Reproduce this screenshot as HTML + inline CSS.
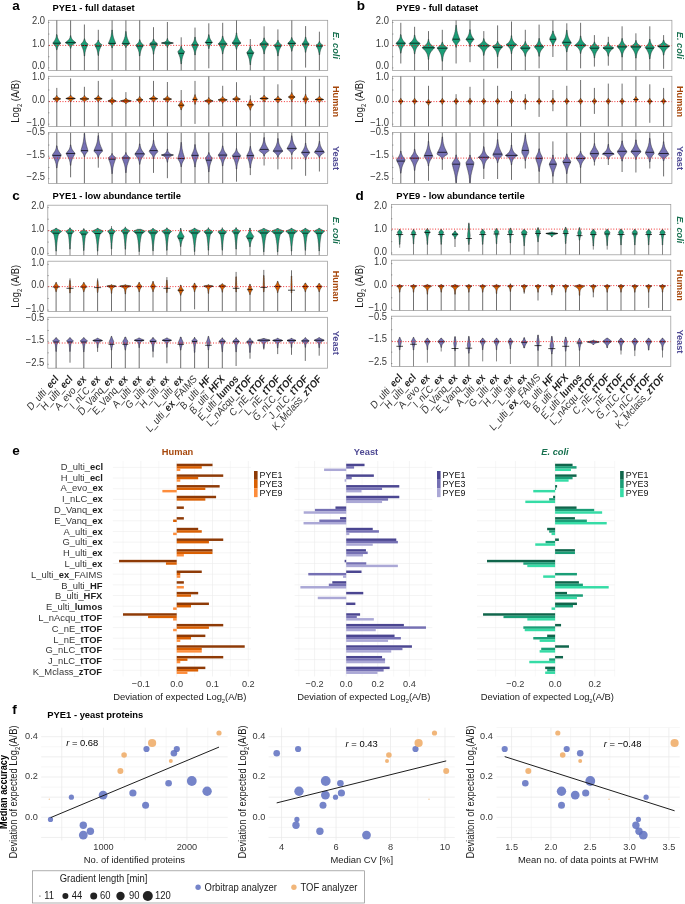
<!DOCTYPE html>
<html><head><meta charset="utf-8"><style>
html,body{margin:0;padding:0;background:#fff;}
svg text{font-family:"Liberation Sans", sans-serif;}
.md{stroke:#000;stroke-width:0.7;fill:none}
.tl{stroke:#222;stroke-width:0.65;fill:none}
.tl2{stroke:#555;stroke-width:0.7;fill:none}
</style></head><body>
<svg width="685" height="904" viewBox="0 0 685 904" style="display:block;will-change:transform">
<rect width="685" height="904" fill="#fff"/>
<rect x="48.5" y="20.3" width="279.20" height="50.20" fill="none" stroke="#9a9a9a" stroke-width="0.75"/>
<clipPath id="c140590430260032"><rect x="48.5" y="20.3" width="279.2" height="50.2"/></clipPath>
<g clip-path="url(#c140590430260032)" stroke="#2a2a2a" stroke-width="0.5" stroke-linejoin="round">
<path d="M56.8 20.3V70.5" class="tl"/>
<path d="M57.0 34.6L57.1 35.0L57.2 35.5L57.2 35.9L57.3 36.4L57.4 36.8L57.5 37.3L57.6 37.7L57.8 38.2L58.0 38.6L58.2 39.1L58.4 39.5L58.6 40.0L58.9 40.4L59.2 40.9L59.5 41.3L59.8 41.8L60.1 42.2L60.4 42.7L60.7 43.1L60.4 43.6L60.0 44.0L59.6 44.5L59.2 44.9L58.8 45.4L58.5 45.8L58.2 46.3L57.9 46.7L57.7 47.2L57.5 47.6L57.4 48.1L57.3 48.5L57.2 49.0L57.1 49.4L57.0 49.8L56.6 49.8L56.5 49.4L56.4 49.0L56.3 48.5L56.2 48.1L56.1 47.6L55.9 47.2L55.7 46.7L55.4 46.3L55.1 45.8L54.8 45.4L54.4 44.9L54.0 44.5L53.6 44.0L53.2 43.6L52.9 43.1L53.1 42.7L53.5 42.2L53.8 41.8L54.1 41.3L54.4 40.9L54.7 40.4L55.0 40.0L55.2 39.5L55.4 39.1L55.6 38.6L55.8 38.2L55.9 37.7L56.1 37.3L56.2 36.8L56.3 36.4L56.4 35.9L56.4 35.5L56.5 35.0L56.5 34.6Z" fill="#1B9E77"/>
<path d="M52.9 43.2H60.7" class="md"/>
<path d="M70.6 20.3V70.5" class="tl"/>
<path d="M70.9 35.7L70.9 36.1L71.0 36.6L71.1 37.0L71.2 37.5L71.4 37.9L71.6 38.4L71.9 38.8L72.2 39.3L72.5 39.7L72.9 40.2L73.4 40.6L73.9 41.1L74.5 41.5L75.1 42.0L75.6 42.4L75.6 42.9L74.9 43.3L74.2 43.8L73.5 44.2L72.9 44.7L72.4 45.1L72.0 45.6L71.7 46.0L71.4 46.5L71.2 46.9L71.1 47.4L70.9 47.8L70.9 48.3L70.9 48.3L70.4 48.3L70.4 48.3L70.3 47.8L70.2 47.4L70.0 46.9L69.8 46.5L69.6 46.0L69.2 45.6L68.8 45.1L68.3 44.7L67.7 44.2L67.0 43.8L66.3 43.3L65.6 42.9L65.6 42.4L66.2 42.0L66.7 41.5L67.3 41.1L67.8 40.6L68.3 40.2L68.7 39.7L69.1 39.3L69.4 38.8L69.6 38.4L69.8 37.9L70.0 37.5L70.1 37.0L70.2 36.6L70.3 36.1L70.4 35.7Z" fill="#1B9E77"/>
<path d="M65.4 42.7H75.8" class="md"/>
<path d="M84.4 24.5V70.5" class="tl"/>
<path d="M84.7 38.8L84.8 39.2L84.9 39.7L85.0 40.1L85.2 40.6L85.4 41.0L85.6 41.5L86.0 41.9L86.3 42.4L86.7 42.8L87.2 43.3L87.7 43.7L88.0 44.2L87.9 44.6L87.7 45.1L87.5 45.5L87.3 46.0L87.1 46.4L86.9 46.9L86.6 47.3L86.5 47.8L86.3 48.2L86.1 48.7L85.9 49.1L85.8 49.6L85.6 50.0L85.5 50.5L85.4 51.0L85.3 51.4L85.2 51.9L85.1 52.3L85.0 52.8L85.0 53.2L84.9 53.7L84.9 54.1L84.8 54.6L84.8 55.0L84.7 55.5L84.7 55.9L84.7 56.0L84.2 56.0L84.2 55.9L84.2 55.5L84.1 55.0L84.1 54.6L84.0 54.1L84.0 53.7L83.9 53.2L83.8 52.8L83.8 52.3L83.7 51.9L83.6 51.4L83.5 51.0L83.4 50.5L83.2 50.0L83.1 49.6L82.9 49.1L82.8 48.7L82.6 48.2L82.4 47.8L82.2 47.3L82.0 46.9L81.8 46.4L81.6 46.0L81.4 45.5L81.2 45.1L81.0 44.6L80.8 44.2L81.2 43.7L81.7 43.3L82.1 42.8L82.5 42.4L82.9 41.9L83.2 41.5L83.5 41.0L83.7 40.6L83.9 40.1L84.0 39.7L84.1 39.2L84.2 38.8Z" fill="#1B9E77"/>
<path d="M81.4 45.5H87.5" class="md"/>
<path d="M98.3 29.8V70.5" class="tl"/>
<path d="M98.5 40.1L98.6 40.5L98.7 41.0L98.9 41.4L99.1 41.9L99.4 42.3L99.7 42.8L100.2 43.2L100.7 43.7L101.3 44.1L101.8 44.6L101.7 45.0L101.5 45.5L101.3 45.9L101.1 46.4L100.8 46.8L100.6 47.3L100.4 47.7L100.2 48.2L100.0 48.6L99.8 49.1L99.6 49.5L99.5 50.0L99.4 50.5L99.2 50.9L99.1 51.4L99.0 51.8L98.9 52.3L98.8 52.7L98.8 53.2L98.7 53.6L98.6 54.1L98.6 54.5L98.5 55.0L98.5 55.4L98.5 55.5L98.0 55.5L98.0 55.4L98.0 55.0L97.9 54.5L97.9 54.1L97.8 53.6L97.8 53.2L97.7 52.7L97.6 52.3L97.5 51.8L97.4 51.4L97.3 50.9L97.2 50.5L97.0 50.0L96.9 49.5L96.7 49.1L96.5 48.6L96.3 48.2L96.1 47.7L95.9 47.3L95.7 46.8L95.4 46.4L95.2 45.9L95.0 45.5L94.8 45.0L94.7 44.6L95.2 44.1L95.8 43.7L96.3 43.2L96.8 42.8L97.1 42.3L97.4 41.9L97.7 41.4L97.8 41.0L97.9 40.5L98.0 40.1Z" fill="#1B9E77"/>
<path d="M95.2 46.0H101.3" class="md"/>
<path d="M112.1 20.3V70.5" class="tl"/>
<path d="M112.3 30.0L112.4 30.4L112.4 30.9L112.4 31.3L112.5 31.8L112.5 32.2L112.6 32.7L112.6 33.1L112.7 33.6L112.7 34.0L112.8 34.5L112.9 34.9L113.0 35.4L113.1 35.8L113.2 36.3L113.3 36.7L113.4 37.2L113.5 37.6L113.7 38.1L113.8 38.5L114.0 39.0L114.2 39.4L114.3 39.9L114.5 40.3L114.7 40.8L114.9 41.2L115.1 41.7L115.3 42.1L115.4 42.6L115.6 43.0L115.6 43.5L115.1 43.9L114.5 44.4L114.0 44.8L113.6 45.3L113.2 45.7L112.9 46.2L112.7 46.6L112.5 47.1L112.4 47.5L112.3 48.0L112.3 48.0L111.9 48.0L111.9 48.0L111.8 47.5L111.6 47.1L111.5 46.6L111.3 46.2L111.0 45.7L110.6 45.3L110.2 44.8L109.6 44.4L109.1 43.9L108.5 43.5L108.6 43.0L108.7 42.6L108.9 42.1L109.1 41.7L109.3 41.2L109.5 40.8L109.7 40.3L109.8 39.9L110.0 39.4L110.2 39.0L110.3 38.5L110.5 38.1L110.6 37.6L110.7 37.2L110.9 36.7L111.0 36.3L111.1 35.8L111.2 35.4L111.3 34.9L111.3 34.5L111.4 34.0L111.5 33.6L111.5 33.1L111.6 32.7L111.7 32.2L111.7 31.8L111.7 31.3L111.8 30.9L111.8 30.4L111.8 30.0Z" fill="#1B9E77"/>
<path d="M108.5 43.4H115.7" class="md"/>
<path d="M125.9 20.3V70.5" class="tl"/>
<path d="M126.1 31.5L126.2 31.9L126.2 32.4L126.3 32.8L126.3 33.3L126.4 33.7L126.4 34.2L126.5 34.6L126.6 35.1L126.6 35.5L126.7 36.0L126.8 36.4L126.9 36.9L127.1 37.3L127.2 37.8L127.3 38.2L127.5 38.7L127.7 39.1L127.9 39.6L128.0 40.0L128.2 40.5L128.5 40.9L128.7 41.4L128.9 41.8L129.1 42.3L129.3 42.7L129.5 43.2L129.7 43.6L129.2 44.1L128.5 44.5L127.8 45.0L127.3 45.4L126.9 45.9L126.6 46.3L126.3 46.8L126.2 47.2L126.1 47.5L125.7 47.5L125.6 47.2L125.5 46.8L125.2 46.3L124.9 45.9L124.5 45.4L124.0 45.0L123.4 44.5L122.6 44.1L122.1 43.6L122.3 43.2L122.5 42.7L122.7 42.3L122.9 41.8L123.1 41.4L123.3 40.9L123.6 40.5L123.8 40.0L124.0 39.6L124.1 39.1L124.3 38.7L124.5 38.2L124.6 37.8L124.7 37.3L124.9 36.9L125.0 36.4L125.1 36.0L125.2 35.5L125.2 35.1L125.3 34.6L125.4 34.2L125.4 33.7L125.5 33.3L125.5 32.8L125.6 32.4L125.6 31.9L125.7 31.5Z" fill="#1B9E77"/>
<path d="M122.1 43.7H129.7" class="md"/>
<path d="M139.7 20.3V70.5" class="tl"/>
<path d="M140.0 39.7L140.0 40.1L140.2 40.6L140.3 41.0L140.5 41.5L140.7 41.9L141.0 42.4L141.3 42.8L141.7 43.3L142.1 43.7L142.6 44.2L143.1 44.6L143.5 45.1L143.4 45.5L143.1 46.0L142.9 46.4L142.6 46.9L142.4 47.3L142.1 47.8L141.9 48.2L141.7 48.7L141.5 49.1L141.3 49.6L141.1 50.0L141.0 50.5L140.8 50.9L140.7 51.4L140.6 51.9L140.5 52.3L140.4 52.8L140.3 53.2L140.2 53.7L140.2 54.1L140.1 54.6L140.0 55.0L140.0 55.5L140.0 55.9L140.0 55.9L139.5 55.9L139.5 55.9L139.4 55.5L139.4 55.0L139.3 54.6L139.3 54.1L139.2 53.7L139.2 53.2L139.1 52.8L139.0 52.3L138.9 51.9L138.8 51.4L138.6 50.9L138.5 50.5L138.3 50.0L138.2 49.6L138.0 49.1L137.8 48.7L137.5 48.2L137.3 47.8L137.1 47.3L136.8 46.9L136.6 46.4L136.3 46.0L136.1 45.5L135.9 45.1L136.3 44.6L136.8 44.2L137.3 43.7L137.8 43.3L138.2 42.8L138.5 42.4L138.8 41.9L139.0 41.5L139.2 41.0L139.3 40.6L139.4 40.1L139.5 39.7Z" fill="#1B9E77"/>
<path d="M136.3 46.0H143.1" class="md"/>
<path d="M153.5 27.2V70.5" class="tl"/>
<path d="M153.8 39.0L153.9 39.4L154.0 39.9L154.1 40.3L154.4 40.8L154.7 41.2L155.0 41.7L155.5 42.1L156.0 42.6L156.6 43.0L157.2 43.5L157.4 43.9L157.2 44.4L156.9 44.8L156.7 45.3L156.4 45.7L156.1 46.2L155.9 46.6L155.6 47.1L155.4 47.5L155.2 48.0L155.0 48.4L154.8 48.9L154.7 49.3L154.5 49.8L154.4 50.2L154.3 50.7L154.2 51.2L154.1 51.6L154.0 52.1L154.0 52.5L153.9 53.0L153.9 53.4L153.8 53.9L153.8 54.2L153.3 54.2L153.3 53.9L153.2 53.4L153.2 53.0L153.1 52.5L153.1 52.1L153.0 51.6L152.9 51.2L152.8 50.7L152.7 50.2L152.6 49.8L152.4 49.3L152.3 48.9L152.1 48.4L151.9 48.0L151.7 47.5L151.5 47.1L151.2 46.6L151.0 46.2L150.7 45.7L150.4 45.3L150.2 44.8L149.9 44.4L149.7 43.9L149.9 43.5L150.5 43.0L151.1 42.6L151.6 42.1L152.1 41.7L152.4 41.2L152.7 40.8L152.9 40.3L153.1 39.9L153.2 39.4L153.3 39.0Z" fill="#1B9E77"/>
<path d="M149.8 44.1H157.3" class="md"/>
<path d="M167.4 22.0V70.5" class="tl"/>
<path d="M167.6 38.6L167.7 39.0L167.8 39.5L167.9 39.9L168.2 40.4L168.5 40.8L168.9 41.3L169.5 41.7L170.4 42.2L171.8 42.6L172.9 43.1L171.1 43.5L170.0 44.0L169.2 44.4L168.7 44.9L168.3 45.3L168.1 45.8L167.9 46.2L167.7 46.7L167.6 47.1L167.6 47.4L167.1 47.4L167.1 47.1L167.0 46.7L166.9 46.2L166.7 45.8L166.4 45.3L166.0 44.9L165.5 44.4L164.8 44.0L163.6 43.5L161.8 43.1L162.9 42.6L164.3 42.2L165.2 41.7L165.8 41.3L166.3 40.8L166.6 40.4L166.8 39.9L166.9 39.5L167.1 39.0L167.1 38.6Z" fill="#1B9E77"/>
<path d="M161.2 43.0H173.6" class="md"/>
<path d="M181.2 37.3V70.5" class="tl"/>
<path d="M181.4 46.3L181.5 46.7L181.6 47.2L181.7 47.6L181.9 48.1L182.1 48.5L182.4 49.0L182.7 49.4L183.0 49.9L183.4 50.3L183.8 50.8L184.3 51.2L184.6 51.7L184.5 52.1L184.3 52.6L184.1 53.0L183.9 53.5L183.7 53.9L183.5 54.4L183.4 54.8L183.2 55.3L183.0 55.7L182.8 56.2L182.7 56.6L182.6 57.1L182.4 57.5L182.3 58.0L182.2 58.5L182.1 58.9L182.0 59.4L181.9 59.8L181.8 60.3L181.8 60.7L181.7 61.2L181.6 61.6L181.6 62.1L181.6 62.5L181.5 63.0L181.5 63.4L181.4 63.9L181.4 63.9L180.9 63.9L180.9 63.9L180.9 63.4L180.9 63.0L180.8 62.5L180.8 62.1L180.7 61.6L180.7 61.2L180.6 60.7L180.5 60.3L180.5 59.8L180.4 59.4L180.3 58.9L180.2 58.5L180.1 58.0L180.0 57.5L179.8 57.1L179.7 56.6L179.5 56.2L179.4 55.7L179.2 55.3L179.0 54.8L178.8 54.4L178.6 53.9L178.5 53.5L178.3 53.0L178.1 52.6L177.9 52.1L177.8 51.7L178.1 51.2L178.6 50.8L179.0 50.3L179.4 49.9L179.7 49.4L180.0 49.0L180.3 48.5L180.5 48.1L180.6 47.6L180.8 47.2L180.9 46.7L180.9 46.3Z" fill="#1B9E77"/>
<path d="M178.4 53.3H184.0" class="md"/>
<path d="M195.0 27.6V70.5" class="tl"/>
<path d="M195.3 37.2L195.3 37.6L195.4 38.1L195.4 38.5L195.5 39.0L195.6 39.4L195.7 39.9L195.9 40.3L196.0 40.8L196.2 41.2L196.4 41.7L196.7 42.1L196.9 42.6L197.2 43.0L197.5 43.5L197.8 43.9L198.1 44.4L198.4 44.8L198.3 45.3L198.1 45.7L197.9 46.2L197.6 46.6L197.4 47.1L197.2 47.5L197.0 48.0L196.7 48.4L196.6 48.9L196.4 49.3L196.2 49.8L196.1 50.2L195.9 50.7L195.8 51.1L195.7 51.6L195.6 52.0L195.6 52.5L195.5 52.9L195.4 53.4L195.4 53.8L195.3 54.3L195.3 54.8L195.2 55.0L194.8 55.0L194.8 54.8L194.7 54.3L194.7 53.8L194.6 53.4L194.5 52.9L194.5 52.5L194.4 52.0L194.3 51.6L194.2 51.1L194.1 50.7L193.9 50.2L193.8 49.8L193.6 49.3L193.5 48.9L193.3 48.4L193.1 48.0L192.8 47.5L192.6 47.1L192.4 46.6L192.1 46.2L191.9 45.7L191.7 45.3L191.7 44.8L191.9 44.4L192.2 43.9L192.5 43.5L192.8 43.0L193.1 42.6L193.3 42.1L193.6 41.7L193.8 41.2L194.0 40.8L194.1 40.3L194.3 39.9L194.4 39.4L194.5 39.0L194.6 38.5L194.7 38.1L194.7 37.6L194.8 37.2Z" fill="#1B9E77"/>
<path d="M191.6 45.0H198.4" class="md"/>
<path d="M208.8 23.3V68.3" class="tl"/>
<path d="M209.1 34.7L209.1 35.1L209.2 35.6L209.3 36.0L209.4 36.5L209.5 36.9L209.6 37.4L209.7 37.8L209.9 38.3L210.1 38.7L210.3 39.2L210.5 39.6L210.8 40.1L211.1 40.5L211.4 41.0L211.7 41.4L212.0 41.9L212.3 42.3L212.1 42.8L211.7 43.2L211.3 43.7L210.9 44.1L210.6 44.6L210.3 45.0L210.0 45.5L209.8 45.9L209.6 46.4L209.4 46.8L209.3 47.3L209.2 47.7L209.1 48.2L209.1 48.5L208.6 48.5L208.6 48.2L208.5 47.7L208.4 47.3L208.3 46.8L208.1 46.4L207.9 45.9L207.7 45.5L207.4 45.0L207.1 44.6L206.7 44.1L206.3 43.7L205.9 43.2L205.5 42.8L205.4 42.3L205.7 41.9L206.0 41.4L206.3 41.0L206.6 40.5L206.9 40.1L207.1 39.6L207.4 39.2L207.6 38.7L207.8 38.3L207.9 37.8L208.1 37.4L208.2 36.9L208.3 36.5L208.4 36.0L208.5 35.6L208.5 35.1L208.6 34.7Z" fill="#1B9E77"/>
<path d="M205.3 42.5H212.3" class="md"/>
<path d="M222.7 22.8V70.5" class="tl"/>
<path d="M222.9 36.0L222.9 36.4L223.0 36.9L223.1 37.3L223.2 37.8L223.3 38.2L223.5 38.7L223.6 39.1L223.8 39.6L224.0 40.0L224.3 40.5L224.6 40.9L224.9 41.4L225.3 41.8L225.7 42.3L226.1 42.7L226.5 43.2L226.9 43.6L226.8 44.1L226.6 44.5L226.3 45.0L225.9 45.4L225.6 45.9L225.3 46.3L225.1 46.8L224.8 47.2L224.6 47.7L224.3 48.1L224.1 48.6L223.9 49.0L223.8 49.5L223.6 49.9L223.5 50.4L223.4 50.8L223.3 51.3L223.2 51.7L223.1 52.2L223.1 52.6L223.0 53.1L222.9 53.5L222.9 54.0L222.9 54.0L222.4 54.0L222.4 54.0L222.4 53.5L222.3 53.1L222.3 52.6L222.2 52.2L222.1 51.7L222.0 51.3L221.9 50.8L221.8 50.4L221.7 49.9L221.5 49.5L221.4 49.0L221.2 48.6L221.0 48.1L220.8 47.7L220.5 47.2L220.2 46.8L220.0 46.3L219.7 45.9L219.4 45.4L219.1 45.0L218.7 44.5L218.5 44.1L218.4 43.6L218.8 43.2L219.2 42.7L219.6 42.3L220.0 41.8L220.4 41.4L220.7 40.9L221.0 40.5L221.3 40.0L221.5 39.6L221.7 39.1L221.9 38.7L222.0 38.2L222.1 37.8L222.2 37.3L222.3 36.9L222.4 36.4L222.4 36.0Z" fill="#1B9E77"/>
<path d="M218.4 44.0H226.9" class="md"/>
<path d="M236.5 20.3V70.5" class="tl"/>
<path d="M236.7 32.9L236.8 33.3L236.8 33.8L236.9 34.2L236.9 34.7L237.0 35.1L237.1 35.6L237.2 36.0L237.3 36.5L237.5 36.9L237.6 37.4L237.8 37.8L238.0 38.3L238.2 38.7L238.4 39.2L238.6 39.6L238.9 40.1L239.2 40.5L239.5 41.0L239.8 41.4L240.1 41.9L240.4 42.3L240.7 42.8L240.7 43.2L240.2 43.7L239.7 44.1L239.2 44.6L238.7 45.0L238.3 45.5L237.9 45.9L237.6 46.4L237.4 46.8L237.2 47.3L237.0 47.7L236.9 48.2L236.8 48.6L236.7 49.1L236.7 49.3L236.3 49.3L236.2 49.1L236.1 48.6L236.0 48.2L235.9 47.7L235.8 47.3L235.6 46.8L235.3 46.4L235.0 45.9L234.7 45.5L234.2 45.0L233.8 44.6L233.3 44.1L232.7 43.7L232.3 43.2L232.3 42.8L232.6 42.3L232.9 41.9L233.2 41.4L233.5 41.0L233.8 40.5L234.1 40.1L234.3 39.6L234.6 39.2L234.8 38.7L235.0 38.3L235.2 37.8L235.3 37.4L235.5 36.9L235.6 36.5L235.7 36.0L235.8 35.6L235.9 35.1L236.0 34.7L236.1 34.2L236.1 33.8L236.2 33.3L236.2 32.9Z" fill="#1B9E77"/>
<path d="M232.2 43.1H240.8" class="md"/>
<path d="M250.3 39.0V70.5" class="tl"/>
<path d="M250.5 46.2L250.6 46.6L250.7 47.1L250.8 47.5L250.9 48.0L251.1 48.4L251.2 48.9L251.4 49.3L251.7 49.8L252.0 50.2L252.3 50.7L252.7 51.1L253.0 51.6L253.4 52.0L253.8 52.5L253.7 52.9L253.5 53.4L253.3 53.8L253.1 54.3L252.9 54.7L252.7 55.2L252.6 55.6L252.4 56.1L252.2 56.5L252.0 57.0L251.9 57.4L251.7 57.9L251.6 58.3L251.5 58.8L251.3 59.2L251.2 59.7L251.1 60.1L251.1 60.6L251.0 61.1L250.9 61.5L250.8 62.0L250.8 62.4L250.7 62.9L250.7 63.3L250.6 63.8L250.6 64.2L250.6 64.7L250.5 64.8L250.1 64.8L250.0 64.7L250.0 64.2L250.0 63.8L249.9 63.3L249.9 62.9L249.8 62.4L249.8 62.0L249.7 61.5L249.6 61.1L249.5 60.6L249.5 60.1L249.4 59.7L249.3 59.2L249.1 58.8L249.0 58.3L248.9 57.9L248.7 57.4L248.6 57.0L248.4 56.5L248.2 56.1L248.0 55.6L247.8 55.2L247.6 54.7L247.4 54.3L247.2 53.8L247.1 53.4L246.9 52.9L246.8 52.5L247.2 52.0L247.5 51.6L247.9 51.1L248.3 50.7L248.6 50.2L248.9 49.8L249.2 49.3L249.4 48.9L249.5 48.4L249.7 48.0L249.8 47.5L249.9 47.1L250.0 46.6L250.1 46.2Z" fill="#1B9E77"/>
<path d="M247.0 53.2H253.6" class="md"/>
<path d="M264.1 26.3V70.5" class="tl"/>
<path d="M264.3 37.9L264.4 38.3L264.5 38.8L264.6 39.2L264.8 39.7L264.9 40.1L265.2 40.6L265.4 41.0L265.8 41.5L266.2 41.9L266.6 42.4L267.1 42.8L267.6 43.3L268.1 43.7L268.4 44.2L268.1 44.6L267.8 45.1L267.5 45.5L267.2 46.0L266.9 46.4L266.6 46.9L266.3 47.3L266.0 47.8L265.8 48.2L265.6 48.7L265.4 49.1L265.2 49.6L265.1 50.0L264.9 50.5L264.8 50.9L264.7 51.4L264.6 51.9L264.6 52.3L264.5 52.8L264.4 53.2L264.4 53.7L264.4 53.9L263.9 53.9L263.9 53.7L263.8 53.2L263.7 52.8L263.7 52.3L263.6 51.9L263.5 51.4L263.4 50.9L263.3 50.5L263.2 50.0L263.0 49.6L262.8 49.1L262.7 48.7L262.4 48.2L262.2 47.8L262.0 47.3L261.7 46.9L261.4 46.4L261.1 46.0L260.7 45.5L260.4 45.1L260.1 44.6L259.9 44.2L260.1 43.7L260.6 43.3L261.1 42.8L261.6 42.4L262.1 41.9L262.5 41.5L262.8 41.0L263.1 40.6L263.3 40.1L263.5 39.7L263.6 39.2L263.7 38.8L263.8 38.3L263.9 37.9Z" fill="#1B9E77"/>
<path d="M259.8 44.1H268.4" class="md"/>
<path d="M277.9 29.4V70.5" class="tl"/>
<path d="M278.2 40.3L278.3 40.7L278.4 41.2L278.5 41.6L278.8 42.1L279.0 42.5L279.4 43.0L279.8 43.4L280.3 43.9L280.9 44.3L281.5 44.8L281.7 45.2L281.5 45.7L281.3 46.1L281.0 46.6L280.8 47.0L280.5 47.5L280.3 47.9L280.0 48.4L279.8 48.8L279.6 49.3L279.5 49.7L279.3 50.2L279.1 50.6L279.0 51.1L278.9 51.6L278.8 52.0L278.7 52.5L278.6 52.9L278.5 53.4L278.4 53.8L278.4 54.3L278.3 54.7L278.3 55.2L278.2 55.6L278.2 55.9L277.7 55.9L277.7 55.6L277.6 55.2L277.6 54.7L277.5 54.3L277.5 53.8L277.4 53.4L277.3 52.9L277.2 52.5L277.1 52.0L277.0 51.6L276.9 51.1L276.8 50.6L276.6 50.2L276.4 49.7L276.2 49.3L276.0 48.8L275.8 48.4L275.6 47.9L275.4 47.5L275.1 47.0L274.9 46.6L274.6 46.1L274.4 45.7L274.2 45.2L274.4 44.8L275.0 44.3L275.6 43.9L276.1 43.4L276.5 43.0L276.8 42.5L277.1 42.1L277.3 41.6L277.5 41.2L277.6 40.7L277.7 40.3Z" fill="#1B9E77"/>
<path d="M274.5 46.0H281.3" class="md"/>
<path d="M291.8 20.3V70.5" class="tl"/>
<path d="M292.0 37.6L292.1 38.0L292.2 38.5L292.3 38.9L292.5 39.4L292.7 39.8L293.0 40.3L293.3 40.7L293.7 41.2L294.1 41.6L294.6 42.1L295.1 42.5L295.6 43.0L295.6 43.4L295.3 43.9L295.0 44.3L294.6 44.8L294.2 45.2L293.9 45.7L293.6 46.1L293.3 46.6L293.1 47.0L292.9 47.5L292.7 47.9L292.6 48.4L292.4 48.8L292.3 49.3L292.2 49.8L292.1 50.2L292.1 50.7L292.0 51.1L292.0 51.2L291.5 51.2L291.5 51.1L291.5 50.7L291.4 50.2L291.3 49.8L291.2 49.3L291.1 48.8L291.0 48.4L290.8 47.9L290.6 47.5L290.4 47.0L290.2 46.6L289.9 46.1L289.6 45.7L289.3 45.2L288.9 44.8L288.6 44.3L288.2 43.9L287.9 43.4L287.9 43.0L288.4 42.5L288.9 42.1L289.4 41.6L289.8 41.2L290.2 40.7L290.5 40.3L290.8 39.8L291.0 39.4L291.2 38.9L291.3 38.5L291.4 38.0L291.5 37.6Z" fill="#1B9E77"/>
<path d="M287.9 43.4H295.7" class="md"/>
<path d="M305.6 26.1V67.6" class="tl"/>
<path d="M305.8 37.1L305.9 37.5L306.0 38.0L306.1 38.4L306.2 38.9L306.3 39.3L306.4 39.8L306.6 40.2L306.8 40.7L307.1 41.1L307.3 41.6L307.6 42.0L308.0 42.5L308.3 42.9L308.7 43.4L309.0 43.8L309.0 44.3L308.8 44.7L308.5 45.2L308.2 45.6L307.9 46.1L307.6 46.5L307.3 47.0L307.1 47.4L306.9 47.9L306.7 48.3L306.6 48.8L306.4 49.2L306.3 49.7L306.2 50.1L306.1 50.6L306.0 51.0L305.9 51.5L305.9 51.9L305.8 52.3L305.3 52.3L305.3 51.9L305.2 51.5L305.2 51.0L305.1 50.6L305.0 50.1L304.9 49.7L304.8 49.2L304.6 48.8L304.5 48.3L304.3 47.9L304.1 47.4L303.8 47.0L303.6 46.5L303.3 46.1L303.0 45.6L302.7 45.2L302.4 44.7L302.2 44.3L302.2 43.8L302.5 43.4L302.9 42.9L303.2 42.5L303.5 42.0L303.8 41.6L304.1 41.1L304.3 40.7L304.5 40.2L304.7 39.8L304.9 39.3L305.0 38.9L305.1 38.4L305.2 38.0L305.3 37.5L305.3 37.1Z" fill="#1B9E77"/>
<path d="M302.1 44.1H309.1" class="md"/>
<path d="M319.4 31.7V70.5" class="tl"/>
<path d="M319.6 41.5L319.8 41.9L319.9 42.4L320.2 42.8L320.5 43.3L320.9 43.7L321.4 44.2L322.1 44.6L322.7 45.1L322.8 45.5L322.6 46.0L322.3 46.4L322.1 46.9L321.8 47.3L321.6 47.8L321.3 48.2L321.1 48.7L320.9 49.1L320.7 49.6L320.6 50.0L320.4 50.5L320.3 51.0L320.2 51.4L320.1 51.9L320.0 52.3L319.9 52.8L319.8 53.2L319.8 53.7L319.7 54.1L319.7 54.6L319.7 54.7L319.2 54.7L319.1 54.6L319.1 54.1L319.1 53.7L319.0 53.2L318.9 52.8L318.8 52.3L318.7 51.9L318.6 51.4L318.5 51.0L318.4 50.5L318.2 50.0L318.1 49.6L317.9 49.1L317.7 48.7L317.5 48.2L317.2 47.8L317.0 47.3L316.7 46.9L316.5 46.4L316.2 46.0L316.0 45.5L316.1 45.1L316.7 44.6L317.4 44.2L317.9 43.7L318.3 43.3L318.6 42.8L318.9 42.4L319.1 41.9L319.2 41.5Z" fill="#1B9E77"/>
<path d="M316.2 46.0H322.6" class="md"/>
</g>
<line x1="49.0" y1="45.4" x2="327.2" y2="45.4" stroke="#f01818" stroke-width="0.95" stroke-dasharray="0.95 1.75"/>
<text transform="translate(45.00,24.00) scale(1,1.09)" text-anchor="end" fill="#383838" style="font-size:9.4px;" >2.0</text>
<text transform="translate(45.00,47.10) scale(1,1.09)" text-anchor="end" fill="#383838" style="font-size:9.4px;" >1.0</text>
<text transform="translate(45.00,69.40) scale(1,1.09)" text-anchor="end" fill="#383838" style="font-size:9.4px;" >0.0</text>
<line x1="48.3" y1="22.50" x2="49.4" y2="22.50" stroke="#555" stroke-width="0.6"/>
<line x1="48.3" y1="34.05" x2="49.4" y2="34.05" stroke="#555" stroke-width="0.6"/>
<line x1="48.3" y1="45.60" x2="49.4" y2="45.60" stroke="#555" stroke-width="0.6"/>
<line x1="48.3" y1="56.75" x2="49.4" y2="56.75" stroke="#555" stroke-width="0.6"/>
<line x1="48.3" y1="67.90" x2="49.4" y2="67.90" stroke="#555" stroke-width="0.6"/>
<text transform="translate(333.20,45.40) rotate(90) scale(1,1.06)" text-anchor="middle" fill="#17704F" style="font-size:9.2px;font-weight:bold;font-style:italic;">E. coli</text>
<rect x="48.5" y="76.3" width="279.20" height="50.30" fill="none" stroke="#9a9a9a" stroke-width="0.75"/>
<clipPath id="c140590430260160"><rect x="48.5" y="76.3" width="279.2" height="50.3"/></clipPath>
<g clip-path="url(#c140590430260160)" stroke="#2a2a2a" stroke-width="0.5" stroke-linejoin="round">
<path d="M56.8 87.9V126.6" class="tl"/>
<path d="M57.0 95.5L57.1 95.9L57.3 96.4L57.7 96.8L58.1 97.3L58.7 97.7L59.5 98.2L60.3 98.6L60.4 99.1L59.6 99.5L58.8 100.0L58.2 100.4L57.7 100.9L57.4 101.3L57.2 101.8L57.0 102.2L57.0 102.3L56.6 102.3L56.6 102.2L56.4 101.8L56.2 101.3L55.9 100.9L55.4 100.4L54.8 100.0L54.0 99.5L53.2 99.1L53.3 98.6L54.1 98.2L54.9 97.7L55.5 97.3L55.9 96.8L56.2 96.4L56.4 95.9L56.6 95.5Z" fill="#D95F02"/>
<path d="M52.9 98.9H60.7" class="md"/>
<path d="M70.6 78.4V126.6" class="tl"/>
<path d="M70.8 95.1L71.0 95.5L71.2 96.0L71.5 96.4L72.1 96.9L72.8 97.3L73.8 97.8L74.9 98.2L75.0 98.7L73.9 99.1L72.9 99.6L72.2 100.0L71.6 100.5L71.2 100.9L71.0 101.4L70.8 101.8L70.8 101.9L70.4 101.9L70.4 101.8L70.2 101.4L70.0 100.9L69.6 100.5L69.1 100.0L68.3 99.6L67.3 99.1L66.2 98.7L66.3 98.2L67.4 97.8L68.4 97.3L69.2 96.9L69.7 96.4L70.0 96.0L70.3 95.5L70.4 95.1Z" fill="#D95F02"/>
<path d="M65.8 98.5H75.4" class="md"/>
<path d="M84.4 86.8V126.6" class="tl"/>
<path d="M84.6 95.5L84.8 95.9L85.0 96.4L85.3 96.8L85.9 97.3L86.6 97.7L87.5 98.2L88.5 98.6L88.6 99.1L87.6 99.5L86.6 100.0L85.9 100.4L85.4 100.9L85.0 101.3L84.8 101.8L84.7 102.2L84.6 102.3L84.2 102.3L84.2 102.2L84.1 101.8L83.8 101.3L83.5 100.9L83.0 100.4L82.2 100.0L81.3 99.5L80.3 99.1L80.4 98.6L81.4 98.2L82.3 97.7L83.0 97.3L83.5 96.8L83.9 96.4L84.1 95.9L84.2 95.5Z" fill="#D95F02"/>
<path d="M79.9 98.9H88.9" class="md"/>
<path d="M98.3 80.9V126.6" class="tl"/>
<path d="M98.5 95.3L98.6 95.7L98.8 96.2L99.1 96.6L99.6 97.1L100.2 97.5L100.9 98.0L101.8 98.4L101.9 98.9L101.0 99.3L100.3 99.8L99.6 100.2L99.2 100.7L98.8 101.1L98.6 101.6L98.5 102.0L98.5 102.1L98.0 102.1L98.0 102.0L97.9 101.6L97.7 101.1L97.4 100.7L96.9 100.2L96.3 99.8L95.5 99.3L94.6 98.9L94.7 98.4L95.6 98.0L96.3 97.5L97.0 97.1L97.4 96.6L97.7 96.2L97.9 95.7L98.0 95.3Z" fill="#D95F02"/>
<path d="M94.4 98.7H102.2" class="md"/>
<path d="M112.1 79.4V126.6" class="tl"/>
<path d="M112.3 97.6L112.4 98.0L112.6 98.5L113.0 98.9L113.4 99.4L114.1 99.8L114.9 100.3L115.9 100.7L116.0 101.2L115.0 101.6L114.2 102.1L113.5 102.5L113.0 103.0L112.7 103.4L112.4 103.9L112.3 104.3L112.3 104.4L111.9 104.4L111.9 104.3L111.7 103.9L111.5 103.4L111.1 103.0L110.7 102.5L110.0 102.1L109.1 101.6L108.2 101.2L108.3 100.7L109.2 100.3L110.1 99.8L110.7 99.4L111.2 98.9L111.5 98.5L111.7 98.0L111.9 97.6Z" fill="#D95F02"/>
<path d="M107.9 101.0H116.3" class="md"/>
<path d="M125.9 92.1V126.6" class="tl"/>
<path d="M126.1 98.2L126.3 98.6L126.7 99.1L127.3 99.5L128.3 100.0L129.7 100.4L131.2 100.9L130.4 101.3L128.9 101.8L127.7 102.2L127.0 102.7L126.5 103.1L126.2 103.6L126.1 103.8L125.7 103.8L125.6 103.6L125.3 103.1L124.8 102.7L124.1 102.2L122.9 101.8L121.5 101.3L120.6 100.9L122.1 100.4L123.5 100.0L124.5 99.5L125.1 99.1L125.5 98.6L125.7 98.2Z" fill="#D95F02"/>
<path d="M120.4 101.0H131.4" class="md"/>
<path d="M139.7 76.3V126.6" class="tl"/>
<path d="M139.9 96.5L140.1 96.9L140.3 97.4L140.5 97.8L140.9 98.3L141.4 98.7L142.1 99.2L142.7 99.6L142.8 100.1L142.1 100.5L141.5 101.0L141.0 101.4L140.6 101.9L140.3 102.3L140.1 102.8L140.0 103.2L139.9 103.3L139.5 103.3L139.5 103.2L139.4 102.8L139.2 102.3L138.9 101.9L138.5 101.4L138.0 101.0L137.3 100.5L136.6 100.1L136.7 99.6L137.4 99.2L138.0 98.7L138.5 98.3L138.9 97.8L139.2 97.4L139.4 96.9L139.5 96.5Z" fill="#D95F02"/>
<path d="M136.4 99.9H143.0" class="md"/>
<path d="M153.5 80.9V126.6" class="tl"/>
<path d="M153.8 95.3L153.9 95.7L154.1 96.2L154.4 96.6L154.9 97.1L155.6 97.5L156.4 98.0L157.3 98.4L157.4 98.9L156.5 99.3L155.6 99.8L155.0 100.2L154.5 100.7L154.1 101.1L153.9 101.6L153.8 102.0L153.8 102.1L153.3 102.1L153.3 102.0L153.2 101.6L153.0 101.1L152.6 100.7L152.1 100.2L151.4 99.8L150.6 99.3L149.7 98.9L149.7 98.4L150.7 98.0L151.5 97.5L152.2 97.1L152.7 96.6L153.0 96.2L153.2 95.7L153.3 95.3Z" fill="#D95F02"/>
<path d="M149.3 98.7H157.7" class="md"/>
<path d="M167.4 82.0V126.6" class="tl"/>
<path d="M167.6 95.7L167.7 96.1L167.9 96.6L168.3 97.0L168.7 97.5L169.4 97.9L170.2 98.4L171.2 98.8L171.3 99.3L170.3 99.7L169.5 100.2L168.8 100.6L168.3 101.1L168.0 101.5L167.7 102.0L167.6 102.4L167.6 102.5L167.2 102.5L167.1 102.4L167.0 102.0L166.8 101.5L166.4 101.1L165.9 100.6L165.3 100.2L164.4 99.7L163.5 99.3L163.6 98.8L164.5 98.4L165.4 97.9L166.0 97.5L166.5 97.0L166.8 96.6L167.0 96.1L167.2 95.7Z" fill="#D95F02"/>
<path d="M163.2 99.1H171.6" class="md"/>
<path d="M181.2 90.0V126.6" class="tl"/>
<path d="M181.4 100.4L181.5 100.8L181.6 101.3L181.8 101.7L181.9 102.2L182.1 102.6L182.4 103.1L182.7 103.5L183.1 104.0L183.5 104.4L183.9 104.9L184.0 105.3L183.6 105.8L183.2 106.2L182.9 106.7L182.5 107.1L182.2 107.6L182.0 108.0L181.8 108.5L181.7 108.9L181.5 109.4L181.4 109.8L181.4 110.0L181.0 110.0L180.9 109.8L180.8 109.4L180.7 108.9L180.6 108.5L180.4 108.0L180.1 107.6L179.9 107.1L179.5 106.7L179.1 106.2L178.7 105.8L178.4 105.3L178.5 104.9L178.9 104.4L179.3 104.0L179.6 103.5L180.0 103.1L180.2 102.6L180.4 102.2L180.6 101.7L180.8 101.3L180.9 100.8L181.0 100.4Z" fill="#D95F02"/>
<path d="M178.3 105.2H184.1" class="md"/>
<path d="M195.0 80.9V123.9" class="tl"/>
<path d="M195.3 94.7L195.3 95.1L195.4 95.6L195.5 96.0L195.7 96.5L195.9 96.9L196.1 97.4L196.3 97.8L196.6 98.3L196.9 98.7L197.2 99.2L197.3 99.6L197.0 100.1L196.7 100.5L196.4 101.0L196.2 101.4L195.9 101.9L195.7 102.3L195.6 102.8L195.5 103.2L195.4 103.7L195.3 104.1L195.3 104.3L194.8 104.3L194.7 104.1L194.7 103.7L194.6 103.2L194.4 102.8L194.3 102.3L194.1 101.9L193.9 101.4L193.6 101.0L193.3 100.5L193.0 100.1L192.8 99.6L192.8 99.2L193.1 98.7L193.4 98.3L193.7 97.8L193.9 97.4L194.2 96.9L194.3 96.5L194.5 96.0L194.6 95.6L194.7 95.1L194.8 94.7Z" fill="#D95F02"/>
<path d="M192.7 99.5H197.3" class="md"/>
<path d="M208.8 76.3V126.6" class="tl"/>
<path d="M209.0 97.6L209.2 98.0L209.4 98.5L209.7 98.9L210.2 99.4L210.9 99.8L211.7 100.3L212.7 100.7L212.8 101.2L211.9 101.6L211.0 102.1L210.3 102.5L209.8 103.0L209.4 103.4L209.2 103.9L209.1 104.3L209.0 104.4L208.6 104.4L208.6 104.3L208.5 103.9L208.2 103.4L207.9 103.0L207.4 102.5L206.7 102.1L205.8 101.6L204.8 101.2L204.9 100.7L205.9 100.3L206.8 99.8L207.5 99.4L207.9 98.9L208.3 98.5L208.5 98.0L208.6 97.6Z" fill="#D95F02"/>
<path d="M204.5 101.0H213.1" class="md"/>
<path d="M222.7 85.8V126.6" class="tl"/>
<path d="M222.9 96.5L223.0 96.9L223.2 97.4L223.6 97.8L224.1 98.3L224.8 98.7L225.7 99.2L226.8 99.6L226.9 100.1L225.9 100.5L224.9 101.0L224.2 101.4L223.6 101.9L223.3 102.3L223.0 102.8L222.9 103.2L222.9 103.3L222.4 103.3L222.4 103.2L222.3 102.8L222.1 102.3L221.7 101.9L221.2 101.4L220.4 101.0L219.5 100.5L218.4 100.1L218.5 99.6L219.6 99.2L220.5 98.7L221.2 98.3L221.7 97.8L222.1 97.4L222.3 96.9L222.4 96.5Z" fill="#D95F02"/>
<path d="M218.1 99.9H227.3" class="md"/>
<path d="M236.5 82.2V126.6" class="tl"/>
<path d="M236.7 95.7L236.8 96.1L237.0 96.6L237.3 97.0L237.8 97.5L238.4 97.9L239.2 98.4L240.0 98.8L240.1 99.3L239.3 99.7L238.5 100.2L237.8 100.6L237.4 101.1L237.1 101.5L236.8 102.0L236.7 102.4L236.7 102.5L236.3 102.5L236.3 102.4L236.1 102.0L235.9 101.5L235.6 101.1L235.1 100.6L234.5 100.2L233.7 99.7L232.9 99.3L232.9 98.8L233.8 98.4L234.6 97.9L235.2 97.5L235.6 97.0L235.9 96.6L236.1 96.1L236.3 95.7Z" fill="#D95F02"/>
<path d="M232.6 99.1H240.4" class="md"/>
<path d="M250.3 95.3V126.6" class="tl"/>
<path d="M250.5 99.4L250.6 99.8L250.7 100.3L250.8 100.7L251.0 101.2L251.2 101.6L251.4 102.1L251.7 102.5L252.0 103.0L252.4 103.4L252.8 103.9L253.2 104.3L253.5 104.8L253.2 105.2L252.8 105.7L252.4 106.1L252.0 106.6L251.7 107.0L251.4 107.5L251.2 107.9L251.0 108.4L250.8 108.8L250.7 109.3L250.6 109.7L250.5 110.2L250.5 110.2L250.1 110.2L250.1 110.2L250.0 109.7L249.9 109.3L249.7 108.8L249.6 108.4L249.4 107.9L249.2 107.5L248.9 107.0L248.6 106.6L248.2 106.1L247.8 105.7L247.4 105.2L247.1 104.8L247.4 104.3L247.8 103.9L248.2 103.4L248.6 103.0L248.9 102.5L249.2 102.1L249.4 101.6L249.6 101.2L249.7 100.7L249.9 100.3L250.0 99.8L250.1 99.4Z" fill="#D95F02"/>
<path d="M247.1 104.8H253.5" class="md"/>
<path d="M264.1 76.3V126.6" class="tl"/>
<path d="M264.3 95.1L264.5 95.5L264.7 96.0L265.0 96.4L265.5 96.9L266.1 97.3L267.0 97.8L267.9 98.2L268.0 98.7L267.1 99.1L266.2 99.6L265.5 100.0L265.1 100.5L264.7 100.9L264.5 101.4L264.3 101.8L264.3 101.9L263.9 101.9L263.9 101.8L263.8 101.4L263.5 100.9L263.2 100.5L262.7 100.0L262.0 99.6L261.2 99.1L260.2 98.7L260.3 98.2L261.3 97.8L262.1 97.3L262.8 96.9L263.2 96.4L263.6 96.0L263.8 95.5L263.9 95.1Z" fill="#D95F02"/>
<path d="M259.9 98.5H268.3" class="md"/>
<path d="M277.9 84.3V126.6" class="tl"/>
<path d="M278.2 96.1L278.3 96.5L278.5 97.0L278.8 97.4L279.2 97.9L279.8 98.3L280.6 98.8L281.4 99.2L281.5 99.7L280.7 100.1L279.9 100.6L279.3 101.0L278.8 101.5L278.5 101.9L278.3 102.4L278.2 102.8L278.2 102.9L277.7 102.9L277.7 102.8L277.6 102.4L277.4 101.9L277.0 101.5L276.6 101.0L276.0 100.6L275.2 100.1L274.4 99.7L274.5 99.2L275.3 98.8L276.1 98.3L276.7 97.9L277.1 97.4L277.4 97.0L277.6 96.5L277.7 96.1Z" fill="#D95F02"/>
<path d="M274.1 99.5H281.7" class="md"/>
<path d="M291.8 80.0V126.6" class="tl"/>
<path d="M292.0 92.6L292.1 93.0L292.2 93.5L292.4 93.9L292.6 94.4L292.9 94.8L293.3 95.3L293.7 95.7L294.2 96.2L294.7 96.6L295.0 97.1L294.5 97.5L294.0 98.0L293.5 98.4L293.1 98.9L292.7 99.3L292.5 99.8L292.3 100.2L292.1 100.7L292.0 101.1L292.0 101.4L291.5 101.4L291.5 101.1L291.4 100.7L291.2 100.2L291.0 99.8L290.8 99.3L290.4 98.9L290.0 98.4L289.5 98.0L289.0 97.5L288.5 97.1L288.8 96.6L289.3 96.2L289.8 95.7L290.3 95.3L290.6 94.8L290.9 94.4L291.2 93.9L291.3 93.5L291.5 93.0L291.5 92.6Z" fill="#D95F02"/>
<path d="M288.5 97.0H295.1" class="md"/>
<path d="M305.6 76.3V126.6" class="tl"/>
<path d="M305.8 94.3L305.9 94.7L306.0 95.2L306.1 95.6L306.3 96.1L306.5 96.5L306.8 97.0L307.1 97.4L307.4 97.9L307.8 98.3L308.2 98.8L308.3 99.2L308.0 99.7L307.6 100.1L307.2 100.6L306.9 101.0L306.6 101.5L306.4 101.9L306.2 102.4L306.1 102.8L305.9 103.3L305.8 103.7L305.8 103.9L305.3 103.9L305.3 103.7L305.2 103.3L305.1 102.8L305.0 102.4L304.8 101.9L304.6 101.5L304.3 101.0L304.0 100.6L303.6 100.1L303.2 99.7L302.9 99.2L303.0 98.8L303.3 98.3L303.7 97.9L304.1 97.4L304.4 97.0L304.6 96.5L304.9 96.1L305.0 95.6L305.2 95.2L305.3 94.7L305.3 94.3Z" fill="#D95F02"/>
<path d="M302.8 99.1H308.4" class="md"/>
<path d="M319.4 78.8V126.6" class="tl"/>
<path d="M319.6 96.1L319.8 96.5L320.0 97.0L320.3 97.4L320.8 97.9L321.4 98.3L322.3 98.8L323.2 99.2L323.3 99.7L322.4 100.1L321.5 100.6L320.8 101.0L320.3 101.5L320.0 101.9L319.8 102.4L319.6 102.8L319.6 102.9L319.2 102.9L319.2 102.8L319.0 102.4L318.8 101.9L318.5 101.5L318.0 101.0L317.3 100.6L316.4 100.1L315.5 99.7L315.6 99.2L316.5 98.8L317.4 98.3L318.0 97.9L318.5 97.4L318.8 97.0L319.1 96.5L319.2 96.1Z" fill="#D95F02"/>
<path d="M315.2 99.5H323.6" class="md"/>
</g>
<line x1="49.0" y1="101.6" x2="327.2" y2="101.6" stroke="#f01818" stroke-width="0.95" stroke-dasharray="0.95 1.75"/>
<text transform="translate(45.00,80.10) scale(1,1.09)" text-anchor="end" fill="#383838" style="font-size:9.4px;" >1.0</text>
<text transform="translate(45.00,102.90) scale(1,1.09)" text-anchor="end" fill="#383838" style="font-size:9.4px;" >0.0</text>
<text transform="translate(45.00,125.70) scale(1,1.09)" text-anchor="end" fill="#383838" style="font-size:9.4px;" >−1.0</text>
<line x1="48.3" y1="78.60" x2="49.4" y2="78.60" stroke="#555" stroke-width="0.6"/>
<line x1="48.3" y1="90.00" x2="49.4" y2="90.00" stroke="#555" stroke-width="0.6"/>
<line x1="48.3" y1="101.40" x2="49.4" y2="101.40" stroke="#555" stroke-width="0.6"/>
<line x1="48.3" y1="112.80" x2="49.4" y2="112.80" stroke="#555" stroke-width="0.6"/>
<line x1="48.3" y1="124.20" x2="49.4" y2="124.20" stroke="#555" stroke-width="0.6"/>
<text transform="translate(333.20,101.45) rotate(90) scale(1,1.06)" text-anchor="middle" fill="#A6470B" style="font-size:9.2px;font-weight:bold;">Human</text>
<rect x="48.5" y="132.6" width="279.20" height="50.80" fill="none" stroke="#9a9a9a" stroke-width="0.75"/>
<clipPath id="c140590430260224"><rect x="48.5" y="132.6" width="279.2" height="50.80000000000001"/></clipPath>
<g clip-path="url(#c140590430260224)" stroke="#2a2a2a" stroke-width="0.5" stroke-linejoin="round">
<path d="M56.8 132.6V183.4" class="tl"/>
<path d="M57.0 145.8L57.1 146.3L57.2 146.7L57.2 147.2L57.3 147.6L57.4 148.1L57.5 148.5L57.7 149.0L57.8 149.4L58.0 149.9L58.2 150.3L58.5 150.8L58.7 151.2L59.0 151.7L59.3 152.1L59.6 152.6L59.9 153.0L60.3 153.5L60.6 153.9L60.9 154.4L61.1 154.8L61.1 155.3L61.0 155.7L60.8 156.2L60.6 156.6L60.3 157.1L60.1 157.5L59.8 158.0L59.6 158.4L59.4 158.9L59.2 159.3L59.0 159.8L58.8 160.2L58.6 160.7L58.4 161.1L58.2 161.6L58.1 162.0L57.9 162.5L57.8 162.9L57.7 163.4L57.6 163.8L57.5 164.3L57.4 164.7L57.4 165.2L57.3 165.6L57.2 166.1L57.2 166.5L57.1 166.9L57.1 167.4L57.0 167.8L57.0 168.0L56.6 168.0L56.5 167.8L56.5 167.4L56.5 166.9L56.4 166.5L56.4 166.1L56.3 165.6L56.2 165.2L56.2 164.7L56.1 164.3L56.0 163.8L55.9 163.4L55.8 162.9L55.6 162.5L55.5 162.0L55.4 161.6L55.2 161.1L55.0 160.7L54.8 160.2L54.6 159.8L54.4 159.3L54.2 158.9L54.0 158.4L53.7 158.0L53.5 157.5L53.3 157.1L53.0 156.6L52.8 156.2L52.6 155.7L52.4 155.3L52.5 154.8L52.7 154.4L53.0 153.9L53.3 153.5L53.7 153.0L54.0 152.6L54.3 152.1L54.6 151.7L54.9 151.2L55.1 150.8L55.4 150.3L55.6 149.9L55.7 149.4L55.9 149.0L56.0 148.5L56.2 148.1L56.3 147.6L56.4 147.2L56.4 146.7L56.5 146.3L56.5 145.8Z" fill="#7570B3"/>
<path d="M52.5 155.4H61.1" class="md"/>
<path d="M70.6 132.6V177.3" class="tl"/>
<path d="M70.9 144.9L70.9 145.4L71.0 145.8L71.1 146.3L71.2 146.7L71.3 147.2L71.4 147.6L71.6 148.1L71.7 148.5L71.9 149.0L72.2 149.4L72.4 149.9L72.7 150.3L73.1 150.8L73.4 151.2L73.7 151.7L74.1 152.1L74.5 152.6L74.8 153.0L75.0 153.5L74.9 153.9L74.7 154.4L74.5 154.8L74.2 155.3L74.0 155.7L73.7 156.2L73.4 156.6L73.2 157.1L72.9 157.5L72.7 158.0L72.5 158.4L72.3 158.9L72.1 159.3L72.0 159.8L71.8 160.2L71.7 160.7L71.5 161.1L71.4 161.6L71.3 162.0L71.2 162.5L71.1 162.9L71.1 163.4L71.0 163.8L71.0 164.2L70.9 164.7L70.9 165.1L70.9 165.3L70.4 165.3L70.4 165.1L70.3 164.7L70.3 164.2L70.2 163.8L70.2 163.4L70.1 162.9L70.0 162.5L69.9 162.0L69.8 161.6L69.7 161.1L69.6 160.7L69.4 160.2L69.3 159.8L69.1 159.3L68.9 158.9L68.7 158.4L68.5 158.0L68.3 157.5L68.0 157.1L67.8 156.6L67.5 156.2L67.3 155.7L67.0 155.3L66.8 154.8L66.5 154.4L66.3 153.9L66.2 153.5L66.4 153.0L66.8 152.6L67.1 152.1L67.5 151.7L67.8 151.2L68.2 150.8L68.5 150.3L68.8 149.9L69.1 149.4L69.3 149.0L69.5 148.5L69.7 148.1L69.8 147.6L70.0 147.2L70.1 146.7L70.2 146.3L70.3 145.8L70.3 145.4L70.4 144.9Z" fill="#7570B3"/>
<path d="M66.2 153.5H75.0" class="md"/>
<path d="M84.4 132.6V183.4" class="tl"/>
<path d="M84.7 133.6L84.7 134.1L84.7 134.5L84.8 135.0L84.8 135.4L84.8 135.9L84.9 136.3L84.9 136.8L85.0 137.2L85.0 137.7L85.1 138.1L85.1 138.6L85.2 139.0L85.2 139.5L85.3 139.9L85.4 140.4L85.4 140.8L85.5 141.3L85.6 141.7L85.7 142.2L85.8 142.6L85.9 143.1L86.0 143.5L86.1 144.0L86.2 144.4L86.3 144.9L86.4 145.3L86.6 145.8L86.7 146.2L86.8 146.7L87.0 147.1L87.1 147.6L87.2 148.0L87.4 148.5L87.5 148.9L87.6 149.4L87.7 149.8L87.8 150.3L87.9 150.7L87.9 151.2L87.6 151.6L87.2 152.1L86.8 152.5L86.4 153.0L86.1 153.4L85.8 153.9L85.5 154.3L85.3 154.8L85.1 155.2L84.9 155.7L84.8 156.1L84.7 156.6L84.7 156.8L84.2 156.8L84.1 156.6L84.1 156.1L83.9 155.7L83.8 155.2L83.6 154.8L83.4 154.3L83.1 153.9L82.8 153.4L82.5 153.0L82.1 152.5L81.7 152.1L81.3 151.6L81.0 151.2L81.0 150.7L81.0 150.3L81.1 149.8L81.3 149.4L81.4 148.9L81.5 148.5L81.6 148.0L81.8 147.6L81.9 147.1L82.0 146.7L82.2 146.2L82.3 145.8L82.4 145.3L82.5 144.9L82.7 144.4L82.8 144.0L82.9 143.5L83.0 143.1L83.1 142.6L83.2 142.2L83.3 141.7L83.4 141.3L83.4 140.8L83.5 140.4L83.6 139.9L83.6 139.5L83.7 139.0L83.8 138.6L83.8 138.1L83.9 137.7L83.9 137.2L84.0 136.8L84.0 136.3L84.0 135.9L84.1 135.4L84.1 135.0L84.1 134.5L84.2 134.1L84.2 133.6Z" fill="#7570B3"/>
<path d="M81.0 150.6H87.9" class="md"/>
<path d="M98.3 132.6V167.7" class="tl"/>
<path d="M98.5 135.6L98.5 136.1L98.6 136.5L98.6 137.0L98.7 137.4L98.7 137.9L98.7 138.3L98.8 138.8L98.9 139.2L98.9 139.7L99.0 140.1L99.1 140.6L99.2 141.0L99.3 141.5L99.4 141.9L99.5 142.4L99.6 142.8L99.7 143.3L99.8 143.7L100.0 144.2L100.1 144.6L100.3 145.1L100.5 145.5L100.6 146.0L100.8 146.4L101.0 146.9L101.2 147.3L101.4 147.8L101.6 148.2L101.8 148.7L102.0 149.1L102.1 149.6L102.3 150.0L102.4 150.5L102.5 150.9L102.4 151.4L102.0 151.8L101.5 152.3L101.1 152.7L100.7 153.2L100.3 153.6L99.9 154.1L99.6 154.5L99.4 155.0L99.1 155.4L99.0 155.9L98.8 156.3L98.7 156.8L98.6 157.2L98.5 157.7L98.5 157.8L98.0 157.8L98.0 157.7L97.9 157.2L97.8 156.8L97.7 156.3L97.6 155.9L97.4 155.4L97.2 155.0L96.9 154.5L96.6 154.1L96.3 153.6L95.9 153.2L95.4 152.7L95.0 152.3L94.5 151.8L94.2 151.4L94.0 150.9L94.1 150.5L94.2 150.0L94.4 149.6L94.6 149.1L94.8 148.7L94.9 148.2L95.1 147.8L95.3 147.3L95.5 146.9L95.7 146.4L95.9 146.0L96.1 145.5L96.2 145.1L96.4 144.6L96.5 144.2L96.7 143.7L96.8 143.3L96.9 142.8L97.1 142.4L97.2 141.9L97.3 141.5L97.4 141.0L97.4 140.6L97.5 140.1L97.6 139.7L97.7 139.2L97.7 138.8L97.8 138.3L97.8 137.9L97.9 137.4L97.9 137.0L97.9 136.5L98.0 136.1L98.0 135.6Z" fill="#7570B3"/>
<path d="M94.1 150.3H102.4" class="md"/>
<path d="M112.1 132.6V183.4" class="tl"/>
<path d="M112.3 153.6L112.4 154.1L112.6 154.5L112.9 155.0L113.2 155.4L113.6 155.9L114.2 156.3L114.8 156.8L115.4 157.2L115.8 157.7L115.7 158.1L115.6 158.6L115.5 159.0L115.3 159.5L115.2 159.9L115.0 160.4L114.9 160.8L114.7 161.3L114.6 161.7L114.4 162.2L114.3 162.6L114.1 163.0L114.0 163.5L113.8 163.9L113.7 164.4L113.6 164.8L113.5 165.3L113.4 165.7L113.3 166.2L113.2 166.6L113.1 167.1L113.0 167.5L112.9 168.0L112.8 168.4L112.8 168.9L112.7 169.3L112.7 169.8L112.6 170.2L112.6 170.7L112.5 171.1L112.5 171.6L112.4 172.0L112.4 172.5L112.4 172.9L112.3 173.4L112.3 173.6L111.8 173.6L111.8 173.4L111.8 172.9L111.8 172.5L111.7 172.0L111.7 171.6L111.6 171.1L111.6 170.7L111.6 170.2L111.5 169.8L111.4 169.3L111.4 168.9L111.3 168.4L111.2 168.0L111.2 167.5L111.1 167.1L111.0 166.6L110.9 166.2L110.8 165.7L110.7 165.3L110.6 164.8L110.4 164.4L110.3 163.9L110.2 163.5L110.0 163.0L109.9 162.6L109.8 162.2L109.6 161.7L109.5 161.3L109.3 160.8L109.1 160.4L109.0 159.9L108.8 159.5L108.7 159.0L108.6 158.6L108.5 158.1L108.4 157.7L108.8 157.2L109.4 156.8L110.0 156.3L110.5 155.9L111.0 155.4L111.3 155.0L111.5 154.5L111.7 154.1L111.8 153.6Z" fill="#7570B3"/>
<path d="M108.8 159.2H115.4" class="md"/>
<path d="M125.9 132.6V183.4" class="tl"/>
<path d="M126.1 152.6L126.2 153.1L126.3 153.5L126.5 154.0L126.7 154.4L127.0 154.9L127.4 155.3L127.8 155.8L128.3 156.2L128.8 156.7L129.3 157.1L129.7 157.6L129.6 158.0L129.5 158.5L129.4 158.9L129.2 159.4L129.1 159.8L128.9 160.3L128.7 160.7L128.5 161.2L128.4 161.6L128.2 162.1L128.1 162.5L127.9 163.0L127.8 163.4L127.6 163.8L127.5 164.3L127.4 164.7L127.2 165.2L127.1 165.6L127.0 166.1L126.9 166.5L126.8 167.0L126.7 167.4L126.7 167.9L126.6 168.3L126.5 168.8L126.5 169.2L126.4 169.7L126.4 170.1L126.3 170.6L126.3 171.0L126.2 171.5L126.2 171.9L126.2 172.4L126.2 172.6L125.7 172.6L125.6 172.4L125.6 171.9L125.6 171.5L125.5 171.0L125.5 170.6L125.4 170.1L125.4 169.7L125.3 169.2L125.3 168.8L125.2 168.3L125.1 167.9L125.1 167.4L125.0 167.0L124.9 166.5L124.8 166.1L124.7 165.6L124.6 165.2L124.5 164.7L124.3 164.3L124.2 163.8L124.1 163.4L123.9 163.0L123.7 162.5L123.6 162.1L123.4 161.6L123.3 161.2L123.1 160.7L122.9 160.3L122.7 159.8L122.6 159.4L122.4 158.9L122.3 158.5L122.2 158.0L122.1 157.6L122.5 157.1L123.0 156.7L123.5 156.2L124.0 155.8L124.4 155.3L124.8 154.9L125.1 154.4L125.3 154.0L125.5 153.5L125.6 153.1L125.7 152.6Z" fill="#7570B3"/>
<path d="M122.2 158.0H129.6" class="md"/>
<path d="M139.7 132.6V183.4" class="tl"/>
<path d="M140.0 143.9L140.0 144.4L140.1 144.8L140.1 145.3L140.2 145.7L140.3 146.2L140.4 146.6L140.5 147.1L140.7 147.5L140.8 148.0L141.0 148.4L141.2 148.9L141.4 149.3L141.7 149.8L141.9 150.2L142.2 150.7L142.5 151.1L142.8 151.6L143.2 152.0L143.5 152.5L143.9 152.9L144.2 153.4L144.4 153.8L144.5 154.3L144.3 154.7L144.0 155.2L143.6 155.6L143.3 156.1L143.0 156.5L142.6 157.0L142.3 157.4L142.0 157.9L141.7 158.3L141.5 158.8L141.3 159.2L141.1 159.7L140.9 160.1L140.7 160.6L140.6 161.0L140.4 161.5L140.3 161.9L140.2 162.4L140.2 162.8L140.1 163.3L140.0 163.7L140.0 164.2L140.0 164.3L139.5 164.3L139.5 164.2L139.4 163.7L139.4 163.3L139.3 162.8L139.2 162.4L139.1 161.9L139.0 161.5L138.9 161.0L138.7 160.6L138.6 160.1L138.4 159.7L138.2 159.2L138.0 158.8L137.7 158.3L137.4 157.9L137.1 157.4L136.8 157.0L136.5 156.5L136.2 156.1L135.8 155.6L135.5 155.2L135.2 154.7L135.0 154.3L135.0 153.8L135.3 153.4L135.6 152.9L135.9 152.5L136.3 152.0L136.6 151.6L136.9 151.1L137.2 150.7L137.5 150.2L137.8 149.8L138.0 149.3L138.3 148.9L138.5 148.4L138.6 148.0L138.8 147.5L138.9 147.1L139.0 146.6L139.1 146.2L139.2 145.7L139.3 145.3L139.4 144.8L139.4 144.4L139.5 143.9Z" fill="#7570B3"/>
<path d="M135.0 153.8H144.4" class="md"/>
<path d="M153.5 132.6V172.9" class="tl"/>
<path d="M153.8 140.3L153.8 140.8L153.9 141.2L153.9 141.7L154.0 142.1L154.1 142.6L154.1 143.0L154.2 143.5L154.3 143.9L154.5 144.4L154.6 144.8L154.7 145.3L154.9 145.7L155.1 146.2L155.3 146.6L155.5 147.1L155.7 147.5L155.9 148.0L156.2 148.4L156.5 148.9L156.7 149.3L157.0 149.8L157.3 150.2L157.5 150.7L157.7 151.1L157.8 151.6L157.6 152.0L157.2 152.5L156.8 152.9L156.3 153.4L155.9 153.8L155.6 154.3L155.2 154.7L155.0 155.2L154.7 155.6L154.5 156.1L154.3 156.5L154.2 157.0L154.0 157.4L153.9 157.9L153.8 158.3L153.8 158.7L153.3 158.7L153.2 158.3L153.2 157.9L153.1 157.4L152.9 157.0L152.8 156.5L152.6 156.1L152.4 155.6L152.1 155.2L151.8 154.7L151.5 154.3L151.1 153.8L150.8 153.4L150.3 152.9L149.9 152.5L149.5 152.0L149.3 151.6L149.4 151.1L149.6 150.7L149.8 150.2L150.1 149.8L150.4 149.3L150.6 148.9L150.9 148.4L151.1 148.0L151.4 147.5L151.6 147.1L151.8 146.6L152.0 146.2L152.2 145.7L152.4 145.3L152.5 144.8L152.6 144.4L152.8 143.9L152.9 143.5L152.9 143.0L153.0 142.6L153.1 142.1L153.2 141.7L153.2 141.2L153.3 140.8L153.3 140.3Z" fill="#7570B3"/>
<path d="M149.6 150.6H157.5" class="md"/>
<path d="M167.4 132.6V178.2" class="tl"/>
<path d="M167.6 149.0L167.7 149.5L167.7 149.9L167.8 150.4L168.0 150.8L168.1 151.3L168.3 151.7L168.6 152.2L168.9 152.6L169.3 153.1L169.8 153.5L170.6 154.0L171.5 154.4L173.0 154.9L172.6 155.3L171.5 155.8L170.7 156.2L170.0 156.7L169.5 157.1L169.1 157.6L168.8 158.0L168.5 158.5L168.3 158.9L168.2 159.4L168.0 159.8L167.9 160.3L167.8 160.7L167.7 161.2L167.7 161.6L167.6 162.1L167.6 162.2L167.1 162.2L167.1 162.1L167.1 161.6L167.0 161.2L166.9 160.7L166.8 160.3L166.7 159.8L166.6 159.4L166.4 158.9L166.2 158.5L165.9 158.0L165.6 157.6L165.2 157.1L164.7 156.7L164.1 156.2L163.3 155.8L162.1 155.3L161.8 154.9L163.2 154.4L164.2 154.0L164.9 153.5L165.4 153.1L165.9 152.6L166.2 152.2L166.4 151.7L166.6 151.3L166.8 150.8L166.9 150.4L167.0 149.9L167.1 149.5L167.1 149.0Z" fill="#7570B3"/>
<path d="M161.1 155.0H173.7" class="md"/>
<path d="M181.2 132.6V183.4" class="tl"/>
<path d="M181.4 142.5L181.5 143.0L181.5 143.4L181.5 143.9L181.6 144.3L181.6 144.8L181.6 145.2L181.7 145.7L181.7 146.1L181.8 146.6L181.8 147.0L181.9 147.5L182.0 147.9L182.0 148.4L182.1 148.8L182.2 149.3L182.3 149.7L182.4 150.2L182.5 150.6L182.6 151.1L182.7 151.5L182.8 152.0L182.9 152.4L183.0 152.9L183.2 153.3L183.3 153.8L183.4 154.2L183.6 154.7L183.7 155.1L183.9 155.6L184.0 156.0L184.1 156.5L184.3 156.9L184.4 157.4L184.5 157.8L184.6 158.3L184.5 158.7L184.3 159.2L184.1 159.6L183.8 160.1L183.5 160.5L183.3 161.0L183.0 161.4L182.8 161.9L182.6 162.3L182.4 162.8L182.2 163.2L182.0 163.7L181.9 164.1L181.8 164.6L181.7 165.0L181.6 165.5L181.5 165.9L181.5 166.4L181.4 166.7L180.9 166.7L180.9 166.4L180.8 165.9L180.8 165.5L180.7 165.0L180.6 164.6L180.5 164.1L180.3 163.7L180.2 163.2L180.0 162.8L179.8 162.3L179.6 161.9L179.4 161.4L179.1 161.0L178.8 160.5L178.6 160.1L178.3 159.6L178.0 159.2L177.8 158.7L177.8 158.3L177.9 157.8L178.0 157.4L178.1 156.9L178.3 156.5L178.4 156.0L178.5 155.6L178.7 155.1L178.8 154.7L178.9 154.2L179.1 153.8L179.2 153.3L179.3 152.9L179.5 152.4L179.6 152.0L179.7 151.5L179.8 151.1L179.9 150.6L180.0 150.2L180.1 149.7L180.2 149.3L180.3 148.8L180.3 148.4L180.4 147.9L180.5 147.5L180.5 147.0L180.6 146.6L180.6 146.1L180.7 145.7L180.7 145.2L180.8 144.8L180.8 144.3L180.9 143.9L180.9 143.4L180.9 143.0L180.9 142.5Z" fill="#7570B3"/>
<path d="M177.8 158.5H184.6" class="md"/>
<path d="M195.0 132.6V183.4" class="tl"/>
<path d="M195.2 144.6L195.3 145.1L195.3 145.5L195.4 146.0L195.4 146.4L195.5 146.9L195.6 147.3L195.7 147.8L195.8 148.2L195.9 148.7L196.0 149.1L196.1 149.6L196.3 150.0L196.4 150.5L196.6 150.9L196.7 151.4L196.9 151.8L197.1 152.3L197.3 152.7L197.5 153.2L197.7 153.6L198.0 154.1L198.1 154.5L198.3 155.0L198.4 155.4L198.3 155.9L198.2 156.3L198.0 156.8L197.8 157.2L197.6 157.7L197.4 158.1L197.2 158.6L197.1 159.0L196.9 159.5L196.7 159.9L196.5 160.4L196.4 160.8L196.3 161.3L196.1 161.7L196.0 162.2L195.9 162.6L195.8 163.1L195.7 163.5L195.6 164.0L195.6 164.4L195.5 164.9L195.4 165.3L195.4 165.8L195.3 166.2L195.3 166.7L195.3 167.0L194.8 167.0L194.7 166.7L194.7 166.2L194.6 165.8L194.6 165.3L194.5 164.9L194.5 164.4L194.4 164.0L194.3 163.5L194.2 163.1L194.1 162.6L194.0 162.2L193.9 161.7L193.8 161.3L193.6 160.8L193.5 160.4L193.3 159.9L193.1 159.5L193.0 159.0L192.8 158.6L192.6 158.1L192.4 157.7L192.2 157.2L192.0 156.8L191.9 156.3L191.7 155.9L191.6 155.4L191.7 155.0L191.9 154.5L192.1 154.1L192.3 153.6L192.5 153.2L192.7 152.7L192.9 152.3L193.1 151.8L193.3 151.4L193.5 150.9L193.6 150.5L193.8 150.0L193.9 149.6L194.0 149.1L194.2 148.7L194.3 148.2L194.4 147.8L194.4 147.3L194.5 146.9L194.6 146.4L194.6 146.0L194.7 145.5L194.7 145.1L194.8 144.6Z" fill="#7570B3"/>
<path d="M191.6 155.4H198.4" class="md"/>
<path d="M208.8 132.6V183.4" class="tl"/>
<path d="M209.1 152.6L209.2 153.1L209.3 153.5L209.4 154.0L209.6 154.4L209.8 154.9L210.1 155.3L210.4 155.8L210.8 156.2L211.2 156.7L211.6 157.1L212.1 157.6L212.3 158.0L212.3 158.5L212.1 158.9L212.0 159.4L211.8 159.8L211.7 160.3L211.5 160.7L211.3 161.2L211.2 161.6L211.0 162.1L210.8 162.5L210.7 163.0L210.5 163.4L210.4 163.9L210.3 164.3L210.1 164.8L210.0 165.2L209.9 165.6L209.8 166.1L209.7 166.5L209.6 167.0L209.6 167.4L209.5 167.9L209.4 168.3L209.4 168.8L209.3 169.2L209.3 169.7L209.2 170.1L209.2 170.6L209.1 171.0L209.1 171.5L209.1 171.8L208.6 171.8L208.6 171.5L208.5 171.0L208.5 170.6L208.5 170.1L208.4 169.7L208.4 169.2L208.3 168.8L208.2 168.3L208.2 167.9L208.1 167.4L208.0 167.0L207.9 166.5L207.8 166.1L207.7 165.6L207.6 165.2L207.5 164.8L207.4 164.3L207.3 163.9L207.1 163.4L207.0 163.0L206.8 162.5L206.7 162.1L206.5 161.6L206.3 161.2L206.2 160.7L206.0 160.3L205.8 159.8L205.7 159.4L205.5 158.9L205.4 158.5L205.3 158.0L205.6 157.6L206.0 157.1L206.5 156.7L206.9 156.2L207.2 155.8L207.6 155.3L207.8 154.9L208.1 154.4L208.3 154.0L208.4 153.5L208.5 153.1L208.6 152.6Z" fill="#7570B3"/>
<path d="M206.0 160.2H211.7" class="md"/>
<path d="M222.7 132.6V183.4" class="tl"/>
<path d="M222.9 145.9L223.0 146.4L223.0 146.8L223.1 147.3L223.2 147.7L223.3 148.2L223.4 148.6L223.5 149.1L223.7 149.5L223.9 150.0L224.1 150.4L224.3 150.9L224.5 151.3L224.8 151.8L225.1 152.2L225.4 152.7L225.7 153.1L226.1 153.6L226.4 154.0L226.7 154.5L226.9 154.9L226.9 155.4L226.7 155.8L226.5 156.3L226.2 156.7L225.9 157.2L225.6 157.6L225.4 158.1L225.1 158.5L224.9 159.0L224.6 159.4L224.4 159.9L224.2 160.3L224.0 160.8L223.9 161.2L223.7 161.7L223.6 162.1L223.4 162.6L223.3 163.0L223.2 163.5L223.2 163.9L223.1 164.4L223.0 164.8L223.0 165.3L222.9 165.7L222.9 165.9L222.4 165.9L222.4 165.7L222.3 165.3L222.3 164.8L222.2 164.4L222.1 163.9L222.1 163.5L222.0 163.0L221.9 162.6L221.7 162.1L221.6 161.7L221.5 161.2L221.3 160.8L221.1 160.3L220.9 159.9L220.7 159.4L220.5 159.0L220.2 158.5L219.9 158.1L219.7 157.6L219.4 157.2L219.1 156.7L218.9 156.3L218.6 155.8L218.4 155.4L218.4 154.9L218.6 154.5L218.9 154.0L219.3 153.6L219.6 153.1L219.9 152.7L220.2 152.2L220.5 151.8L220.8 151.3L221.0 150.9L221.2 150.4L221.4 150.0L221.6 149.5L221.8 149.1L221.9 148.6L222.0 148.2L222.1 147.7L222.2 147.3L222.3 146.8L222.4 146.4L222.4 145.9Z" fill="#7570B3"/>
<path d="M218.4 155.1H227.0" class="md"/>
<path d="M236.5 132.6V181.7" class="tl"/>
<path d="M236.7 148.6L236.8 149.1L236.9 149.5L237.0 150.0L237.1 150.4L237.3 150.9L237.5 151.3L237.7 151.8L238.0 152.2L238.3 152.7L238.7 153.1L239.1 153.6L239.5 154.0L239.9 154.5L240.3 154.9L240.6 155.4L240.5 155.8L240.3 156.3L240.2 156.7L240.0 157.2L239.8 157.6L239.6 158.1L239.4 158.5L239.1 159.0L238.9 159.4L238.8 159.9L238.6 160.3L238.4 160.8L238.2 161.2L238.1 161.7L237.9 162.1L237.8 162.6L237.7 163.0L237.5 163.5L237.4 163.9L237.3 164.3L237.2 164.8L237.2 165.2L237.1 165.7L237.0 166.1L237.0 166.6L236.9 167.0L236.9 167.5L236.8 167.9L236.8 168.4L236.7 168.8L236.7 169.0L236.2 169.0L236.2 168.8L236.2 168.4L236.1 167.9L236.1 167.5L236.0 167.0L236.0 166.6L235.9 166.1L235.9 165.7L235.8 165.2L235.7 164.8L235.6 164.3L235.5 163.9L235.4 163.5L235.3 163.0L235.2 162.6L235.0 162.1L234.9 161.7L234.7 161.2L234.6 160.8L234.4 160.3L234.2 159.9L234.0 159.4L233.8 159.0L233.6 158.5L233.4 158.1L233.2 157.6L233.0 157.2L232.8 156.7L232.6 156.3L232.5 155.8L232.4 155.4L232.7 154.9L233.1 154.5L233.5 154.0L233.9 153.6L234.3 153.1L234.6 152.7L235.0 152.2L235.2 151.8L235.5 151.3L235.7 150.9L235.8 150.4L236.0 150.0L236.1 149.5L236.2 149.1L236.2 148.6Z" fill="#7570B3"/>
<path d="M232.6 156.3H240.3" class="md"/>
<path d="M250.3 132.6V175.1" class="tl"/>
<path d="M250.5 146.4L250.6 146.9L250.6 147.3L250.7 147.8L250.8 148.2L250.9 148.7L251.0 149.1L251.1 149.6L251.2 150.0L251.3 150.5L251.5 150.9L251.7 151.4L251.8 151.8L252.1 152.3L252.3 152.7L252.5 153.2L252.8 153.6L253.0 154.1L253.3 154.5L253.5 155.0L253.7 155.4L253.8 155.9L253.7 156.3L253.5 156.8L253.4 157.2L253.2 157.7L253.0 158.1L252.8 158.6L252.6 159.0L252.4 159.5L252.2 159.9L252.1 160.4L251.9 160.8L251.8 161.3L251.6 161.7L251.5 162.2L251.4 162.6L251.3 163.1L251.2 163.5L251.1 164.0L251.0 164.4L250.9 164.9L250.8 165.3L250.8 165.8L250.7 166.2L250.7 166.7L250.6 167.1L250.6 167.6L250.5 168.0L250.1 168.0L250.0 167.6L250.0 167.1L249.9 166.7L249.9 166.2L249.8 165.8L249.8 165.3L249.7 164.9L249.6 164.4L249.5 164.0L249.4 163.5L249.3 163.1L249.2 162.6L249.1 162.2L249.0 161.7L248.8 161.3L248.7 160.8L248.5 160.4L248.3 159.9L248.2 159.5L248.0 159.0L247.8 158.6L247.6 158.1L247.4 157.7L247.2 157.2L247.1 156.8L246.9 156.3L246.8 155.9L246.9 155.4L247.1 155.0L247.3 154.5L247.6 154.1L247.8 153.6L248.1 153.2L248.3 152.7L248.5 152.3L248.7 151.8L248.9 151.4L249.1 150.9L249.3 150.5L249.4 150.0L249.5 149.6L249.6 149.1L249.7 148.7L249.8 148.2L249.9 147.8L250.0 147.3L250.0 146.9L250.1 146.4Z" fill="#7570B3"/>
<path d="M246.8 155.6H253.8" class="md"/>
<path d="M264.1 132.6V165.5" class="tl"/>
<path d="M264.4 137.6L264.4 138.1L264.4 138.5L264.5 139.0L264.5 139.4L264.6 139.9L264.7 140.3L264.7 140.8L264.8 141.2L264.9 141.7L265.0 142.1L265.1 142.6L265.3 143.0L265.4 143.5L265.6 143.9L265.7 144.4L265.9 144.8L266.1 145.3L266.3 145.7L266.5 146.2L266.8 146.6L267.0 147.1L267.3 147.5L267.6 148.0L267.8 148.4L268.1 148.9L268.4 149.3L268.6 149.8L268.8 150.2L269.0 150.7L268.7 151.1L268.1 151.6L267.4 152.0L266.7 152.5L266.2 152.9L265.7 153.4L265.3 153.8L265.0 154.3L264.7 154.7L264.6 155.2L264.4 155.6L264.3 156.0L263.9 156.0L263.8 155.6L263.7 155.2L263.5 154.7L263.3 154.3L263.0 153.8L262.6 153.4L262.1 152.9L261.5 152.5L260.8 152.0L260.1 151.6L259.5 151.1L259.2 150.7L259.4 150.2L259.6 149.8L259.9 149.3L260.1 148.9L260.4 148.4L260.7 148.0L260.9 147.5L261.2 147.1L261.5 146.6L261.7 146.2L261.9 145.7L262.1 145.3L262.3 144.8L262.5 144.4L262.7 143.9L262.8 143.5L263.0 143.0L263.1 142.6L263.2 142.1L263.3 141.7L263.4 141.2L263.5 140.8L263.6 140.3L263.6 139.9L263.7 139.4L263.8 139.0L263.8 138.5L263.8 138.1L263.9 137.6Z" fill="#7570B3"/>
<path d="M259.8 149.4H268.4" class="md"/>
<path d="M277.9 132.6V169.4" class="tl"/>
<path d="M278.2 138.6L278.2 139.1L278.3 139.5L278.3 140.0L278.4 140.4L278.4 140.9L278.5 141.3L278.6 141.8L278.7 142.2L278.8 142.7L278.9 143.1L279.0 143.6L279.2 144.0L279.3 144.5L279.5 144.9L279.7 145.4L279.9 145.8L280.1 146.3L280.3 146.7L280.6 147.2L280.8 147.6L281.1 148.1L281.4 148.5L281.6 149.0L281.9 149.4L282.2 149.9L282.4 150.3L282.6 150.8L282.7 151.2L282.4 151.7L281.8 152.1L281.3 152.6L280.7 153.0L280.2 153.5L279.7 153.9L279.4 154.4L279.1 154.8L278.8 155.3L278.6 155.7L278.4 156.2L278.3 156.6L278.2 157.1L278.2 157.2L277.7 157.2L277.7 157.1L277.6 156.6L277.5 156.2L277.3 155.7L277.1 155.3L276.8 154.8L276.5 154.4L276.1 153.9L275.7 153.5L275.2 153.0L274.6 152.6L274.1 152.1L273.5 151.7L273.1 151.2L273.3 150.8L273.5 150.3L273.7 149.9L274.0 149.4L274.3 149.0L274.5 148.5L274.8 148.1L275.1 147.6L275.3 147.2L275.6 146.7L275.8 146.3L276.0 145.8L276.2 145.4L276.4 144.9L276.5 144.5L276.7 144.0L276.8 143.6L277.0 143.1L277.1 142.7L277.2 142.2L277.3 141.8L277.4 141.3L277.4 140.9L277.5 140.4L277.6 140.0L277.6 139.5L277.7 139.1L277.7 138.6Z" fill="#7570B3"/>
<path d="M273.2 151.0H282.7" class="md"/>
<path d="M291.8 132.6V169.4" class="tl"/>
<path d="M292.0 135.8L292.0 136.3L292.1 136.7L292.1 137.2L292.2 137.6L292.2 138.1L292.3 138.5L292.4 139.0L292.5 139.4L292.6 139.9L292.7 140.3L292.8 140.8L292.9 141.2L293.1 141.7L293.2 142.1L293.4 142.6L293.6 143.0L293.7 143.5L294.0 143.9L294.2 144.4L294.4 144.8L294.7 145.3L294.9 145.7L295.2 146.2L295.4 146.6L295.7 147.1L295.9 147.5L296.2 148.0L296.4 148.4L296.4 148.9L296.0 149.3L295.5 149.8L294.9 150.2L294.3 150.7L293.8 151.1L293.4 151.6L293.0 152.0L292.7 152.5L292.5 152.9L292.3 153.4L292.2 153.8L292.1 154.3L292.0 154.6L291.5 154.6L291.5 154.3L291.3 153.8L291.2 153.4L291.0 152.9L290.8 152.5L290.5 152.0L290.1 151.6L289.7 151.1L289.2 150.7L288.6 150.2L288.1 149.8L287.5 149.3L287.1 148.9L287.2 148.4L287.4 148.0L287.6 147.5L287.8 147.1L288.1 146.6L288.4 146.2L288.6 145.7L288.9 145.3L289.1 144.8L289.3 144.4L289.6 143.9L289.8 143.5L290.0 143.0L290.2 142.6L290.3 142.1L290.5 141.7L290.6 141.2L290.7 140.8L290.9 140.3L291.0 139.9L291.1 139.4L291.1 139.0L291.2 138.5L291.3 138.1L291.3 137.6L291.4 137.2L291.4 136.7L291.5 136.3L291.5 135.8Z" fill="#7570B3"/>
<path d="M287.2 148.4H296.4" class="md"/>
<path d="M305.6 132.6V175.8" class="tl"/>
<path d="M305.8 143.2L305.9 143.7L305.9 144.1L306.0 144.6L306.1 145.0L306.2 145.5L306.3 145.9L306.4 146.4L306.5 146.8L306.7 147.3L306.8 147.7L307.0 148.2L307.3 148.6L307.5 149.1L307.7 149.5L308.0 150.0L308.3 150.4L308.6 150.9L308.9 151.3L309.2 151.8L309.4 152.2L309.7 152.7L309.5 153.1L309.2 153.6L308.8 154.0L308.4 154.5L308.0 154.9L307.6 155.4L307.3 155.8L307.0 156.3L306.8 156.7L306.5 157.2L306.3 157.6L306.2 158.1L306.1 158.5L306.0 159.0L305.9 159.4L305.8 159.8L305.3 159.8L305.3 159.4L305.2 159.0L305.1 158.5L305.0 158.1L304.8 157.6L304.6 157.2L304.4 156.7L304.2 156.3L303.9 155.8L303.5 155.4L303.2 154.9L302.8 154.5L302.4 154.0L302.0 153.6L301.6 153.1L301.5 152.7L301.7 152.2L302.0 151.8L302.3 151.3L302.6 150.9L302.9 150.4L303.2 150.0L303.4 149.5L303.7 149.1L303.9 148.6L304.1 148.2L304.3 147.7L304.5 147.3L304.7 146.8L304.8 146.4L304.9 145.9L305.0 145.5L305.1 145.0L305.2 144.6L305.2 144.1L305.3 143.7L305.4 143.2Z" fill="#7570B3"/>
<path d="M301.6 152.4H309.6" class="md"/>
<path d="M319.4 132.6V171.5" class="tl"/>
<path d="M319.7 141.4L319.7 141.9L319.8 142.3L319.8 142.8L319.9 143.2L320.0 143.7L320.1 144.1L320.2 144.6L320.3 145.0L320.4 145.5L320.6 145.9L320.8 146.4L321.0 146.8L321.2 147.3L321.4 147.7L321.7 148.2L321.9 148.6L322.2 149.1L322.5 149.5L322.9 150.0L323.2 150.4L323.5 150.9L323.8 151.3L324.1 151.8L324.4 152.2L324.2 152.7L323.6 153.1L322.9 153.6L322.2 154.0L321.7 154.5L321.1 154.9L320.7 155.4L320.4 155.8L320.1 156.3L319.9 156.7L319.8 157.2L319.7 157.6L319.6 157.8L319.2 157.8L319.1 157.6L319.0 157.2L318.9 156.7L318.7 156.3L318.4 155.8L318.1 155.4L317.7 154.9L317.2 154.5L316.6 154.0L315.9 153.6L315.2 153.1L314.6 152.7L314.5 152.2L314.7 151.8L315.0 151.3L315.3 150.9L315.6 150.4L315.9 150.0L316.3 149.5L316.6 149.1L316.9 148.6L317.1 148.2L317.4 147.7L317.6 147.3L317.9 146.8L318.0 146.4L318.2 145.9L318.4 145.5L318.5 145.0L318.6 144.6L318.7 144.1L318.8 143.7L318.9 143.2L319.0 142.8L319.1 142.3L319.1 141.9L319.2 141.4Z" fill="#7570B3"/>
<path d="M314.9 151.4H323.9" class="md"/>
</g>
<line x1="49.0" y1="158.1" x2="327.2" y2="158.1" stroke="#f01818" stroke-width="0.95" stroke-dasharray="0.95 1.75"/>
<text transform="translate(45.00,135.40) scale(1,1.09)" text-anchor="end" fill="#383838" style="font-size:9.4px;" >−0.5</text>
<text transform="translate(45.00,157.70) scale(1,1.09)" text-anchor="end" fill="#383838" style="font-size:9.4px;" >−1.5</text>
<text transform="translate(45.00,180.20) scale(1,1.09)" text-anchor="end" fill="#383838" style="font-size:9.4px;" >−2.5</text>
<line x1="48.3" y1="133.90" x2="49.4" y2="133.90" stroke="#555" stroke-width="0.6"/>
<line x1="48.3" y1="145.05" x2="49.4" y2="145.05" stroke="#555" stroke-width="0.6"/>
<line x1="48.3" y1="156.20" x2="49.4" y2="156.20" stroke="#555" stroke-width="0.6"/>
<line x1="48.3" y1="167.45" x2="49.4" y2="167.45" stroke="#555" stroke-width="0.6"/>
<line x1="48.3" y1="178.70" x2="49.4" y2="178.70" stroke="#555" stroke-width="0.6"/>
<text transform="translate(333.20,158.00) rotate(90) scale(1,1.06)" text-anchor="middle" fill="#4F4A94" style="font-size:9.2px;font-weight:bold;">Yeast</text>
<rect x="392.5" y="20.3" width="279.40" height="50.20" fill="none" stroke="#9a9a9a" stroke-width="0.75"/>
<clipPath id="c140590430260352"><rect x="392.5" y="20.3" width="279.4" height="50.2"/></clipPath>
<g clip-path="url(#c140590430260352)" stroke="#2a2a2a" stroke-width="0.5" stroke-linejoin="round">
<path d="M400.8 22.8V63.5" class="tl"/>
<path d="M401.0 34.6L401.1 35.0L401.2 35.5L401.2 35.9L401.3 36.4L401.4 36.8L401.5 37.3L401.7 37.7L401.8 38.2L402.0 38.6L402.2 39.1L402.5 39.5L402.7 40.0L403.0 40.4L403.4 40.9L403.7 41.3L404.1 41.8L404.5 42.2L405.0 42.7L405.3 43.1L405.4 43.6L405.1 44.0L404.7 44.5L404.3 44.9L403.9 45.4L403.6 45.8L403.3 46.3L403.0 46.7L402.7 47.2L402.5 47.6L402.2 48.1L402.0 48.5L401.9 49.0L401.7 49.4L401.6 49.9L401.5 50.3L401.4 50.8L401.3 51.2L401.2 51.7L401.2 52.1L401.1 52.6L401.1 53.0L401.0 53.2L400.6 53.2L400.5 53.0L400.5 52.6L400.4 52.1L400.4 51.7L400.3 51.2L400.2 50.8L400.1 50.3L400.0 49.9L399.9 49.4L399.7 49.0L399.6 48.5L399.4 48.1L399.1 47.6L398.9 47.2L398.6 46.7L398.3 46.3L398.0 45.8L397.7 45.4L397.3 44.9L396.9 44.5L396.5 44.0L396.2 43.6L396.3 43.1L396.6 42.7L397.1 42.2L397.5 41.8L397.9 41.3L398.2 40.9L398.6 40.4L398.9 40.0L399.1 39.5L399.4 39.1L399.6 38.6L399.8 38.2L399.9 37.7L400.1 37.3L400.2 36.8L400.3 36.4L400.4 35.9L400.4 35.5L400.5 35.0L400.5 34.6Z" fill="#1B9E77"/>
<path d="M396.2 43.2H405.4" class="md"/>
<path d="M414.6 26.8V70.5" class="tl"/>
<path d="M414.9 35.1L414.9 35.5L415.0 36.0L415.1 36.4L415.2 36.9L415.3 37.3L415.4 37.8L415.6 38.2L415.8 38.7L416.0 39.1L416.2 39.6L416.5 40.0L416.8 40.5L417.2 40.9L417.6 41.4L418.1 41.8L418.6 42.3L419.1 42.7L419.7 43.2L420.1 43.6L419.8 44.1L419.4 44.5L419.0 45.0L418.5 45.4L418.1 45.9L417.7 46.3L417.4 46.8L417.0 47.2L416.7 47.7L416.5 48.1L416.2 48.6L416.0 49.0L415.8 49.5L415.6 49.9L415.5 50.4L415.4 50.8L415.3 51.3L415.2 51.7L415.1 52.2L415.0 52.6L415.0 53.1L414.9 53.5L414.9 53.9L414.4 53.9L414.4 53.5L414.3 53.1L414.2 52.6L414.2 52.2L414.1 51.7L414.0 51.3L413.9 50.8L413.8 50.4L413.6 49.9L413.5 49.5L413.3 49.0L413.0 48.6L412.8 48.1L412.5 47.7L412.2 47.2L411.9 46.8L411.5 46.3L411.2 45.9L410.7 45.4L410.3 45.0L409.8 44.5L409.4 44.1L409.2 43.6L409.6 43.2L410.1 42.7L410.7 42.3L411.2 41.8L411.6 41.4L412.0 40.9L412.4 40.5L412.7 40.0L413.0 39.6L413.3 39.1L413.5 38.7L413.7 38.2L413.9 37.8L414.0 37.3L414.1 36.9L414.2 36.4L414.3 36.0L414.3 35.5L414.4 35.1Z" fill="#1B9E77"/>
<path d="M409.6 43.2H419.7" class="md"/>
<path d="M428.5 31.1V70.5" class="tl"/>
<path d="M428.7 39.4L428.7 39.8L428.8 40.3L428.9 40.7L429.0 41.2L429.1 41.6L429.3 42.1L429.5 42.5L429.7 43.0L430.0 43.4L430.3 43.9L430.7 44.3L431.1 44.8L431.6 45.2L432.1 45.7L432.7 46.1L433.4 46.6L434.0 47.0L434.6 47.5L434.4 47.9L434.0 48.4L433.6 48.8L433.1 49.3L432.7 49.7L432.3 50.2L431.9 50.6L431.5 51.1L431.2 51.5L430.9 52.0L430.6 52.4L430.3 52.9L430.1 53.3L429.9 53.8L429.7 54.2L429.6 54.7L429.4 55.1L429.3 55.6L429.2 56.0L429.1 56.5L429.0 56.9L428.9 57.4L428.9 57.9L428.8 58.3L428.8 58.8L428.7 59.2L428.7 59.4L428.2 59.4L428.2 59.2L428.2 58.8L428.1 58.3L428.1 57.9L428.0 57.4L427.9 56.9L427.8 56.5L427.7 56.0L427.6 55.6L427.5 55.1L427.4 54.7L427.2 54.2L427.0 53.8L426.8 53.3L426.6 52.9L426.3 52.4L426.1 52.0L425.7 51.5L425.4 51.1L425.1 50.6L424.7 50.2L424.2 49.7L423.8 49.3L423.4 48.8L422.9 48.4L422.5 47.9L422.3 47.5L422.9 47.0L423.6 46.6L424.2 46.1L424.8 45.7L425.4 45.2L425.8 44.8L426.3 44.3L426.6 43.9L426.9 43.4L427.2 43.0L427.4 42.5L427.6 42.1L427.8 41.6L427.9 41.2L428.0 40.7L428.1 40.3L428.2 39.8L428.2 39.4Z" fill="#1B9E77"/>
<path d="M422.4 47.8H434.5" class="md"/>
<path d="M442.3 29.8V70.5" class="tl"/>
<path d="M442.5 42.0L442.6 42.4L442.7 42.9L442.9 43.3L443.1 43.8L443.3 44.2L443.6 44.7L443.9 45.1L444.4 45.6L444.9 46.0L445.5 46.5L446.2 46.9L447.0 47.4L447.5 47.8L447.2 48.3L446.9 48.7L446.6 49.2L446.3 49.6L446.0 50.1L445.7 50.5L445.4 51.0L445.2 51.4L444.9 51.9L444.7 52.3L444.4 52.8L444.2 53.2L444.0 53.7L443.9 54.1L443.7 54.6L443.6 55.0L443.4 55.5L443.3 56.0L443.2 56.4L443.1 56.9L443.0 57.3L442.9 57.8L442.9 58.2L442.8 58.7L442.7 59.1L442.7 59.6L442.6 60.0L442.6 60.5L442.6 60.9L442.5 61.2L442.0 61.2L442.0 60.9L442.0 60.5L441.9 60.0L441.9 59.6L441.8 59.1L441.8 58.7L441.7 58.2L441.7 57.8L441.6 57.3L441.5 56.9L441.4 56.4L441.3 56.0L441.2 55.5L441.0 55.0L440.9 54.6L440.7 54.1L440.5 53.7L440.4 53.2L440.2 52.8L439.9 52.3L439.7 51.9L439.4 51.4L439.2 51.0L438.9 50.5L438.6 50.1L438.3 49.6L438.0 49.2L437.6 48.7L437.3 48.3L437.1 47.8L437.6 47.4L438.4 46.9L439.0 46.5L439.7 46.0L440.2 45.6L440.6 45.1L441.0 44.7L441.3 44.2L441.5 43.8L441.7 43.3L441.9 42.9L442.0 42.4L442.0 42.0Z" fill="#1B9E77"/>
<path d="M437.3 48.2H447.3" class="md"/>
<path d="M456.1 20.3V63.5" class="tl"/>
<path d="M456.4 25.3L456.4 25.7L456.4 26.2L456.5 26.6L456.5 27.1L456.6 27.5L456.6 28.0L456.7 28.4L456.7 28.9L456.8 29.3L456.9 29.8L456.9 30.2L457.0 30.7L457.1 31.1L457.2 31.6L457.3 32.0L457.4 32.5L457.5 32.9L457.6 33.4L457.8 33.8L457.9 34.3L458.1 34.7L458.2 35.2L458.4 35.6L458.5 36.1L458.7 36.5L458.9 37.0L459.0 37.4L459.2 37.9L459.4 38.3L459.5 38.8L459.7 39.2L459.8 39.7L459.9 40.1L459.8 40.6L459.5 41.0L459.1 41.5L458.8 41.9L458.4 42.4L458.1 42.8L457.8 43.3L457.5 43.7L457.2 44.2L457.0 44.6L456.9 45.1L456.7 45.5L456.6 46.0L456.5 46.4L456.4 46.9L456.4 47.3L455.9 47.3L455.8 46.9L455.7 46.4L455.6 46.0L455.5 45.5L455.4 45.1L455.2 44.6L455.0 44.2L454.8 43.7L454.5 43.3L454.2 42.8L453.8 42.4L453.5 41.9L453.1 41.5L452.8 41.0L452.5 40.6L452.3 40.1L452.4 39.7L452.6 39.2L452.7 38.8L452.9 38.3L453.0 37.9L453.2 37.4L453.4 37.0L453.6 36.5L453.7 36.1L453.9 35.6L454.0 35.2L454.2 34.7L454.3 34.3L454.5 33.8L454.6 33.4L454.7 32.9L454.8 32.5L455.0 32.0L455.1 31.6L455.2 31.1L455.2 30.7L455.3 30.2L455.4 29.8L455.5 29.3L455.5 28.9L455.6 28.4L455.6 28.0L455.7 27.5L455.7 27.1L455.8 26.6L455.8 26.2L455.8 25.7L455.9 25.3Z" fill="#1B9E77"/>
<path d="M452.6 39.2H459.7" class="md"/>
<path d="M470.0 20.3V62.2" class="tl"/>
<path d="M470.2 29.7L470.2 30.1L470.3 30.6L470.4 31.0L470.4 31.5L470.5 31.9L470.6 32.4L470.7 32.8L470.8 33.3L470.9 33.7L471.1 34.2L471.2 34.6L471.4 35.1L471.6 35.5L471.8 36.0L472.1 36.4L472.3 36.9L472.6 37.3L472.9 37.8L473.2 38.2L473.5 38.7L473.8 39.1L473.9 39.6L473.5 40.0L473.1 40.5L472.7 40.9L472.3 41.4L471.9 41.8L471.6 42.3L471.3 42.7L471.1 43.2L470.9 43.6L470.7 44.1L470.6 44.5L470.5 45.0L470.4 45.4L470.3 45.9L470.2 46.3L470.2 46.5L469.7 46.5L469.7 46.3L469.6 45.9L469.5 45.4L469.4 45.0L469.3 44.5L469.2 44.1L469.0 43.6L468.8 43.2L468.6 42.7L468.3 42.3L468.0 41.8L467.6 41.4L467.2 40.9L466.8 40.5L466.4 40.0L466.0 39.6L466.1 39.1L466.4 38.7L466.7 38.2L467.0 37.8L467.3 37.3L467.6 36.9L467.9 36.4L468.1 36.0L468.3 35.5L468.5 35.1L468.7 34.6L468.9 34.2L469.0 33.7L469.1 33.3L469.2 32.8L469.3 32.4L469.4 31.9L469.5 31.5L469.6 31.0L469.6 30.6L469.7 30.1L469.7 29.7Z" fill="#1B9E77"/>
<path d="M466.1 39.2H473.8" class="md"/>
<path d="M483.8 31.1V70.5" class="tl"/>
<path d="M484.0 38.6L484.1 39.0L484.2 39.5L484.3 39.9L484.4 40.4L484.6 40.8L484.8 41.3L485.1 41.7L485.4 42.2L485.8 42.6L486.2 43.1L486.8 43.5L487.4 44.0L488.1 44.4L488.8 44.9L489.5 45.3L489.6 45.8L489.2 46.2L488.6 46.7L488.1 47.1L487.6 47.6L487.2 48.0L486.7 48.5L486.4 48.9L486.0 49.4L485.7 49.8L485.4 50.3L485.2 50.7L485.0 51.2L484.8 51.6L484.7 52.1L484.5 52.5L484.4 53.0L484.3 53.4L484.2 53.9L484.1 54.4L484.1 54.8L484.0 55.3L484.0 55.4L483.6 55.4L483.5 55.3L483.5 54.8L483.4 54.4L483.4 53.9L483.3 53.4L483.2 53.0L483.1 52.5L482.9 52.1L482.8 51.6L482.6 51.2L482.4 50.7L482.1 50.3L481.9 49.8L481.6 49.4L481.2 48.9L480.8 48.5L480.4 48.0L479.9 47.6L479.4 47.1L478.9 46.7L478.4 46.2L477.9 45.8L478.1 45.3L478.8 44.9L479.5 44.4L480.2 44.0L480.8 43.5L481.3 43.1L481.8 42.6L482.2 42.2L482.5 41.7L482.8 41.3L483.0 40.8L483.1 40.4L483.3 39.9L483.4 39.5L483.5 39.0L483.6 38.6Z" fill="#1B9E77"/>
<path d="M477.9 45.8H489.6" class="md"/>
<path d="M497.6 25.4V68.3" class="tl"/>
<path d="M497.8 41.3L497.9 41.7L498.1 42.2L498.2 42.6L498.5 43.1L498.7 43.5L499.1 44.0L499.6 44.4L500.2 44.9L500.9 45.3L501.7 45.8L502.6 46.2L502.8 46.7L502.4 47.1L502.0 47.6L501.6 48.0L501.2 48.5L500.8 48.9L500.4 49.4L500.1 49.8L499.8 50.3L499.5 50.7L499.3 51.2L499.1 51.6L498.9 52.1L498.7 52.5L498.5 53.0L498.4 53.5L498.3 53.9L498.2 54.4L498.1 54.8L498.0 55.3L498.0 55.7L497.9 56.2L497.9 56.6L497.9 56.7L497.4 56.7L497.4 56.6L497.3 56.2L497.3 55.7L497.2 55.3L497.1 54.8L497.0 54.4L496.9 53.9L496.8 53.5L496.7 53.0L496.6 52.5L496.4 52.1L496.2 51.6L496.0 51.2L495.7 50.7L495.5 50.3L495.2 49.8L494.8 49.4L494.5 48.9L494.1 48.5L493.7 48.0L493.2 47.6L492.8 47.1L492.4 46.7L492.7 46.2L493.5 45.8L494.3 45.3L495.0 44.9L495.6 44.4L496.1 44.0L496.5 43.5L496.8 43.1L497.0 42.6L497.2 42.2L497.3 41.7L497.4 41.3Z" fill="#1B9E77"/>
<path d="M493.0 47.3H502.3" class="md"/>
<path d="M511.5 21.5V70.5" class="tl"/>
<path d="M511.7 35.7L511.7 36.1L511.8 36.6L511.8 37.0L511.9 37.5L512.0 37.9L512.1 38.4L512.2 38.8L512.4 39.3L512.5 39.7L512.7 40.2L512.9 40.6L513.2 41.1L513.5 41.5L513.8 42.0L514.2 42.4L514.7 42.9L515.2 43.3L515.7 43.8L516.3 44.2L517.0 44.7L516.3 45.1L515.7 45.6L515.2 46.0L514.7 46.5L514.2 46.9L513.8 47.4L513.5 47.8L513.2 48.3L512.9 48.7L512.7 49.2L512.5 49.6L512.4 50.1L512.2 50.5L512.1 51.0L512.0 51.4L511.9 51.9L511.8 52.3L511.8 52.8L511.7 53.2L511.7 53.7L511.7 53.7L511.2 53.7L511.2 53.7L511.2 53.2L511.1 52.8L511.1 52.3L511.0 51.9L510.9 51.4L510.8 51.0L510.7 50.5L510.5 50.1L510.4 49.6L510.2 49.2L510.0 48.7L509.7 48.3L509.4 47.8L509.1 47.4L508.7 46.9L508.2 46.5L507.7 46.0L507.2 45.6L506.6 45.1L506.0 44.7L506.6 44.2L507.2 43.8L507.7 43.3L508.2 42.9L508.7 42.4L509.1 42.0L509.4 41.5L509.7 41.1L510.0 40.6L510.2 40.2L510.4 39.7L510.5 39.3L510.7 38.8L510.8 38.4L510.9 37.9L511.0 37.5L511.1 37.0L511.1 36.6L511.2 36.1L511.2 35.7Z" fill="#1B9E77"/>
<path d="M506.8 45.3H516.1" class="md"/>
<path d="M525.3 29.8V70.5" class="tl"/>
<path d="M525.5 41.6L525.6 42.0L525.7 42.5L525.9 42.9L526.1 43.4L526.3 43.8L526.6 44.3L527.0 44.7L527.4 45.2L527.9 45.6L528.4 46.1L528.9 46.5L529.5 47.0L529.9 47.4L530.1 47.9L529.9 48.3L529.5 48.8L529.2 49.2L528.8 49.7L528.4 50.1L528.0 50.6L527.6 51.0L527.3 51.5L527.0 51.9L526.7 52.4L526.5 52.8L526.3 53.3L526.1 53.7L526.0 54.2L525.8 54.6L525.7 55.1L525.6 55.5L525.6 56.0L525.5 56.4L525.1 56.4L525.0 56.0L524.9 55.5L524.8 55.1L524.7 54.6L524.6 54.2L524.5 53.7L524.3 53.3L524.1 52.8L523.8 52.4L523.6 51.9L523.3 51.5L522.9 51.0L522.6 50.6L522.2 50.1L521.8 49.7L521.4 49.2L521.0 48.8L520.7 48.3L520.5 47.9L520.7 47.4L521.1 47.0L521.6 46.5L522.2 46.1L522.7 45.6L523.2 45.2L523.6 44.7L523.9 44.3L524.2 43.8L524.5 43.4L524.7 42.9L524.8 42.5L525.0 42.0L525.0 41.6Z" fill="#1B9E77"/>
<path d="M520.6 48.2H529.9" class="md"/>
<path d="M539.1 24.6V68.3" class="tl"/>
<path d="M539.4 38.5L539.4 38.9L539.5 39.4L539.6 39.8L539.6 40.3L539.8 40.7L539.9 41.2L540.0 41.6L540.2 42.1L540.4 42.5L540.6 43.0L540.9 43.4L541.2 43.9L541.6 44.3L541.9 44.8L542.4 45.2L542.8 45.7L543.3 46.1L543.7 46.6L543.8 47.0L543.5 47.5L543.1 47.9L542.7 48.4L542.3 48.8L541.9 49.3L541.6 49.7L541.2 50.2L541.0 50.6L540.7 51.1L540.5 51.5L540.3 52.0L540.1 52.4L540.0 52.9L539.8 53.3L539.7 53.8L539.6 54.2L539.6 54.7L539.5 55.1L539.4 55.6L539.4 56.0L539.4 56.3L538.9 56.3L538.9 56.0L538.8 55.6L538.7 55.1L538.7 54.7L538.6 54.2L538.5 53.8L538.4 53.3L538.3 52.9L538.1 52.4L537.9 52.0L537.7 51.5L537.5 51.1L537.3 50.6L537.0 50.2L536.7 49.7L536.3 49.3L536.0 48.8L535.6 48.4L535.2 47.9L534.8 47.5L534.4 47.0L534.5 46.6L535.0 46.1L535.4 45.7L535.9 45.2L536.3 44.8L536.7 44.3L537.0 43.9L537.3 43.4L537.6 43.0L537.8 42.5L538.0 42.1L538.2 41.6L538.4 41.2L538.5 40.7L538.6 40.3L538.7 39.8L538.8 39.4L538.8 38.9L538.9 38.5Z" fill="#1B9E77"/>
<path d="M535.1 46.0H543.1" class="md"/>
<path d="M552.9 20.3V57.0" class="tl"/>
<path d="M553.2 31.0L553.3 31.4L553.3 31.9L553.5 32.3L553.6 32.8L553.7 33.2L553.9 33.7L554.1 34.1L554.3 34.6L554.5 35.0L554.7 35.5L555.0 35.9L555.2 36.4L555.5 36.8L555.7 37.3L555.9 37.7L556.0 38.2L556.1 38.6L556.1 39.1L556.1 39.5L555.9 40.0L555.7 40.4L555.4 40.9L555.1 41.3L554.9 41.8L554.6 42.2L554.3 42.7L554.1 43.1L553.9 43.6L553.7 44.0L553.5 44.5L553.4 44.9L553.3 45.4L553.2 45.8L553.2 46.0L552.7 46.0L552.7 45.8L552.6 45.4L552.5 44.9L552.4 44.5L552.2 44.0L552.0 43.6L551.8 43.1L551.6 42.7L551.3 42.2L551.0 41.8L550.7 41.3L550.5 40.9L550.2 40.4L550.0 40.0L549.8 39.5L549.8 39.1L549.8 38.6L549.9 38.2L550.0 37.7L550.2 37.3L550.4 36.8L550.7 36.4L550.9 35.9L551.2 35.5L551.4 35.0L551.6 34.6L551.8 34.1L552.0 33.7L552.2 33.2L552.3 32.8L552.4 32.3L552.5 31.9L552.6 31.4L552.7 31.0Z" fill="#1B9E77"/>
<path d="M549.8 39.3H556.1" class="md"/>
<path d="M566.8 23.3V70.5" class="tl"/>
<path d="M567.0 30.2L567.1 30.6L567.1 31.1L567.1 31.5L567.2 32.0L567.2 32.4L567.3 32.9L567.4 33.3L567.4 33.8L567.5 34.2L567.6 34.7L567.7 35.1L567.8 35.6L568.0 36.0L568.1 36.5L568.2 36.9L568.4 37.4L568.6 37.8L568.8 38.3L569.0 38.7L569.2 39.2L569.4 39.6L569.7 40.1L570.0 40.5L570.2 41.0L570.5 41.4L570.8 41.9L571.1 42.3L571.3 42.8L571.2 43.2L570.8 43.7L570.4 44.1L570.0 44.6L569.7 45.0L569.3 45.5L569.0 45.9L568.7 46.4L568.4 46.8L568.2 47.3L568.0 47.7L567.8 48.2L567.6 48.6L567.5 49.1L567.4 49.5L567.3 50.0L567.2 50.4L567.1 50.9L567.1 51.3L567.0 51.8L567.0 52.0L566.5 52.0L566.5 51.8L566.5 51.3L566.4 50.9L566.3 50.4L566.3 50.0L566.2 49.5L566.0 49.1L565.9 48.6L565.8 48.2L565.6 47.7L565.4 47.3L565.1 46.8L564.9 46.4L564.6 45.9L564.3 45.5L563.9 45.0L563.5 44.6L563.1 44.1L562.7 43.7L562.3 43.2L562.3 42.8L562.5 42.3L562.8 41.9L563.0 41.4L563.3 41.0L563.6 40.5L563.9 40.1L564.1 39.6L564.4 39.2L564.6 38.7L564.8 38.3L565.0 37.8L565.2 37.4L565.3 36.9L565.5 36.5L565.6 36.0L565.7 35.6L565.8 35.1L565.9 34.7L566.0 34.2L566.1 33.8L566.2 33.3L566.3 32.9L566.3 32.4L566.4 32.0L566.4 31.5L566.5 31.1L566.5 30.6L566.5 30.2Z" fill="#1B9E77"/>
<path d="M562.5 42.3H571.0" class="md"/>
<path d="M580.6 22.8V68.3" class="tl"/>
<path d="M580.8 35.9L580.9 36.3L580.9 36.8L581.0 37.2L581.1 37.7L581.2 38.1L581.3 38.6L581.4 39.0L581.6 39.5L581.8 39.9L582.0 40.4L582.2 40.8L582.5 41.3L582.8 41.7L583.1 42.2L583.5 42.6L583.9 43.1L584.4 43.5L584.9 44.0L585.4 44.4L585.9 44.9L586.2 45.3L585.7 45.8L585.1 46.2L584.6 46.7L584.0 47.1L583.5 47.6L583.1 48.0L582.7 48.5L582.4 48.9L582.1 49.4L581.8 49.8L581.6 50.3L581.4 50.7L581.3 51.2L581.2 51.6L581.1 52.1L581.0 52.5L580.9 53.0L580.8 53.4L580.8 53.5L580.4 53.5L580.4 53.4L580.3 53.0L580.2 52.5L580.2 52.1L580.1 51.6L579.9 51.2L579.8 50.7L579.6 50.3L579.4 49.8L579.1 49.4L578.8 48.9L578.5 48.5L578.1 48.0L577.7 47.6L577.2 47.1L576.7 46.7L576.1 46.2L575.5 45.8L575.0 45.3L575.3 44.9L575.8 44.4L576.3 44.0L576.8 43.5L577.3 43.1L577.7 42.6L578.1 42.2L578.4 41.7L578.7 41.3L579.0 40.8L579.2 40.4L579.5 39.9L579.6 39.5L579.8 39.0L579.9 38.6L580.0 38.1L580.1 37.7L580.2 37.2L580.3 36.8L580.3 36.3L580.4 35.9Z" fill="#1B9E77"/>
<path d="M575.0 45.3H586.2" class="md"/>
<path d="M594.4 35.1V66.6" class="tl"/>
<path d="M594.7 41.9L594.8 42.3L594.9 42.8L595.1 43.2L595.3 43.7L595.7 44.1L596.0 44.6L596.5 45.0L597.1 45.5L597.7 45.9L598.3 46.4L598.9 46.8L599.2 47.3L599.1 47.7L598.9 48.2L598.6 48.6L598.3 49.1L598.0 49.5L597.7 50.0L597.4 50.4L597.1 50.9L596.8 51.3L596.5 51.8L596.3 52.2L596.0 52.7L595.8 53.1L595.7 53.6L595.5 54.0L595.3 54.5L595.2 55.0L595.1 55.4L595.0 55.9L594.9 56.3L594.8 56.8L594.8 57.2L594.7 57.7L594.7 57.9L594.2 57.9L594.2 57.7L594.1 57.2L594.1 56.8L594.0 56.3L593.9 55.9L593.8 55.4L593.7 55.0L593.6 54.5L593.4 54.0L593.2 53.6L593.0 53.1L592.8 52.7L592.6 52.2L592.4 51.8L592.1 51.3L591.8 50.9L591.5 50.4L591.2 50.0L590.9 49.5L590.6 49.1L590.3 48.6L590.0 48.2L589.8 47.7L589.6 47.3L590.0 46.8L590.6 46.4L591.2 45.9L591.8 45.5L592.4 45.0L592.8 44.6L593.2 44.1L593.6 43.7L593.8 43.2L594.0 42.8L594.1 42.3L594.2 41.9Z" fill="#1B9E77"/>
<path d="M590.0 48.2H598.9" class="md"/>
<path d="M608.3 36.8V65.7" class="tl"/>
<path d="M608.5 42.2L608.6 42.6L608.7 43.1L608.9 43.5L609.1 44.0L609.3 44.4L609.7 44.9L610.1 45.3L610.6 45.8L611.2 46.2L611.9 46.7L612.7 47.1L613.5 47.6L613.6 48.0L613.1 48.5L612.5 48.9L612.0 49.4L611.5 49.8L611.0 50.3L610.6 50.7L610.3 51.2L610.0 51.6L609.7 52.1L609.5 52.5L609.3 53.0L609.1 53.4L608.9 53.9L608.8 54.3L608.7 54.8L608.6 55.2L608.6 55.7L608.5 56.2L608.5 56.2L608.0 56.2L608.0 56.2L608.0 55.7L607.9 55.2L607.8 54.8L607.7 54.3L607.6 53.9L607.5 53.4L607.3 53.0L607.1 52.5L606.9 52.1L606.6 51.6L606.3 51.2L605.9 50.7L605.5 50.3L605.1 49.8L604.6 49.4L604.0 48.9L603.5 48.5L603.0 48.0L603.0 47.6L603.8 47.1L604.6 46.7L605.3 46.2L606.0 45.8L606.5 45.3L606.9 44.9L607.2 44.4L607.5 44.0L607.7 43.5L607.8 43.1L607.9 42.6L608.0 42.2Z" fill="#1B9E77"/>
<path d="M603.1 48.2H613.4" class="md"/>
<path d="M622.1 26.3V70.5" class="tl"/>
<path d="M622.3 38.5L622.4 38.9L622.5 39.4L622.5 39.8L622.6 40.3L622.8 40.7L622.9 41.2L623.1 41.6L623.3 42.1L623.5 42.5L623.8 43.0L624.1 43.4L624.4 43.9L624.8 44.3L625.3 44.8L625.7 45.2L626.2 45.7L626.7 46.1L627.0 46.6L626.6 47.0L626.3 47.5L625.9 47.9L625.5 48.4L625.2 48.8L624.9 49.3L624.6 49.7L624.3 50.2L624.0 50.6L623.8 51.1L623.6 51.5L623.4 52.0L623.2 52.4L623.1 52.9L622.9 53.3L622.8 53.8L622.7 54.2L622.6 54.7L622.6 55.1L622.5 55.6L622.4 56.0L622.4 56.5L622.4 57.0L622.3 57.1L621.9 57.1L621.9 57.0L621.8 56.5L621.8 56.0L621.7 55.6L621.6 55.1L621.6 54.7L621.5 54.2L621.4 53.8L621.3 53.3L621.1 52.9L621.0 52.4L620.8 52.0L620.6 51.5L620.4 51.1L620.2 50.6L619.9 50.2L619.7 49.7L619.4 49.3L619.0 48.8L618.7 48.4L618.3 47.9L617.9 47.5L617.6 47.0L617.2 46.6L617.5 46.1L618.0 45.7L618.5 45.2L618.9 44.8L619.4 44.3L619.8 43.9L620.1 43.4L620.4 43.0L620.7 42.5L620.9 42.1L621.1 41.6L621.3 41.2L621.5 40.7L621.6 40.3L621.7 39.8L621.7 39.4L621.8 38.9L621.9 38.5Z" fill="#1B9E77"/>
<path d="M617.4 46.9H626.8" class="md"/>
<path d="M635.9 33.3V70.5" class="tl"/>
<path d="M636.2 40.5L636.3 40.9L636.4 41.4L636.5 41.8L636.7 42.3L636.9 42.7L637.2 43.2L637.5 43.6L637.9 44.1L638.4 44.5L639.0 45.0L639.7 45.4L640.4 45.9L641.1 46.3L641.1 46.8L640.7 47.2L640.4 47.7L640.0 48.1L639.6 48.6L639.3 49.0L638.9 49.5L638.6 49.9L638.3 50.4L638.1 50.8L637.8 51.3L637.6 51.7L637.4 52.2L637.3 52.6L637.1 53.1L637.0 53.5L636.8 54.0L636.7 54.5L636.6 54.9L636.5 55.4L636.5 55.8L636.4 56.3L636.3 56.7L636.3 57.2L636.2 57.6L636.2 58.1L636.2 58.1L635.7 58.1L635.7 58.1L635.6 57.6L635.6 57.2L635.6 56.7L635.5 56.3L635.4 55.8L635.3 55.4L635.3 54.9L635.2 54.5L635.0 54.0L634.9 53.5L634.8 53.1L634.6 52.6L634.4 52.2L634.2 51.7L634.0 51.3L633.8 50.8L633.5 50.4L633.2 49.9L632.9 49.5L632.6 49.0L632.3 48.6L631.9 48.1L631.5 47.7L631.1 47.2L630.8 46.8L630.8 46.3L631.5 45.9L632.2 45.4L632.9 45.0L633.4 44.5L633.9 44.1L634.4 43.6L634.7 43.2L635.0 42.7L635.2 42.3L635.4 41.8L635.5 41.4L635.6 40.9L635.7 40.5Z" fill="#1B9E77"/>
<path d="M630.9 46.9H641.0" class="md"/>
<path d="M649.8 26.3V70.5" class="tl"/>
<path d="M650.0 39.3L650.1 39.7L650.1 40.2L650.2 40.6L650.3 41.1L650.4 41.5L650.5 42.0L650.7 42.4L650.9 42.9L651.1 43.3L651.4 43.8L651.7 44.2L652.0 44.7L652.4 45.1L652.8 45.6L653.2 46.0L653.7 46.5L654.1 46.9L654.3 47.4L654.1 47.8L653.8 48.3L653.5 48.7L653.2 49.2L652.9 49.6L652.6 50.1L652.3 50.5L652.1 51.0L651.8 51.4L651.6 51.9L651.4 52.3L651.2 52.8L651.1 53.2L650.9 53.7L650.8 54.1L650.7 54.6L650.6 55.0L650.5 55.5L650.4 55.9L650.3 56.4L650.2 56.8L650.2 57.3L650.1 57.8L650.1 58.2L650.0 58.7L650.0 58.9L649.5 58.9L649.5 58.7L649.5 58.2L649.4 57.8L649.4 57.3L649.3 56.8L649.2 56.4L649.2 55.9L649.1 55.5L649.0 55.0L648.9 54.6L648.8 54.1L648.6 53.7L648.5 53.2L648.3 52.8L648.1 52.3L647.9 51.9L647.7 51.4L647.5 51.0L647.2 50.5L647.0 50.1L646.7 49.6L646.4 49.2L646.1 48.7L645.8 48.3L645.5 47.8L645.2 47.4L645.4 46.9L645.9 46.5L646.3 46.0L646.8 45.6L647.2 45.1L647.5 44.7L647.9 44.2L648.2 43.8L648.4 43.3L648.6 42.9L648.8 42.4L649.0 42.0L649.1 41.5L649.2 41.1L649.3 40.6L649.4 40.2L649.5 39.7L649.5 39.3Z" fill="#1B9E77"/>
<path d="M645.7 48.2H653.9" class="md"/>
<path d="M663.6 35.1V68.8" class="tl"/>
<path d="M663.8 40.0L663.9 40.4L664.0 40.9L664.2 41.3L664.4 41.8L664.6 42.2L664.9 42.7L665.3 43.1L665.8 43.6L666.4 44.0L667.1 44.5L667.9 44.9L668.8 45.4L669.6 45.8L669.5 46.3L669.0 46.7L668.4 47.2L667.9 47.6L667.3 48.1L666.8 48.5L666.4 49.0L666.0 49.4L665.7 49.9L665.4 50.3L665.1 50.8L664.9 51.2L664.7 51.7L664.5 52.1L664.3 52.6L664.2 53.0L664.1 53.5L664.0 54.0L664.0 54.4L663.9 54.9L663.8 55.2L663.4 55.2L663.3 54.9L663.3 54.4L663.2 54.0L663.1 53.5L663.0 53.0L662.9 52.6L662.7 52.1L662.5 51.7L662.3 51.2L662.1 50.8L661.8 50.3L661.5 49.9L661.2 49.4L660.8 49.0L660.4 48.5L659.9 48.1L659.3 47.6L658.8 47.2L658.2 46.7L657.7 46.3L657.6 45.8L658.4 45.4L659.3 44.9L660.1 44.5L660.8 44.0L661.4 43.6L661.9 43.1L662.3 42.7L662.6 42.2L662.8 41.8L663.0 41.3L663.2 40.9L663.3 40.4L663.4 40.0Z" fill="#1B9E77"/>
<path d="M657.9 46.5H669.3" class="md"/>
</g>
<line x1="393.0" y1="45.6" x2="671.4" y2="45.6" stroke="#f01818" stroke-width="0.95" stroke-dasharray="0.95 1.75"/>
<text transform="translate(388.90,24.00) scale(1,1.09)" text-anchor="end" fill="#383838" style="font-size:9.4px;" >2.0</text>
<text transform="translate(388.90,47.10) scale(1,1.09)" text-anchor="end" fill="#383838" style="font-size:9.4px;" >1.0</text>
<text transform="translate(388.90,69.40) scale(1,1.09)" text-anchor="end" fill="#383838" style="font-size:9.4px;" >0.0</text>
<line x1="392.3" y1="22.50" x2="393.4" y2="22.50" stroke="#555" stroke-width="0.6"/>
<line x1="392.3" y1="34.05" x2="393.4" y2="34.05" stroke="#555" stroke-width="0.6"/>
<line x1="392.3" y1="45.60" x2="393.4" y2="45.60" stroke="#555" stroke-width="0.6"/>
<line x1="392.3" y1="56.75" x2="393.4" y2="56.75" stroke="#555" stroke-width="0.6"/>
<line x1="392.3" y1="67.90" x2="393.4" y2="67.90" stroke="#555" stroke-width="0.6"/>
<text transform="translate(677.40,45.40) rotate(90) scale(1,1.06)" text-anchor="middle" fill="#17704F" style="font-size:9.2px;font-weight:bold;font-style:italic;">E. coli</text>
<rect x="392.5" y="76.3" width="279.40" height="50.30" fill="none" stroke="#9a9a9a" stroke-width="0.75"/>
<clipPath id="c140590430260416"><rect x="392.5" y="76.3" width="279.4" height="50.3"/></clipPath>
<g clip-path="url(#c140590430260416)" stroke="#2a2a2a" stroke-width="0.5" stroke-linejoin="round">
<path d="M400.8 76.3V126.6" class="tl"/>
<path d="M401.0 98.3L401.1 98.7L401.3 99.2L401.6 99.6L402.0 100.1L402.5 100.5L403.0 101.0L403.1 101.4L402.7 101.9L402.2 102.3L401.7 102.8L401.4 103.2L401.2 103.7L401.0 104.1L401.0 104.3L400.6 104.3L400.6 104.1L400.4 103.7L400.2 103.2L399.9 102.8L399.4 102.3L398.9 101.9L398.5 101.4L398.6 101.0L399.1 100.5L399.6 100.1L400.0 99.6L400.3 99.2L400.5 98.7L400.6 98.3Z" fill="#D95F02"/>
<path d="M398.4 101.3H403.2" class="md"/>
<path d="M414.6 76.3V126.6" class="tl"/>
<path d="M414.8 98.3L415.0 98.7L415.2 99.2L415.5 99.6L415.8 100.1L416.3 100.5L416.8 101.0L416.9 101.4L416.5 101.9L416.0 102.3L415.6 102.8L415.3 103.2L415.0 103.7L414.9 104.1L414.8 104.3L414.4 104.3L414.4 104.1L414.2 103.7L414.0 103.2L413.7 102.8L413.3 102.3L412.8 101.9L412.3 101.4L412.5 101.0L412.9 100.5L413.4 100.1L413.8 99.6L414.1 99.2L414.3 98.7L414.4 98.3Z" fill="#D95F02"/>
<path d="M412.2 101.3H417.0" class="md"/>
<path d="M428.5 85.8V126.6" class="tl"/>
<path d="M428.7 99.3L428.8 99.7L429.0 100.2L429.3 100.6L429.7 101.1L430.1 101.5L430.6 102.0L430.8 102.4L430.3 102.9L429.8 103.3L429.4 103.8L429.1 104.2L428.9 104.7L428.7 105.1L428.7 105.3L428.3 105.3L428.2 105.1L428.1 104.7L427.8 104.2L427.5 103.8L427.1 103.3L426.6 102.9L426.1 102.4L426.3 102.0L426.8 101.5L427.2 101.1L427.6 100.6L427.9 100.2L428.1 99.7L428.3 99.3Z" fill="#D95F02"/>
<path d="M426.1 102.3H430.9" class="md"/>
<path d="M442.3 76.3V126.6" class="tl"/>
<path d="M442.5 98.3L442.6 98.7L442.8 99.2L443.1 99.6L443.5 100.1L444.0 100.5L444.5 101.0L444.6 101.4L444.1 101.9L443.7 102.3L443.2 102.8L442.9 103.2L442.7 103.7L442.5 104.1L442.5 104.3L442.1 104.3L442.1 104.1L441.9 103.7L441.7 103.2L441.3 102.8L440.9 102.3L440.4 101.9L440.0 101.4L440.1 101.0L440.6 100.5L441.1 100.1L441.5 99.6L441.8 99.2L442.0 98.7L442.1 98.3Z" fill="#D95F02"/>
<path d="M439.9 101.3H444.7" class="md"/>
<path d="M456.1 94.2V126.6" class="tl"/>
<path d="M456.3 98.3L456.5 98.7L456.7 99.2L457.0 99.6L457.3 100.1L457.8 100.5L458.3 101.0L458.4 101.4L458.0 101.9L457.5 102.3L457.1 102.8L456.8 103.2L456.5 103.7L456.4 104.1L456.3 104.3L455.9 104.3L455.9 104.1L455.7 103.7L455.5 103.2L455.2 102.8L454.8 102.3L454.3 101.9L453.8 101.4L453.9 101.0L454.4 100.5L454.9 100.1L455.3 99.6L455.6 99.2L455.8 98.7L455.9 98.3Z" fill="#D95F02"/>
<path d="M453.7 101.3H458.5" class="md"/>
<path d="M470.0 86.8V126.6" class="tl"/>
<path d="M470.2 98.3L470.3 98.7L470.5 99.2L470.8 99.6L471.2 100.1L471.6 100.5L472.1 101.0L472.3 101.4L471.8 101.9L471.3 102.3L470.9 102.8L470.6 103.2L470.4 103.7L470.2 104.1L470.2 104.3L469.8 104.3L469.7 104.1L469.6 103.7L469.3 103.2L469.0 102.8L468.6 102.3L468.1 101.9L467.6 101.4L467.8 101.0L468.3 100.5L468.7 100.1L469.1 99.6L469.4 99.2L469.6 98.7L469.8 98.3Z" fill="#D95F02"/>
<path d="M467.6 101.3H472.4" class="md"/>
<path d="M483.8 78.8V126.6" class="tl"/>
<path d="M484.0 98.3L484.1 98.7L484.3 99.2L484.6 99.6L485.0 100.1L485.5 100.5L486.0 101.0L486.1 101.4L485.6 101.9L485.2 102.3L484.7 102.8L484.4 103.2L484.2 103.7L484.0 104.1L484.0 104.3L483.6 104.3L483.5 104.1L483.4 103.7L483.2 103.2L482.8 102.8L482.4 102.3L481.9 101.9L481.5 101.4L481.6 101.0L482.1 100.5L482.6 100.1L483.0 99.6L483.2 99.2L483.5 98.7L483.6 98.3Z" fill="#D95F02"/>
<path d="M481.4 101.3H486.2" class="md"/>
<path d="M497.6 85.8V126.6" class="tl"/>
<path d="M497.8 98.3L498.0 98.7L498.2 99.2L498.4 99.6L498.8 100.1L499.3 100.5L499.8 101.0L499.9 101.4L499.5 101.9L499.0 102.3L498.6 102.8L498.2 103.2L498.0 103.7L497.9 104.1L497.8 104.3L497.4 104.3L497.4 104.1L497.2 103.7L497.0 103.2L496.7 102.8L496.3 102.3L495.8 101.9L495.3 101.4L495.4 101.0L495.9 100.5L496.4 100.1L496.8 99.6L497.1 99.2L497.3 98.7L497.4 98.3Z" fill="#D95F02"/>
<path d="M495.2 101.3H500.0" class="md"/>
<path d="M511.5 91.0V126.6" class="tl"/>
<path d="M511.7 98.0L511.8 98.4L512.0 98.9L512.3 99.3L512.7 99.8L513.1 100.2L513.6 100.7L513.8 101.1L513.3 101.6L512.8 102.0L512.4 102.5L512.1 102.9L511.8 103.4L511.7 103.8L511.7 104.0L511.2 104.0L511.2 103.8L511.1 103.4L510.8 102.9L510.5 102.5L510.1 102.0L509.6 101.6L509.1 101.1L509.3 100.7L509.8 100.2L510.2 99.8L510.6 99.3L510.9 98.9L511.1 98.4L511.2 98.0Z" fill="#D95F02"/>
<path d="M509.1 101.0H513.9" class="md"/>
<path d="M525.3 94.2V109.7" class="tl"/>
<path d="M525.5 98.3L525.6 98.7L525.8 99.2L526.1 99.6L526.5 100.1L527.0 100.5L527.5 101.0L527.6 101.4L527.1 101.9L526.6 102.3L526.2 102.8L525.9 103.2L525.7 103.7L525.5 104.1L525.5 104.3L525.1 104.3L525.0 104.1L524.9 103.7L524.7 103.2L524.3 102.8L523.9 102.3L523.4 101.9L523.0 101.4L523.1 101.0L523.6 100.5L524.1 100.1L524.5 99.6L524.7 99.2L524.9 98.7L525.1 98.3Z" fill="#D95F02"/>
<path d="M522.9 101.3H527.7" class="md"/>
<path d="M539.1 76.3V116.9" class="tl"/>
<path d="M539.3 98.3L539.5 98.7L539.7 99.2L539.9 99.6L540.3 100.1L540.8 100.5L541.3 101.0L541.4 101.4L541.0 101.9L540.5 102.3L540.1 102.8L539.7 103.2L539.5 103.7L539.4 104.1L539.3 104.3L538.9 104.3L538.9 104.1L538.7 103.7L538.5 103.2L538.2 102.8L537.8 102.3L537.3 101.9L536.8 101.4L536.9 101.0L537.4 100.5L537.9 100.1L538.3 99.6L538.6 99.2L538.8 98.7L538.9 98.3Z" fill="#D95F02"/>
<path d="M536.7 101.3H541.5" class="md"/>
<path d="M552.9 90.0V111.2" class="tl"/>
<path d="M553.2 98.3L553.3 98.7L553.5 99.2L553.8 99.6L554.2 100.1L554.6 100.5L555.1 101.0L555.3 101.4L554.8 101.9L554.3 102.3L553.9 102.8L553.6 103.2L553.3 103.7L553.2 104.1L553.2 104.3L552.7 104.3L552.7 104.1L552.6 103.7L552.3 103.2L552.0 102.8L551.6 102.3L551.1 101.9L550.6 101.4L550.8 101.0L551.3 100.5L551.7 100.1L552.1 99.6L552.4 99.2L552.6 98.7L552.7 98.3Z" fill="#D95F02"/>
<path d="M550.5 101.3H555.3" class="md"/>
<path d="M566.8 85.8V126.6" class="tl"/>
<path d="M567.0 98.3L567.1 98.7L567.3 99.2L567.6 99.6L568.0 100.1L568.5 100.5L569.0 101.0L569.1 101.4L568.6 101.9L568.1 102.3L567.7 102.8L567.4 103.2L567.2 103.7L567.0 104.1L567.0 104.3L566.6 104.3L566.5 104.1L566.4 103.7L566.2 103.2L565.8 102.8L565.4 102.3L564.9 101.9L564.5 101.4L564.6 101.0L565.1 100.5L565.6 100.1L566.0 99.6L566.2 99.2L566.4 98.7L566.6 98.3Z" fill="#D95F02"/>
<path d="M564.4 101.3H569.2" class="md"/>
<path d="M580.6 80.0V126.6" class="tl"/>
<path d="M580.8 98.3L580.9 98.7L581.2 99.2L581.4 99.6L581.8 100.1L582.3 100.5L582.8 101.0L582.9 101.4L582.5 101.9L582.0 102.3L581.6 102.8L581.2 103.2L581.0 103.7L580.9 104.1L580.8 104.3L580.4 104.3L580.4 104.1L580.2 103.7L580.0 103.2L579.7 102.8L579.2 102.3L578.8 101.9L578.3 101.4L578.4 101.0L578.9 100.5L579.4 100.1L579.8 99.6L580.1 99.2L580.3 98.7L580.4 98.3Z" fill="#D95F02"/>
<path d="M578.2 101.3H583.0" class="md"/>
<path d="M594.4 87.9V113.9" class="tl"/>
<path d="M594.6 98.3L594.8 98.7L595.0 99.2L595.3 99.6L595.7 100.1L596.1 100.5L596.6 101.0L596.8 101.4L596.3 101.9L595.8 102.3L595.4 102.8L595.1 103.2L594.8 103.7L594.7 104.1L594.6 104.3L594.2 104.3L594.2 104.1L594.0 103.7L593.8 103.2L593.5 102.8L593.1 102.3L592.6 101.9L592.1 101.4L592.3 101.0L592.8 100.5L593.2 100.1L593.6 99.6L593.9 99.2L594.1 98.7L594.2 98.3Z" fill="#D95F02"/>
<path d="M592.0 101.3H596.8" class="md"/>
<path d="M608.3 83.6V126.6" class="tl"/>
<path d="M608.5 98.3L608.6 98.7L608.8 99.2L609.1 99.6L609.5 100.1L610.0 100.5L610.5 101.0L610.6 101.4L610.1 101.9L609.6 102.3L609.2 102.8L608.9 103.2L608.7 103.7L608.5 104.1L608.5 104.3L608.1 104.3L608.0 104.1L607.9 103.7L607.6 103.2L607.3 102.8L606.9 102.3L606.4 101.9L606.0 101.4L606.1 101.0L606.6 100.5L607.1 100.1L607.4 99.6L607.7 99.2L607.9 98.7L608.1 98.3Z" fill="#D95F02"/>
<path d="M605.9 101.3H610.7" class="md"/>
<path d="M622.1 83.6V126.6" class="tl"/>
<path d="M622.3 98.3L622.4 98.7L622.6 99.2L622.9 99.6L623.3 100.1L623.8 100.5L624.3 101.0L624.4 101.4L624.0 101.9L623.5 102.3L623.1 102.8L622.7 103.2L622.5 103.7L622.3 104.1L622.3 104.3L621.9 104.3L621.9 104.1L621.7 103.7L621.5 103.2L621.2 102.8L620.7 102.3L620.3 101.9L619.8 101.4L619.9 101.0L620.4 100.5L620.9 100.1L621.3 99.6L621.6 99.2L621.8 98.7L621.9 98.3Z" fill="#D95F02"/>
<path d="M619.7 101.3H624.5" class="md"/>
<path d="M635.9 76.3V126.6" class="tl"/>
<path d="M636.1 96.5L636.3 96.9L636.5 97.4L636.8 97.8L637.2 98.3L637.6 98.7L638.1 99.2L638.3 99.6L637.8 100.1L637.3 100.5L636.9 101.0L636.6 101.4L636.3 101.9L636.2 102.3L636.1 102.5L635.7 102.5L635.7 102.3L635.5 101.9L635.3 101.4L635.0 101.0L634.6 100.5L634.1 100.1L633.6 99.6L633.8 99.2L634.3 98.7L634.7 98.3L635.1 97.8L635.4 97.4L635.6 96.9L635.7 96.5Z" fill="#D95F02"/>
<path d="M633.5 99.5H638.3" class="md"/>
<path d="M649.8 84.3V122.8" class="tl"/>
<path d="M650.0 98.3L650.1 98.7L650.3 99.2L650.6 99.6L651.0 100.1L651.5 100.5L651.9 101.0L652.1 101.4L651.6 101.9L651.1 102.3L650.7 102.8L650.4 103.2L650.2 103.7L650.0 104.1L650.0 104.3L649.6 104.3L649.5 104.1L649.4 103.7L649.1 103.2L648.8 102.8L648.4 102.3L647.9 101.9L647.5 101.4L647.6 101.0L648.1 100.5L648.6 100.1L648.9 99.6L649.2 99.2L649.4 98.7L649.6 98.3Z" fill="#D95F02"/>
<path d="M647.4 101.3H652.2" class="md"/>
<path d="M663.6 87.9V126.6" class="tl"/>
<path d="M663.8 98.3L663.9 98.7L664.1 99.2L664.4 99.6L664.8 100.1L665.3 100.5L665.8 101.0L665.9 101.4L665.5 101.9L665.0 102.3L664.5 102.8L664.2 103.2L664.0 103.7L663.8 104.1L663.8 104.3L663.4 104.3L663.4 104.1L663.2 103.7L663.0 103.2L662.7 102.8L662.2 102.3L661.7 101.9L661.3 101.4L661.4 101.0L661.9 100.5L662.4 100.1L662.8 99.6L663.1 99.2L663.3 98.7L663.4 98.3Z" fill="#D95F02"/>
<path d="M661.2 101.3H666.0" class="md"/>
</g>
<line x1="393.0" y1="101.6" x2="671.4" y2="101.6" stroke="#f01818" stroke-width="0.95" stroke-dasharray="0.95 1.75"/>
<text transform="translate(388.90,80.10) scale(1,1.09)" text-anchor="end" fill="#383838" style="font-size:9.4px;" >1.0</text>
<text transform="translate(388.90,102.90) scale(1,1.09)" text-anchor="end" fill="#383838" style="font-size:9.4px;" >0.0</text>
<text transform="translate(388.90,125.70) scale(1,1.09)" text-anchor="end" fill="#383838" style="font-size:9.4px;" >−1.0</text>
<line x1="392.3" y1="78.60" x2="393.4" y2="78.60" stroke="#555" stroke-width="0.6"/>
<line x1="392.3" y1="90.00" x2="393.4" y2="90.00" stroke="#555" stroke-width="0.6"/>
<line x1="392.3" y1="101.40" x2="393.4" y2="101.40" stroke="#555" stroke-width="0.6"/>
<line x1="392.3" y1="112.80" x2="393.4" y2="112.80" stroke="#555" stroke-width="0.6"/>
<line x1="392.3" y1="124.20" x2="393.4" y2="124.20" stroke="#555" stroke-width="0.6"/>
<text transform="translate(677.40,101.45) rotate(90) scale(1,1.06)" text-anchor="middle" fill="#A6470B" style="font-size:9.2px;font-weight:bold;">Human</text>
<rect x="392.5" y="132.6" width="279.40" height="50.80" fill="none" stroke="#9a9a9a" stroke-width="0.75"/>
<clipPath id="c140590430260544"><rect x="392.5" y="132.6" width="279.4" height="50.80000000000001"/></clipPath>
<g clip-path="url(#c140590430260544)" stroke="#2a2a2a" stroke-width="0.5" stroke-linejoin="round">
<path d="M400.8 132.6V183.4" class="tl"/>
<path d="M401.0 151.0L401.1 151.5L401.2 151.9L401.2 152.4L401.3 152.8L401.4 153.3L401.6 153.7L401.7 154.2L401.9 154.6L402.1 155.1L402.3 155.5L402.5 156.0L402.8 156.4L403.1 156.9L403.4 157.3L403.8 157.8L404.1 158.2L404.4 158.7L404.8 159.1L405.0 159.6L405.1 160.0L404.9 160.5L404.7 160.9L404.5 161.4L404.3 161.8L404.1 162.3L403.9 162.7L403.6 163.2L403.4 163.6L403.2 164.1L403.0 164.5L402.8 165.0L402.6 165.4L402.5 165.9L402.3 166.3L402.2 166.8L402.0 167.2L401.9 167.7L401.8 168.1L401.7 168.6L401.6 169.0L401.5 169.5L401.4 169.9L401.4 170.4L401.3 170.8L401.2 171.2L401.2 171.7L401.1 172.1L401.1 172.6L401.1 173.0L401.0 173.2L400.6 173.2L400.5 173.0L400.5 172.6L400.5 172.1L400.4 171.7L400.4 171.2L400.3 170.8L400.2 170.4L400.2 169.9L400.1 169.5L400.0 169.0L399.9 168.6L399.8 168.1L399.7 167.7L399.6 167.2L399.4 166.8L399.3 166.3L399.1 165.9L399.0 165.4L398.8 165.0L398.6 164.5L398.4 164.1L398.2 163.6L398.0 163.2L397.7 162.7L397.5 162.3L397.3 161.8L397.1 161.4L396.9 160.9L396.7 160.5L396.5 160.0L396.6 159.6L396.8 159.1L397.2 158.7L397.5 158.2L397.8 157.8L398.2 157.3L398.5 156.9L398.8 156.4L399.1 156.0L399.3 155.5L399.5 155.1L399.7 154.6L399.9 154.2L400.0 153.7L400.2 153.3L400.3 152.8L400.4 152.4L400.4 151.9L400.5 151.5L400.6 151.0Z" fill="#7570B3"/>
<path d="M396.9 161.1H404.7" class="md"/>
<path d="M414.6 132.6V183.4" class="tl"/>
<path d="M414.9 149.2L414.9 149.7L415.0 150.1L415.1 150.6L415.2 151.0L415.3 151.5L415.4 151.9L415.6 152.4L415.7 152.8L415.9 153.3L416.2 153.7L416.4 154.2L416.7 154.6L417.0 155.1L417.4 155.5L417.7 156.0L418.1 156.4L418.4 156.9L418.8 157.3L419.0 157.8L419.1 158.2L418.9 158.7L418.7 159.1L418.5 159.6L418.2 160.0L418.0 160.5L417.7 160.9L417.5 161.4L417.2 161.8L417.0 162.3L416.8 162.7L416.6 163.2L416.4 163.6L416.2 164.1L416.0 164.5L415.9 165.0L415.7 165.4L415.6 165.9L415.5 166.3L415.4 166.8L415.3 167.2L415.2 167.7L415.1 168.1L415.1 168.6L415.0 169.0L415.0 169.4L414.9 169.9L414.9 170.3L414.9 170.4L414.4 170.4L414.4 170.3L414.3 169.9L414.3 169.4L414.2 169.0L414.2 168.6L414.1 168.1L414.0 167.7L414.0 167.2L413.9 166.8L413.8 166.3L413.7 165.9L413.5 165.4L413.4 165.0L413.2 164.5L413.1 164.1L412.9 163.6L412.7 163.2L412.5 162.7L412.3 162.3L412.0 161.8L411.8 161.4L411.5 160.9L411.3 160.5L411.0 160.0L410.8 159.6L410.5 159.1L410.3 158.7L410.2 158.2L410.2 157.8L410.5 157.3L410.8 156.9L411.2 156.4L411.6 156.0L411.9 155.5L412.2 155.1L412.6 154.6L412.8 154.2L413.1 153.7L413.3 153.3L413.5 152.8L413.7 152.4L413.9 151.9L414.0 151.5L414.1 151.0L414.2 150.6L414.3 150.1L414.3 149.7L414.4 149.2Z" fill="#7570B3"/>
<path d="M410.2 158.2H419.1" class="md"/>
<path d="M428.5 132.6V180.8" class="tl"/>
<path d="M428.7 141.3L428.7 141.8L428.8 142.2L428.8 142.7L428.9 143.1L428.9 143.6L429.0 144.0L429.0 144.5L429.1 144.9L429.1 145.4L429.2 145.8L429.3 146.3L429.4 146.7L429.5 147.2L429.6 147.6L429.7 148.1L429.8 148.5L430.0 149.0L430.1 149.4L430.2 149.9L430.4 150.3L430.6 150.8L430.7 151.2L430.9 151.7L431.1 152.1L431.3 152.6L431.5 153.0L431.7 153.5L431.9 153.9L432.1 154.4L432.3 154.8L432.5 155.3L432.6 155.7L432.7 156.2L432.7 156.6L432.4 157.1L432.1 157.5L431.8 158.0L431.5 158.4L431.2 158.9L430.9 159.3L430.6 159.8L430.3 160.2L430.1 160.7L429.9 161.1L429.7 161.6L429.5 162.0L429.4 162.5L429.2 162.9L429.1 163.4L429.0 163.8L428.9 164.3L428.8 164.7L428.8 165.2L428.7 165.6L428.7 165.9L428.2 165.9L428.2 165.6L428.1 165.2L428.1 164.7L428.0 164.3L427.9 163.8L427.8 163.4L427.7 162.9L427.6 162.5L427.4 162.0L427.2 161.6L427.0 161.1L426.8 160.7L426.6 160.2L426.3 159.8L426.0 159.3L425.7 158.9L425.4 158.4L425.1 158.0L424.8 157.5L424.5 157.1L424.3 156.6L424.2 156.2L424.3 155.7L424.4 155.3L424.6 154.8L424.8 154.4L425.0 153.9L425.2 153.5L425.4 153.0L425.6 152.6L425.8 152.1L426.0 151.7L426.2 151.2L426.4 150.8L426.5 150.3L426.7 149.9L426.8 149.4L427.0 149.0L427.1 148.5L427.2 148.1L427.3 147.6L427.4 147.2L427.5 146.7L427.6 146.3L427.7 145.8L427.8 145.4L427.9 144.9L427.9 144.5L428.0 144.0L428.0 143.6L428.1 143.1L428.1 142.7L428.2 142.2L428.2 141.8L428.2 141.3Z" fill="#7570B3"/>
<path d="M424.3 155.6H432.6" class="md"/>
<path d="M442.3 132.6V169.8" class="tl"/>
<path d="M442.5 136.9L442.6 137.4L442.6 137.8L442.6 138.3L442.7 138.7L442.7 139.2L442.8 139.6L442.8 140.1L442.9 140.5L442.9 141.0L443.0 141.4L443.1 141.9L443.2 142.3L443.2 142.8L443.3 143.2L443.4 143.7L443.6 144.1L443.7 144.6L443.8 145.0L443.9 145.5L444.1 145.9L444.2 146.4L444.4 146.8L444.6 147.3L444.7 147.7L444.9 148.2L445.1 148.6L445.3 149.1L445.6 149.5L445.8 150.0L446.0 150.4L446.2 150.9L446.5 151.3L446.7 151.8L446.9 152.2L447.1 152.7L447.3 153.1L447.5 153.6L447.6 154.0L447.2 154.5L446.6 154.9L445.8 155.4L445.1 155.8L444.5 156.3L444.0 156.7L443.6 157.2L443.2 157.6L443.0 158.1L442.8 158.5L442.6 159.0L442.5 159.4L442.5 159.5L442.1 159.5L442.1 159.4L441.9 159.0L441.8 158.5L441.6 158.1L441.4 157.6L441.0 157.2L440.6 156.7L440.1 156.3L439.5 155.8L438.8 155.4L438.0 154.9L437.3 154.5L437.0 154.0L437.1 153.6L437.3 153.1L437.5 152.7L437.7 152.2L437.9 151.8L438.1 151.3L438.4 150.9L438.6 150.4L438.8 150.0L439.0 149.5L439.2 149.1L439.5 148.6L439.7 148.2L439.8 147.7L440.0 147.3L440.2 146.8L440.4 146.4L440.5 145.9L440.7 145.5L440.8 145.0L440.9 144.6L441.0 144.1L441.1 143.7L441.2 143.2L441.3 142.8L441.4 142.3L441.5 141.9L441.6 141.4L441.7 141.0L441.7 140.5L441.8 140.1L441.8 139.6L441.9 139.2L441.9 138.7L442.0 138.3L442.0 137.8L442.0 137.4L442.0 136.9Z" fill="#7570B3"/>
<path d="M437.6 152.3H446.9" class="md"/>
<path d="M456.1 132.6V183.4" class="tl"/>
<path d="M456.4 154.9L456.4 155.4L456.5 155.8L456.6 156.3L456.7 156.7L456.8 157.2L457.0 157.6L457.1 158.1L457.3 158.5L457.6 159.0L457.8 159.4L458.1 159.9L458.4 160.3L458.7 160.8L459.0 161.2L459.3 161.7L459.6 162.1L459.8 162.6L460.0 163.0L460.0 163.5L460.0 163.9L459.9 164.4L459.9 164.8L459.8 165.3L459.7 165.7L459.6 166.2L459.4 166.6L459.3 167.1L459.2 167.5L459.1 168.0L458.9 168.4L458.8 168.9L458.7 169.3L458.6 169.8L458.4 170.2L458.3 170.7L458.2 171.1L458.1 171.6L457.9 172.0L457.8 172.5L457.7 172.9L457.6 173.4L457.5 173.8L457.4 174.2L457.3 174.7L457.2 175.1L457.2 175.6L457.1 176.0L457.0 176.5L456.9 176.9L456.9 177.4L456.8 177.8L456.8 178.3L456.7 178.7L456.7 179.2L456.6 179.6L456.6 180.1L456.5 180.5L456.5 181.0L456.5 181.4L456.4 181.9L456.4 182.3L456.4 182.7L455.9 182.7L455.9 182.3L455.8 181.9L455.8 181.4L455.8 181.0L455.7 180.5L455.7 180.1L455.6 179.6L455.6 179.2L455.6 178.7L455.5 178.3L455.4 177.8L455.4 177.4L455.3 176.9L455.2 176.5L455.2 176.0L455.1 175.6L455.0 175.1L454.9 174.7L454.8 174.2L454.7 173.8L454.6 173.4L454.5 172.9L454.4 172.5L454.3 172.0L454.2 171.6L454.1 171.1L453.9 170.7L453.8 170.2L453.7 169.8L453.6 169.3L453.4 168.9L453.3 168.4L453.2 168.0L453.1 167.5L452.9 167.1L452.8 166.6L452.7 166.2L452.6 165.7L452.5 165.3L452.4 164.8L452.3 164.4L452.3 163.9L452.2 163.5L452.3 163.0L452.5 162.6L452.7 162.1L453.0 161.7L453.3 161.2L453.6 160.8L453.9 160.3L454.2 159.9L454.4 159.4L454.7 159.0L454.9 158.5L455.1 158.1L455.3 157.6L455.4 157.2L455.6 156.7L455.7 156.3L455.8 155.8L455.8 155.4L455.9 154.9Z" fill="#7570B3"/>
<path d="M452.3 164.2H459.9" class="md"/>
<path d="M470.0 132.6V183.4" class="tl"/>
<path d="M470.2 155.0L470.3 155.5L470.4 155.9L470.5 156.4L470.6 156.8L470.7 157.3L470.9 157.7L471.1 158.2L471.3 158.6L471.6 159.1L471.9 159.5L472.2 160.0L472.5 160.4L472.8 160.9L473.2 161.3L473.4 161.8L473.7 162.2L473.8 162.7L473.8 163.1L473.8 163.6L473.7 164.0L473.7 164.5L473.6 164.9L473.5 165.4L473.4 165.8L473.3 166.3L473.1 166.7L473.0 167.2L472.9 167.6L472.8 168.1L472.6 168.5L472.5 169.0L472.4 169.4L472.3 169.9L472.1 170.3L472.0 170.8L471.9 171.2L471.8 171.7L471.7 172.1L471.6 172.6L471.5 173.0L471.4 173.4L471.3 173.9L471.2 174.3L471.1 174.8L471.0 175.2L470.9 175.7L470.9 176.1L470.8 176.6L470.7 177.0L470.7 177.5L470.6 177.9L470.6 178.4L470.5 178.8L470.5 179.3L470.4 179.7L470.4 180.2L470.3 180.6L470.3 181.1L470.3 181.5L470.2 182.0L470.2 182.4L470.2 182.8L469.7 182.8L469.7 182.4L469.7 182.0L469.6 181.5L469.6 181.1L469.6 180.6L469.5 180.2L469.5 179.7L469.5 179.3L469.4 178.8L469.4 178.4L469.3 177.9L469.2 177.5L469.2 177.0L469.1 176.6L469.1 176.1L469.0 175.7L468.9 175.2L468.8 174.8L468.7 174.3L468.6 173.9L468.5 173.4L468.4 173.0L468.3 172.6L468.2 172.1L468.1 171.7L468.0 171.2L467.9 170.8L467.8 170.3L467.7 169.9L467.5 169.4L467.4 169.0L467.3 168.5L467.1 168.1L467.0 167.6L466.9 167.2L466.8 166.7L466.7 166.3L466.5 165.8L466.4 165.4L466.3 164.9L466.3 164.5L466.2 164.0L466.1 163.6L466.1 163.1L466.1 162.7L466.2 162.2L466.5 161.8L466.8 161.3L467.1 160.9L467.4 160.4L467.7 160.0L468.0 159.5L468.3 159.1L468.6 158.6L468.8 158.2L469.0 157.7L469.2 157.3L469.3 156.8L469.5 156.4L469.6 155.9L469.6 155.5L469.7 155.0Z" fill="#7570B3"/>
<path d="M466.2 164.2H473.7" class="md"/>
<path d="M483.8 132.6V179.0" class="tl"/>
<path d="M484.0 146.7L484.1 147.2L484.1 147.6L484.2 148.1L484.2 148.5L484.3 149.0L484.4 149.4L484.4 149.9L484.5 150.3L484.7 150.8L484.8 151.2L484.9 151.7L485.1 152.1L485.3 152.6L485.5 153.0L485.8 153.5L486.0 153.9L486.3 154.4L486.7 154.8L487.1 155.3L487.5 155.7L488.0 156.2L488.5 156.6L489.0 157.1L489.1 157.5L488.6 158.0L488.1 158.4L487.7 158.9L487.2 159.3L486.9 159.8L486.5 160.2L486.2 160.7L485.9 161.1L485.7 161.6L485.5 162.0L485.3 162.5L485.1 162.9L484.9 163.4L484.8 163.8L484.7 164.3L484.6 164.7L484.5 165.2L484.4 165.6L484.3 166.1L484.2 166.5L484.2 167.0L484.1 167.4L484.1 167.9L484.1 168.3L484.0 168.5L483.5 168.5L483.5 168.3L483.5 167.9L483.4 167.4L483.4 167.0L483.3 166.5L483.3 166.1L483.2 165.6L483.1 165.2L483.0 164.7L482.9 164.3L482.8 163.8L482.6 163.4L482.5 162.9L482.3 162.5L482.1 162.0L481.9 161.6L481.6 161.1L481.4 160.7L481.1 160.2L480.7 159.8L480.3 159.3L479.9 158.9L479.5 158.4L479.0 158.0L478.5 157.5L478.6 157.1L479.1 156.6L479.6 156.2L480.1 155.7L480.5 155.3L480.9 154.8L481.2 154.4L481.5 153.9L481.8 153.5L482.1 153.0L482.3 152.6L482.5 152.1L482.6 151.7L482.8 151.2L482.9 150.8L483.0 150.3L483.1 149.9L483.2 149.4L483.3 149.0L483.4 148.5L483.4 148.1L483.5 147.6L483.5 147.2L483.5 146.7Z" fill="#7570B3"/>
<path d="M478.3 157.3H489.3" class="md"/>
<path d="M497.6 132.6V179.0" class="tl"/>
<path d="M497.9 139.6L497.9 140.1L497.9 140.5L498.0 141.0L498.0 141.4L498.1 141.9L498.1 142.3L498.2 142.8L498.2 143.2L498.3 143.7L498.4 144.1L498.5 144.6L498.6 145.0L498.7 145.5L498.8 145.9L498.9 146.4L499.0 146.8L499.2 147.3L499.3 147.7L499.5 148.2L499.6 148.6L499.8 149.1L500.0 149.5L500.2 150.0L500.4 150.4L500.6 150.9L500.8 151.3L501.0 151.8L501.3 152.2L501.5 152.7L501.7 153.1L501.9 153.6L502.1 154.0L502.3 154.5L502.4 154.9L502.2 155.4L501.9 155.8L501.4 156.3L501.0 156.7L500.6 157.2L500.2 157.6L499.8 158.1L499.4 158.5L499.2 159.0L498.9 159.4L498.7 159.9L498.5 160.3L498.3 160.8L498.2 161.2L498.1 161.7L498.0 162.1L497.9 162.6L497.9 162.8L497.4 162.8L497.3 162.6L497.3 162.1L497.2 161.7L497.1 161.2L496.9 160.8L496.8 160.3L496.6 159.9L496.4 159.4L496.1 159.0L495.8 158.5L495.5 158.1L495.1 157.6L494.7 157.2L494.2 156.7L493.8 156.3L493.4 155.8L493.0 155.4L492.8 154.9L493.0 154.5L493.1 154.0L493.3 153.6L493.5 153.1L493.7 152.7L494.0 152.2L494.2 151.8L494.4 151.3L494.6 150.9L494.8 150.4L495.0 150.0L495.2 149.5L495.4 149.1L495.6 148.6L495.8 148.2L495.9 147.7L496.1 147.3L496.2 146.8L496.3 146.4L496.5 145.9L496.6 145.5L496.7 145.0L496.8 144.6L496.9 144.1L496.9 143.7L497.0 143.2L497.1 142.8L497.1 142.3L497.2 141.9L497.2 141.4L497.3 141.0L497.3 140.5L497.3 140.1L497.4 139.6Z" fill="#7570B3"/>
<path d="M493.1 154.1H502.2" class="md"/>
<path d="M511.5 132.6V179.9" class="tl"/>
<path d="M511.7 145.0L511.7 145.5L511.8 145.9L511.8 146.4L511.9 146.8L512.0 147.3L512.0 147.7L512.1 148.2L512.2 148.6L512.4 149.1L512.5 149.5L512.7 150.0L512.9 150.4L513.1 150.9L513.3 151.3L513.6 151.8L513.9 152.2L514.3 152.7L514.7 153.1L515.1 153.6L515.7 154.0L516.2 154.5L516.8 154.9L517.4 155.4L516.9 155.8L516.2 156.3L515.6 156.7L515.1 157.2L514.6 157.6L514.2 158.1L513.8 158.5L513.4 159.0L513.2 159.4L512.9 159.9L512.7 160.3L512.5 160.8L512.4 161.2L512.2 161.7L512.1 162.1L512.0 162.6L511.9 163.0L511.9 163.5L511.8 163.9L511.7 164.4L511.7 164.8L511.2 164.8L511.2 164.4L511.1 163.9L511.1 163.5L511.0 163.0L510.9 162.6L510.8 162.1L510.7 161.7L510.5 161.2L510.4 160.8L510.2 160.3L510.0 159.9L509.7 159.4L509.5 159.0L509.1 158.5L508.8 158.1L508.3 157.6L507.8 157.2L507.3 156.7L506.7 156.3L506.0 155.8L505.5 155.4L506.1 154.9L506.7 154.5L507.3 154.0L507.8 153.6L508.2 153.1L508.6 152.7L509.0 152.2L509.3 151.8L509.6 151.3L509.8 150.9L510.0 150.4L510.2 150.0L510.4 149.5L510.5 149.1L510.7 148.6L510.8 148.2L510.9 147.7L510.9 147.3L511.0 146.8L511.1 146.4L511.1 145.9L511.2 145.5L511.2 145.0Z" fill="#7570B3"/>
<path d="M505.5 155.4H517.5" class="md"/>
<path d="M525.3 132.6V168.5" class="tl"/>
<path d="M525.5 134.9L525.6 135.4L525.6 135.8L525.6 136.3L525.7 136.7L525.7 137.2L525.8 137.6L525.8 138.1L525.9 138.5L526.0 139.0L526.1 139.4L526.1 139.9L526.2 140.3L526.3 140.8L526.4 141.2L526.5 141.7L526.6 142.1L526.7 142.6L526.8 143.0L526.9 143.5L527.1 143.9L527.2 144.4L527.3 144.8L527.4 145.3L527.6 145.7L527.7 146.2L527.8 146.6L527.9 147.1L528.1 147.5L528.2 148.0L528.3 148.4L528.4 148.9L528.5 149.3L528.6 149.8L528.6 150.2L528.7 150.7L528.7 151.1L528.8 151.6L528.8 152.0L528.7 152.5L528.6 152.9L528.4 153.4L528.2 153.8L528.0 154.3L527.8 154.7L527.5 155.2L527.2 155.6L527.0 156.1L526.8 156.5L526.6 157.0L526.4 157.4L526.2 157.9L526.0 158.3L525.9 158.8L525.8 159.2L525.7 159.7L525.6 160.1L525.5 160.6L525.5 160.7L525.1 160.7L525.0 160.6L525.0 160.1L524.9 159.7L524.8 159.2L524.7 158.8L524.5 158.3L524.4 157.9L524.2 157.4L524.0 157.0L523.8 156.5L523.6 156.1L523.3 155.6L523.1 155.2L522.8 154.7L522.6 154.3L522.3 153.8L522.1 153.4L522.0 152.9L521.8 152.5L521.8 152.0L521.8 151.6L521.8 151.1L521.9 150.7L521.9 150.2L522.0 149.8L522.1 149.3L522.2 148.9L522.3 148.4L522.4 148.0L522.5 147.5L522.6 147.1L522.8 146.6L522.9 146.2L523.0 145.7L523.1 145.3L523.3 144.8L523.4 144.4L523.5 143.9L523.6 143.5L523.7 143.0L523.9 142.6L524.0 142.1L524.1 141.7L524.2 141.2L524.3 140.8L524.4 140.3L524.4 139.9L524.5 139.4L524.6 139.0L524.7 138.5L524.7 138.1L524.8 137.6L524.8 137.2L524.9 136.7L524.9 136.3L525.0 135.8L525.0 135.4L525.0 134.9Z" fill="#7570B3"/>
<path d="M521.9 150.4H528.7" class="md"/>
<path d="M539.1 132.6V183.4" class="tl"/>
<path d="M539.4 148.8L539.4 149.3L539.5 149.7L539.6 150.2L539.6 150.6L539.8 151.1L539.9 151.5L540.0 152.0L540.2 152.4L540.3 152.9L540.5 153.3L540.7 153.8L540.9 154.2L541.1 154.7L541.4 155.1L541.6 155.6L541.8 156.0L542.0 156.5L542.2 156.9L542.4 157.4L542.5 157.8L542.5 158.3L542.4 158.7L542.3 159.2L542.2 159.6L542.1 160.1L542.0 160.5L541.8 161.0L541.6 161.4L541.5 161.9L541.3 162.3L541.2 162.8L541.0 163.2L540.9 163.7L540.7 164.1L540.6 164.6L540.4 165.0L540.3 165.5L540.2 165.9L540.1 166.4L540.0 166.8L539.9 167.3L539.8 167.7L539.7 168.2L539.7 168.6L539.6 169.1L539.5 169.5L539.5 169.9L539.4 170.4L539.4 170.8L539.4 171.3L539.4 171.4L538.9 171.4L538.9 171.3L538.8 170.8L538.8 170.4L538.7 169.9L538.7 169.5L538.6 169.1L538.6 168.6L538.5 168.2L538.4 167.7L538.3 167.3L538.2 166.8L538.1 166.4L538.0 165.9L537.9 165.5L537.8 165.0L537.7 164.6L537.5 164.1L537.4 163.7L537.2 163.2L537.1 162.8L536.9 162.3L536.7 161.9L536.6 161.4L536.4 161.0L536.3 160.5L536.1 160.1L536.0 159.6L535.9 159.2L535.8 158.7L535.7 158.3L535.7 157.8L535.8 157.4L536.0 156.9L536.2 156.5L536.4 156.0L536.6 155.6L536.9 155.1L537.1 154.7L537.3 154.2L537.5 153.8L537.7 153.3L537.9 152.9L538.1 152.4L538.2 152.0L538.4 151.5L538.5 151.1L538.6 150.6L538.7 150.2L538.8 149.7L538.8 149.3L538.9 148.8Z" fill="#7570B3"/>
<path d="M535.7 158.4H542.5" class="md"/>
<path d="M552.9 141.4V183.4" class="tl"/>
<path d="M553.2 155.0L553.2 155.5L553.3 155.9L553.4 156.4L553.5 156.8L553.6 157.3L553.7 157.7L553.9 158.2L554.0 158.6L554.2 159.1L554.4 159.5L554.6 160.0L554.8 160.4L555.1 160.9L555.3 161.3L555.5 161.8L555.8 162.2L556.0 162.7L556.2 163.1L556.4 163.6L556.5 164.0L556.5 164.5L556.4 164.9L556.3 165.4L556.2 165.8L556.0 166.3L555.8 166.7L555.6 167.2L555.5 167.6L555.3 168.1L555.1 168.5L554.9 169.0L554.7 169.4L554.5 169.9L554.4 170.3L554.2 170.8L554.1 171.2L554.0 171.7L553.8 172.1L553.7 172.6L553.6 173.0L553.6 173.5L553.5 173.9L553.4 174.4L553.3 174.8L553.3 175.2L553.2 175.7L553.2 176.1L553.2 176.2L552.7 176.2L552.7 176.1L552.7 175.7L552.6 175.2L552.6 174.8L552.5 174.4L552.4 173.9L552.3 173.5L552.3 173.0L552.2 172.6L552.0 172.1L551.9 171.7L551.8 171.2L551.7 170.8L551.5 170.3L551.3 169.9L551.2 169.4L551.0 169.0L550.8 168.5L550.6 168.1L550.4 167.6L550.2 167.2L550.1 166.7L549.9 166.3L549.7 165.8L549.6 165.4L549.4 164.9L549.4 164.5L549.4 164.0L549.5 163.6L549.7 163.1L549.9 162.7L550.1 162.2L550.3 161.8L550.6 161.3L550.8 160.9L551.1 160.4L551.3 160.0L551.5 159.5L551.7 159.1L551.9 158.6L552.0 158.2L552.2 157.7L552.3 157.3L552.4 156.8L552.5 156.4L552.6 155.9L552.6 155.5L552.7 155.0Z" fill="#7570B3"/>
<path d="M549.3 164.2H556.5" class="md"/>
<path d="M566.8 132.6V183.4" class="tl"/>
<path d="M567.0 153.9L567.1 154.4L567.2 154.8L567.3 155.3L567.4 155.7L567.5 156.2L567.7 156.6L567.9 157.1L568.2 157.5L568.4 158.0L568.7 158.4L569.0 158.9L569.4 159.3L569.7 159.8L570.1 160.2L570.4 160.7L570.6 161.1L570.8 161.6L570.7 162.0L570.5 162.5L570.4 162.9L570.2 163.4L570.0 163.8L569.7 164.3L569.5 164.7L569.3 165.2L569.1 165.6L568.9 166.1L568.7 166.5L568.5 167.0L568.3 167.4L568.2 167.9L568.0 168.3L567.9 168.8L567.8 169.2L567.6 169.7L567.5 170.1L567.4 170.6L567.4 171.0L567.3 171.4L567.2 171.9L567.2 172.3L567.1 172.8L567.1 173.2L567.0 173.7L566.5 173.7L566.5 173.2L566.4 172.8L566.4 172.3L566.3 171.9L566.3 171.4L566.2 171.0L566.1 170.6L566.0 170.1L565.9 169.7L565.8 169.2L565.7 168.8L565.5 168.3L565.4 167.9L565.2 167.4L565.0 167.0L564.9 166.5L564.7 166.1L564.5 165.6L564.2 165.2L564.0 164.7L563.8 164.3L563.6 163.8L563.4 163.4L563.2 162.9L563.0 162.5L562.9 162.0L562.8 161.6L562.9 161.1L563.2 160.7L563.5 160.2L563.8 159.8L564.2 159.3L564.5 158.9L564.8 158.4L565.1 158.0L565.4 157.5L565.6 157.1L565.8 156.6L566.0 156.2L566.2 155.7L566.3 155.3L566.4 154.8L566.5 154.4L566.5 153.9Z" fill="#7570B3"/>
<path d="M563.0 162.4H570.6" class="md"/>
<path d="M580.6 132.6V183.4" class="tl"/>
<path d="M580.8 151.2L580.9 151.7L581.0 152.1L581.1 152.6L581.3 153.0L581.5 153.5L581.7 153.9L582.0 154.4L582.3 154.8L582.7 155.3L583.2 155.7L583.7 156.2L584.2 156.6L584.8 157.1L585.2 157.5L585.4 158.0L585.1 158.4L584.8 158.9L584.5 159.3L584.1 159.8L583.8 160.2L583.4 160.7L583.1 161.1L582.8 161.6L582.5 162.0L582.3 162.5L582.0 162.9L581.8 163.4L581.7 163.8L581.5 164.3L581.4 164.7L581.2 165.2L581.1 165.6L581.1 166.1L581.0 166.5L580.9 166.9L580.9 167.4L580.8 167.6L580.4 167.6L580.4 167.4L580.3 166.9L580.2 166.5L580.2 166.1L580.1 165.6L580.0 165.2L579.9 164.7L579.7 164.3L579.6 163.8L579.4 163.4L579.2 162.9L579.0 162.5L578.7 162.0L578.4 161.6L578.1 161.1L577.8 160.7L577.5 160.2L577.1 159.8L576.8 159.3L576.4 158.9L576.1 158.4L575.9 158.0L576.0 157.5L576.5 157.1L577.0 156.6L577.5 156.2L578.0 155.7L578.5 155.3L578.9 154.8L579.2 154.4L579.5 153.9L579.7 153.5L579.9 153.0L580.1 152.6L580.2 152.1L580.3 151.7L580.4 151.2Z" fill="#7570B3"/>
<path d="M576.2 158.5H585.1" class="md"/>
<path d="M594.4 132.6V165.5" class="tl"/>
<path d="M594.7 143.6L594.7 144.1L594.8 144.5L594.9 145.0L595.0 145.4L595.1 145.9L595.3 146.3L595.4 146.8L595.6 147.2L595.8 147.7L596.0 148.1L596.3 148.6L596.5 149.0L596.8 149.5L597.1 149.9L597.4 150.4L597.7 150.8L597.9 151.3L598.2 151.7L598.4 152.2L598.5 152.6L598.7 153.1L598.7 153.5L598.7 154.0L598.6 154.4L598.3 154.9L598.1 155.3L597.8 155.8L597.4 156.2L597.1 156.7L596.7 157.1L596.4 157.6L596.1 158.0L595.8 158.5L595.6 158.9L595.4 159.4L595.2 159.8L595.0 160.3L594.9 160.7L594.8 161.2L594.7 161.6L594.7 161.8L594.2 161.8L594.2 161.6L594.1 161.2L594.0 160.7L593.9 160.3L593.7 159.8L593.5 159.4L593.3 158.9L593.1 158.5L592.8 158.0L592.5 157.6L592.1 157.1L591.8 156.7L591.5 156.2L591.1 155.8L590.8 155.3L590.5 154.9L590.3 154.4L590.2 154.0L590.1 153.5L590.2 153.1L590.3 152.6L590.5 152.2L590.7 151.7L591.0 151.3L591.2 150.8L591.5 150.4L591.8 149.9L592.1 149.5L592.3 149.0L592.6 148.6L592.8 148.1L593.1 147.7L593.3 147.2L593.4 146.8L593.6 146.3L593.8 145.9L593.9 145.4L594.0 145.0L594.1 144.5L594.1 144.1L594.2 143.6Z" fill="#7570B3"/>
<path d="M590.1 153.6H598.7" class="md"/>
<path d="M608.3 132.6V165.0" class="tl"/>
<path d="M608.5 144.3L608.6 144.8L608.6 145.2L608.7 145.7L608.7 146.1L608.8 146.6L608.9 147.0L609.0 147.5L609.2 147.9L609.3 148.4L609.5 148.8L609.7 149.3L609.9 149.7L610.2 150.2L610.5 150.6L610.8 151.1L611.2 151.5L611.6 152.0L612.1 152.4L612.7 152.9L613.3 153.3L614.0 153.8L614.2 154.2L613.0 154.7L611.9 155.1L611.1 155.6L610.4 156.0L609.9 156.5L609.5 156.9L609.2 157.4L608.9 157.8L608.8 158.3L608.6 158.7L608.5 159.2L608.5 159.3L608.0 159.3L608.0 159.2L607.9 158.7L607.8 158.3L607.6 157.8L607.4 157.4L607.1 156.9L606.7 156.5L606.2 156.0L605.5 155.6L604.6 155.1L603.6 154.7L602.3 154.2L602.6 153.8L603.2 153.3L603.8 152.9L604.4 152.4L604.9 152.0L605.3 151.5L605.7 151.1L606.1 150.6L606.4 150.2L606.6 149.7L606.9 149.3L607.1 148.8L607.2 148.4L607.4 147.9L607.5 147.5L607.6 147.0L607.7 146.6L607.8 146.1L607.9 145.7L607.9 145.2L608.0 144.8L608.0 144.3Z" fill="#7570B3"/>
<path d="M602.9 153.5H613.6" class="md"/>
<path d="M622.1 132.6V172.0" class="tl"/>
<path d="M622.4 140.9L622.4 141.4L622.5 141.8L622.5 142.3L622.6 142.7L622.7 143.2L622.8 143.6L622.9 144.1L623.0 144.5L623.1 145.0L623.3 145.4L623.4 145.9L623.6 146.3L623.8 146.8L624.1 147.2L624.3 147.7L624.6 148.1L624.8 148.6L625.1 149.0L625.4 149.5L625.8 149.9L626.1 150.4L626.4 150.8L626.6 151.3L626.9 151.7L626.8 152.2L626.5 152.6L626.2 153.1L625.8 153.5L625.4 154.0L625.1 154.4L624.7 154.9L624.4 155.3L624.1 155.8L623.8 156.2L623.6 156.7L623.4 157.1L623.2 157.6L623.0 158.0L622.9 158.5L622.7 158.9L622.6 159.4L622.5 159.8L622.5 160.3L622.4 160.7L622.4 161.1L621.9 161.1L621.8 160.7L621.7 160.3L621.7 159.8L621.6 159.4L621.5 158.9L621.3 158.5L621.2 158.0L621.0 157.6L620.8 157.1L620.6 156.7L620.4 156.2L620.1 155.8L619.8 155.3L619.5 154.9L619.1 154.4L618.8 154.0L618.4 153.5L618.0 153.1L617.7 152.6L617.4 152.2L617.4 151.7L617.6 151.3L617.8 150.8L618.1 150.4L618.4 149.9L618.8 149.5L619.1 149.0L619.4 148.6L619.6 148.1L619.9 147.7L620.2 147.2L620.4 146.8L620.6 146.3L620.8 145.9L620.9 145.4L621.1 145.0L621.2 144.5L621.3 144.1L621.5 143.6L621.5 143.2L621.6 142.7L621.7 142.3L621.8 141.8L621.8 141.4L621.9 140.9Z" fill="#7570B3"/>
<path d="M617.5 151.3H626.7" class="md"/>
<path d="M635.9 132.6V172.5" class="tl"/>
<path d="M636.2 139.9L636.2 140.4L636.3 140.8L636.3 141.3L636.4 141.7L636.5 142.2L636.5 142.6L636.6 143.1L636.7 143.5L636.8 144.0L637.0 144.4L637.1 144.9L637.3 145.3L637.5 145.8L637.7 146.2L637.9 146.7L638.1 147.1L638.3 147.6L638.6 148.0L638.9 148.5L639.2 148.9L639.5 149.4L639.8 149.8L640.1 150.3L640.4 150.7L640.6 151.2L640.9 151.6L640.9 152.1L640.5 152.5L640.1 153.0L639.6 153.4L639.1 153.9L638.7 154.3L638.3 154.8L637.9 155.2L637.6 155.7L637.3 156.1L637.0 156.6L636.8 157.0L636.6 157.5L636.5 157.9L636.4 158.4L636.3 158.8L636.2 159.3L636.2 159.5L635.7 159.5L635.7 159.3L635.6 158.8L635.5 158.4L635.4 157.9L635.2 157.5L635.1 157.0L634.8 156.6L634.6 156.1L634.3 155.7L634.0 155.2L633.6 154.8L633.2 154.3L632.8 153.9L632.3 153.4L631.8 153.0L631.4 152.5L631.0 152.1L631.0 151.6L631.2 151.2L631.5 150.7L631.8 150.3L632.1 149.8L632.4 149.4L632.7 148.9L633.0 148.5L633.3 148.0L633.5 147.6L633.8 147.1L634.0 146.7L634.2 146.2L634.4 145.8L634.6 145.3L634.8 144.9L634.9 144.4L635.0 144.0L635.1 143.5L635.2 143.1L635.3 142.6L635.4 142.2L635.5 141.7L635.6 141.3L635.6 140.8L635.7 140.4L635.7 139.9Z" fill="#7570B3"/>
<path d="M631.2 151.3H640.7" class="md"/>
<path d="M649.8 132.6V168.5" class="tl"/>
<path d="M650.0 138.2L650.0 138.7L650.1 139.1L650.1 139.6L650.2 140.0L650.2 140.5L650.3 140.9L650.3 141.4L650.4 141.8L650.5 142.3L650.5 142.7L650.6 143.2L650.7 143.6L650.8 144.1L650.9 144.5L651.0 145.0L651.2 145.4L651.3 145.9L651.4 146.3L651.6 146.8L651.7 147.2L651.9 147.7L652.1 148.1L652.3 148.6L652.5 149.0L652.7 149.5L652.9 149.9L653.1 150.4L653.3 150.8L653.5 151.3L653.7 151.7L653.9 152.2L654.0 152.6L654.1 153.1L654.1 153.5L653.8 154.0L653.5 154.4L653.1 154.9L652.7 155.3L652.4 155.8L652.1 156.2L651.8 156.7L651.5 157.1L651.3 157.6L651.0 158.0L650.8 158.5L650.7 158.9L650.5 159.4L650.4 159.8L650.3 160.3L650.2 160.7L650.1 161.2L650.1 161.6L650.0 162.0L649.5 162.0L649.5 161.6L649.4 161.2L649.3 160.7L649.2 160.3L649.1 159.8L649.0 159.4L648.9 158.9L648.7 158.5L648.5 158.0L648.3 157.6L648.0 157.1L647.8 156.7L647.5 156.2L647.1 155.8L646.8 155.3L646.4 154.9L646.1 154.4L645.8 154.0L645.5 153.5L645.4 153.1L645.5 152.6L645.7 152.2L645.8 151.7L646.0 151.3L646.2 150.8L646.5 150.4L646.7 149.9L646.9 149.5L647.1 149.0L647.3 148.6L647.4 148.1L647.6 147.7L647.8 147.2L648.0 146.8L648.1 146.3L648.3 145.9L648.4 145.4L648.5 145.0L648.6 144.5L648.7 144.1L648.8 143.6L648.9 143.2L649.0 142.7L649.1 142.3L649.2 141.8L649.2 141.4L649.3 140.9L649.3 140.5L649.4 140.0L649.4 139.6L649.5 139.1L649.5 138.7L649.5 138.2Z" fill="#7570B3"/>
<path d="M645.6 152.3H653.9" class="md"/>
<path d="M663.6 132.6V176.4" class="tl"/>
<path d="M663.8 141.7L663.9 142.2L663.9 142.6L664.0 143.1L664.0 143.5L664.1 144.0L664.2 144.4L664.3 144.9L664.4 145.3L664.5 145.8L664.6 146.2L664.7 146.7L664.9 147.1L665.0 147.6L665.2 148.0L665.4 148.5L665.6 148.9L665.9 149.4L666.1 149.8L666.4 150.3L666.6 150.7L666.9 151.2L667.2 151.6L667.5 152.1L667.8 152.5L668.1 153.0L668.4 153.4L668.7 153.9L668.9 154.3L668.7 154.8L668.2 155.2L667.6 155.7L667.0 156.1L666.4 156.6L665.9 157.0L665.5 157.5L665.1 157.9L664.8 158.4L664.5 158.8L664.3 159.3L664.1 159.7L664.0 160.2L663.9 160.6L663.8 160.9L663.4 160.9L663.3 160.6L663.2 160.2L663.1 159.7L662.9 159.3L662.7 158.8L662.4 158.4L662.1 157.9L661.7 157.5L661.3 157.0L660.8 156.6L660.2 156.1L659.6 155.7L659.0 155.2L658.5 154.8L658.3 154.3L658.5 153.9L658.8 153.4L659.1 153.0L659.4 152.5L659.7 152.1L660.0 151.6L660.3 151.2L660.6 150.7L660.8 150.3L661.1 149.8L661.3 149.4L661.6 148.9L661.8 148.5L662.0 148.0L662.2 147.6L662.3 147.1L662.5 146.7L662.6 146.2L662.7 145.8L662.8 145.3L662.9 144.9L663.0 144.4L663.1 144.0L663.2 143.5L663.2 143.1L663.3 142.6L663.3 142.2L663.4 141.7Z" fill="#7570B3"/>
<path d="M658.7 153.5H668.5" class="md"/>
</g>
<line x1="393.0" y1="158.1" x2="671.4" y2="158.1" stroke="#f01818" stroke-width="0.95" stroke-dasharray="0.95 1.75"/>
<text transform="translate(388.90,135.40) scale(1,1.09)" text-anchor="end" fill="#383838" style="font-size:9.4px;" >−0.5</text>
<text transform="translate(388.90,157.70) scale(1,1.09)" text-anchor="end" fill="#383838" style="font-size:9.4px;" >−1.5</text>
<text transform="translate(388.90,180.20) scale(1,1.09)" text-anchor="end" fill="#383838" style="font-size:9.4px;" >−2.5</text>
<line x1="392.3" y1="133.90" x2="393.4" y2="133.90" stroke="#555" stroke-width="0.6"/>
<line x1="392.3" y1="145.05" x2="393.4" y2="145.05" stroke="#555" stroke-width="0.6"/>
<line x1="392.3" y1="156.20" x2="393.4" y2="156.20" stroke="#555" stroke-width="0.6"/>
<line x1="392.3" y1="167.45" x2="393.4" y2="167.45" stroke="#555" stroke-width="0.6"/>
<line x1="392.3" y1="178.70" x2="393.4" y2="178.70" stroke="#555" stroke-width="0.6"/>
<text transform="translate(677.40,158.00) rotate(90) scale(1,1.06)" text-anchor="middle" fill="#4F4A94" style="font-size:9.2px;font-weight:bold;">Yeast</text>
<rect x="47.8" y="205.2" width="279.70" height="50.20" fill="none" stroke="#9a9a9a" stroke-width="0.75"/>
<clipPath id="c140590430260608"><rect x="47.8" y="205.2" width="279.7" height="50.20000000000002"/></clipPath>
<g clip-path="url(#c140590430260608)" stroke="#2a2a2a" stroke-width="0.5" stroke-linejoin="round">
<path d="M56.1 228.0V255.4" class="tl2"/>
<path d="M56.4 228.0L56.6 228.4L57.1 228.9L57.8 229.3L58.8 229.8L59.8 230.2L60.8 230.7L61.4 231.1L61.6 231.6L61.1 232.0L60.4 232.5L59.8 232.9L59.3 233.4L58.9 233.8L58.6 234.3L58.4 234.7L58.3 235.2L58.1 235.6L58.0 236.1L57.9 236.5L57.8 237.0L57.8 237.4L57.7 237.9L57.6 238.3L57.5 238.8L57.4 239.2L57.4 239.7L57.3 240.1L57.2 240.6L57.2 241.0L57.1 241.5L57.1 241.9L57.0 242.4L57.0 242.8L56.9 243.3L56.9 243.7L56.8 244.2L56.8 244.6L56.7 245.1L56.7 245.5L56.7 246.0L56.6 246.4L56.6 246.9L56.6 247.3L56.5 247.8L56.5 248.2L56.5 248.7L56.4 249.1L56.4 249.6L56.4 250.0L56.4 250.5L56.4 250.9L56.4 251.1L55.9 251.1L55.9 250.9L55.8 250.5L55.8 250.0L55.8 249.6L55.8 249.1L55.7 248.7L55.7 248.2L55.7 247.8L55.7 247.3L55.6 246.9L55.6 246.4L55.6 246.0L55.5 245.5L55.5 245.1L55.4 244.6L55.4 244.2L55.4 243.7L55.3 243.3L55.3 242.8L55.2 242.4L55.2 241.9L55.1 241.5L55.0 241.0L55.0 240.6L54.9 240.1L54.8 239.7L54.8 239.2L54.7 238.8L54.6 238.3L54.5 237.9L54.5 237.4L54.4 237.0L54.3 236.5L54.2 236.1L54.1 235.6L54.0 235.2L53.8 234.7L53.6 234.3L53.3 233.8L52.9 233.4L52.4 232.9L51.8 232.5L51.1 232.0L50.6 231.6L50.8 231.1L51.4 230.7L52.4 230.2L53.4 229.8L54.4 229.3L55.1 228.9L55.6 228.4L55.9 228.0Z" fill="#1B9E77"/>
<path d="M52.7 233.2H59.5" class="md"/>
<path d="M70.0 227.5V255.4" class="tl2"/>
<path d="M70.2 228.1L70.4 228.6L70.8 229.0L71.4 229.5L72.1 229.9L72.8 230.4L73.5 230.8L73.9 231.3L73.9 231.7L73.5 232.2L73.0 232.6L72.6 233.1L72.2 233.5L71.9 234.0L71.7 234.4L71.6 234.9L71.5 235.3L71.4 235.8L71.3 236.2L71.3 236.6L71.2 237.1L71.1 237.5L71.1 238.0L71.0 238.4L71.0 238.9L70.9 239.3L70.9 239.8L70.8 240.2L70.8 240.7L70.7 241.1L70.7 241.6L70.6 242.0L70.6 242.5L70.6 242.9L70.5 243.4L70.5 243.8L70.5 244.3L70.4 244.7L70.4 245.2L70.4 245.6L70.3 246.1L70.3 246.5L70.3 247.0L70.3 247.4L70.3 247.9L70.2 248.3L70.2 248.8L70.2 249.1L69.7 249.1L69.7 248.8L69.7 248.3L69.7 247.9L69.6 247.4L69.6 247.0L69.6 246.5L69.6 246.1L69.5 245.6L69.5 245.2L69.5 244.7L69.5 244.3L69.4 243.8L69.4 243.4L69.3 242.9L69.3 242.5L69.3 242.0L69.2 241.6L69.2 241.1L69.1 240.7L69.1 240.2L69.0 239.8L69.0 239.3L68.9 238.9L68.9 238.4L68.8 238.0L68.8 237.5L68.7 237.1L68.6 236.6L68.6 236.2L68.5 235.8L68.4 235.3L68.3 234.9L68.2 234.4L68.0 234.0L67.7 233.5L67.4 233.1L66.9 232.6L66.4 232.2L66.0 231.7L66.0 231.3L66.4 230.8L67.1 230.4L67.8 229.9L68.6 229.5L69.1 229.0L69.5 228.6L69.7 228.1Z" fill="#1B9E77"/>
<path d="M67.5 233.2H72.4" class="md"/>
<path d="M83.8 228.0V255.4" class="tl2"/>
<path d="M84.0 229.1L84.3 229.6L84.7 230.0L85.3 230.5L86.0 230.9L86.8 231.4L87.5 231.8L87.9 232.3L87.9 232.7L87.5 233.2L87.0 233.6L86.5 234.1L86.2 234.5L85.9 235.0L85.7 235.4L85.5 235.9L85.4 236.3L85.3 236.8L85.3 237.2L85.2 237.6L85.1 238.1L85.0 238.5L85.0 239.0L84.9 239.4L84.9 239.9L84.8 240.3L84.8 240.8L84.7 241.2L84.7 241.7L84.6 242.1L84.6 242.6L84.5 243.0L84.5 243.5L84.4 243.9L84.4 244.4L84.4 244.8L84.3 245.3L84.3 245.7L84.3 246.2L84.2 246.6L84.2 247.1L84.2 247.5L84.2 248.0L84.1 248.4L84.1 248.9L84.1 249.3L84.1 249.8L84.1 250.2L84.0 250.5L83.6 250.5L83.5 250.2L83.5 249.8L83.5 249.3L83.5 248.9L83.5 248.4L83.4 248.0L83.4 247.5L83.4 247.1L83.4 246.6L83.3 246.2L83.3 245.7L83.3 245.3L83.2 244.8L83.2 244.4L83.2 243.9L83.1 243.5L83.1 243.0L83.0 242.6L83.0 242.1L82.9 241.7L82.9 241.2L82.8 240.8L82.8 240.3L82.7 239.9L82.7 239.4L82.6 239.0L82.6 238.5L82.5 238.1L82.4 237.6L82.3 237.2L82.3 236.8L82.2 236.3L82.1 235.9L81.9 235.4L81.7 235.0L81.4 234.5L81.1 234.1L80.6 233.6L80.1 233.2L79.7 232.7L79.7 232.3L80.1 231.8L80.8 231.4L81.6 230.9L82.3 230.5L82.9 230.0L83.3 229.6L83.6 229.1Z" fill="#1B9E77"/>
<path d="M81.1 234.1H86.5" class="md"/>
<path d="M97.6 228.3V255.4" class="tl2"/>
<path d="M98.1 228.3L98.5 228.8L99.1 229.2L100.0 229.6L101.0 230.1L102.0 230.5L102.8 231.0L103.1 231.4L102.8 231.9L102.2 232.3L101.6 232.8L101.0 233.2L100.6 233.7L100.2 234.1L100.0 234.6L99.8 235.0L99.7 235.5L99.6 235.9L99.5 236.4L99.4 236.8L99.3 237.3L99.2 237.7L99.2 238.2L99.1 238.6L99.0 239.1L98.9 239.5L98.9 240.0L98.8 240.4L98.7 240.9L98.7 241.3L98.6 241.8L98.6 242.2L98.5 242.7L98.5 243.1L98.4 243.6L98.4 244.0L98.3 244.5L98.3 244.9L98.2 245.4L98.2 245.8L98.2 246.3L98.1 246.7L98.1 247.2L98.1 247.6L98.0 248.1L98.0 248.5L98.0 249.0L98.0 249.4L97.9 249.9L97.9 250.3L97.9 250.8L97.9 251.1L97.4 251.1L97.4 250.8L97.4 250.3L97.3 249.9L97.3 249.4L97.3 249.0L97.3 248.5L97.2 248.1L97.2 247.6L97.2 247.2L97.2 246.7L97.1 246.3L97.1 245.8L97.1 245.4L97.0 244.9L97.0 244.5L96.9 244.0L96.9 243.6L96.8 243.1L96.8 242.7L96.7 242.2L96.7 241.8L96.6 241.3L96.6 240.9L96.5 240.4L96.4 240.0L96.4 239.5L96.3 239.1L96.2 238.6L96.1 238.2L96.0 237.7L96.0 237.3L95.9 236.8L95.8 236.4L95.7 235.9L95.6 235.5L95.5 235.0L95.3 234.6L95.1 234.1L94.7 233.7L94.3 233.2L93.7 232.8L93.1 232.3L92.5 231.9L92.2 231.4L92.5 231.0L93.3 230.5L94.3 230.1L95.3 229.6L96.2 229.2L96.8 228.8L97.2 228.3Z" fill="#1B9E77"/>
<path d="M94.6 233.5H100.7" class="md"/>
<path d="M111.5 226.0V255.4" class="tl2"/>
<path d="M111.7 228.1L111.9 228.6L112.3 229.0L112.8 229.5L113.5 229.9L114.2 230.4L114.9 230.8L115.2 231.3L115.2 231.7L114.8 232.2L114.4 232.6L114.0 233.1L113.6 233.5L113.4 234.0L113.2 234.4L113.1 234.9L113.0 235.3L112.9 235.8L112.8 236.2L112.7 236.6L112.7 237.1L112.6 237.5L112.6 238.0L112.5 238.4L112.5 238.9L112.4 239.3L112.4 239.8L112.3 240.2L112.3 240.7L112.2 241.1L112.2 241.6L112.1 242.0L112.1 242.5L112.1 242.9L112.0 243.4L112.0 243.8L112.0 244.3L111.9 244.7L111.9 245.2L111.9 245.6L111.9 246.1L111.8 246.5L111.8 247.0L111.8 247.4L111.8 247.9L111.8 248.3L111.7 248.8L111.7 248.9L111.3 248.9L111.2 248.8L111.2 248.3L111.2 247.9L111.2 247.4L111.2 247.0L111.1 246.5L111.1 246.1L111.1 245.6L111.1 245.2L111.0 244.7L111.0 244.3L111.0 243.8L111.0 243.4L110.9 242.9L110.9 242.5L110.8 242.0L110.8 241.6L110.8 241.1L110.7 240.7L110.7 240.2L110.6 239.8L110.6 239.3L110.5 238.9L110.5 238.4L110.4 238.0L110.4 237.5L110.3 237.1L110.2 236.6L110.2 236.2L110.1 235.8L110.0 235.3L109.9 234.9L109.8 234.4L109.6 234.0L109.4 233.5L109.0 233.1L108.6 232.6L108.1 232.2L107.8 231.7L107.8 231.3L108.1 230.8L108.8 230.4L109.5 229.9L110.2 229.5L110.7 229.0L111.1 228.6L111.3 228.1Z" fill="#1B9E77"/>
<path d="M109.1 233.2H113.8" class="md"/>
<path d="M125.3 226.7V255.4" class="tl2"/>
<path d="M125.6 227.6L125.8 228.1L126.2 228.5L126.8 229.0L127.6 229.4L128.4 229.9L129.1 230.3L129.6 230.8L129.6 231.2L129.1 231.7L128.6 232.1L128.1 232.6L127.8 233.0L127.5 233.5L127.3 233.9L127.1 234.4L127.0 234.8L126.9 235.2L126.8 235.7L126.8 236.1L126.7 236.6L126.6 237.0L126.6 237.5L126.5 237.9L126.4 238.4L126.4 238.8L126.3 239.3L126.3 239.7L126.2 240.2L126.2 240.6L126.1 241.1L126.1 241.5L126.0 242.0L126.0 242.4L126.0 242.9L125.9 243.3L125.9 243.8L125.8 244.2L125.8 244.7L125.8 245.1L125.8 245.6L125.7 246.0L125.7 246.5L125.7 246.9L125.7 247.4L125.6 247.8L125.6 248.3L125.6 248.7L125.6 249.2L125.1 249.2L125.1 248.7L125.1 248.3L125.0 247.8L125.0 247.4L125.0 246.9L125.0 246.5L124.9 246.0L124.9 245.6L124.9 245.1L124.9 244.7L124.8 244.2L124.8 243.8L124.8 243.3L124.7 242.9L124.7 242.4L124.6 242.0L124.6 241.5L124.6 241.1L124.5 240.6L124.5 240.2L124.4 239.7L124.4 239.3L124.3 238.8L124.2 238.4L124.2 237.9L124.1 237.5L124.1 237.0L124.0 236.6L123.9 236.1L123.9 235.7L123.8 235.2L123.7 234.8L123.6 234.4L123.4 233.9L123.2 233.5L122.9 233.0L122.5 232.6L122.1 232.1L121.6 231.7L121.1 231.2L121.1 230.8L121.5 230.3L122.3 229.9L123.1 229.4L123.8 229.0L124.4 228.5L124.9 228.1L125.1 227.6Z" fill="#1B9E77"/>
<path d="M122.9 233.0H127.8" class="md"/>
<path d="M139.2 229.3V255.4" class="tl2"/>
<path d="M140.9 229.3L141.9 229.8L143.0 230.2L144.0 230.6L144.8 231.1L145.0 231.5L144.5 232.0L143.8 232.4L143.2 232.9L142.6 233.3L142.2 233.8L141.9 234.2L141.6 234.7L141.5 235.1L141.3 235.6L141.2 236.0L141.1 236.5L141.0 236.9L140.9 237.4L140.9 237.8L140.8 238.3L140.7 238.7L140.6 239.2L140.5 239.6L140.5 240.1L140.4 240.5L140.3 241.0L140.3 241.4L140.2 241.9L140.1 242.3L140.1 242.8L140.0 243.2L140.0 243.7L139.9 244.1L139.9 244.6L139.8 245.0L139.8 245.5L139.8 245.9L139.7 246.4L139.7 246.8L139.7 247.3L139.6 247.7L139.6 248.2L139.6 248.6L139.5 249.1L139.5 249.5L139.5 250.0L139.5 250.4L139.5 250.9L139.4 251.3L139.4 251.5L138.9 251.5L138.9 251.3L138.9 250.9L138.9 250.4L138.9 250.0L138.9 249.5L138.8 249.1L138.8 248.6L138.8 248.2L138.7 247.7L138.7 247.3L138.7 246.8L138.6 246.4L138.6 245.9L138.6 245.5L138.5 245.0L138.5 244.6L138.4 244.1L138.4 243.7L138.3 243.2L138.3 242.8L138.2 242.3L138.2 241.9L138.1 241.4L138.0 241.0L138.0 240.5L137.9 240.1L137.8 239.6L137.8 239.2L137.7 238.7L137.6 238.3L137.5 237.8L137.4 237.4L137.3 236.9L137.2 236.5L137.1 236.0L137.0 235.6L136.9 235.1L136.7 234.7L136.5 234.2L136.2 233.8L135.8 233.3L135.2 232.9L134.5 232.4L133.9 232.0L133.4 231.5L133.6 231.1L134.3 230.6L135.4 230.2L136.5 229.8L137.5 229.3Z" fill="#1B9E77"/>
<path d="M135.1 232.8H143.3" class="md"/>
<path d="M153.0 228.6V255.4" class="tl2"/>
<path d="M153.4 228.6L153.8 229.0L154.4 229.5L155.2 229.9L156.1 230.4L157.0 230.8L157.7 231.3L158.0 231.7L157.7 232.2L157.2 232.6L156.6 233.1L156.1 233.5L155.7 234.0L155.4 234.4L155.2 234.9L155.0 235.3L154.9 235.8L154.8 236.2L154.7 236.7L154.6 237.1L154.6 237.6L154.5 238.0L154.4 238.5L154.3 238.9L154.3 239.4L154.2 239.8L154.1 240.3L154.1 240.7L154.0 241.2L154.0 241.6L153.9 242.1L153.9 242.5L153.8 243.0L153.8 243.4L153.7 243.9L153.7 244.3L153.6 244.8L153.6 245.2L153.6 245.7L153.5 246.1L153.5 246.6L153.5 247.0L153.4 247.5L153.4 247.9L153.4 248.4L153.4 248.8L153.3 249.3L153.3 249.7L153.3 250.2L153.3 250.6L153.3 250.8L152.8 250.8L152.8 250.6L152.8 250.2L152.7 249.7L152.7 249.3L152.7 248.8L152.7 248.4L152.6 247.9L152.6 247.5L152.6 247.0L152.6 246.6L152.5 246.1L152.5 245.7L152.5 245.2L152.4 244.8L152.4 244.3L152.3 243.9L152.3 243.4L152.2 243.0L152.2 242.5L152.1 242.1L152.1 241.6L152.0 241.2L152.0 240.7L151.9 240.3L151.9 239.8L151.8 239.4L151.7 238.9L151.7 238.5L151.6 238.0L151.5 237.6L151.4 237.1L151.3 236.7L151.3 236.2L151.2 235.8L151.0 235.3L150.9 234.9L150.7 234.4L150.4 234.0L150.0 233.5L149.5 233.1L148.9 232.6L148.3 232.2L148.0 231.7L148.3 231.3L149.0 230.8L150.0 230.4L150.9 229.9L151.7 229.5L152.3 229.0L152.6 228.6Z" fill="#1B9E77"/>
<path d="M149.4 233.0H156.7" class="md"/>
<path d="M166.9 227.7V255.4" class="tl2"/>
<path d="M167.1 227.9L167.3 228.4L167.6 228.8L168.2 229.3L169.0 229.7L169.9 230.2L170.7 230.6L171.3 231.1L171.6 231.5L171.2 232.0L170.7 232.4L170.2 232.9L169.7 233.3L169.3 233.8L169.1 234.2L168.9 234.7L168.7 235.1L168.6 235.6L168.5 236.0L168.5 236.4L168.4 236.9L168.3 237.3L168.2 237.8L168.2 238.2L168.1 238.7L168.0 239.1L168.0 239.6L167.9 240.0L167.9 240.5L167.8 240.9L167.8 241.4L167.7 241.8L167.7 242.3L167.6 242.7L167.6 243.2L167.5 243.6L167.5 244.1L167.5 244.5L167.4 245.0L167.4 245.4L167.4 245.9L167.3 246.3L167.3 246.8L167.3 247.2L167.2 247.7L167.2 248.1L167.2 248.6L167.2 249.0L167.2 249.5L167.1 249.9L167.1 250.3L166.6 250.3L166.6 249.9L166.6 249.5L166.6 249.0L166.6 248.6L166.5 248.1L166.5 247.7L166.5 247.2L166.5 246.8L166.4 246.3L166.4 245.9L166.4 245.4L166.3 245.0L166.3 244.5L166.3 244.1L166.2 243.6L166.2 243.2L166.1 242.7L166.1 242.3L166.1 241.8L166.0 241.4L166.0 240.9L165.9 240.5L165.8 240.0L165.8 239.6L165.7 239.1L165.7 238.7L165.6 238.2L165.5 237.8L165.5 237.3L165.4 236.9L165.3 236.4L165.2 236.0L165.1 235.6L165.0 235.1L164.9 234.7L164.7 234.2L164.4 233.8L164.1 233.3L163.6 232.9L163.1 232.4L162.5 232.0L162.2 231.5L162.4 231.1L163.0 230.6L163.9 230.2L164.8 229.7L165.6 229.3L166.1 228.8L166.5 228.4L166.7 227.9Z" fill="#1B9E77"/>
<path d="M163.8 233.0H170.0" class="md"/>
<path d="M180.7 228.0V255.4" class="tl2"/>
<path d="M181.0 228.5L181.0 229.0L181.1 229.4L181.2 229.9L181.2 230.3L181.3 230.8L181.5 231.2L181.6 231.7L181.7 232.1L181.9 232.6L182.1 233.0L182.3 233.5L182.6 233.9L182.8 234.4L183.1 234.8L183.4 235.3L183.7 235.7L184.0 236.2L184.1 236.6L183.9 237.1L183.7 237.5L183.4 238.0L183.2 238.4L182.9 238.9L182.7 239.3L182.5 239.8L182.3 240.2L182.1 240.7L181.9 241.1L181.8 241.6L181.7 242.0L181.6 242.5L181.4 242.9L181.4 243.4L181.3 243.8L181.2 244.3L181.1 244.7L181.1 245.2L181.0 245.6L181.0 246.1L181.0 246.5L180.5 246.5L180.5 246.1L180.4 245.6L180.4 245.2L180.3 244.7L180.2 244.3L180.2 243.8L180.1 243.4L180.0 242.9L179.9 242.5L179.8 242.0L179.7 241.6L179.5 241.1L179.3 240.7L179.2 240.2L179.0 239.8L178.8 239.3L178.5 238.9L178.3 238.4L178.0 238.0L177.8 237.5L177.5 237.1L177.4 236.6L177.5 236.2L177.7 235.7L178.0 235.3L178.3 234.8L178.6 234.4L178.9 233.9L179.1 233.5L179.3 233.0L179.5 232.6L179.7 232.1L179.9 231.7L180.0 231.2L180.1 230.8L180.2 230.3L180.3 229.9L180.4 229.4L180.4 229.0L180.5 228.5Z" fill="#1B9E77"/>
<path d="M178.2 238.2H183.3" class="md"/>
<path d="M194.6 228.0V255.4" class="tl2"/>
<path d="M194.8 228.0L195.1 228.4L195.6 228.9L196.4 229.3L197.3 229.8L198.4 230.2L199.4 230.7L200.1 231.1L200.2 231.6L199.7 232.0L199.1 232.5L198.4 232.9L197.9 233.4L197.5 233.8L197.2 234.3L197.0 234.7L196.8 235.2L196.7 235.6L196.6 236.1L196.5 236.5L196.4 237.0L196.3 237.4L196.2 237.9L196.1 238.3L196.0 238.8L196.0 239.2L195.9 239.7L195.8 240.1L195.7 240.6L195.7 241.0L195.6 241.5L195.6 241.9L195.5 242.4L195.4 242.8L195.4 243.3L195.3 243.7L195.3 244.2L195.3 244.6L195.2 245.1L195.2 245.5L195.1 246.0L195.1 246.4L195.1 246.9L195.0 247.3L195.0 247.8L195.0 248.2L194.9 248.7L194.9 249.1L194.9 249.6L194.9 250.0L194.9 250.5L194.8 250.9L194.8 251.4L194.8 251.5L194.3 251.5L194.3 251.4L194.3 250.9L194.3 250.5L194.3 250.0L194.2 249.6L194.2 249.1L194.2 248.7L194.2 248.2L194.1 247.8L194.1 247.3L194.1 246.9L194.0 246.4L194.0 246.0L194.0 245.5L193.9 245.1L193.9 244.6L193.8 244.2L193.8 243.7L193.7 243.3L193.7 242.8L193.6 242.4L193.6 241.9L193.5 241.5L193.5 241.0L193.4 240.6L193.3 240.1L193.3 239.7L193.2 239.2L193.1 238.8L193.0 238.3L192.9 237.9L192.9 237.4L192.8 237.0L192.7 236.5L192.6 236.1L192.5 235.6L192.3 235.2L192.2 234.7L192.0 234.3L191.7 233.8L191.3 233.4L190.7 232.9L190.1 232.5L189.4 232.0L188.9 231.6L189.0 231.1L189.7 230.7L190.7 230.2L191.8 229.8L192.8 229.3L193.5 228.9L194.0 228.4L194.3 228.0Z" fill="#1B9E77"/>
<path d="M190.8 233.0H198.3" class="md"/>
<path d="M208.4 227.3V255.4" class="tl2"/>
<path d="M208.6 228.2L208.8 228.7L209.1 229.1L209.7 229.6L210.4 230.0L211.3 230.5L212.1 230.9L212.7 231.4L212.9 231.8L212.6 232.3L212.1 232.7L211.6 233.2L211.1 233.6L210.8 234.1L210.5 234.5L210.3 235.0L210.2 235.4L210.1 235.9L210.0 236.3L209.9 236.8L209.9 237.2L209.8 237.6L209.7 238.1L209.7 238.5L209.6 239.0L209.5 239.4L209.5 239.9L209.4 240.3L209.4 240.8L209.3 241.2L209.3 241.7L209.2 242.1L209.2 242.6L209.1 243.0L209.1 243.5L209.0 243.9L209.0 244.4L209.0 244.8L208.9 245.3L208.9 245.7L208.9 246.2L208.8 246.6L208.8 247.1L208.8 247.5L208.8 248.0L208.7 248.4L208.7 248.9L208.7 249.3L208.7 249.8L208.7 250.2L208.2 250.2L208.2 249.8L208.1 249.3L208.1 248.9L208.1 248.4L208.1 248.0L208.0 247.5L208.0 247.1L208.0 246.6L208.0 246.2L207.9 245.7L207.9 245.3L207.9 244.8L207.8 244.4L207.8 243.9L207.8 243.5L207.7 243.0L207.7 242.6L207.6 242.1L207.6 241.7L207.5 241.2L207.5 240.8L207.4 240.3L207.4 239.9L207.3 239.4L207.2 239.0L207.2 238.5L207.1 238.1L207.1 237.6L207.0 237.2L206.9 236.8L206.8 236.3L206.7 235.9L206.6 235.4L206.5 235.0L206.3 234.5L206.1 234.1L205.7 233.6L205.3 233.2L204.8 232.7L204.2 232.3L203.9 231.8L204.1 231.4L204.7 230.9L205.6 230.5L206.4 230.0L207.2 229.6L207.7 229.1L208.0 228.7L208.2 228.2Z" fill="#1B9E77"/>
<path d="M205.1 233.0H211.7" class="md"/>
<path d="M222.3 227.3V255.4" class="tl2"/>
<path d="M222.5 228.6L222.8 229.1L223.2 229.5L223.8 230.0L224.5 230.4L225.4 230.9L226.1 231.3L226.5 231.8L226.5 232.2L226.1 232.7L225.5 233.1L225.1 233.6L224.7 234.0L224.4 234.5L224.2 234.9L224.0 235.4L223.9 235.8L223.8 236.2L223.8 236.7L223.7 237.1L223.6 237.6L223.5 238.0L223.5 238.5L223.4 238.9L223.4 239.4L223.3 239.8L223.2 240.3L223.2 240.7L223.1 241.2L223.1 241.6L223.0 242.1L223.0 242.5L223.0 243.0L222.9 243.4L222.9 243.9L222.8 244.3L222.8 244.8L222.8 245.2L222.7 245.7L222.7 246.1L222.7 246.6L222.7 247.0L222.6 247.5L222.6 247.9L222.6 248.4L222.6 248.8L222.5 249.3L222.5 249.7L222.5 250.2L222.0 250.2L222.0 249.7L222.0 249.3L222.0 248.8L221.9 248.4L221.9 247.9L221.9 247.5L221.9 247.0L221.8 246.6L221.8 246.1L221.8 245.7L221.8 245.2L221.7 244.8L221.7 244.3L221.7 243.9L221.6 243.4L221.6 243.0L221.5 242.5L221.5 242.1L221.4 241.6L221.4 241.2L221.3 240.7L221.3 240.3L221.2 239.8L221.2 239.4L221.1 238.9L221.1 238.5L221.0 238.0L220.9 237.6L220.9 237.1L220.8 236.7L220.7 236.2L220.6 235.8L220.5 235.4L220.3 234.9L220.1 234.5L219.9 234.0L219.5 233.6L219.0 233.1L218.5 232.7L218.1 232.2L218.0 231.8L218.5 231.3L219.2 230.9L220.0 230.4L220.8 230.0L221.4 229.5L221.8 229.1L222.0 228.6Z" fill="#1B9E77"/>
<path d="M219.1 233.2H225.4" class="md"/>
<path d="M236.1 227.0V255.4" class="tl2"/>
<path d="M236.3 228.1L236.6 228.6L237.0 229.0L237.5 229.5L238.2 229.9L239.0 230.4L239.7 230.8L240.1 231.3L240.0 231.7L239.6 232.2L239.2 232.6L238.7 233.1L238.4 233.5L238.1 234.0L237.9 234.4L237.8 234.9L237.7 235.3L237.6 235.8L237.5 236.2L237.4 236.6L237.4 237.1L237.3 237.5L237.2 238.0L237.2 238.4L237.1 238.9L237.1 239.3L237.0 239.8L237.0 240.2L236.9 240.7L236.9 241.1L236.8 241.6L236.8 242.0L236.8 242.5L236.7 242.9L236.7 243.4L236.6 243.8L236.6 244.3L236.6 244.7L236.6 245.2L236.5 245.6L236.5 246.1L236.5 246.5L236.5 247.0L236.4 247.4L236.4 247.9L236.4 248.3L236.4 248.8L236.4 249.1L235.9 249.1L235.9 248.8L235.8 248.3L235.8 247.9L235.8 247.4L235.8 247.0L235.7 246.5L235.7 246.1L235.7 245.6L235.7 245.2L235.6 244.7L235.6 244.3L235.6 243.8L235.5 243.4L235.5 242.9L235.5 242.5L235.4 242.0L235.4 241.6L235.3 241.1L235.3 240.7L235.3 240.2L235.2 239.8L235.1 239.3L235.1 238.9L235.0 238.4L235.0 238.0L234.9 237.5L234.9 237.1L234.8 236.6L234.7 236.2L234.7 235.8L234.6 235.3L234.5 234.9L234.3 234.4L234.1 234.0L233.9 233.5L233.5 233.1L233.1 232.6L232.6 232.2L232.2 231.7L232.2 231.3L232.6 230.8L233.2 230.4L234.0 229.9L234.7 229.5L235.3 229.0L235.7 228.6L235.9 228.1Z" fill="#1B9E77"/>
<path d="M233.5 233.0H238.8" class="md"/>
<path d="M250.0 228.0V255.4" class="tl2"/>
<path d="M250.2 228.1L250.2 228.6L250.3 229.0L250.4 229.5L250.4 229.9L250.5 230.4L250.7 230.8L250.8 231.3L250.9 231.7L251.1 232.2L251.3 232.6L251.5 233.1L251.8 233.5L252.1 234.0L252.4 234.4L252.7 234.9L253.0 235.3L253.3 235.8L253.6 236.2L253.7 236.7L253.5 237.1L253.2 237.6L252.9 238.0L252.7 238.5L252.4 238.9L252.1 239.4L251.9 239.8L251.7 240.3L251.5 240.7L251.3 241.2L251.1 241.6L251.0 242.1L250.9 242.5L250.8 243.0L250.7 243.4L250.6 243.9L250.5 244.3L250.4 244.8L250.4 245.2L250.3 245.7L250.3 246.1L250.2 246.6L250.2 246.7L249.7 246.7L249.7 246.6L249.7 246.1L249.6 245.7L249.6 245.2L249.5 244.8L249.4 244.3L249.4 243.9L249.3 243.4L249.2 243.0L249.1 242.5L248.9 242.1L248.8 241.6L248.6 241.2L248.4 240.7L248.2 240.3L248.0 239.8L247.8 239.4L247.5 238.9L247.3 238.5L247.0 238.0L246.7 237.6L246.4 237.1L246.2 236.7L246.3 236.2L246.6 235.8L246.9 235.3L247.2 234.9L247.6 234.4L247.9 234.0L248.1 233.5L248.4 233.1L248.6 232.6L248.8 232.2L249.0 231.7L249.1 231.3L249.3 230.8L249.4 230.4L249.5 229.9L249.6 229.5L249.6 229.0L249.7 228.6L249.7 228.1Z" fill="#1B9E77"/>
<path d="M247.1 238.2H252.8" class="md"/>
<path d="M263.8 228.5V255.4" class="tl2"/>
<path d="M264.4 228.5L265.0 228.9L265.8 229.4L266.8 229.8L268.0 230.3L269.0 230.7L269.7 231.2L269.7 231.6L269.2 232.1L268.5 232.5L267.8 233.0L267.2 233.4L266.8 233.9L266.5 234.3L266.3 234.8L266.1 235.2L266.0 235.7L265.9 236.1L265.8 236.6L265.7 237.0L265.6 237.5L265.5 237.9L265.4 238.4L265.3 238.8L265.3 239.3L265.2 239.7L265.1 240.2L265.0 240.6L265.0 241.1L264.9 241.5L264.8 242.0L264.8 242.4L264.7 242.9L264.7 243.3L264.6 243.8L264.6 244.2L264.5 244.7L264.5 245.1L264.4 245.6L264.4 246.0L264.4 246.5L264.3 246.9L264.3 247.4L264.3 247.8L264.2 248.3L264.2 248.7L264.2 249.2L264.1 249.6L264.1 250.1L264.1 250.5L264.1 251.0L264.1 251.4L264.1 251.7L263.6 251.7L263.5 251.4L263.5 251.0L263.5 250.5L263.5 250.1L263.5 249.6L263.4 249.2L263.4 248.7L263.4 248.3L263.4 247.8L263.3 247.4L263.3 246.9L263.3 246.5L263.2 246.0L263.2 245.6L263.1 245.1L263.1 244.7L263.0 244.2L263.0 243.8L262.9 243.3L262.9 242.9L262.8 242.4L262.8 242.0L262.7 241.5L262.6 241.1L262.6 240.6L262.5 240.2L262.4 239.7L262.4 239.3L262.3 238.8L262.2 238.4L262.1 237.9L262.0 237.5L261.9 237.0L261.8 236.6L261.7 236.1L261.6 235.7L261.5 235.2L261.3 234.8L261.1 234.3L260.8 233.9L260.4 233.4L259.8 233.0L259.2 232.5L258.4 232.1L257.9 231.6L257.9 231.2L258.6 230.7L259.6 230.3L260.8 229.8L261.8 229.4L262.6 228.9L263.2 228.5Z" fill="#1B9E77"/>
<path d="M259.8 233.0H267.8" class="md"/>
<path d="M277.7 228.5V255.4" class="tl2"/>
<path d="M278.3 228.5L278.9 228.9L279.7 229.4L280.8 229.8L282.0 230.3L283.0 230.7L283.7 231.2L283.8 231.6L283.2 232.1L282.5 232.5L281.8 233.0L281.2 233.4L280.8 233.9L280.5 234.3L280.2 234.8L280.1 235.2L279.9 235.7L279.8 236.1L279.7 236.6L279.6 237.0L279.5 237.5L279.4 237.9L279.3 238.4L279.2 238.8L279.2 239.3L279.1 239.7L279.0 240.2L278.9 240.6L278.9 241.1L278.8 241.5L278.7 242.0L278.7 242.4L278.6 242.9L278.5 243.3L278.5 243.8L278.4 244.2L278.4 244.7L278.3 245.1L278.3 245.6L278.3 246.0L278.2 246.5L278.2 246.9L278.2 247.4L278.1 247.8L278.1 248.3L278.1 248.7L278.0 249.2L278.0 249.6L278.0 250.1L278.0 250.5L277.9 251.0L277.9 251.4L277.9 251.9L277.4 251.9L277.4 251.4L277.4 251.0L277.3 250.5L277.3 250.1L277.3 249.6L277.3 249.2L277.2 248.7L277.2 248.3L277.2 247.8L277.2 247.4L277.1 246.9L277.1 246.5L277.0 246.0L277.0 245.6L277.0 245.1L276.9 244.7L276.9 244.2L276.8 243.8L276.8 243.3L276.7 242.9L276.6 242.4L276.6 242.0L276.5 241.5L276.5 241.1L276.4 240.6L276.3 240.2L276.2 239.7L276.1 239.3L276.1 238.8L276.0 238.4L275.9 237.9L275.8 237.5L275.7 237.0L275.6 236.6L275.5 236.1L275.4 235.7L275.2 235.2L275.1 234.8L274.9 234.3L274.5 233.9L274.1 233.4L273.5 233.0L272.9 232.5L272.1 232.1L271.5 231.6L271.6 231.2L272.3 230.7L273.3 230.3L274.5 229.8L275.6 229.4L276.4 228.9L277.0 228.5Z" fill="#1B9E77"/>
<path d="M273.5 233.0H281.8" class="md"/>
<path d="M291.5 228.3V255.4" class="tl2"/>
<path d="M291.9 228.3L292.3 228.8L293.0 229.2L293.8 229.6L294.9 230.1L295.9 230.5L296.7 231.0L297.0 231.4L296.7 231.9L296.1 232.3L295.4 232.8L294.8 233.2L294.4 233.7L294.1 234.1L293.9 234.6L293.7 235.0L293.6 235.5L293.5 235.9L293.4 236.4L293.3 236.8L293.2 237.3L293.1 237.7L293.0 238.2L292.9 238.6L292.9 239.1L292.8 239.5L292.7 240.0L292.7 240.4L292.6 240.9L292.5 241.3L292.5 241.8L292.4 242.2L292.4 242.7L292.3 243.1L292.3 243.6L292.2 244.0L292.2 244.5L292.1 244.9L292.1 245.4L292.1 245.8L292.0 246.3L292.0 246.7L292.0 247.2L291.9 247.6L291.9 248.1L291.9 248.5L291.8 249.0L291.8 249.4L291.8 249.9L291.8 250.3L291.8 250.8L291.7 251.1L291.2 251.1L291.2 250.8L291.2 250.3L291.2 249.9L291.2 249.4L291.2 249.0L291.1 248.5L291.1 248.1L291.1 247.6L291.0 247.2L291.0 246.7L291.0 246.3L290.9 245.8L290.9 245.4L290.9 244.9L290.8 244.5L290.8 244.0L290.7 243.6L290.7 243.1L290.6 242.7L290.6 242.2L290.5 241.8L290.5 241.3L290.4 240.9L290.3 240.4L290.3 240.0L290.2 239.5L290.1 239.1L290.1 238.6L290.0 238.2L289.9 237.7L289.8 237.3L289.7 236.8L289.6 236.4L289.5 235.9L289.4 235.5L289.3 235.0L289.1 234.6L288.9 234.1L288.6 233.7L288.2 233.2L287.6 232.8L286.9 232.3L286.3 231.9L286.0 231.4L286.3 231.0L287.1 230.5L288.1 230.1L289.2 229.6L290.0 229.2L290.7 228.8L291.1 228.3Z" fill="#1B9E77"/>
<path d="M287.9 233.0H295.1" class="md"/>
<path d="M305.3 228.3V255.4" class="tl2"/>
<path d="M305.7 228.3L306.1 228.8L306.6 229.2L307.4 229.6L308.3 230.1L309.2 230.5L309.9 231.0L310.1 231.4L309.9 231.9L309.3 232.3L308.8 232.8L308.3 233.2L307.9 233.7L307.6 234.1L307.4 234.6L307.3 235.0L307.1 235.5L307.1 235.9L307.0 236.4L306.9 236.8L306.8 237.3L306.7 237.7L306.7 238.2L306.6 238.6L306.5 239.1L306.5 239.5L306.4 240.0L306.4 240.4L306.3 240.9L306.2 241.3L306.2 241.8L306.1 242.2L306.1 242.7L306.1 243.1L306.0 243.6L306.0 244.0L305.9 244.5L305.9 244.9L305.9 245.4L305.8 245.8L305.8 246.3L305.8 246.7L305.7 247.2L305.7 247.6L305.7 248.1L305.7 248.5L305.6 249.0L305.6 249.4L305.6 249.9L305.6 250.3L305.1 250.3L305.1 249.9L305.1 249.4L305.0 249.0L305.0 248.5L305.0 248.1L305.0 247.6L304.9 247.2L304.9 246.7L304.9 246.3L304.9 245.8L304.8 245.4L304.8 244.9L304.8 244.5L304.7 244.0L304.7 243.6L304.6 243.1L304.6 242.7L304.5 242.2L304.5 241.8L304.4 241.3L304.4 240.9L304.3 240.4L304.3 240.0L304.2 239.5L304.2 239.1L304.1 238.6L304.0 238.2L304.0 237.7L303.9 237.3L303.8 236.8L303.7 236.4L303.6 235.9L303.5 235.5L303.4 235.0L303.3 234.6L303.1 234.1L302.8 233.7L302.4 233.2L301.9 232.8L301.4 232.3L300.8 231.9L300.5 231.4L300.8 231.0L301.5 230.5L302.4 230.1L303.3 229.6L304.1 229.2L304.6 228.8L305.0 228.3Z" fill="#1B9E77"/>
<path d="M302.4 233.2H308.3" class="md"/>
<path d="M319.2 228.3V255.4" class="tl2"/>
<path d="M319.6 228.3L320.0 228.8L320.6 229.2L321.4 229.6L322.4 230.1L323.3 230.5L324.1 231.0L324.4 231.4L324.1 231.9L323.5 232.3L322.9 232.8L322.4 233.2L321.9 233.7L321.6 234.1L321.4 234.6L321.3 235.0L321.1 235.5L321.0 235.9L320.9 236.4L320.9 236.8L320.8 237.3L320.7 237.7L320.6 238.2L320.6 238.6L320.5 239.1L320.4 239.5L320.3 240.0L320.3 240.4L320.2 240.9L320.2 241.3L320.1 241.8L320.1 242.2L320.0 242.7L320.0 243.1L319.9 243.6L319.9 244.0L319.8 244.5L319.8 244.9L319.8 245.4L319.7 245.8L319.7 246.3L319.7 246.7L319.6 247.2L319.6 247.6L319.6 248.1L319.5 248.5L319.5 249.0L319.5 249.4L319.5 249.9L319.5 250.3L319.4 250.8L319.4 250.9L318.9 250.9L318.9 250.8L318.9 250.3L318.9 249.9L318.9 249.4L318.9 249.0L318.8 248.5L318.8 248.1L318.8 247.6L318.8 247.2L318.7 246.7L318.7 246.3L318.7 245.8L318.6 245.4L318.6 244.9L318.6 244.5L318.5 244.0L318.5 243.6L318.4 243.1L318.4 242.7L318.3 242.2L318.3 241.8L318.2 241.3L318.2 240.9L318.1 240.4L318.0 240.0L318.0 239.5L317.9 239.1L317.8 238.6L317.8 238.2L317.7 237.7L317.6 237.3L317.5 236.8L317.4 236.4L317.3 235.9L317.2 235.5L317.1 235.0L317.0 234.6L316.7 234.1L316.4 233.7L316.0 233.2L315.5 232.8L314.9 232.3L314.3 231.9L314.0 231.4L314.3 231.0L315.0 230.5L316.0 230.1L317.0 229.6L317.8 229.2L318.4 228.8L318.8 228.3Z" fill="#1B9E77"/>
<path d="M316.0 233.2H322.4" class="md"/>
</g>
<line x1="48.3" y1="230.6" x2="327.0" y2="230.6" stroke="#f01818" stroke-width="0.95" stroke-dasharray="0.95 1.75"/>
<text transform="translate(44.30,209.10) scale(1,1.09)" text-anchor="end" fill="#383838" style="font-size:9.4px;" >2.0</text>
<text transform="translate(44.30,232.30) scale(1,1.09)" text-anchor="end" fill="#383838" style="font-size:9.4px;" >1.0</text>
<text transform="translate(44.30,254.90) scale(1,1.09)" text-anchor="end" fill="#383838" style="font-size:9.4px;" >0.0</text>
<line x1="47.599999999999994" y1="207.60" x2="48.699999999999996" y2="207.60" stroke="#555" stroke-width="0.6"/>
<line x1="47.599999999999994" y1="219.20" x2="48.699999999999996" y2="219.20" stroke="#555" stroke-width="0.6"/>
<line x1="47.599999999999994" y1="230.80" x2="48.699999999999996" y2="230.80" stroke="#555" stroke-width="0.6"/>
<line x1="47.599999999999994" y1="242.10" x2="48.699999999999996" y2="242.10" stroke="#555" stroke-width="0.6"/>
<line x1="47.599999999999994" y1="253.40" x2="48.699999999999996" y2="253.40" stroke="#555" stroke-width="0.6"/>
<text transform="translate(333.20,230.30) rotate(90) scale(1,1.06)" text-anchor="middle" fill="#17704F" style="font-size:9.2px;font-weight:bold;font-style:italic;">E. coli</text>
<rect x="47.8" y="261.2" width="279.70" height="50.20" fill="none" stroke="#9a9a9a" stroke-width="0.75"/>
<clipPath id="c140590430260736"><rect x="47.8" y="261.2" width="279.7" height="50.19999999999999"/></clipPath>
<g clip-path="url(#c140590430260736)" stroke="#2a2a2a" stroke-width="0.5" stroke-linejoin="round">
<path d="M56.1 282.4V311.4" class="tl"/>
<path d="M56.4 282.4L56.5 282.8L56.6 283.3L56.8 283.7L57.0 284.2L57.3 284.6L57.6 285.1L58.0 285.5L58.4 286.0L58.6 286.4L58.3 286.9L58.0 287.3L57.7 287.8L57.4 288.2L57.2 288.7L57.0 289.1L56.8 289.6L56.7 290.0L56.6 290.5L56.5 290.9L56.4 291.4L56.3 291.7L55.9 291.7L55.8 291.4L55.7 290.9L55.6 290.5L55.5 290.0L55.4 289.6L55.2 289.1L55.0 288.7L54.8 288.2L54.5 287.8L54.2 287.3L53.9 286.9L53.7 286.4L53.8 286.0L54.2 285.5L54.6 285.1L54.9 284.6L55.2 284.2L55.4 283.7L55.6 283.3L55.8 282.8L55.9 282.4Z" fill="#D95F02"/>
<path d="M52.6 287.0H59.6" class="md"/>
<path d="M70.0 278.4V311.4" class="tl"/>
<path d="M70.2 280.6L70.2 281.1L70.3 281.5L70.3 282.0L70.3 282.4L70.4 282.9L70.4 283.3L70.5 283.8L70.5 284.2L70.6 284.7L70.6 285.1L70.7 285.6L70.7 286.0L70.7 286.5L70.8 286.9L70.7 287.4L70.7 287.8L70.7 288.3L70.6 288.7L70.6 289.2L70.5 289.6L70.5 290.1L70.4 290.5L70.4 291.0L70.3 291.4L70.3 291.9L70.3 292.3L70.2 292.8L70.2 293.0L69.7 293.0L69.7 292.8L69.7 292.3L69.6 291.9L69.6 291.4L69.5 291.0L69.5 290.5L69.4 290.1L69.4 289.6L69.3 289.2L69.3 288.7L69.2 288.3L69.2 287.8L69.2 287.4L69.2 286.9L69.2 286.5L69.2 286.0L69.2 285.6L69.3 285.1L69.3 284.7L69.4 284.2L69.4 283.8L69.5 283.3L69.5 282.9L69.6 282.4L69.6 282.0L69.6 281.5L69.7 281.1L69.7 280.6Z" fill="#D95F02"/>
<path d="M66.5 288.3H73.5" class="md"/>
<path d="M83.8 282.5V311.4" class="tl"/>
<path d="M84.1 282.5L84.2 282.9L84.4 283.4L84.6 283.8L84.9 284.3L85.2 284.7L85.6 285.2L86.0 285.6L86.5 286.1L86.5 286.5L86.2 287.0L85.8 287.4L85.5 287.9L85.2 288.3L85.0 288.8L84.8 289.2L84.6 289.7L84.4 290.1L84.3 290.6L84.2 291.0L84.1 291.5L84.0 291.9L83.6 291.9L83.5 291.5L83.4 291.0L83.3 290.6L83.2 290.1L83.0 289.7L82.8 289.2L82.6 288.8L82.4 288.3L82.1 287.9L81.8 287.4L81.4 287.0L81.1 286.5L81.1 286.1L81.6 285.6L82.0 285.2L82.4 284.7L82.7 284.3L83.0 283.8L83.2 283.4L83.4 282.9L83.5 282.5Z" fill="#D95F02"/>
<path d="M80.3 287.0H87.3" class="md"/>
<path d="M97.6 278.4V311.4" class="tl"/>
<path d="M97.9 280.5L97.9 281.0L98.0 281.4L98.0 281.9L98.1 282.3L98.1 282.8L98.1 283.2L98.2 283.7L98.2 284.1L98.3 284.6L98.3 285.0L98.4 285.5L98.4 285.9L98.4 286.4L98.4 286.8L98.4 287.3L98.4 287.7L98.3 288.2L98.3 288.6L98.2 289.1L98.2 289.5L98.1 290.0L98.1 290.4L98.0 290.9L98.0 291.3L98.0 291.8L97.9 292.2L97.9 292.5L97.4 292.5L97.4 292.2L97.3 291.8L97.3 291.3L97.3 290.9L97.2 290.4L97.2 290.0L97.1 289.5L97.1 289.1L97.0 288.6L97.0 288.2L96.9 287.7L96.9 287.3L96.9 286.8L96.9 286.4L96.9 285.9L96.9 285.5L97.0 285.0L97.0 284.6L97.1 284.1L97.1 283.7L97.2 283.2L97.2 282.8L97.2 282.3L97.3 281.9L97.3 281.4L97.4 281.0L97.4 280.5Z" fill="#D95F02"/>
<path d="M94.1 287.6H101.1" class="md"/>
<path d="M111.5 284.6V311.4" class="tl"/>
<path d="M111.6 284.8L112.6 285.3L115.2 285.7L116.3 286.2L115.4 286.6L114.4 287.1L113.6 287.5L113.0 287.9L112.6 288.4L112.4 288.8L112.3 289.3L112.2 289.7L112.1 290.2L112.0 290.6L111.9 291.1L111.9 291.5L111.8 292.0L111.8 292.4L111.8 292.9L111.7 293.3L111.7 293.4L111.3 293.4L111.3 293.3L111.2 292.9L111.2 292.4L111.1 292.0L111.1 291.5L111.0 291.1L111.0 290.6L110.9 290.2L110.8 289.7L110.7 289.3L110.6 288.8L110.3 288.4L110.0 287.9L109.4 287.5L108.6 287.1L107.6 286.6L106.7 286.2L107.7 285.7L110.4 285.3L111.3 284.8Z" fill="#D95F02"/>
<path d="M106.9 286.3H116.1" class="md"/>
<path d="M125.3 284.6V311.4" class="tl"/>
<path d="M125.5 284.8L126.7 285.3L129.8 285.7L131.2 286.2L130.0 286.6L128.8 287.1L127.9 287.5L127.2 287.9L126.7 288.4L126.4 288.8L126.3 289.3L126.1 289.7L126.0 290.2L125.9 290.6L125.9 291.1L125.8 291.5L125.8 292.0L125.7 292.4L125.7 292.9L125.6 293.3L125.6 293.8L125.6 294.0L125.1 294.0L125.1 293.8L125.1 293.3L125.0 292.9L125.0 292.4L124.9 292.0L124.9 291.5L124.8 291.1L124.7 290.6L124.7 290.2L124.6 289.7L124.4 289.3L124.2 288.8L124.0 288.4L123.5 287.9L122.8 287.5L121.8 287.1L120.6 286.6L119.5 286.2L120.8 285.7L124.0 285.3L125.2 284.8Z" fill="#D95F02"/>
<path d="M119.9 286.3H130.8" class="md"/>
<path d="M139.2 282.4V311.4" class="tl"/>
<path d="M139.5 282.4L139.6 282.8L139.7 283.3L139.9 283.7L140.2 284.2L140.5 284.6L140.9 285.1L141.3 285.5L141.8 286.0L141.9 286.4L141.6 286.9L141.3 287.3L141.0 287.8L140.7 288.2L140.4 288.7L140.2 289.1L140.0 289.6L139.8 290.0L139.7 290.5L139.6 290.9L139.5 291.4L139.4 291.8L139.4 291.9L138.9 291.9L138.9 291.8L138.9 291.4L138.8 290.9L138.7 290.5L138.5 290.0L138.4 289.6L138.2 289.1L138.0 288.7L137.7 288.2L137.4 287.8L137.1 287.3L136.7 286.9L136.4 286.4L136.6 286.0L137.1 285.5L137.5 285.1L137.9 284.6L138.2 284.2L138.4 283.7L138.6 283.3L138.8 282.8L138.9 282.4Z" fill="#D95F02"/>
<path d="M136.5 286.6H141.8" class="md"/>
<path d="M153.0 281.4V311.4" class="tl"/>
<path d="M153.3 281.5L153.4 282.0L153.5 282.4L153.6 282.9L153.7 283.3L153.9 283.8L154.2 284.2L154.4 284.7L154.7 285.1L155.1 285.6L155.4 286.0L155.5 286.5L155.2 286.9L154.9 287.4L154.6 287.8L154.4 288.3L154.1 288.7L153.9 289.2L153.8 289.6L153.6 290.1L153.5 290.5L153.4 291.0L153.3 291.4L153.3 291.7L152.8 291.7L152.8 291.4L152.7 291.0L152.6 290.5L152.5 290.1L152.3 289.6L152.1 289.2L151.9 288.7L151.7 288.3L151.4 287.8L151.1 287.4L150.8 286.9L150.6 286.5L150.7 286.0L151.0 285.6L151.3 285.1L151.6 284.7L151.9 284.2L152.1 283.8L152.3 283.3L152.5 282.9L152.6 282.4L152.7 282.0L152.8 281.5Z" fill="#D95F02"/>
<path d="M150.7 286.6H155.4" class="md"/>
<path d="M166.9 277.1V311.4" class="tl"/>
<path d="M167.1 280.2L167.2 280.7L167.2 281.1L167.2 281.6L167.2 282.0L167.3 282.5L167.3 282.9L167.3 283.4L167.4 283.8L167.4 284.3L167.5 284.7L167.5 285.2L167.5 285.6L167.5 286.1L167.6 286.5L167.6 287.0L167.6 287.4L167.5 287.9L167.5 288.3L167.5 288.8L167.4 289.2L167.4 289.7L167.3 290.1L167.3 290.6L167.3 291.0L167.2 291.5L167.2 291.9L167.1 292.4L167.1 292.6L166.6 292.6L166.6 292.4L166.6 291.9L166.5 291.5L166.5 291.0L166.5 290.6L166.4 290.1L166.4 289.7L166.3 289.2L166.3 288.8L166.3 288.3L166.2 287.9L166.2 287.4L166.2 287.0L166.2 286.5L166.2 286.1L166.2 285.6L166.3 285.2L166.3 284.7L166.3 284.3L166.4 283.8L166.4 283.4L166.5 282.9L166.5 282.5L166.5 282.0L166.5 281.6L166.6 281.1L166.6 280.7L166.6 280.2Z" fill="#D95F02"/>
<path d="M163.4 288.3H170.4" class="md"/>
<path d="M180.7 285.0V311.4" class="tl"/>
<path d="M181.0 285.0L181.1 285.4L181.2 285.9L181.3 286.3L181.4 286.8L181.6 287.2L181.8 287.7L182.1 288.1L182.3 288.6L182.7 289.0L183.0 289.5L183.3 289.9L183.5 290.4L183.2 290.8L182.8 291.3L182.4 291.7L182.1 292.2L181.8 292.6L181.6 293.1L181.4 293.5L181.3 294.0L181.1 294.4L181.0 294.9L181.0 295.3L180.5 295.3L180.4 294.9L180.3 294.4L180.2 294.0L180.0 293.5L179.8 293.1L179.6 292.6L179.3 292.2L179.0 291.7L178.7 291.3L178.3 290.8L178.0 290.4L178.1 289.9L178.4 289.5L178.8 289.0L179.1 288.6L179.4 288.1L179.6 287.7L179.9 287.2L180.0 286.8L180.2 286.3L180.3 285.9L180.4 285.4L180.5 285.0Z" fill="#D95F02"/>
<path d="M177.9 290.3H183.5" class="md"/>
<path d="M194.6 283.0V309.3" class="tl"/>
<path d="M194.8 283.1L194.9 283.6L195.1 284.0L195.3 284.5L195.6 284.9L196.0 285.4L196.4 285.8L196.8 286.3L196.7 286.7L196.5 287.2L196.2 287.6L196.0 288.1L195.8 288.5L195.6 289.0L195.4 289.4L195.2 289.9L195.1 290.3L195.0 290.8L194.9 291.2L194.8 291.6L194.8 291.9L194.3 291.9L194.3 291.6L194.2 291.2L194.1 290.8L194.0 290.3L193.9 289.9L193.8 289.4L193.6 289.0L193.4 288.5L193.2 288.1L192.9 287.6L192.7 287.2L192.4 286.7L192.3 286.3L192.7 285.8L193.1 285.4L193.5 284.9L193.8 284.5L194.1 284.0L194.2 283.6L194.3 283.1Z" fill="#D95F02"/>
<path d="M192.4 286.6H196.8" class="md"/>
<path d="M208.4 284.6V311.4" class="tl"/>
<path d="M208.6 284.8L209.5 285.3L212.2 285.7L213.3 286.2L212.3 286.6L211.3 287.1L210.5 287.5L209.9 287.9L209.6 288.4L209.3 288.8L209.2 289.3L209.1 289.7L209.0 290.2L208.9 290.6L208.9 291.1L208.8 291.5L208.8 292.0L208.7 292.4L208.7 292.9L208.7 293.3L208.7 293.4L208.2 293.4L208.2 293.3L208.1 292.9L208.1 292.4L208.1 292.0L208.0 291.5L208.0 291.1L207.9 290.6L207.8 290.2L207.8 289.7L207.7 289.3L207.5 288.8L207.3 288.4L206.9 287.9L206.3 287.5L205.5 287.1L204.5 286.6L203.6 286.2L204.7 285.7L207.3 285.3L208.3 284.8Z" fill="#D95F02"/>
<path d="M203.8 286.3H213.0" class="md"/>
<path d="M222.3 283.5V311.4" class="tl"/>
<path d="M222.4 283.8L222.8 284.3L223.4 284.7L224.3 285.2L225.3 285.6L225.8 286.1L225.4 286.5L224.8 287.0L224.3 287.4L223.9 287.9L223.5 288.3L223.2 288.8L223.0 289.2L222.9 289.6L222.8 290.1L222.7 290.5L222.6 291.0L222.6 291.4L222.5 291.9L222.5 292.2L222.0 292.2L222.0 291.9L222.0 291.4L221.9 291.0L221.9 290.5L221.8 290.1L221.7 289.6L221.5 289.2L221.3 288.8L221.0 288.3L220.7 287.9L220.2 287.4L219.7 287.0L219.2 286.5L218.8 286.1L219.2 285.6L220.2 285.2L221.2 284.7L221.8 284.3L222.1 283.8Z" fill="#D95F02"/>
<path d="M219.0 286.3H225.6" class="md"/>
<path d="M236.1 271.9V311.4" class="tl"/>
<path d="M236.4 276.8L236.4 277.3L236.4 277.7L236.4 278.2L236.4 278.6L236.5 279.1L236.5 279.5L236.5 280.0L236.5 280.4L236.5 280.9L236.6 281.3L236.6 281.8L236.6 282.2L236.6 282.7L236.7 283.1L236.7 283.6L236.7 284.0L236.7 284.5L236.7 284.9L236.8 285.4L236.8 285.8L236.8 286.3L236.7 286.7L236.7 287.2L236.7 287.6L236.6 288.1L236.6 288.5L236.6 289.0L236.5 289.4L236.5 289.9L236.5 290.3L236.4 290.8L236.4 291.2L236.4 291.7L236.4 292.0L235.9 292.0L235.9 291.7L235.8 291.2L235.8 290.8L235.8 290.3L235.7 289.9L235.7 289.4L235.7 289.0L235.6 288.5L235.6 288.1L235.5 287.6L235.5 287.2L235.5 286.7L235.5 286.3L235.5 285.8L235.5 285.4L235.5 284.9L235.5 284.5L235.5 284.0L235.5 283.6L235.6 283.1L235.6 282.7L235.6 282.2L235.6 281.8L235.7 281.3L235.7 280.9L235.7 280.4L235.7 280.0L235.7 279.5L235.8 279.1L235.8 278.6L235.8 278.2L235.8 277.7L235.8 277.3L235.9 276.8Z" fill="#D95F02"/>
<path d="M232.8 288.3H239.4" class="md"/>
<path d="M250.0 284.3V311.4" class="tl"/>
<path d="M250.2 284.3L250.3 284.8L250.4 285.2L250.5 285.6L250.6 286.1L250.8 286.5L251.0 287.0L251.2 287.4L251.4 287.9L251.7 288.3L252.0 288.8L252.3 289.2L252.4 289.7L252.1 290.1L251.8 290.6L251.5 291.0L251.2 291.5L251.0 291.9L250.8 292.4L250.6 292.8L250.5 293.3L250.4 293.7L250.3 294.2L250.2 294.6L249.7 294.6L249.7 294.2L249.6 293.7L249.4 293.3L249.3 292.8L249.1 292.4L248.9 291.9L248.7 291.5L248.4 291.0L248.1 290.6L247.8 290.1L247.5 289.7L247.6 289.2L247.9 288.8L248.2 288.3L248.5 287.9L248.7 287.4L249.0 287.0L249.1 286.5L249.3 286.1L249.4 285.6L249.5 285.2L249.6 284.8L249.7 284.3Z" fill="#D95F02"/>
<path d="M247.5 289.6H252.5" class="md"/>
<path d="M263.8 269.9V311.4" class="tl"/>
<path d="M264.0 275.4L264.1 275.9L264.1 276.3L264.1 276.8L264.1 277.2L264.1 277.7L264.2 278.1L264.2 278.6L264.2 279.0L264.2 279.5L264.2 279.9L264.2 280.4L264.3 280.8L264.3 281.3L264.3 281.7L264.3 282.2L264.3 282.6L264.4 283.1L264.4 283.5L264.4 284.0L264.4 284.4L264.4 284.9L264.4 285.3L264.5 285.8L264.5 286.2L264.4 286.7L264.4 287.1L264.4 287.6L264.3 288.0L264.3 288.5L264.3 288.9L264.2 289.4L264.2 289.8L264.2 290.3L264.1 290.7L264.1 291.2L264.1 291.6L264.0 292.0L263.6 292.0L263.5 291.6L263.5 291.2L263.5 290.7L263.4 290.3L263.4 289.8L263.4 289.4L263.3 288.9L263.3 288.5L263.3 288.0L263.2 287.6L263.2 287.1L263.2 286.7L263.2 286.2L263.2 285.8L263.2 285.3L263.2 284.9L263.2 284.4L263.2 284.0L263.2 283.5L263.2 283.1L263.3 282.6L263.3 282.2L263.3 281.7L263.3 281.3L263.3 280.8L263.4 280.4L263.4 279.9L263.4 279.5L263.4 279.0L263.4 278.6L263.5 278.1L263.5 277.7L263.5 277.2L263.5 276.8L263.5 276.3L263.5 275.9L263.6 275.4Z" fill="#D95F02"/>
<path d="M260.3 287.4H267.3" class="md"/>
<path d="M277.7 281.3V311.4" class="tl"/>
<path d="M277.9 281.3L278.0 281.8L278.1 282.2L278.3 282.6L278.4 283.1L278.6 283.5L278.9 284.0L279.1 284.4L279.5 284.9L279.8 285.3L280.2 285.8L280.5 286.2L280.6 286.7L280.3 287.1L279.9 287.6L279.6 288.0L279.3 288.5L279.0 288.9L278.8 289.4L278.6 289.8L278.4 290.3L278.3 290.7L278.2 291.2L278.1 291.6L278.0 292.1L277.9 292.5L277.9 292.7L277.4 292.7L277.4 292.5L277.3 292.1L277.3 291.6L277.2 291.2L277.0 290.7L276.9 290.3L276.7 289.8L276.5 289.4L276.3 288.9L276.0 288.5L275.7 288.0L275.4 287.6L275.0 287.1L274.7 286.7L274.8 286.2L275.1 285.8L275.5 285.3L275.8 284.9L276.2 284.4L276.4 284.0L276.7 283.5L276.9 283.1L277.0 282.6L277.2 282.2L277.3 281.8L277.4 281.3Z" fill="#D95F02"/>
<path d="M274.2 286.5H281.2" class="md"/>
<path d="M291.5 270.3V311.4" class="tl"/>
<path d="M291.7 276.0L291.8 276.5L291.8 276.9L291.8 277.4L291.8 277.8L291.8 278.3L291.8 278.7L291.9 279.2L291.9 279.6L291.9 280.1L291.9 280.5L291.9 281.0L292.0 281.4L292.0 281.9L292.0 282.3L292.0 282.8L292.0 283.2L292.1 283.7L292.1 284.1L292.1 284.6L292.1 285.0L292.1 285.5L292.1 285.9L292.1 286.4L292.1 286.8L292.1 287.3L292.1 287.7L292.1 288.2L292.1 288.6L292.0 289.1L292.0 289.5L292.0 290.0L291.9 290.4L291.9 290.9L291.9 291.3L291.8 291.8L291.8 292.2L291.8 292.7L291.7 293.0L291.3 293.0L291.2 292.7L291.2 292.2L291.2 291.8L291.1 291.3L291.1 290.9L291.1 290.4L291.0 290.0L291.0 289.5L291.0 289.1L290.9 288.6L290.9 288.2L290.9 287.7L290.9 287.3L290.9 286.8L290.9 286.4L290.9 285.9L290.9 285.5L290.9 285.0L290.9 284.6L290.9 284.1L290.9 283.7L291.0 283.2L291.0 282.8L291.0 282.3L291.0 281.9L291.0 281.4L291.1 281.0L291.1 280.5L291.1 280.1L291.1 279.6L291.1 279.2L291.2 278.7L291.2 278.3L291.2 277.8L291.2 277.4L291.2 276.9L291.2 276.5L291.3 276.0Z" fill="#D95F02"/>
<path d="M288.0 290.2H295.0" class="md"/>
<path d="M305.3 283.0V311.4" class="tl"/>
<path d="M305.7 283.0L305.8 283.4L306.0 283.9L306.3 284.3L306.6 284.8L307.0 285.2L307.5 285.7L308.0 286.1L308.3 286.6L308.0 287.0L307.6 287.5L307.2 287.9L306.9 288.4L306.6 288.8L306.3 289.3L306.1 289.7L306.0 290.2L305.8 290.6L305.7 291.1L305.6 291.5L305.6 291.9L305.1 291.9L305.1 291.5L305.0 291.1L304.9 290.6L304.7 290.2L304.6 289.7L304.3 289.3L304.1 288.8L303.8 288.4L303.5 287.9L303.1 287.5L302.7 287.0L302.4 286.6L302.7 286.1L303.2 285.7L303.7 285.2L304.1 284.8L304.4 284.3L304.7 283.9L304.9 283.4L305.0 283.0Z" fill="#D95F02"/>
<path d="M302.3 286.5H308.3" class="md"/>
<path d="M319.2 283.5V311.4" class="tl"/>
<path d="M319.6 283.5L319.7 283.9L320.0 284.4L320.3 284.8L320.8 285.3L321.3 285.7L321.9 286.2L322.1 286.6L321.8 287.1L321.4 287.5L321.0 288.0L320.7 288.4L320.4 288.9L320.2 289.3L320.0 289.8L319.8 290.2L319.7 290.7L319.5 291.1L319.5 291.6L319.4 291.9L319.0 291.9L318.9 291.6L318.8 291.1L318.7 290.7L318.6 290.2L318.4 289.8L318.2 289.3L318.0 288.9L317.7 288.4L317.4 288.0L317.0 287.5L316.6 287.1L316.3 286.6L316.5 286.2L317.1 285.7L317.6 285.3L318.0 284.8L318.4 284.4L318.6 283.9L318.8 283.5Z" fill="#D95F02"/>
<path d="M316.2 286.5H322.2" class="md"/>
</g>
<line x1="48.3" y1="286.6" x2="327.0" y2="286.6" stroke="#f01818" stroke-width="0.95" stroke-dasharray="0.95 1.75"/>
<text transform="translate(44.30,265.90) scale(1,1.09)" text-anchor="end" fill="#383838" style="font-size:9.4px;" >1.0</text>
<text transform="translate(44.30,288.30) scale(1,1.09)" text-anchor="end" fill="#383838" style="font-size:9.4px;" >0.0</text>
<text transform="translate(44.30,311.60) scale(1,1.09)" text-anchor="end" fill="#383838" style="font-size:9.4px;" >−1.0</text>
<line x1="47.599999999999994" y1="264.40" x2="48.699999999999996" y2="264.40" stroke="#555" stroke-width="0.6"/>
<line x1="47.599999999999994" y1="275.60" x2="48.699999999999996" y2="275.60" stroke="#555" stroke-width="0.6"/>
<line x1="47.599999999999994" y1="286.80" x2="48.699999999999996" y2="286.80" stroke="#555" stroke-width="0.6"/>
<line x1="47.599999999999994" y1="298.45" x2="48.699999999999996" y2="298.45" stroke="#555" stroke-width="0.6"/>
<line x1="47.599999999999994" y1="310.10" x2="48.699999999999996" y2="310.10" stroke="#555" stroke-width="0.6"/>
<text transform="translate(333.20,286.30) rotate(90) scale(1,1.06)" text-anchor="middle" fill="#A6470B" style="font-size:9.2px;font-weight:bold;">Human</text>
<rect x="47.8" y="317.3" width="279.70" height="50.90" fill="none" stroke="#9a9a9a" stroke-width="0.75"/>
<clipPath id="c140590430260800"><rect x="47.8" y="317.3" width="279.7" height="50.89999999999998"/></clipPath>
<g clip-path="url(#c140590430260800)" stroke="#2a2a2a" stroke-width="0.5" stroke-linejoin="round">
<path d="M56.1 337.7V368.2" class="tl"/>
<path d="M56.4 337.7L56.6 338.1L56.9 338.6L57.4 339.0L58.0 339.5L58.6 339.9L59.1 340.4L59.4 340.8L59.3 341.3L58.9 341.7L58.5 342.2L58.1 342.6L57.7 343.1L57.5 343.5L57.3 344.0L57.1 344.4L57.0 344.9L56.9 345.3L56.8 345.8L56.8 346.2L56.7 346.7L56.7 347.1L56.6 347.6L56.6 348.0L56.6 348.5L56.5 348.9L56.5 349.4L56.4 349.8L56.4 350.3L56.4 350.7L56.4 351.2L56.4 351.4L55.9 351.4L55.8 351.2L55.8 350.7L55.8 350.3L55.8 349.8L55.7 349.4L55.7 348.9L55.7 348.5L55.6 348.0L55.6 347.6L55.5 347.1L55.5 346.7L55.4 346.2L55.4 345.8L55.3 345.3L55.2 344.9L55.1 344.4L55.0 344.0L54.8 343.5L54.5 343.1L54.1 342.6L53.7 342.2L53.3 341.7L52.9 341.3L52.8 340.8L53.1 340.4L53.6 339.9L54.2 339.5L54.8 339.0L55.3 338.6L55.6 338.1L55.9 337.7Z" fill="#7570B3"/>
<path d="M53.5 342.0H58.7" class="md"/>
<path d="M70.0 337.7V362.7" class="tl"/>
<path d="M70.2 337.7L70.4 338.1L70.8 338.6L71.3 339.0L71.9 339.5L72.5 339.9L73.0 340.4L73.2 340.8L73.1 341.3L72.8 341.7L72.3 342.2L71.9 342.6L71.6 343.1L71.3 343.5L71.1 344.0L71.0 344.4L70.8 344.9L70.8 345.3L70.7 345.8L70.6 346.2L70.6 346.7L70.5 347.1L70.5 347.6L70.4 348.0L70.4 348.5L70.4 348.9L70.3 349.4L70.3 349.8L70.3 350.3L70.2 350.7L70.2 351.2L70.2 351.4L69.7 351.4L69.7 351.2L69.7 350.7L69.6 350.3L69.6 349.8L69.6 349.4L69.5 348.9L69.5 348.5L69.5 348.0L69.4 347.6L69.4 347.1L69.3 346.7L69.3 346.2L69.2 345.8L69.2 345.3L69.1 344.9L69.0 344.4L68.8 344.0L68.6 343.5L68.3 343.1L68.0 342.6L67.6 342.2L67.2 341.7L66.8 341.3L66.7 340.8L66.9 340.4L67.4 339.9L68.0 339.5L68.6 339.0L69.1 338.6L69.5 338.1L69.7 337.7Z" fill="#7570B3"/>
<path d="M67.4 342.0H72.5" class="md"/>
<path d="M83.8 337.7V368.2" class="tl"/>
<path d="M84.1 337.7L84.3 338.1L84.7 338.6L85.2 339.0L85.9 339.5L86.5 339.9L87.0 340.4L87.3 340.8L87.2 341.3L86.8 341.7L86.3 342.2L85.9 342.6L85.5 343.1L85.2 343.5L85.0 344.0L84.9 344.4L84.7 344.9L84.7 345.3L84.6 345.8L84.5 346.2L84.5 346.7L84.4 347.1L84.4 347.6L84.3 348.0L84.3 348.5L84.2 348.9L84.2 349.4L84.2 349.8L84.1 350.3L84.1 350.7L84.1 351.2L84.1 351.6L84.0 351.8L83.6 351.8L83.6 351.6L83.5 351.2L83.5 350.7L83.5 350.3L83.4 349.8L83.4 349.4L83.4 348.9L83.3 348.5L83.3 348.0L83.2 347.6L83.2 347.1L83.1 346.7L83.1 346.2L83.0 345.8L82.9 345.3L82.9 344.9L82.7 344.4L82.6 344.0L82.4 343.5L82.1 343.1L81.7 342.6L81.3 342.2L80.8 341.7L80.4 341.3L80.3 340.8L80.6 340.4L81.1 339.9L81.8 339.5L82.4 339.0L82.9 338.6L83.3 338.1L83.5 337.7Z" fill="#7570B3"/>
<path d="M81.1 342.0H86.5" class="md"/>
<path d="M97.6 338.0V351.9" class="tl"/>
<path d="M97.9 338.0L98.3 338.4L98.9 338.9L99.9 339.3L101.1 339.8L102.1 340.2L102.4 340.7L101.4 341.1L100.4 341.6L99.6 342.0L99.0 342.5L98.7 342.9L98.5 343.4L98.4 343.8L98.3 344.3L98.2 344.7L98.1 345.2L98.1 345.6L98.0 346.1L98.0 346.5L97.9 347.0L97.9 347.4L97.9 347.8L97.4 347.8L97.4 347.4L97.3 347.0L97.3 346.5L97.3 346.1L97.2 345.6L97.2 345.2L97.1 344.7L97.0 344.3L96.9 343.8L96.8 343.4L96.6 342.9L96.3 342.5L95.7 342.0L94.9 341.6L93.9 341.1L92.9 340.7L93.2 340.2L94.2 339.8L95.4 339.3L96.4 338.9L97.0 338.4L97.4 338.0Z" fill="#7570B3"/>
<path d="M92.8 340.6H102.4" class="md"/>
<path d="M111.5 336.4V368.2" class="tl"/>
<path d="M111.8 336.4L111.9 336.8L112.0 337.3L112.2 337.7L112.3 338.2L112.5 338.6L112.7 339.1L112.9 339.5L113.1 340.0L113.3 340.4L113.5 340.9L113.6 341.3L113.7 341.8L113.6 342.2L113.5 342.7L113.4 343.1L113.2 343.6L113.1 344.0L112.9 344.5L112.8 344.9L112.6 345.4L112.5 345.8L112.4 346.3L112.3 346.7L112.2 347.2L112.1 347.6L112.0 348.1L111.9 348.5L111.9 349.0L111.8 349.4L111.7 349.9L111.7 350.1L111.3 350.1L111.2 349.9L111.2 349.4L111.1 349.0L111.1 348.5L111.0 348.1L110.9 347.6L110.8 347.2L110.7 346.7L110.6 346.3L110.5 345.8L110.4 345.4L110.2 344.9L110.1 344.5L109.9 344.0L109.8 343.6L109.6 343.1L109.5 342.7L109.4 342.2L109.3 341.8L109.4 341.3L109.5 340.9L109.7 340.4L109.9 340.0L110.1 339.5L110.3 339.1L110.5 338.6L110.7 338.2L110.8 337.7L110.9 337.3L111.1 336.8L111.1 336.4Z" fill="#7570B3"/>
<path d="M108.5 344.3H114.5" class="md"/>
<path d="M125.3 337.0V368.2" class="tl"/>
<path d="M125.7 337.0L125.9 337.4L126.0 337.9L126.2 338.3L126.4 338.8L126.6 339.2L126.9 339.7L127.2 340.1L127.5 340.6L127.7 341.0L127.8 341.5L127.8 341.9L127.7 342.4L127.5 342.8L127.3 343.3L127.2 343.7L127.0 344.2L126.8 344.6L126.7 345.1L126.5 345.5L126.4 346.0L126.2 346.4L126.1 346.9L126.0 347.3L125.9 347.8L125.8 348.2L125.8 348.7L125.7 349.1L125.6 349.6L125.6 350.0L125.6 350.1L125.1 350.1L125.1 350.0L125.0 349.6L125.0 349.1L124.9 348.7L124.8 348.2L124.8 347.8L124.7 347.3L124.6 346.9L124.4 346.4L124.3 346.0L124.2 345.5L124.0 345.1L123.8 344.6L123.7 344.2L123.5 343.7L123.3 343.3L123.2 342.8L123.0 342.4L122.9 341.9L122.8 341.5L123.0 341.0L123.2 340.6L123.5 340.1L123.8 339.7L124.0 339.2L124.3 338.8L124.5 338.3L124.7 337.9L124.8 337.4L124.9 337.0Z" fill="#7570B3"/>
<path d="M122.3 344.3H128.3" class="md"/>
<path d="M139.2 338.0V368.2" class="tl"/>
<path d="M139.7 338.0L140.2 338.4L141.1 338.9L142.3 339.3L143.5 339.8L144.2 340.2L143.5 340.7L142.4 341.1L141.5 341.6L140.8 342.0L140.4 342.5L140.1 342.9L140.0 343.4L139.9 343.8L139.8 344.3L139.7 344.7L139.7 345.2L139.6 345.6L139.6 346.1L139.5 346.5L139.5 347.0L139.4 347.4L139.4 347.7L139.0 347.7L138.9 347.4L138.9 347.0L138.9 346.5L138.8 346.1L138.8 345.6L138.7 345.2L138.7 344.7L138.6 344.3L138.5 343.8L138.4 343.4L138.2 342.9L138.0 342.5L137.6 342.0L136.9 341.6L136.0 341.1L134.9 340.7L134.2 340.2L134.9 339.8L136.1 339.3L137.2 338.9L138.1 338.4L138.7 338.0Z" fill="#7570B3"/>
<path d="M134.5 340.5H143.9" class="md"/>
<path d="M153.0 337.5V357.4" class="tl"/>
<path d="M153.2 337.6L153.4 338.1L153.8 338.5L154.2 339.0L154.8 339.4L155.4 339.9L156.0 340.3L156.3 340.8L156.3 341.2L155.9 341.7L155.5 342.1L155.1 342.6L154.7 343.0L154.4 343.5L154.2 343.9L154.1 344.4L153.9 344.8L153.9 345.2L153.8 345.7L153.7 346.1L153.7 346.6L153.6 347.0L153.6 347.5L153.5 347.9L153.5 348.4L153.4 348.8L153.4 349.3L153.4 349.7L153.4 350.2L153.3 350.6L153.3 351.1L153.3 351.4L152.8 351.4L152.8 351.1L152.7 350.6L152.7 350.2L152.7 349.7L152.7 349.3L152.6 348.8L152.6 348.4L152.5 347.9L152.5 347.5L152.5 347.0L152.4 346.6L152.3 346.1L152.3 345.7L152.2 345.2L152.1 344.8L152.0 344.4L151.8 343.9L151.6 343.5L151.3 343.0L151.0 342.6L150.6 342.1L150.1 341.7L149.8 341.2L149.8 340.8L150.1 340.3L150.6 339.9L151.2 339.4L151.8 339.0L152.3 338.5L152.6 338.1L152.8 337.6Z" fill="#7570B3"/>
<path d="M150.0 341.5H156.1" class="md"/>
<path d="M166.9 338.0V363.3" class="tl"/>
<path d="M167.4 338.0L167.9 338.4L168.7 338.9L169.8 339.3L170.9 339.8L171.6 340.2L170.9 340.7L169.9 341.1L169.0 341.6L168.4 342.0L168.0 342.5L167.8 342.9L167.6 343.4L167.5 343.8L167.4 344.3L167.4 344.7L167.3 345.2L167.3 345.6L167.2 346.1L167.2 346.5L167.2 347.0L167.1 347.3L166.6 347.3L166.6 347.0L166.6 346.5L166.5 346.1L166.5 345.6L166.4 345.2L166.4 344.7L166.3 344.3L166.2 343.8L166.1 343.4L166.0 342.9L165.8 342.5L165.4 342.0L164.8 341.6L163.9 341.1L162.8 340.7L162.2 340.2L162.8 339.8L163.9 339.3L165.0 338.9L165.9 338.4L166.4 338.0Z" fill="#7570B3"/>
<path d="M162.4 340.5H171.3" class="md"/>
<path d="M180.7 337.0V368.2" class="tl"/>
<path d="M181.1 337.0L181.2 337.4L181.3 337.9L181.4 338.3L181.6 338.8L181.8 339.2L182.0 339.7L182.2 340.1L182.4 340.6L182.6 341.0L182.8 341.5L183.0 341.9L183.0 342.4L182.9 342.8L182.8 343.3L182.6 343.7L182.5 344.2L182.3 344.6L182.1 345.1L182.0 345.5L181.8 346.0L181.7 346.4L181.5 346.9L181.4 347.3L181.3 347.8L181.2 348.2L181.1 348.7L181.1 349.1L181.0 349.6L181.0 350.0L181.0 350.1L180.5 350.1L180.5 350.0L180.4 349.6L180.4 349.1L180.3 348.7L180.2 348.2L180.1 347.8L180.0 347.3L179.9 346.9L179.8 346.4L179.6 346.0L179.5 345.5L179.3 345.1L179.1 344.6L179.0 344.2L178.8 343.7L178.7 343.3L178.5 342.8L178.4 342.4L178.5 341.9L178.7 341.5L178.9 341.0L179.1 340.6L179.3 340.1L179.5 339.7L179.7 339.2L179.9 338.8L180.0 338.3L180.2 337.9L180.3 337.4L180.4 337.0Z" fill="#7570B3"/>
<path d="M177.4 344.3H184.0" class="md"/>
<path d="M194.6 337.0V368.2" class="tl"/>
<path d="M194.8 337.8L195.0 338.3L195.3 338.7L195.8 339.2L196.3 339.6L196.8 340.1L197.1 340.5L197.3 341.0L197.1 341.4L196.8 341.9L196.5 342.3L196.2 342.8L196.0 343.2L195.8 343.7L195.6 344.1L195.5 344.6L195.4 345.0L195.4 345.4L195.3 345.9L195.2 346.3L195.2 346.8L195.2 347.2L195.1 347.7L195.1 348.1L195.1 348.6L195.0 349.0L195.0 349.5L195.0 349.9L194.9 350.4L194.9 350.8L194.9 351.3L194.9 351.7L194.8 352.2L194.8 352.4L194.3 352.4L194.3 352.2L194.3 351.7L194.3 351.3L194.2 350.8L194.2 350.4L194.2 349.9L194.2 349.5L194.1 349.0L194.1 348.6L194.1 348.1L194.0 347.7L194.0 347.2L193.9 346.8L193.9 346.3L193.8 345.9L193.8 345.4L193.7 345.0L193.6 344.6L193.5 344.1L193.4 343.7L193.2 343.2L192.9 342.8L192.6 342.3L192.3 341.9L192.0 341.4L191.9 341.0L192.0 340.5L192.4 340.1L192.9 339.6L193.4 339.2L193.8 338.7L194.1 338.3L194.3 337.8Z" fill="#7570B3"/>
<path d="M192.1 341.5H197.1" class="md"/>
<path d="M208.4 336.4V368.2" class="tl"/>
<path d="M208.7 336.4L208.8 336.8L208.9 337.3L209.0 337.7L209.1 338.2L209.2 338.6L209.3 339.1L209.5 339.5L209.6 340.0L209.8 340.4L210.0 340.9L210.1 341.3L210.2 341.8L210.2 342.2L210.1 342.7L210.0 343.1L209.9 343.6L209.8 344.0L209.7 344.5L209.6 344.9L209.4 345.4L209.3 345.8L209.2 346.3L209.1 346.7L209.0 347.2L209.0 347.6L208.9 348.1L208.8 348.5L208.8 349.0L208.7 349.4L208.7 349.9L208.7 350.0L208.2 350.0L208.2 349.9L208.1 349.4L208.1 349.0L208.0 348.5L208.0 348.1L207.9 347.6L207.8 347.2L207.7 346.7L207.6 346.3L207.5 345.8L207.4 345.4L207.3 344.9L207.2 344.5L207.0 344.0L206.9 343.6L206.8 343.1L206.7 342.7L206.6 342.2L206.6 341.8L206.7 341.3L206.9 340.9L207.0 340.4L207.2 340.0L207.4 339.5L207.5 339.1L207.7 338.6L207.8 338.2L207.9 337.7L208.0 337.3L208.1 336.8L208.1 336.4Z" fill="#7570B3"/>
<path d="M205.1 345.3H211.7" class="md"/>
<path d="M222.3 337.5V368.2" class="tl"/>
<path d="M222.5 338.0L222.7 338.5L223.0 338.9L223.4 339.4L224.0 339.8L224.6 340.3L225.1 340.7L225.4 341.2L225.4 341.6L225.1 342.1L224.7 342.5L224.3 343.0L223.9 343.4L223.6 343.9L223.4 344.3L223.3 344.8L223.2 345.2L223.1 345.6L223.0 346.1L222.9 346.5L222.9 347.0L222.8 347.4L222.8 347.9L222.7 348.3L222.7 348.8L222.7 349.2L222.6 349.7L222.6 350.1L222.6 350.6L222.5 351.0L222.5 351.5L222.5 351.8L222.0 351.8L222.0 351.5L222.0 351.0L222.0 350.6L221.9 350.1L221.9 349.7L221.9 349.2L221.8 348.8L221.8 348.3L221.7 347.9L221.7 347.4L221.7 347.0L221.6 346.5L221.5 346.1L221.5 345.6L221.4 345.2L221.3 344.8L221.1 344.3L220.9 343.9L220.6 343.4L220.3 343.0L219.9 342.5L219.5 342.1L219.1 341.6L219.1 341.2L219.4 340.7L219.9 340.3L220.5 339.8L221.1 339.4L221.5 338.9L221.9 338.5L222.1 338.0Z" fill="#7570B3"/>
<path d="M219.2 341.7H225.3" class="md"/>
<path d="M236.1 337.5V366.0" class="tl"/>
<path d="M236.3 338.0L236.5 338.5L236.9 338.9L237.3 339.4L237.9 339.8L238.5 340.3L239.0 340.7L239.4 341.2L239.3 341.6L239.0 342.1L238.6 342.5L238.2 343.0L237.8 343.4L237.5 343.9L237.3 344.3L237.1 344.8L237.0 345.2L236.9 345.6L236.9 346.1L236.8 346.5L236.7 347.0L236.7 347.4L236.6 347.9L236.6 348.3L236.6 348.8L236.5 349.2L236.5 349.7L236.5 350.1L236.4 350.6L236.4 351.0L236.4 351.5L236.4 351.8L235.9 351.8L235.8 351.5L235.8 351.0L235.8 350.6L235.8 350.1L235.7 349.7L235.7 349.2L235.7 348.8L235.6 348.3L235.6 347.9L235.5 347.4L235.5 347.0L235.4 346.5L235.4 346.1L235.3 345.6L235.2 345.2L235.1 344.8L234.9 344.3L234.7 343.9L234.4 343.4L234.1 343.0L233.7 342.5L233.2 342.1L232.9 341.6L232.9 341.2L233.2 340.7L233.7 340.3L234.3 339.8L234.9 339.4L235.4 338.9L235.7 338.5L235.9 338.0Z" fill="#7570B3"/>
<path d="M232.9 341.7H239.3" class="md"/>
<path d="M250.0 337.8V358.7" class="tl"/>
<path d="M250.2 338.6L250.4 339.1L250.7 339.5L251.2 340.0L251.8 340.4L252.4 340.9L252.9 341.3L253.2 341.8L253.2 342.2L252.8 342.7L252.4 343.1L252.0 343.6L251.7 344.0L251.4 344.5L251.2 344.9L251.0 345.4L250.9 345.8L250.8 346.2L250.7 346.7L250.6 347.1L250.6 347.6L250.5 348.0L250.5 348.5L250.4 348.9L250.4 349.4L250.4 349.8L250.3 350.3L250.3 350.7L250.3 351.2L250.2 351.6L250.2 352.1L250.2 352.4L249.7 352.4L249.7 352.1L249.7 351.6L249.6 351.2L249.6 350.7L249.6 350.3L249.5 349.8L249.5 349.4L249.5 348.9L249.4 348.5L249.4 348.0L249.3 347.6L249.3 347.1L249.2 346.7L249.1 346.2L249.0 345.8L248.9 345.4L248.8 344.9L248.6 344.5L248.3 344.0L247.9 343.6L247.5 343.1L247.1 342.7L246.7 342.2L246.7 341.8L247.0 341.3L247.6 340.9L248.2 340.4L248.7 340.0L249.2 339.5L249.5 339.1L249.7 338.6Z" fill="#7570B3"/>
<path d="M246.7 342.0H253.3" class="md"/>
<path d="M263.8 338.5V349.5" class="tl"/>
<path d="M264.6 338.5L265.6 338.9L267.3 339.4L269.1 339.8L270.1 340.3L269.2 340.7L267.9 341.2L266.8 341.6L265.9 342.1L265.4 342.5L265.0 343.0L264.8 343.4L264.7 343.9L264.6 344.3L264.5 344.8L264.4 345.2L264.3 345.7L264.3 346.1L264.2 346.6L264.2 347.0L264.1 347.5L264.1 347.9L264.1 348.3L263.6 348.3L263.5 347.9L263.5 347.5L263.4 347.0L263.4 346.6L263.3 346.1L263.3 345.7L263.2 345.2L263.1 344.8L263.1 344.3L262.9 343.9L262.8 343.4L262.6 343.0L262.2 342.5L261.7 342.1L260.9 341.6L259.7 341.2L258.4 340.7L257.5 340.3L258.5 339.8L260.3 339.4L262.0 338.9L263.0 338.5Z" fill="#7570B3"/>
<path d="M257.5 340.3H270.1" class="md"/>
<path d="M277.7 338.3V354.1" class="tl"/>
<path d="M278.0 338.3L278.6 338.8L279.5 339.2L280.8 339.6L282.1 340.1L282.6 340.5L281.8 341.0L280.8 341.4L279.9 341.9L279.3 342.3L278.9 342.8L278.6 343.2L278.4 343.7L278.3 344.1L278.2 344.6L278.2 345.0L278.1 345.5L278.1 345.9L278.0 346.4L278.0 346.8L277.9 347.3L277.9 347.7L277.9 347.9L277.4 347.9L277.4 347.7L277.4 347.3L277.3 346.8L277.3 346.4L277.2 345.9L277.2 345.5L277.1 345.0L277.1 344.6L277.0 344.1L276.9 343.7L276.7 343.2L276.4 342.8L276.0 342.3L275.4 341.9L274.5 341.4L273.5 341.0L272.7 340.5L273.2 340.1L274.5 339.6L275.8 339.2L276.7 338.8L277.3 338.3Z" fill="#7570B3"/>
<path d="M272.7 340.5H282.7" class="md"/>
<path d="M291.5 338.3V354.8" class="tl"/>
<path d="M291.8 338.3L292.3 338.8L293.2 339.2L294.3 339.6L295.5 340.1L296.0 340.5L295.3 341.0L294.4 341.4L293.7 341.9L293.1 342.3L292.7 342.8L292.4 343.2L292.2 343.7L292.1 344.1L292.0 344.6L292.0 345.0L291.9 345.5L291.9 345.9L291.8 346.4L291.8 346.8L291.8 347.3L291.7 347.5L291.3 347.5L291.2 347.3L291.2 346.8L291.2 346.4L291.1 345.9L291.1 345.5L291.0 345.0L291.0 344.6L290.9 344.1L290.7 343.7L290.6 343.2L290.3 342.8L289.9 342.3L289.3 341.9L288.6 341.4L287.7 341.0L287.0 340.5L287.5 340.1L288.7 339.6L289.8 339.2L290.7 338.8L291.2 338.3Z" fill="#7570B3"/>
<path d="M287.0 340.5H296.0" class="md"/>
<path d="M305.3 337.7V360.9" class="tl"/>
<path d="M305.6 337.7L305.8 338.2L306.1 338.6L306.7 339.1L307.4 339.5L308.1 340.0L308.8 340.4L309.1 340.9L308.8 341.3L308.3 341.8L307.7 342.2L307.2 342.7L306.8 343.1L306.4 343.6L306.2 344.0L306.0 344.4L305.9 344.9L305.8 345.3L305.7 345.8L305.7 346.2L305.6 346.7L305.6 347.1L305.6 347.3L305.1 347.3L305.1 347.1L305.1 346.7L305.0 346.2L305.0 345.8L304.9 345.3L304.8 344.9L304.7 344.4L304.5 344.0L304.3 343.6L303.9 343.1L303.5 342.7L303.0 342.2L302.4 341.8L301.9 341.3L301.6 340.9L301.9 340.4L302.6 340.0L303.3 339.5L304.0 339.1L304.5 338.6L304.9 338.2L305.1 337.7Z" fill="#7570B3"/>
<path d="M301.5 340.9H309.1" class="md"/>
<path d="M319.2 337.7V355.7" class="tl"/>
<path d="M319.6 337.7L320.1 338.1L320.8 338.6L321.8 339.0L322.9 339.5L323.9 339.9L324.1 340.4L323.4 340.8L322.5 341.3L321.7 341.7L321.0 342.2L320.6 342.6L320.3 343.1L320.1 343.5L319.9 344.0L319.8 344.4L319.7 344.9L319.7 345.3L319.6 345.8L319.6 346.2L319.5 346.7L319.5 347.1L319.4 347.6L319.4 347.7L319.0 347.7L318.9 347.6L318.9 347.1L318.9 346.7L318.8 346.2L318.8 345.8L318.7 345.3L318.7 344.9L318.6 344.4L318.5 344.0L318.3 343.5L318.1 343.1L317.8 342.6L317.3 342.2L316.7 341.7L315.9 341.3L315.0 340.8L314.3 340.4L314.5 339.9L315.4 339.5L316.6 339.0L317.6 338.6L318.3 338.1L318.7 337.7Z" fill="#7570B3"/>
<path d="M314.2 340.3H324.2" class="md"/>
</g>
<line x1="48.3" y1="343.0" x2="327.0" y2="343.0" stroke="#f01818" stroke-width="0.95" stroke-dasharray="0.95 1.75"/>
<text transform="translate(44.30,321.00) scale(1,1.09)" text-anchor="end" fill="#383838" style="font-size:9.4px;" >−0.5</text>
<text transform="translate(44.30,342.90) scale(1,1.09)" text-anchor="end" fill="#383838" style="font-size:9.4px;" >−1.5</text>
<text transform="translate(44.30,365.80) scale(1,1.09)" text-anchor="end" fill="#383838" style="font-size:9.4px;" >−2.5</text>
<line x1="47.599999999999994" y1="319.50" x2="48.699999999999996" y2="319.50" stroke="#555" stroke-width="0.6"/>
<line x1="47.599999999999994" y1="330.45" x2="48.699999999999996" y2="330.45" stroke="#555" stroke-width="0.6"/>
<line x1="47.599999999999994" y1="341.40" x2="48.699999999999996" y2="341.40" stroke="#555" stroke-width="0.6"/>
<line x1="47.599999999999994" y1="352.85" x2="48.699999999999996" y2="352.85" stroke="#555" stroke-width="0.6"/>
<line x1="47.599999999999994" y1="364.30" x2="48.699999999999996" y2="364.30" stroke="#555" stroke-width="0.6"/>
<text transform="translate(333.20,342.75) rotate(90) scale(1,1.06)" text-anchor="middle" fill="#4F4A94" style="font-size:9.2px;font-weight:bold;">Yeast</text>
<rect x="391.4" y="204.6" width="279.40" height="50.20" fill="none" stroke="#9a9a9a" stroke-width="0.75"/>
<clipPath id="c140590430260928"><rect x="391.4" y="204.6" width="279.4" height="50.20000000000002"/></clipPath>
<g clip-path="url(#c140590430260928)" stroke="#2a2a2a" stroke-width="0.5" stroke-linejoin="round">
<path d="M399.7 229.3V247.7" class="tl2"/>
<path d="M399.9 229.3L400.1 229.8L400.4 230.2L400.8 230.7L401.2 231.1L401.6 231.6L401.9 232.0L402.0 232.5L401.9 232.9L401.7 233.4L401.5 233.8L401.3 234.3L401.1 234.7L401.0 235.2L400.8 235.6L400.7 236.1L400.6 236.5L400.5 236.9L400.4 237.4L400.4 237.8L400.3 238.3L400.3 238.7L400.2 239.2L400.2 239.6L400.2 240.1L400.1 240.5L400.1 241.0L400.1 241.4L400.1 241.9L400.0 242.3L400.0 242.8L400.0 243.2L400.0 243.7L400.0 244.1L399.9 244.3L399.4 244.3L399.4 244.1L399.4 243.7L399.4 243.2L399.4 242.8L399.4 242.3L399.3 241.9L399.3 241.4L399.3 241.0L399.3 240.5L399.2 240.1L399.2 239.6L399.2 239.2L399.1 238.7L399.1 238.3L399.0 237.8L399.0 237.4L398.9 236.9L398.8 236.5L398.7 236.1L398.6 235.6L398.4 235.2L398.3 234.7L398.1 234.3L397.9 233.8L397.7 233.4L397.5 232.9L397.4 232.5L397.5 232.0L397.8 231.6L398.2 231.1L398.6 230.7L399.0 230.2L399.3 229.8L399.4 229.3Z" fill="#1B9E77"/>
<path d="M396.2 234.5H403.2" class="md"/>
<path d="M413.5 229.3V254.8" class="tl2"/>
<path d="M413.8 229.4L413.9 229.9L414.1 230.3L414.4 230.8L414.7 231.2L415.0 231.7L415.3 232.1L415.5 232.6L415.5 233.0L415.4 233.5L415.3 233.9L415.1 234.4L414.9 234.8L414.8 235.3L414.6 235.7L414.5 236.2L414.4 236.6L414.3 237.1L414.2 237.5L414.2 237.9L414.1 238.4L414.1 238.8L414.0 239.3L414.0 239.7L414.0 240.2L413.9 240.6L413.9 241.1L413.9 241.5L413.9 242.0L413.8 242.4L413.8 242.9L413.8 243.3L413.8 243.8L413.8 244.0L413.3 244.0L413.3 243.8L413.3 243.3L413.2 242.9L413.2 242.4L413.2 242.0L413.2 241.5L413.2 241.1L413.1 240.6L413.1 240.2L413.1 239.7L413.0 239.3L413.0 238.8L412.9 238.4L412.9 237.9L412.8 237.5L412.8 237.1L412.7 236.6L412.6 236.2L412.4 235.7L412.3 235.3L412.1 234.8L412.0 234.4L411.8 233.9L411.6 233.5L411.5 233.0L411.6 232.6L411.8 232.1L412.0 231.7L412.3 231.2L412.7 230.8L412.9 230.3L413.1 229.9L413.3 229.4Z" fill="#1B9E77"/>
<path d="M410.5 234.5H416.5" class="md"/>
<path d="M427.4 228.6V254.8" class="tl2"/>
<path d="M427.6 228.6L427.8 229.0L428.1 229.5L428.5 229.9L428.9 230.4L429.3 230.8L429.6 231.3L429.8 231.7L429.8 232.2L429.7 232.6L429.4 233.1L429.2 233.5L429.0 234.0L428.8 234.4L428.7 234.9L428.5 235.3L428.4 235.8L428.3 236.2L428.2 236.7L428.1 237.1L428.1 237.6L428.0 238.0L428.0 238.5L427.9 238.9L427.9 239.4L427.9 239.8L427.8 240.3L427.8 240.7L427.8 241.2L427.7 241.6L427.7 242.1L427.7 242.5L427.7 243.0L427.6 243.4L427.6 243.9L427.6 244.3L427.6 244.4L427.1 244.4L427.1 244.3L427.1 243.9L427.1 243.4L427.1 243.0L427.0 242.5L427.0 242.1L427.0 241.6L427.0 241.2L426.9 240.7L426.9 240.3L426.9 239.8L426.8 239.4L426.8 238.9L426.8 238.5L426.7 238.0L426.7 237.6L426.6 237.1L426.5 236.7L426.4 236.2L426.3 235.8L426.2 235.3L426.1 234.9L425.9 234.4L425.7 234.0L425.5 233.5L425.3 233.1L425.1 232.6L424.9 232.2L424.9 231.7L425.1 231.3L425.4 230.8L425.8 230.4L426.2 229.9L426.6 229.5L426.9 229.0L427.1 228.6Z" fill="#1B9E77"/>
<path d="M424.4 232.5H430.4" class="md"/>
<path d="M441.2 229.3V254.8" class="tl2"/>
<path d="M441.4 229.3L441.6 229.8L441.9 230.2L442.3 230.7L442.7 231.1L443.1 231.6L443.4 232.0L443.5 232.5L443.4 232.9L443.2 233.4L443.0 233.8L442.8 234.3L442.6 234.7L442.5 235.2L442.3 235.6L442.2 236.1L442.1 236.5L442.0 236.9L441.9 237.4L441.9 237.8L441.8 238.3L441.8 238.7L441.7 239.2L441.7 239.6L441.7 240.1L441.6 240.5L441.6 241.0L441.6 241.4L441.6 241.9L441.5 242.3L441.5 242.8L441.5 243.2L441.5 243.7L441.4 244.1L441.4 244.3L440.9 244.3L440.9 244.1L440.9 243.7L440.9 243.2L440.9 242.8L440.9 242.3L440.8 241.9L440.8 241.4L440.8 241.0L440.8 240.5L440.7 240.1L440.7 239.6L440.7 239.2L440.6 238.7L440.6 238.3L440.5 237.8L440.5 237.4L440.4 236.9L440.3 236.5L440.2 236.1L440.1 235.6L439.9 235.2L439.8 234.7L439.6 234.3L439.4 233.8L439.2 233.4L439.0 232.9L438.9 232.5L439.0 232.0L439.3 231.6L439.7 231.1L440.1 230.7L440.5 230.2L440.7 229.8L440.9 229.3Z" fill="#1B9E77"/>
<path d="M437.9 234.5H444.5" class="md"/>
<path d="M455.0 230.9V247.0" class="tl"/>
<path d="M455.4 230.9L455.5 231.3L455.7 231.8L456.0 232.2L456.4 232.7L456.8 233.1L457.3 233.6L457.8 234.0L457.9 234.5L457.5 234.9L457.0 235.4L456.6 235.8L456.3 236.3L456.0 236.7L455.7 237.2L455.6 237.6L455.4 238.1L455.3 238.5L455.2 238.9L454.8 238.9L454.7 238.5L454.6 238.1L454.5 237.6L454.3 237.2L454.1 236.7L453.8 236.3L453.4 235.8L453.0 235.4L452.6 234.9L452.2 234.5L452.2 234.0L452.7 233.6L453.2 233.1L453.7 232.7L454.0 232.2L454.3 231.8L454.5 231.3L454.7 230.9Z" fill="#1B9E77"/>
<path d="M452.0 234.3H458.0" class="md"/>
<path d="M468.9 222.7V251.6" class="tl"/>
<path d="M469.1 223.6L469.1 224.1L469.2 224.5L469.2 225.0L469.2 225.4L469.2 225.9L469.3 226.3L469.3 226.8L469.3 227.2L469.4 227.7L469.4 228.1L469.5 228.6L469.5 229.0L469.5 229.5L469.6 229.9L469.6 230.4L469.7 230.8L469.7 231.3L469.8 231.7L469.8 232.2L469.9 232.6L469.9 233.1L470.0 233.5L470.0 234.0L470.1 234.4L470.1 234.9L470.1 235.3L470.2 235.8L470.1 236.2L470.1 236.7L470.1 237.1L470.0 237.6L469.9 238.0L469.9 238.5L469.8 238.9L469.7 239.4L469.6 239.8L469.6 240.3L469.5 240.7L469.4 241.2L469.4 241.6L469.3 242.1L469.3 242.5L469.2 243.0L469.2 243.4L469.1 243.9L469.1 244.3L469.1 244.4L468.6 244.4L468.6 244.3L468.6 243.9L468.5 243.4L468.5 243.0L468.4 242.5L468.4 242.1L468.3 241.6L468.3 241.2L468.2 240.7L468.1 240.3L468.1 239.8L468.0 239.4L467.9 238.9L467.9 238.5L467.8 238.0L467.7 237.6L467.7 237.1L467.6 236.7L467.6 236.2L467.6 235.8L467.6 235.3L467.6 234.9L467.7 234.4L467.7 234.0L467.7 233.5L467.8 233.1L467.8 232.6L467.9 232.2L467.9 231.7L468.0 231.3L468.0 230.8L468.1 230.4L468.1 229.9L468.2 229.5L468.2 229.0L468.3 228.6L468.3 228.1L468.3 227.7L468.4 227.2L468.4 226.8L468.4 226.3L468.5 225.9L468.5 225.4L468.5 225.0L468.6 224.5L468.6 224.1L468.6 223.6Z" fill="#1B9E77"/>
<path d="M465.9 238.5H471.9" class="md"/>
<path d="M482.7 229.3V254.8" class="tl2"/>
<path d="M482.9 229.3L483.1 229.8L483.4 230.2L483.8 230.7L484.2 231.1L484.6 231.6L484.9 232.0L485.0 232.5L484.9 232.9L484.7 233.4L484.5 233.8L484.3 234.3L484.1 234.7L484.0 235.2L483.8 235.6L483.7 236.1L483.6 236.5L483.5 236.9L483.4 237.4L483.4 237.8L483.3 238.3L483.3 238.7L483.2 239.2L483.2 239.6L483.2 240.1L483.1 240.5L483.1 241.0L483.1 241.4L483.0 241.9L483.0 242.3L483.0 242.8L483.0 243.2L483.0 243.7L482.9 244.1L482.9 244.3L482.4 244.3L482.4 244.1L482.4 243.7L482.4 243.2L482.4 242.8L482.4 242.3L482.3 241.9L482.3 241.4L482.3 241.0L482.2 240.5L482.2 240.1L482.2 239.6L482.1 239.2L482.1 238.7L482.1 238.3L482.0 237.8L482.0 237.4L481.9 236.9L481.8 236.5L481.7 236.1L481.6 235.6L481.4 235.2L481.3 234.7L481.1 234.3L480.9 233.8L480.7 233.4L480.5 232.9L480.4 232.5L480.5 232.0L480.8 231.6L481.2 231.1L481.6 230.7L482.0 230.2L482.2 229.8L482.4 229.3Z" fill="#1B9E77"/>
<path d="M479.2 234.5H486.2" class="md"/>
<path d="M496.5 228.6V254.8" class="tl2"/>
<path d="M496.8 228.6L497.0 229.1L497.2 229.5L497.5 230.0L497.9 230.4L498.3 230.9L498.6 231.3L498.8 231.8L498.8 232.2L498.6 232.7L498.4 233.1L498.2 233.6L498.0 234.0L497.9 234.5L497.7 234.9L497.6 235.4L497.5 235.8L497.4 236.2L497.3 236.7L497.2 237.1L497.2 237.6L497.1 238.0L497.1 238.5L497.0 238.9L497.0 239.4L497.0 239.8L496.9 240.3L496.9 240.7L496.9 241.2L496.9 241.6L496.8 242.1L496.8 242.5L496.8 243.0L496.8 243.4L496.8 243.8L496.3 243.8L496.3 243.4L496.2 243.0L496.2 242.5L496.2 242.1L496.2 241.6L496.1 241.2L496.1 240.7L496.1 240.3L496.1 239.8L496.0 239.4L496.0 238.9L496.0 238.5L495.9 238.0L495.9 237.6L495.8 237.1L495.8 236.7L495.7 236.2L495.6 235.8L495.5 235.4L495.3 234.9L495.2 234.5L495.0 234.0L494.8 233.6L494.6 233.1L494.4 232.7L494.3 232.2L494.2 231.8L494.4 231.3L494.7 230.9L495.1 230.4L495.5 230.0L495.8 229.5L496.1 229.1L496.3 228.6Z" fill="#1B9E77"/>
<path d="M493.5 234.0H499.5" class="md"/>
<path d="M510.4 228.0V254.8" class="tl2"/>
<path d="M510.6 228.0L510.7 228.5L510.9 228.9L511.1 229.4L511.4 229.8L511.7 230.3L511.9 230.7L512.2 231.2L512.3 231.6L512.3 232.1L512.2 232.5L512.1 233.0L511.9 233.4L511.7 233.9L511.6 234.3L511.4 234.8L511.3 235.2L511.2 235.7L511.1 236.1L511.0 236.6L511.0 237.0L510.9 237.4L510.9 237.9L510.8 238.3L510.8 238.8L510.8 239.2L510.8 239.7L510.7 240.1L510.7 240.6L510.7 241.0L510.7 241.5L510.6 241.9L510.6 242.4L510.6 242.8L510.6 243.0L510.1 243.0L510.1 242.8L510.1 242.4L510.1 241.9L510.0 241.5L510.0 241.0L510.0 240.6L510.0 240.1L509.9 239.7L509.9 239.2L509.9 238.8L509.9 238.3L509.8 237.9L509.8 237.4L509.7 237.0L509.7 236.6L509.6 236.1L509.5 235.7L509.4 235.2L509.3 234.8L509.1 234.3L509.0 233.9L508.8 233.4L508.6 233.0L508.5 232.5L508.4 232.1L508.4 231.6L508.5 231.2L508.8 230.7L509.0 230.3L509.3 229.8L509.6 229.4L509.8 228.9L510.0 228.5L510.1 228.0Z" fill="#1B9E77"/>
<path d="M507.1 234.5H513.7" class="md"/>
<path d="M524.2 229.3V254.8" class="tl2"/>
<path d="M524.5 229.3L524.7 229.8L525.1 230.2L525.5 230.6L526.0 231.1L526.5 231.5L526.8 232.0L527.0 232.4L526.9 232.9L526.6 233.3L526.4 233.8L526.2 234.2L525.9 234.7L525.7 235.1L525.6 235.6L525.4 236.0L525.3 236.5L525.2 236.9L525.1 237.4L525.0 237.8L524.9 238.3L524.9 238.7L524.8 239.2L524.8 239.6L524.8 240.1L524.7 240.5L524.7 241.0L524.7 241.4L524.6 241.9L524.6 242.3L524.6 242.8L524.5 243.2L524.5 243.7L524.5 244.1L524.5 244.6L524.5 245.0L524.4 245.5L524.4 245.7L523.9 245.7L523.9 245.5L523.9 245.0L523.9 244.6L523.9 244.1L523.9 243.7L523.8 243.2L523.8 242.8L523.8 242.3L523.7 241.9L523.7 241.4L523.7 241.0L523.6 240.5L523.6 240.1L523.6 239.6L523.5 239.2L523.5 238.7L523.4 238.3L523.4 237.8L523.3 237.4L523.2 236.9L523.1 236.5L523.0 236.0L522.8 235.6L522.6 235.1L522.4 234.7L522.2 234.2L522.0 233.8L521.7 233.3L521.5 232.9L521.4 232.4L521.5 232.0L521.9 231.5L522.4 231.1L522.9 230.6L523.3 230.2L523.6 229.8L523.9 229.3Z" fill="#1B9E77"/>
<path d="M521.2 234.3H527.2" class="md"/>
<path d="M538.0 227.7V254.8" class="tl2"/>
<path d="M538.3 227.7L538.4 228.1L538.6 228.6L538.8 229.0L539.1 229.5L539.3 229.9L539.6 230.4L539.9 230.8L540.1 231.3L540.2 231.7L540.2 232.2L540.1 232.6L540.0 233.1L539.8 233.5L539.7 234.0L539.5 234.4L539.4 234.9L539.2 235.3L539.1 235.8L539.0 236.2L538.9 236.7L538.8 237.1L538.7 237.6L538.6 238.0L538.6 238.5L538.5 238.9L538.4 239.4L538.4 239.8L538.4 240.3L538.3 240.7L538.3 241.2L538.3 241.6L538.3 241.8L537.8 241.8L537.8 241.6L537.7 241.2L537.7 240.7L537.7 240.3L537.6 239.8L537.6 239.4L537.5 238.9L537.5 238.5L537.4 238.0L537.3 237.6L537.3 237.1L537.2 236.7L537.0 236.2L536.9 235.8L536.8 235.3L536.7 234.9L536.5 234.4L536.4 234.0L536.2 233.5L536.1 233.1L535.9 232.6L535.8 232.2L535.8 231.7L535.9 231.3L536.1 230.8L536.4 230.4L536.7 229.9L537.0 229.5L537.2 229.0L537.5 228.6L537.6 228.1L537.8 227.7Z" fill="#1B9E77"/>
<path d="M535.0 233.5H541.0" class="md"/>
<path d="M551.8 232.0V237.0" class="tl"/>
<path d="M552.3 232.0L553.5 232.4L555.6 232.9L557.6 233.3L557.2 233.8L555.7 234.2L554.3 234.7L553.4 235.1L552.8 235.6L552.4 236.0L552.2 236.5L552.1 236.9L551.6 236.9L551.5 236.5L551.3 236.0L550.9 235.6L550.3 235.1L549.4 234.7L548.0 234.2L546.5 233.8L546.1 233.3L548.1 232.9L550.2 232.4L551.4 232.0Z" fill="#1B9E77"/>
<path d="M545.8 233.5H557.8" class="md"/>
<path d="M565.7 227.3V254.8" class="tl2"/>
<path d="M565.9 227.3L566.0 227.8L566.2 228.2L566.4 228.6L566.6 229.1L566.9 229.5L567.2 230.0L567.4 230.4L567.6 230.9L567.8 231.3L567.9 231.8L567.8 232.2L567.7 232.7L567.5 233.1L567.3 233.6L567.1 234.0L566.9 234.5L566.8 234.9L566.7 235.4L566.6 235.8L566.5 236.3L566.4 236.7L566.3 237.2L566.3 237.6L566.2 238.1L566.2 238.5L566.2 239.0L566.1 239.4L566.1 239.9L566.1 240.3L566.1 240.8L566.0 241.2L566.0 241.7L566.0 242.1L566.0 242.6L565.9 243.0L565.9 243.5L565.9 243.6L565.4 243.6L565.4 243.5L565.4 243.0L565.4 242.6L565.4 242.1L565.3 241.7L565.3 241.2L565.3 240.8L565.3 240.3L565.2 239.9L565.2 239.4L565.2 239.0L565.2 238.5L565.1 238.1L565.1 237.6L565.0 237.2L565.0 236.7L564.9 236.3L564.8 235.8L564.7 235.4L564.6 234.9L564.4 234.5L564.2 234.0L564.1 233.6L563.9 233.1L563.7 232.7L563.5 232.2L563.5 231.8L563.6 231.3L563.7 230.9L564.0 230.4L564.2 230.0L564.5 229.5L564.7 229.1L565.0 228.6L565.2 228.2L565.3 227.8L565.4 227.3Z" fill="#1B9E77"/>
<path d="M562.7 233.5H568.7" class="md"/>
<path d="M579.5 227.7V254.8" class="tl"/>
<path d="M579.8 227.7L579.9 228.1L580.0 228.6L580.1 229.0L580.2 229.5L580.3 229.9L580.5 230.4L580.6 230.8L580.8 231.3L581.0 231.7L581.1 232.2L581.3 232.6L581.3 233.1L581.2 233.5L581.1 234.0L581.0 234.4L580.9 234.9L580.7 235.3L580.6 235.8L580.5 236.2L580.4 236.7L580.3 237.1L580.2 237.6L580.1 238.0L580.0 238.5L579.9 238.9L579.8 239.4L579.8 239.8L579.7 240.2L579.3 240.2L579.2 239.8L579.2 239.4L579.1 238.9L579.0 238.5L579.0 238.0L578.9 237.6L578.8 237.1L578.7 236.7L578.5 236.2L578.4 235.8L578.3 235.3L578.1 234.9L578.0 234.4L577.9 234.0L577.8 233.5L577.7 233.1L577.8 232.6L577.9 232.2L578.1 231.7L578.2 231.3L578.4 230.8L578.6 230.4L578.7 229.9L578.8 229.5L579.0 229.0L579.1 228.6L579.2 228.1L579.2 227.7Z" fill="#1B9E77"/>
<path d="M576.5 235.6H582.5" class="md"/>
<path d="M593.3 229.3V249.6" class="tl2"/>
<path d="M593.6 229.3L593.8 229.8L594.1 230.2L594.4 230.6L594.8 231.1L595.3 231.5L595.6 232.0L595.9 232.4L596.0 232.9L595.9 233.3L595.7 233.8L595.5 234.2L595.3 234.7L595.1 235.1L594.9 235.6L594.7 236.0L594.5 236.5L594.4 236.9L594.3 237.4L594.2 237.8L594.1 238.3L594.1 238.7L594.0 239.2L594.0 239.6L593.9 240.1L593.9 240.5L593.9 241.0L593.8 241.4L593.8 241.9L593.8 242.3L593.7 242.8L593.7 243.2L593.7 243.7L593.7 244.1L593.6 244.6L593.6 245.0L593.6 245.5L593.6 245.9L593.6 246.0L593.1 246.0L593.1 245.9L593.1 245.5L593.1 245.0L593.0 244.6L593.0 244.1L593.0 243.7L593.0 243.2L592.9 242.8L592.9 242.3L592.9 241.9L592.9 241.4L592.8 241.0L592.8 240.5L592.7 240.1L592.7 239.6L592.7 239.2L592.6 238.7L592.5 238.3L592.5 237.8L592.4 237.4L592.3 236.9L592.2 236.5L592.0 236.0L591.8 235.6L591.6 235.1L591.4 234.7L591.2 234.2L590.9 233.8L590.7 233.3L590.6 232.9L590.8 232.4L591.0 232.0L591.4 231.5L591.8 231.1L592.2 230.6L592.6 230.2L592.9 229.8L593.0 229.3Z" fill="#1B9E77"/>
<path d="M590.0 234.5H596.6" class="md"/>
<path d="M607.2 229.3V249.6" class="tl2"/>
<path d="M607.5 229.3L607.7 229.8L608.0 230.2L608.5 230.6L608.9 231.1L609.4 231.5L609.7 232.0L609.9 232.4L609.8 232.9L609.6 233.3L609.3 233.8L609.1 234.2L608.9 234.7L608.7 235.1L608.5 235.6L608.3 236.0L608.2 236.5L608.1 236.9L608.0 237.4L608.0 237.8L607.9 238.3L607.9 238.7L607.8 239.2L607.8 239.6L607.7 240.1L607.7 240.5L607.7 241.0L607.6 241.4L607.6 241.9L607.6 242.3L607.5 242.8L607.5 243.2L607.5 243.7L607.5 244.1L607.5 244.6L607.4 245.0L607.4 245.5L606.9 245.5L606.9 245.0L606.9 244.6L606.9 244.1L606.9 243.7L606.8 243.2L606.8 242.8L606.8 242.3L606.8 241.9L606.7 241.4L606.7 241.0L606.7 240.5L606.6 240.1L606.6 239.6L606.5 239.2L606.5 238.7L606.4 238.3L606.4 237.8L606.3 237.4L606.2 236.9L606.1 236.5L606.0 236.0L605.9 235.6L605.7 235.1L605.5 234.7L605.3 234.2L605.0 233.8L604.8 233.3L604.6 232.9L604.5 232.4L604.6 232.0L605.0 231.5L605.4 231.1L605.9 230.6L606.3 230.2L606.7 229.8L606.9 229.3Z" fill="#1B9E77"/>
<path d="M604.2 234.0H610.2" class="md"/>
<path d="M621.0 229.0V254.8" class="tl2"/>
<path d="M621.3 229.0L621.5 229.4L621.7 229.9L622.1 230.3L622.5 230.8L622.9 231.2L623.2 231.7L623.5 232.1L623.5 232.6L623.3 233.0L623.1 233.5L622.9 233.9L622.7 234.4L622.5 234.8L622.3 235.3L622.2 235.7L622.1 236.2L621.9 236.6L621.9 237.1L621.8 237.5L621.7 238.0L621.7 238.4L621.6 238.9L621.6 239.3L621.5 239.8L621.5 240.2L621.5 240.7L621.4 241.1L621.4 241.6L621.4 242.0L621.4 242.5L621.3 242.9L621.3 243.4L621.3 243.8L621.3 244.3L621.3 244.7L621.3 244.9L620.8 244.9L620.8 244.7L620.7 244.3L620.7 243.8L620.7 243.4L620.7 242.9L620.6 242.5L620.6 242.0L620.6 241.6L620.6 241.1L620.5 240.7L620.5 240.2L620.5 239.8L620.4 239.3L620.4 238.9L620.3 238.4L620.3 238.0L620.2 237.5L620.2 237.1L620.1 236.6L620.0 236.2L619.8 235.7L619.7 235.3L619.5 234.8L619.3 234.4L619.1 233.9L618.9 233.5L618.7 233.0L618.5 232.6L618.6 232.1L618.8 231.7L619.1 231.2L619.5 230.8L619.9 230.3L620.3 229.9L620.5 229.4L620.7 229.0Z" fill="#1B9E77"/>
<path d="M617.5 234.5H624.5" class="md"/>
<path d="M634.8 229.3V254.8" class="tl2"/>
<path d="M635.1 229.3L635.3 229.8L635.6 230.2L636.0 230.6L636.5 231.1L636.9 231.5L637.2 232.0L637.3 232.4L637.2 232.9L637.0 233.3L636.8 233.8L636.6 234.2L636.4 234.7L636.2 235.1L636.1 235.6L635.9 236.0L635.8 236.5L635.7 236.9L635.6 237.4L635.6 237.8L635.5 238.3L635.5 238.7L635.4 239.2L635.4 239.6L635.3 240.1L635.3 240.5L635.3 241.0L635.3 241.4L635.2 241.9L635.2 242.3L635.2 242.8L635.2 243.2L635.1 243.7L635.1 244.1L635.1 244.6L635.1 244.9L634.6 244.9L634.6 244.6L634.6 244.1L634.5 243.7L634.5 243.2L634.5 242.8L634.5 242.3L634.4 241.9L634.4 241.4L634.4 241.0L634.4 240.5L634.3 240.1L634.3 239.6L634.3 239.2L634.2 238.7L634.2 238.3L634.1 237.8L634.0 237.4L634.0 236.9L633.9 236.5L633.7 236.0L633.6 235.6L633.5 235.1L633.3 234.7L633.1 234.2L632.9 233.8L632.6 233.3L632.4 232.9L632.3 232.4L632.5 232.0L632.8 231.5L633.2 231.1L633.6 230.6L634.0 230.2L634.4 229.8L634.6 229.3Z" fill="#1B9E77"/>
<path d="M631.8 234.0H637.8" class="md"/>
<path d="M648.7 229.3V254.8" class="tl2"/>
<path d="M648.9 229.3L649.2 229.8L649.5 230.2L649.9 230.6L650.3 231.1L650.7 231.5L651.0 232.0L651.2 232.4L651.1 232.9L650.9 233.3L650.7 233.8L650.4 234.2L650.2 234.7L650.0 235.1L649.9 235.6L649.8 236.0L649.6 236.5L649.6 236.9L649.5 237.4L649.4 237.8L649.3 238.3L649.3 238.7L649.3 239.2L649.2 239.6L649.2 240.1L649.1 240.5L649.1 241.0L649.1 241.4L649.1 241.9L649.0 242.3L649.0 242.8L649.0 243.2L649.0 243.7L648.9 244.1L648.9 244.6L648.9 244.9L648.4 244.9L648.4 244.6L648.4 244.1L648.4 243.7L648.3 243.2L648.3 242.8L648.3 242.3L648.3 241.9L648.3 241.4L648.2 241.0L648.2 240.5L648.2 240.1L648.1 239.6L648.1 239.2L648.0 238.7L648.0 238.3L647.9 237.8L647.9 237.4L647.8 236.9L647.7 236.5L647.6 236.0L647.4 235.6L647.3 235.1L647.1 234.7L646.9 234.2L646.7 233.8L646.5 233.3L646.3 232.9L646.2 232.4L646.3 232.0L646.6 231.5L647.0 231.1L647.5 230.6L647.9 230.2L648.2 229.8L648.4 229.3Z" fill="#1B9E77"/>
<path d="M645.4 234.5H652.0" class="md"/>
<path d="M662.5 229.3V254.8" class="tl2"/>
<path d="M662.8 229.3L663.0 229.8L663.3 230.2L663.7 230.6L664.1 231.1L664.6 231.5L664.9 232.0L665.0 232.4L664.9 232.9L664.7 233.3L664.5 233.8L664.3 234.2L664.1 234.7L663.9 235.1L663.7 235.6L663.6 236.0L663.5 236.5L663.4 236.9L663.3 237.4L663.2 237.8L663.2 238.3L663.1 238.7L663.1 239.2L663.0 239.6L663.0 240.1L663.0 240.5L662.9 241.0L662.9 241.4L662.9 241.9L662.9 242.3L662.8 242.8L662.8 243.2L662.8 243.7L662.8 244.1L662.8 244.6L662.7 244.9L662.3 244.9L662.2 244.6L662.2 244.1L662.2 243.7L662.2 243.2L662.2 242.8L662.1 242.3L662.1 241.9L662.1 241.4L662.1 241.0L662.0 240.5L662.0 240.1L662.0 239.6L661.9 239.2L661.9 238.7L661.8 238.3L661.8 237.8L661.7 237.4L661.6 236.9L661.5 236.5L661.4 236.0L661.3 235.6L661.1 235.1L660.9 234.7L660.7 234.2L660.5 233.8L660.3 233.3L660.1 232.9L660.0 232.4L660.1 232.0L660.4 231.5L660.9 231.1L661.3 230.6L661.7 230.2L662.0 229.8L662.2 229.3Z" fill="#1B9E77"/>
<path d="M659.2 234.5H665.8" class="md"/>
</g>
<line x1="391.9" y1="229.1" x2="670.3" y2="229.1" stroke="#f01818" stroke-width="0.95" stroke-dasharray="0.95 1.75"/>
<text transform="translate(387.00,208.70) scale(1,1.09)" text-anchor="end" fill="#383838" style="font-size:9.4px;" >2.0</text>
<text transform="translate(387.00,231.80) scale(1,1.09)" text-anchor="end" fill="#383838" style="font-size:9.4px;" >1.0</text>
<text transform="translate(387.00,254.50) scale(1,1.09)" text-anchor="end" fill="#383838" style="font-size:9.4px;" >0.0</text>
<line x1="391.2" y1="207.20" x2="392.29999999999995" y2="207.20" stroke="#555" stroke-width="0.6"/>
<line x1="391.2" y1="218.75" x2="392.29999999999995" y2="218.75" stroke="#555" stroke-width="0.6"/>
<line x1="391.2" y1="230.30" x2="392.29999999999995" y2="230.30" stroke="#555" stroke-width="0.6"/>
<line x1="391.2" y1="241.65" x2="392.29999999999995" y2="241.65" stroke="#555" stroke-width="0.6"/>
<line x1="391.2" y1="253.00" x2="392.29999999999995" y2="253.00" stroke="#555" stroke-width="0.6"/>
<text transform="translate(676.50,229.70) rotate(90) scale(1,1.06)" text-anchor="middle" fill="#17704F" style="font-size:9.2px;font-weight:bold;font-style:italic;">E. coli</text>
<rect x="391.4" y="260.2" width="279.40" height="50.40" fill="none" stroke="#9a9a9a" stroke-width="0.75"/>
<clipPath id="c140590430260992"><rect x="391.4" y="260.2" width="279.4" height="50.400000000000034"/></clipPath>
<g clip-path="url(#c140590430260992)" stroke="#2a2a2a" stroke-width="0.5" stroke-linejoin="round">
<path d="M399.7 284.6V310.6" class="tl"/>
<path d="M400.0 284.6L400.5 285.1L401.5 285.5L402.6 285.9L402.4 286.4L401.9 286.8L401.5 287.3L401.1 287.7L400.8 288.2L400.6 288.6L400.4 289.1L400.3 289.5L400.2 290.0L400.1 290.4L400.0 290.9L400.0 291.3L400.0 291.8L399.9 292.2L399.5 292.2L399.4 291.8L399.4 291.3L399.4 290.9L399.3 290.4L399.2 290.0L399.1 289.5L399.0 289.1L398.8 288.6L398.6 288.2L398.3 287.7L397.9 287.3L397.5 286.8L397.0 286.4L396.7 285.9L397.9 285.5L398.9 285.1L399.4 284.6Z" fill="#D95F02"/>
<path d="M396.7 286.0H402.7" class="md"/>
<path d="M413.5 284.6V310.6" class="tl"/>
<path d="M413.8 284.6L414.3 285.1L415.3 285.5L416.5 285.9L416.2 286.4L415.7 286.8L415.3 287.3L414.9 287.7L414.6 288.2L414.4 288.6L414.2 289.1L414.1 289.5L414.0 290.0L413.9 290.4L413.9 290.9L413.8 291.3L413.8 291.8L413.8 292.2L413.3 292.2L413.3 291.8L413.2 291.3L413.2 290.9L413.1 290.4L413.1 290.0L413.0 289.5L412.8 289.1L412.6 288.6L412.4 288.2L412.1 287.7L411.8 287.3L411.3 286.8L410.9 286.4L410.6 285.9L411.8 285.5L412.8 285.1L413.3 284.6Z" fill="#D95F02"/>
<path d="M410.5 286.0H416.5" class="md"/>
<path d="M427.4 284.6V310.6" class="tl"/>
<path d="M427.8 284.6L428.5 285.1L430.0 285.5L431.8 285.9L431.4 286.4L430.7 286.8L430.0 287.3L429.5 287.7L429.0 288.2L428.7 288.6L428.4 289.1L428.2 289.5L428.1 290.0L428.0 290.4L427.9 290.9L427.8 291.3L427.8 291.8L427.7 292.2L427.7 292.7L427.7 293.1L427.6 293.6L427.6 294.0L427.6 294.2L427.1 294.2L427.1 294.0L427.1 293.6L427.1 293.1L427.0 292.7L427.0 292.2L427.0 291.8L426.9 291.3L426.8 290.9L426.8 290.4L426.7 290.0L426.5 289.5L426.3 289.1L426.0 288.6L425.7 288.2L425.2 287.7L424.7 287.3L424.1 286.8L423.4 286.4L422.9 285.9L424.7 285.5L426.2 285.1L427.0 284.6Z" fill="#D95F02"/>
<path d="M424.4 286.0H430.4" class="md"/>
<path d="M441.2 284.6V310.6" class="tl"/>
<path d="M441.5 284.6L442.0 285.1L443.0 285.5L444.1 285.9L443.9 286.4L443.4 286.8L443.0 287.3L442.6 287.7L442.3 288.2L442.1 288.6L441.9 289.1L441.8 289.5L441.7 290.0L441.6 290.4L441.5 290.9L441.5 291.3L441.5 291.8L441.4 292.2L441.0 292.2L440.9 291.8L440.9 291.3L440.9 290.9L440.8 290.4L440.7 290.0L440.6 289.5L440.5 289.1L440.3 288.6L440.1 288.2L439.8 287.7L439.4 287.3L439.0 286.8L438.5 286.4L438.2 285.9L439.4 285.5L440.4 285.1L440.9 284.6Z" fill="#D95F02"/>
<path d="M438.2 286.0H444.2" class="md"/>
<path d="M455.0 284.6V310.6" class="tl"/>
<path d="M455.4 284.6L456.2 285.1L457.7 285.5L459.5 285.9L459.0 286.4L458.3 286.8L457.7 287.3L457.1 287.7L456.7 288.2L456.4 288.6L456.1 289.1L455.9 289.5L455.7 290.0L455.6 290.4L455.5 290.9L455.5 291.3L455.4 291.8L455.4 292.2L455.4 292.7L455.3 293.1L455.3 293.6L455.3 294.0L455.3 294.2L454.8 294.2L454.8 294.0L454.8 293.6L454.7 293.1L454.7 292.7L454.7 292.2L454.6 291.8L454.6 291.3L454.5 290.9L454.4 290.4L454.3 290.0L454.2 289.5L454.0 289.1L453.7 288.6L453.4 288.2L452.9 287.7L452.4 287.3L451.7 286.8L451.0 286.4L450.6 285.9L452.4 285.5L453.9 285.1L454.6 284.6Z" fill="#D95F02"/>
<path d="M452.0 286.0H458.0" class="md"/>
<path d="M468.9 284.6V310.6" class="tl"/>
<path d="M469.1 284.6L469.6 285.1L470.6 285.5L471.8 285.9L471.5 286.4L471.1 286.8L470.6 287.3L470.3 287.7L470.0 288.2L469.7 288.6L469.6 289.1L469.4 289.5L469.3 290.0L469.3 290.4L469.2 290.9L469.2 291.3L469.1 291.8L469.1 292.2L468.6 292.2L468.6 291.8L468.6 291.3L468.5 290.9L468.5 290.4L468.4 290.0L468.3 289.5L468.2 289.1L468.0 288.6L467.7 288.2L467.4 287.7L467.1 287.3L466.6 286.8L466.2 286.4L465.9 285.9L467.1 285.5L468.1 285.1L468.6 284.6Z" fill="#D95F02"/>
<path d="M465.9 286.0H471.9" class="md"/>
<path d="M482.7 284.6V310.6" class="tl"/>
<path d="M482.9 284.6L483.5 285.1L484.5 285.5L485.6 285.9L485.4 286.4L484.9 286.8L484.5 287.3L484.1 287.7L483.8 288.2L483.6 288.6L483.4 289.1L483.3 289.5L483.2 290.0L483.1 290.4L483.0 290.9L483.0 291.3L483.0 291.8L482.9 292.2L482.4 292.2L482.4 291.8L482.4 291.3L482.3 290.9L482.3 290.4L482.2 290.0L482.1 289.5L482.0 289.1L481.8 288.6L481.6 288.2L481.3 287.7L480.9 287.3L480.5 286.8L480.0 286.4L479.7 285.9L480.9 285.5L481.9 285.1L482.4 284.6Z" fill="#D95F02"/>
<path d="M479.7 286.0H485.7" class="md"/>
<path d="M496.5 284.6V310.6" class="tl"/>
<path d="M496.9 284.6L497.5 285.1L498.9 285.5L500.5 285.9L500.1 286.4L499.5 286.8L498.9 287.3L498.4 287.7L498.0 288.2L497.7 288.6L497.5 289.1L497.3 289.5L497.2 290.0L497.1 290.4L497.0 290.9L496.9 291.3L496.9 291.8L496.8 292.2L496.8 292.7L496.8 293.1L496.8 293.6L496.3 293.6L496.3 293.1L496.2 292.7L496.2 292.2L496.2 291.8L496.1 291.3L496.1 290.9L496.0 290.4L495.9 290.0L495.8 289.5L495.6 289.1L495.3 288.6L495.0 288.2L494.6 287.7L494.2 287.3L493.6 286.8L493.0 286.4L492.6 285.9L494.2 285.5L495.5 285.1L496.2 284.6Z" fill="#D95F02"/>
<path d="M493.5 286.0H499.5" class="md"/>
<path d="M510.4 283.5V310.6" class="tl"/>
<path d="M510.6 284.6L511.0 285.1L511.8 285.5L512.8 286.0L512.6 286.4L512.2 286.9L511.8 287.3L511.5 287.8L511.3 288.2L511.1 288.6L510.9 289.1L510.8 289.5L510.7 290.0L510.7 290.4L510.6 290.9L510.6 291.3L510.6 291.4L510.1 291.4L510.1 291.3L510.1 290.9L510.0 290.4L510.0 290.0L509.9 289.5L509.8 289.1L509.6 288.6L509.4 288.2L509.2 287.8L508.9 287.3L508.5 286.9L508.1 286.4L507.9 286.0L508.9 285.5L509.7 285.1L510.1 284.6Z" fill="#D95F02"/>
<path d="M507.4 286.0H513.4" class="md"/>
<path d="M524.2 284.6V293.7" class="tl"/>
<path d="M524.4 284.6L524.9 285.1L526.0 285.5L527.1 285.9L526.9 286.4L526.4 286.8L526.0 287.3L525.6 287.7L525.3 288.2L525.1 288.6L524.9 289.1L524.8 289.5L524.7 290.0L524.6 290.4L524.5 290.9L524.5 291.3L524.4 291.8L524.4 292.2L523.9 292.2L523.9 291.8L523.9 291.3L523.8 290.9L523.8 290.4L523.7 290.0L523.6 289.5L523.5 289.1L523.3 288.6L523.1 288.2L522.8 287.7L522.4 287.3L522.0 286.8L521.5 286.4L521.2 285.9L522.4 285.5L523.4 285.1L523.9 284.6Z" fill="#D95F02"/>
<path d="M521.2 286.0H527.2" class="md"/>
<path d="M538.0 284.6V300.5" class="tl"/>
<path d="M538.3 284.6L538.8 285.1L539.8 285.5L541.0 285.9L540.7 286.4L540.2 286.8L539.8 287.3L539.4 287.7L539.1 288.2L538.9 288.6L538.7 289.1L538.6 289.5L538.5 290.0L538.4 290.4L538.4 290.9L538.3 291.3L538.3 291.8L538.3 292.2L537.8 292.2L537.8 291.8L537.7 291.3L537.7 290.9L537.6 290.4L537.5 290.0L537.4 289.5L537.3 289.1L537.1 288.6L536.9 288.2L536.6 287.7L536.2 287.3L535.8 286.8L535.3 286.4L535.1 285.9L536.2 285.5L537.3 285.1L537.8 284.6Z" fill="#D95F02"/>
<path d="M535.0 286.0H541.0" class="md"/>
<path d="M551.8 284.6V295.2" class="tl"/>
<path d="M552.1 284.6L552.6 285.1L553.6 285.5L554.8 285.9L554.5 286.4L554.1 286.8L553.6 287.3L553.3 287.7L553.0 288.2L552.7 288.6L552.6 289.1L552.4 289.5L552.3 290.0L552.2 290.4L552.2 290.9L552.1 291.3L552.1 291.8L552.1 292.2L551.6 292.2L551.6 291.8L551.5 291.3L551.5 290.9L551.4 290.4L551.4 290.0L551.3 289.5L551.1 289.1L551.0 288.6L550.7 288.2L550.4 287.7L550.1 287.3L549.6 286.8L549.2 286.4L548.9 285.9L550.1 285.5L551.1 285.1L551.6 284.6Z" fill="#D95F02"/>
<path d="M548.8 286.0H554.8" class="md"/>
<path d="M565.7 284.6V310.6" class="tl"/>
<path d="M565.9 284.6L566.4 285.1L567.5 285.5L568.6 285.9L568.3 286.4L567.9 286.8L567.5 287.3L567.1 287.7L566.8 288.2L566.6 288.6L566.4 289.1L566.3 289.5L566.2 290.0L566.1 290.4L566.0 290.9L566.0 291.3L565.9 291.8L565.9 292.2L565.4 292.2L565.4 291.8L565.4 291.3L565.3 290.9L565.3 290.4L565.2 290.0L565.1 289.5L565.0 289.1L564.8 288.6L564.6 288.2L564.3 287.7L563.9 287.3L563.5 286.8L563.0 286.4L562.7 285.9L563.9 285.5L564.9 285.1L565.4 284.6Z" fill="#D95F02"/>
<path d="M562.7 286.0H568.7" class="md"/>
<path d="M579.5 284.6V310.6" class="tl"/>
<path d="M580.0 284.6L580.9 285.1L582.8 285.5L584.9 285.9L584.4 286.4L583.6 286.8L582.8 287.3L582.1 287.7L581.6 288.2L581.1 288.6L580.8 289.1L580.6 289.5L580.4 290.0L580.2 290.4L580.1 290.9L580.1 291.3L580.0 291.8L579.9 292.2L579.9 292.7L579.9 293.1L579.8 293.6L579.8 294.0L579.8 294.5L579.8 294.9L579.8 295.4L579.3 295.4L579.2 294.9L579.2 294.5L579.2 294.0L579.2 293.6L579.1 293.1L579.1 292.7L579.1 292.2L579.0 291.8L579.0 291.3L578.9 290.9L578.8 290.4L578.6 290.0L578.5 289.5L578.2 289.1L577.9 288.6L577.5 288.2L576.9 287.7L576.3 287.3L575.5 286.8L574.6 286.4L574.1 285.9L576.3 285.5L578.1 285.1L579.0 284.6Z" fill="#D95F02"/>
<path d="M576.5 286.0H582.5" class="md"/>
<path d="M593.3 284.6V297.3" class="tl"/>
<path d="M593.6 284.6L594.1 285.1L595.1 285.5L596.3 285.9L596.0 286.4L595.6 286.8L595.1 287.3L594.8 287.7L594.5 288.2L594.2 288.6L594.0 289.1L593.9 289.5L593.8 290.0L593.7 290.4L593.7 290.9L593.6 291.3L593.6 291.8L593.6 292.2L593.1 292.2L593.1 291.8L593.0 291.3L593.0 290.9L592.9 290.4L592.9 290.0L592.8 289.5L592.6 289.1L592.5 288.6L592.2 288.2L591.9 287.7L591.6 287.3L591.1 286.8L590.7 286.4L590.4 285.9L591.6 285.5L592.6 285.1L593.1 284.6Z" fill="#D95F02"/>
<path d="M590.3 286.0H596.3" class="md"/>
<path d="M607.2 284.6V310.6" class="tl"/>
<path d="M607.4 284.6L607.9 285.1L609.0 285.5L610.1 285.9L609.8 286.4L609.4 286.8L609.0 287.3L608.6 287.7L608.3 288.2L608.1 288.6L607.9 289.1L607.7 289.5L607.6 290.0L607.6 290.4L607.5 290.9L607.5 291.3L607.4 291.8L607.4 292.2L606.9 292.2L606.9 291.8L606.9 291.3L606.8 290.9L606.8 290.4L606.7 290.0L606.6 289.5L606.5 289.1L606.3 288.6L606.1 288.2L605.8 287.7L605.4 287.3L605.0 286.8L604.5 286.4L604.2 285.9L605.4 285.5L606.4 285.1L606.9 284.6Z" fill="#D95F02"/>
<path d="M604.2 286.0H610.2" class="md"/>
<path d="M621.0 284.6V310.6" class="tl"/>
<path d="M621.3 284.6L621.8 285.1L622.8 285.5L624.0 285.9L623.7 286.4L623.2 286.8L622.8 287.3L622.4 287.7L622.1 288.2L621.9 288.6L621.7 289.1L621.6 289.5L621.5 290.0L621.4 290.4L621.3 290.9L621.3 291.3L621.3 291.8L621.2 292.2L620.8 292.2L620.7 291.8L620.7 291.3L620.7 290.9L620.6 290.4L620.5 290.0L620.4 289.5L620.3 289.1L620.1 288.6L619.9 288.2L619.6 287.7L619.2 287.3L618.8 286.8L618.3 286.4L618.1 285.9L619.2 285.5L620.2 285.1L620.7 284.6Z" fill="#D95F02"/>
<path d="M618.0 286.0H624.0" class="md"/>
<path d="M634.8 284.6V310.6" class="tl"/>
<path d="M635.1 284.6L635.6 285.1L636.6 285.5L637.8 285.9L637.5 286.4L637.0 286.8L636.6 287.3L636.2 287.7L636.0 288.2L635.7 288.6L635.5 289.1L635.4 289.5L635.3 290.0L635.2 290.4L635.2 290.9L635.1 291.3L635.1 291.8L635.1 292.2L634.6 292.2L634.6 291.8L634.5 291.3L634.5 290.9L634.4 290.4L634.4 290.0L634.3 289.5L634.1 289.1L634.0 288.6L633.7 288.2L633.4 287.7L633.1 287.3L632.6 286.8L632.2 286.4L631.9 285.9L633.1 285.5L634.1 285.1L634.6 284.6Z" fill="#D95F02"/>
<path d="M631.8 286.0H637.8" class="md"/>
<path d="M648.7 284.6V307.9" class="tl"/>
<path d="M648.9 284.6L649.4 285.1L650.4 285.5L651.6 285.9L651.3 286.4L650.9 286.8L650.4 287.3L650.1 287.7L649.8 288.2L649.6 288.6L649.4 289.1L649.2 289.5L649.1 290.0L649.1 290.4L649.0 290.9L649.0 291.3L648.9 291.8L648.9 292.2L648.4 292.2L648.4 291.8L648.4 291.3L648.3 290.9L648.3 290.4L648.2 290.0L648.1 289.5L648.0 289.1L647.8 288.6L647.6 288.2L647.3 287.7L646.9 287.3L646.5 286.8L646.0 286.4L645.7 285.9L646.9 285.5L647.9 285.1L648.4 284.6Z" fill="#D95F02"/>
<path d="M645.7 286.0H651.7" class="md"/>
<path d="M662.5 284.6V310.6" class="tl"/>
<path d="M662.8 284.6L663.3 285.1L664.3 285.5L665.5 285.9L665.2 286.4L664.7 286.8L664.3 287.3L663.9 287.7L663.6 288.2L663.4 288.6L663.2 289.1L663.1 289.5L663.0 290.0L662.9 290.4L662.8 290.9L662.8 291.3L662.8 291.8L662.7 292.2L662.3 292.2L662.2 291.8L662.2 291.3L662.2 290.9L662.1 290.4L662.0 290.0L661.9 289.5L661.8 289.1L661.6 288.6L661.4 288.2L661.1 287.7L660.7 287.3L660.3 286.8L659.8 286.4L659.6 285.9L660.7 285.5L661.7 285.1L662.2 284.6Z" fill="#D95F02"/>
<path d="M659.5 286.0H665.5" class="md"/>
</g>
<line x1="391.9" y1="285.6" x2="670.3" y2="285.6" stroke="#f01818" stroke-width="0.95" stroke-dasharray="0.95 1.75"/>
<text transform="translate(387.00,265.10) scale(1,1.09)" text-anchor="end" fill="#383838" style="font-size:9.4px;" >1.0</text>
<text transform="translate(387.00,287.70) scale(1,1.09)" text-anchor="end" fill="#383838" style="font-size:9.4px;" >0.0</text>
<text transform="translate(387.00,310.90) scale(1,1.09)" text-anchor="end" fill="#383838" style="font-size:9.4px;" >−1.0</text>
<line x1="391.2" y1="263.60" x2="392.29999999999995" y2="263.60" stroke="#555" stroke-width="0.6"/>
<line x1="391.2" y1="274.90" x2="392.29999999999995" y2="274.90" stroke="#555" stroke-width="0.6"/>
<line x1="391.2" y1="286.20" x2="392.29999999999995" y2="286.20" stroke="#555" stroke-width="0.6"/>
<line x1="391.2" y1="297.80" x2="392.29999999999995" y2="297.80" stroke="#555" stroke-width="0.6"/>
<line x1="391.2" y1="309.40" x2="392.29999999999995" y2="309.40" stroke="#555" stroke-width="0.6"/>
<text transform="translate(676.50,285.40) rotate(90) scale(1,1.06)" text-anchor="middle" fill="#A6470B" style="font-size:9.2px;font-weight:bold;">Human</text>
<rect x="391.4" y="316.2" width="279.40" height="50.40" fill="none" stroke="#9a9a9a" stroke-width="0.75"/>
<clipPath id="c140590430261120"><rect x="391.4" y="316.2" width="279.4" height="50.400000000000034"/></clipPath>
<g clip-path="url(#c140590430261120)" stroke="#2a2a2a" stroke-width="0.5" stroke-linejoin="round">
<path d="M399.7 337.4V366.6" class="tl2"/>
<path d="M400.0 337.4L400.1 337.8L400.2 338.3L400.4 338.7L400.6 339.2L400.9 339.6L401.1 340.1L401.4 340.5L401.5 341.0L401.5 341.4L401.4 341.9L401.3 342.3L401.2 342.8L401.1 343.2L401.0 343.7L400.9 344.1L400.8 344.6L400.7 345.0L400.6 345.5L400.5 345.9L400.4 346.4L400.3 346.8L400.2 347.3L400.2 347.7L400.1 348.2L400.0 348.6L400.0 349.1L400.0 349.5L399.9 349.8L399.5 349.8L399.4 349.5L399.4 349.1L399.3 348.6L399.3 348.2L399.2 347.7L399.2 347.3L399.1 346.8L399.0 346.4L398.9 345.9L398.8 345.5L398.7 345.0L398.6 344.6L398.5 344.1L398.4 343.7L398.3 343.2L398.2 342.8L398.1 342.3L398.0 341.9L397.9 341.4L397.9 341.0L398.0 340.5L398.3 340.1L398.5 339.6L398.8 339.2L399.0 338.7L399.2 338.3L399.3 337.8L399.4 337.4Z" fill="#7570B3"/>
<path d="M396.4 346.3H403.0" class="md"/>
<path d="M413.5 337.4V366.6" class="tl2"/>
<path d="M413.8 337.4L414.0 337.8L414.1 338.3L414.3 338.7L414.6 339.2L414.8 339.6L415.1 340.1L415.4 340.5L415.5 341.0L415.5 341.4L415.4 341.9L415.3 342.3L415.2 342.8L415.1 343.2L414.9 343.7L414.8 344.1L414.7 344.6L414.6 345.0L414.5 345.5L414.4 345.9L414.3 346.4L414.2 346.8L414.1 347.3L414.0 347.7L414.0 348.2L413.9 348.6L413.9 349.1L413.8 349.5L413.8 350.0L413.3 350.0L413.2 349.5L413.2 349.1L413.1 348.6L413.1 348.2L413.0 347.7L412.9 347.3L412.9 346.8L412.8 346.4L412.7 345.9L412.6 345.5L412.5 345.0L412.4 344.6L412.2 344.1L412.1 343.7L412.0 343.2L411.9 342.8L411.8 342.3L411.7 341.9L411.6 341.4L411.5 341.0L411.7 340.5L411.9 340.1L412.2 339.6L412.5 339.2L412.7 338.7L412.9 338.3L413.1 337.8L413.2 337.4Z" fill="#7570B3"/>
<path d="M410.2 344.3H416.8" class="md"/>
<path d="M427.4 338.0V362.7" class="tl2"/>
<path d="M427.6 338.0L427.8 338.4L428.1 338.9L428.4 339.3L428.8 339.8L429.2 340.2L429.6 340.7L429.9 341.1L430.1 341.6L429.9 342.0L429.6 342.5L429.3 342.9L429.0 343.4L428.7 343.8L428.5 344.3L428.3 344.7L428.2 345.2L428.0 345.6L427.9 346.1L427.9 346.5L427.8 347.0L427.8 347.4L427.7 347.9L427.7 348.3L427.7 348.8L427.6 349.2L427.6 349.7L427.1 349.7L427.1 349.2L427.1 348.8L427.0 348.3L427.0 347.9L427.0 347.4L426.9 347.0L426.9 346.5L426.8 346.1L426.7 345.6L426.6 345.2L426.4 344.7L426.2 344.3L426.0 343.8L425.7 343.4L425.4 342.9L425.1 342.5L424.8 342.0L424.7 341.6L424.8 341.1L425.1 340.7L425.5 340.2L425.9 339.8L426.3 339.3L426.7 338.9L426.9 338.4L427.1 338.0Z" fill="#7570B3"/>
<path d="M424.7 341.7H430.1" class="md"/>
<path d="M441.2 338.0V351.5" class="tl2"/>
<path d="M441.5 338.0L441.7 338.4L442.0 338.9L442.5 339.3L443.0 339.8L443.5 340.2L444.0 340.7L444.3 341.1L444.5 341.6L444.3 342.0L443.9 342.5L443.5 342.9L443.1 343.4L442.7 343.8L442.4 344.3L442.1 344.7L441.9 345.2L441.8 345.6L441.6 346.1L441.6 346.5L441.5 347.0L441.4 347.4L441.4 347.5L441.0 347.5L441.0 347.4L440.9 347.0L440.8 346.5L440.7 346.1L440.6 345.6L440.5 345.2L440.3 344.7L440.0 344.3L439.7 343.8L439.3 343.4L438.9 342.9L438.5 342.5L438.1 342.0L437.9 341.6L438.1 341.1L438.4 340.7L438.9 340.2L439.4 339.8L439.9 339.3L440.3 338.9L440.7 338.4L440.9 338.0Z" fill="#7570B3"/>
<path d="M437.9 341.7H444.5" class="md"/>
<path d="M455.0 336.4V366.6" class="tl"/>
<path d="M455.3 336.8L455.3 337.3L455.4 337.7L455.4 338.2L455.5 338.6L455.6 339.1L455.7 339.5L455.8 340.0L455.9 340.4L455.9 340.9L456.0 341.3L456.1 341.8L456.2 342.2L456.3 342.7L456.3 343.1L456.3 343.6L456.2 344.0L456.2 344.5L456.1 344.9L456.0 345.4L455.9 345.8L455.9 346.3L455.8 346.7L455.7 347.2L455.6 347.6L455.6 348.1L455.5 348.5L455.4 349.0L455.4 349.4L455.3 349.9L455.3 350.3L455.3 350.8L455.3 350.8L454.8 350.8L454.8 350.8L454.7 350.3L454.7 349.9L454.7 349.4L454.6 349.0L454.5 348.5L454.5 348.1L454.4 347.6L454.4 347.2L454.3 346.7L454.2 346.3L454.1 345.8L454.0 345.4L454.0 344.9L453.9 344.5L453.8 344.0L453.8 343.6L453.7 343.1L453.8 342.7L453.8 342.2L453.9 341.8L454.0 341.3L454.1 340.9L454.2 340.4L454.3 340.0L454.4 339.5L454.5 339.1L454.5 338.6L454.6 338.2L454.7 337.7L454.7 337.3L454.8 336.8Z" fill="#7570B3"/>
<path d="M451.5 348.5H458.5" class="md"/>
<path d="M468.9 336.4V366.6" class="tl"/>
<path d="M469.1 336.4L469.1 336.9L469.2 337.3L469.2 337.8L469.3 338.2L469.3 338.7L469.4 339.1L469.5 339.6L469.5 340.0L469.6 340.5L469.7 340.9L469.8 341.4L469.8 341.8L469.9 342.3L470.0 342.7L470.1 343.2L470.2 343.6L470.3 344.1L470.3 344.5L470.4 345.0L470.3 345.4L470.3 345.9L470.2 346.3L470.1 346.8L470.0 347.2L469.9 347.7L469.8 348.1L469.8 348.6L469.7 349.0L469.6 349.5L469.5 349.9L469.4 350.4L469.4 350.8L469.3 351.3L469.2 351.7L469.2 352.2L469.2 352.6L469.1 353.1L469.1 353.2L468.6 353.2L468.6 353.1L468.6 352.6L468.5 352.2L468.5 351.7L468.4 351.3L468.3 350.8L468.3 350.4L468.2 349.9L468.1 349.5L468.1 349.0L468.0 348.6L467.9 348.1L467.8 347.7L467.7 347.2L467.6 346.8L467.5 346.3L467.4 345.9L467.4 345.4L467.4 345.0L467.4 344.5L467.5 344.1L467.5 343.6L467.6 343.2L467.7 342.7L467.8 342.3L467.9 341.8L468.0 341.4L468.0 340.9L468.1 340.5L468.2 340.0L468.3 339.6L468.3 339.1L468.4 338.7L468.4 338.2L468.5 337.8L468.5 337.3L468.6 336.9L468.6 336.4Z" fill="#7570B3"/>
<path d="M465.6 348.2H472.2" class="md"/>
<path d="M482.7 338.0V361.4" class="tl2"/>
<path d="M482.9 338.0L483.1 338.4L483.4 338.9L483.7 339.3L484.1 339.8L484.6 340.2L485.0 340.7L485.3 341.1L485.4 341.6L485.3 342.0L485.0 342.5L484.6 342.9L484.3 343.4L484.1 343.8L483.8 344.3L483.6 344.7L483.5 345.2L483.4 345.6L483.3 346.1L483.2 346.5L483.1 347.0L483.1 347.4L483.1 347.9L483.0 348.3L483.0 348.8L483.0 349.2L482.9 349.7L482.4 349.7L482.4 349.2L482.4 348.8L482.4 348.3L482.3 347.9L482.3 347.4L482.2 347.0L482.2 346.5L482.1 346.1L482.0 345.6L481.9 345.2L481.7 344.7L481.6 344.3L481.3 343.8L481.0 343.4L480.7 342.9L480.4 342.5L480.1 342.0L480.0 341.6L480.1 341.1L480.4 340.7L480.8 340.2L481.2 339.8L481.7 339.3L482.0 338.9L482.3 338.4L482.4 338.0Z" fill="#7570B3"/>
<path d="M480.0 341.7H485.4" class="md"/>
<path d="M496.5 338.0V361.4" class="tl2"/>
<path d="M496.8 338.0L497.0 338.4L497.2 338.9L497.6 339.3L498.0 339.8L498.4 340.2L498.8 340.7L499.1 341.1L499.2 341.6L499.1 342.0L498.8 342.5L498.5 342.9L498.2 343.4L497.9 343.8L497.7 344.3L497.5 344.7L497.3 345.2L497.2 345.6L497.1 346.1L497.0 346.5L497.0 347.0L496.9 347.4L496.9 347.9L496.8 348.3L496.8 348.8L496.8 349.2L496.8 349.7L496.3 349.7L496.2 349.2L496.2 348.8L496.2 348.3L496.2 347.9L496.1 347.4L496.1 347.0L496.0 346.5L495.9 346.1L495.8 345.6L495.7 345.2L495.6 344.7L495.4 344.3L495.1 343.8L494.9 343.4L494.6 342.9L494.2 342.5L494.0 342.0L493.8 341.6L494.0 341.1L494.3 340.7L494.6 340.2L495.1 339.8L495.5 339.3L495.8 338.9L496.1 338.4L496.3 338.0Z" fill="#7570B3"/>
<path d="M493.8 341.7H499.2" class="md"/>
<path d="M510.4 338.0V364.0" class="tl2"/>
<path d="M510.6 338.1L510.8 338.6L511.0 339.0L511.3 339.5L511.7 339.9L512.0 340.4L512.4 340.8L512.6 341.3L512.7 341.7L512.5 342.2L512.2 342.6L512.0 343.1L511.7 343.5L511.5 344.0L511.3 344.4L511.1 344.9L511.0 345.3L510.9 345.8L510.8 346.2L510.8 346.6L510.7 347.1L510.7 347.5L510.7 348.0L510.6 348.4L510.6 348.9L510.1 348.9L510.1 348.4L510.1 348.0L510.0 347.5L510.0 347.1L509.9 346.6L509.9 346.2L509.8 345.8L509.7 345.3L509.6 344.9L509.4 344.4L509.2 344.0L509.0 343.5L508.7 343.1L508.5 342.6L508.2 342.2L508.1 341.7L508.1 341.3L508.4 340.8L508.7 340.4L509.0 339.9L509.4 339.5L509.7 339.0L509.9 338.6L510.1 338.1Z" fill="#7570B3"/>
<path d="M508.1 341.7H512.7" class="md"/>
<path d="M524.2 337.7V348.0" class="tl"/>
<path d="M524.5 337.7L524.5 338.1L524.7 338.6L524.8 339.0L525.0 339.5L525.2 339.9L525.5 340.4L525.8 340.8L526.2 341.3L526.6 341.7L526.9 342.2L526.8 342.6L526.6 343.1L526.3 343.5L526.0 344.0L525.7 344.4L525.5 344.9L525.3 345.3L525.1 345.8L524.9 346.2L524.8 346.7L524.7 347.1L524.6 347.6L524.5 348.0L523.8 348.0L523.8 347.6L523.7 347.1L523.6 346.7L523.4 346.2L523.3 345.8L523.1 345.3L522.9 344.9L522.6 344.4L522.4 344.0L522.1 343.5L521.8 343.1L521.5 342.6L521.4 342.2L521.8 341.7L522.2 341.3L522.5 340.8L522.8 340.4L523.1 339.9L523.4 339.5L523.5 339.0L523.7 338.6L523.8 338.1L523.9 337.7Z" fill="#7570B3"/>
<path d="M521.4 342.3H527.0" class="md"/>
<path d="M538.0 334.8V366.6" class="tl"/>
<path d="M538.3 335.2L538.3 335.7L538.3 336.1L538.4 336.6L538.5 337.0L538.5 337.5L538.6 337.9L538.7 338.4L538.8 338.8L538.9 339.3L538.9 339.7L539.0 340.2L539.1 340.6L539.2 341.1L539.3 341.5L539.3 342.0L539.3 342.4L539.2 342.9L539.2 343.3L539.1 343.8L539.1 344.2L539.0 344.7L538.9 345.1L538.8 345.6L538.8 346.0L538.7 346.5L538.6 346.9L538.6 347.4L538.5 347.8L538.5 348.3L538.4 348.7L538.4 349.2L538.3 349.6L538.3 350.1L538.3 350.4L537.8 350.4L537.7 350.1L537.7 349.6L537.7 349.2L537.6 348.7L537.6 348.3L537.5 347.8L537.5 347.4L537.4 346.9L537.3 346.5L537.3 346.0L537.2 345.6L537.1 345.1L537.0 344.7L537.0 344.2L536.9 343.8L536.8 343.3L536.8 342.9L536.7 342.4L536.7 342.0L536.8 341.5L536.8 341.1L536.9 340.6L537.0 340.2L537.1 339.7L537.2 339.3L537.3 338.8L537.3 338.4L537.4 337.9L537.5 337.5L537.6 337.0L537.6 336.6L537.7 336.1L537.7 335.7L537.8 335.2Z" fill="#7570B3"/>
<path d="M534.5 345.6H541.5" class="md"/>
<path d="M551.8 336.4V366.6" class="tl"/>
<path d="M552.1 336.4L552.2 336.8L552.2 337.3L552.3 337.7L552.3 338.2L552.4 338.6L552.4 339.1L552.5 339.5L552.6 340.0L552.7 340.4L552.7 340.9L552.8 341.3L552.9 341.8L553.0 342.2L553.1 342.7L553.2 343.1L553.3 343.6L553.4 344.0L553.5 344.5L553.5 344.9L553.6 345.4L553.6 345.8L553.6 346.3L553.5 346.7L553.4 347.2L553.3 347.6L553.2 348.1L553.1 348.5L553.0 349.0L552.9 349.4L552.8 349.9L552.6 350.3L552.6 350.8L552.5 351.2L552.4 351.7L552.3 352.1L552.2 352.6L552.2 353.0L552.1 353.5L552.1 353.9L552.1 354.0L551.6 354.0L551.6 353.9L551.6 353.5L551.5 353.0L551.5 352.6L551.4 352.1L551.3 351.7L551.2 351.2L551.1 350.8L551.0 350.3L550.9 349.9L550.8 349.4L550.7 349.0L550.6 348.5L550.5 348.1L550.4 347.6L550.2 347.2L550.1 346.7L550.1 346.3L550.1 345.8L550.1 345.4L550.2 344.9L550.2 344.5L550.3 344.0L550.4 343.6L550.5 343.1L550.6 342.7L550.7 342.2L550.8 341.8L550.9 341.3L551.0 340.9L551.0 340.4L551.1 340.0L551.2 339.5L551.3 339.1L551.3 338.6L551.4 338.2L551.4 337.7L551.5 337.3L551.5 336.8L551.6 336.4Z" fill="#7570B3"/>
<path d="M548.3 348.6H555.3" class="md"/>
<path d="M565.7 337.0V366.6" class="tl2"/>
<path d="M565.9 337.0L566.0 337.4L566.1 337.9L566.2 338.3L566.3 338.8L566.4 339.2L566.6 339.7L566.7 340.1L566.9 340.6L567.1 341.0L567.2 341.5L567.3 341.9L567.3 342.4L567.2 342.8L567.1 343.3L567.0 343.7L567.0 344.2L566.9 344.6L566.8 345.1L566.7 345.5L566.6 346.0L566.5 346.4L566.4 346.9L566.4 347.3L566.3 347.8L566.2 348.2L566.2 348.7L566.1 349.1L566.1 349.6L566.0 350.0L566.0 350.5L565.9 350.9L565.9 351.2L565.4 351.2L565.4 350.9L565.4 350.5L565.3 350.0L565.3 349.6L565.2 349.1L565.2 348.7L565.1 348.2L565.1 347.8L565.0 347.3L564.9 346.9L564.8 346.4L564.8 346.0L564.7 345.5L564.6 345.1L564.5 344.6L564.4 344.2L564.3 343.7L564.2 343.3L564.2 342.8L564.1 342.4L564.1 341.9L564.2 341.5L564.3 341.0L564.5 340.6L564.6 340.1L564.8 339.7L564.9 339.2L565.1 338.8L565.2 338.3L565.3 337.9L565.4 337.4L565.4 337.0Z" fill="#7570B3"/>
<path d="M562.2 346.3H569.2" class="md"/>
<path d="M579.5 338.0V366.6" class="tl2"/>
<path d="M579.7 338.4L579.9 338.9L580.1 339.3L580.3 339.8L580.7 340.2L581.0 340.7L581.2 341.1L581.4 341.6L581.5 342.0L581.4 342.5L581.3 342.9L581.2 343.4L581.1 343.8L580.9 344.3L580.8 344.7L580.6 345.2L580.5 345.6L580.4 346.1L580.3 346.5L580.2 346.9L580.1 347.4L580.0 347.8L580.0 348.3L579.9 348.7L579.8 349.2L579.8 349.6L579.8 350.1L579.7 350.4L579.3 350.4L579.3 350.1L579.2 349.6L579.2 349.2L579.1 348.7L579.1 348.3L579.0 347.8L578.9 347.4L578.8 346.9L578.7 346.5L578.6 346.1L578.5 345.6L578.4 345.2L578.3 344.7L578.1 344.3L578.0 343.8L577.8 343.4L577.7 342.9L577.6 342.5L577.5 342.0L577.6 341.6L577.8 341.1L578.1 340.7L578.4 340.2L578.7 339.8L578.9 339.3L579.2 338.9L579.3 338.4Z" fill="#7570B3"/>
<path d="M576.5 343.0H582.5" class="md"/>
<path d="M593.3 340.0V344.5" class="tl"/>
<path d="M593.5 340.1L594.1 340.6L595.5 341.0L597.8 341.5L599.3 341.9L598.1 342.4L596.5 342.8L595.2 343.2L594.5 343.7L594.1 344.1L593.9 344.5L592.8 344.5L592.6 344.1L592.2 343.7L591.5 343.2L590.2 342.8L588.6 342.4L587.3 341.9L588.8 341.5L591.1 341.0L592.6 340.6L593.2 340.1Z" fill="#7570B3"/>
<path d="M587.3 341.9H599.3" class="md"/>
<path d="M607.2 338.0V348.0" class="tl2"/>
<path d="M607.7 338.0L608.0 338.4L608.5 338.9L609.1 339.3L609.8 339.8L610.5 340.2L611.0 340.7L611.4 341.1L611.4 341.6L611.0 342.0L610.5 342.5L609.9 342.9L609.4 343.4L609.0 343.8L608.6 344.3L608.3 344.7L608.0 345.2L607.9 345.6L607.7 346.1L607.6 346.5L607.5 347.0L607.5 347.4L607.4 347.7L606.9 347.7L606.9 347.4L606.8 347.0L606.7 346.5L606.6 346.1L606.5 345.6L606.3 345.2L606.1 344.7L605.8 344.3L605.4 343.8L604.9 343.4L604.4 342.9L603.9 342.5L603.3 342.0L602.9 341.6L603.0 341.1L603.3 340.7L603.9 340.2L604.6 339.8L605.2 339.3L605.8 338.9L606.3 338.4L606.7 338.0Z" fill="#7570B3"/>
<path d="M603.0 341.7H611.4" class="md"/>
<path d="M621.0 338.0V354.5" class="tl2"/>
<path d="M621.3 338.0L621.5 338.4L621.8 338.9L622.2 339.3L622.6 339.8L623.1 340.2L623.5 340.7L623.9 341.1L624.0 341.6L623.9 342.0L623.5 342.5L623.2 342.9L622.8 343.4L622.5 343.8L622.3 344.3L622.1 344.7L621.9 345.2L621.8 345.6L621.7 346.1L621.6 346.5L621.5 347.0L621.5 347.4L621.4 347.9L621.4 348.3L621.3 348.8L621.3 349.2L621.3 349.7L621.3 350.1L621.3 350.3L620.8 350.3L620.8 350.1L620.7 349.7L620.7 349.2L620.7 348.8L620.6 348.3L620.6 347.9L620.6 347.4L620.5 347.0L620.4 346.5L620.4 346.1L620.3 345.6L620.1 345.2L620.0 344.7L619.7 344.3L619.5 343.8L619.2 343.4L618.8 342.9L618.5 342.5L618.2 342.0L618.0 341.6L618.2 341.1L618.5 340.7L618.9 340.2L619.4 339.8L619.9 339.3L620.2 338.9L620.5 338.4L620.7 338.0Z" fill="#7570B3"/>
<path d="M618.0 341.7H624.0" class="md"/>
<path d="M634.8 338.0V356.1" class="tl2"/>
<path d="M635.1 338.0L635.3 338.4L635.6 338.9L636.0 339.3L636.4 339.8L636.9 340.2L637.4 340.7L637.7 341.1L637.8 341.6L637.7 342.0L637.4 342.5L637.0 342.9L636.7 343.4L636.4 343.8L636.1 344.3L635.9 344.7L635.7 345.2L635.6 345.6L635.5 346.1L635.4 346.5L635.3 347.0L635.3 347.4L635.2 347.9L635.2 348.3L635.2 348.8L635.1 349.2L635.1 349.7L635.1 350.1L635.1 350.3L634.6 350.3L634.6 350.1L634.6 349.7L634.5 349.2L634.5 348.8L634.5 348.3L634.4 347.9L634.4 347.4L634.3 347.0L634.3 346.5L634.2 346.1L634.1 345.6L634.0 345.2L633.8 344.7L633.6 344.3L633.3 343.8L633.0 343.4L632.7 342.9L632.3 342.5L632.0 342.0L631.8 341.6L632.0 341.1L632.3 340.7L632.8 340.2L633.2 339.8L633.7 339.3L634.1 338.9L634.4 338.4L634.6 338.0Z" fill="#7570B3"/>
<path d="M631.8 341.7H637.8" class="md"/>
<path d="M648.7 338.0V350.1" class="tl2"/>
<path d="M648.9 338.0L649.1 338.4L649.4 338.9L649.8 339.3L650.3 339.8L650.8 340.2L651.2 340.7L651.5 341.1L651.7 341.6L651.5 342.0L651.2 342.5L650.8 342.9L650.5 343.4L650.2 343.8L649.9 344.3L649.7 344.7L649.6 345.2L649.4 345.6L649.3 346.1L649.2 346.5L649.2 347.0L649.1 347.4L649.1 347.9L649.0 348.3L649.0 348.8L649.0 349.2L648.9 349.7L648.9 350.1L648.4 350.1L648.4 349.7L648.4 349.2L648.3 348.8L648.3 348.3L648.3 347.9L648.2 347.4L648.2 347.0L648.1 346.5L648.0 346.1L647.9 345.6L647.8 345.2L647.6 344.7L647.4 344.3L647.1 343.8L646.8 343.4L646.5 342.9L646.1 342.5L645.8 342.0L645.7 341.6L645.8 341.1L646.1 340.7L646.6 340.2L647.1 339.8L647.5 339.3L647.9 338.9L648.2 338.4L648.4 338.0Z" fill="#7570B3"/>
<path d="M645.7 341.7H651.7" class="md"/>
<path d="M662.5 338.0V357.5" class="tl2"/>
<path d="M662.8 338.0L663.0 338.4L663.3 338.9L663.7 339.3L664.1 339.8L664.6 340.2L665.0 340.7L665.3 341.1L665.5 341.6L665.4 342.0L665.0 342.5L664.7 342.9L664.3 343.4L664.0 343.8L663.8 344.3L663.6 344.7L663.4 345.2L663.2 345.6L663.1 346.1L663.1 346.5L663.0 347.0L662.9 347.4L662.9 347.9L662.9 348.3L662.8 348.8L662.8 349.2L662.8 349.7L662.8 350.1L662.7 350.3L662.3 350.3L662.2 350.1L662.2 349.7L662.2 349.2L662.2 348.8L662.1 348.3L662.1 347.9L662.1 347.4L662.0 347.0L661.9 346.5L661.9 346.1L661.8 345.6L661.6 345.2L661.4 344.7L661.2 344.3L661.0 343.8L660.7 343.4L660.3 342.9L660.0 342.5L659.6 342.0L659.5 341.6L659.7 341.1L660.0 340.7L660.4 340.2L660.9 339.8L661.4 339.3L661.7 338.9L662.0 338.4L662.2 338.0Z" fill="#7570B3"/>
<path d="M659.5 341.7H665.5" class="md"/>
</g>
<line x1="391.9" y1="341.6" x2="670.3" y2="341.6" stroke="#f01818" stroke-width="0.95" stroke-dasharray="0.95 1.75"/>
<text transform="translate(387.00,320.10) scale(1,1.09)" text-anchor="end" fill="#383838" style="font-size:9.4px;" >−0.5</text>
<text transform="translate(387.00,342.30) scale(1,1.09)" text-anchor="end" fill="#383838" style="font-size:9.4px;" >−1.5</text>
<text transform="translate(387.00,365.00) scale(1,1.09)" text-anchor="end" fill="#383838" style="font-size:9.4px;" >−2.5</text>
<line x1="391.2" y1="318.60" x2="392.29999999999995" y2="318.60" stroke="#555" stroke-width="0.6"/>
<line x1="391.2" y1="329.70" x2="392.29999999999995" y2="329.70" stroke="#555" stroke-width="0.6"/>
<line x1="391.2" y1="340.80" x2="392.29999999999995" y2="340.80" stroke="#555" stroke-width="0.6"/>
<line x1="391.2" y1="352.15" x2="392.29999999999995" y2="352.15" stroke="#555" stroke-width="0.6"/>
<line x1="391.2" y1="363.50" x2="392.29999999999995" y2="363.50" stroke="#555" stroke-width="0.6"/>
<text transform="translate(676.50,341.40) rotate(90) scale(1,1.06)" text-anchor="middle" fill="#4F4A94" style="font-size:9.2px;font-weight:bold;">Yeast</text>
<text x="0" y="0" transform="translate(54.11,374.00) scale(1,1.12) rotate(-45) scale(0.96,1.06)" text-anchor="end" fill="#333" style="font-size:9.2px"><tspan dy="6.6">D_ulti_</tspan><tspan font-weight="bold" fill="#1e1e1e">ecl</tspan></text>
<text x="0" y="0" transform="translate(67.95,374.00) scale(1,1.12) rotate(-45) scale(0.96,1.06)" text-anchor="end" fill="#333" style="font-size:9.2px"><tspan dy="6.6">H_ulti_</tspan><tspan font-weight="bold" fill="#1e1e1e">ecl</tspan></text>
<text x="0" y="0" transform="translate(81.80,374.00) scale(1,1.12) rotate(-45) scale(0.96,1.06)" text-anchor="end" fill="#333" style="font-size:9.2px"><tspan dy="6.6">A_evo_</tspan><tspan font-weight="bold" fill="#1e1e1e">ex</tspan></text>
<text x="0" y="0" transform="translate(95.65,374.00) scale(1,1.12) rotate(-45) scale(0.96,1.06)" text-anchor="end" fill="#333" style="font-size:9.2px"><tspan dy="6.6">I_nLC_</tspan><tspan font-weight="bold" fill="#1e1e1e">ex</tspan></text>
<text x="0" y="0" transform="translate(109.49,374.00) scale(1,1.12) rotate(-45) scale(0.96,1.06)" text-anchor="end" fill="#333" style="font-size:9.2px"><tspan dy="6.6">D_Vanq_</tspan><tspan font-weight="bold" fill="#1e1e1e">ex</tspan></text>
<text x="0" y="0" transform="translate(123.34,374.00) scale(1,1.12) rotate(-45) scale(0.96,1.06)" text-anchor="end" fill="#333" style="font-size:9.2px"><tspan dy="6.6">E_Vanq_</tspan><tspan font-weight="bold" fill="#1e1e1e">ex</tspan></text>
<text x="0" y="0" transform="translate(137.19,374.00) scale(1,1.12) rotate(-45) scale(0.96,1.06)" text-anchor="end" fill="#333" style="font-size:9.2px"><tspan dy="6.6">A_ulti_</tspan><tspan font-weight="bold" fill="#1e1e1e">ex</tspan></text>
<text x="0" y="0" transform="translate(151.03,374.00) scale(1,1.12) rotate(-45) scale(0.96,1.06)" text-anchor="end" fill="#333" style="font-size:9.2px"><tspan dy="6.6">G_ulti_</tspan><tspan font-weight="bold" fill="#1e1e1e">ex</tspan></text>
<text x="0" y="0" transform="translate(164.88,374.00) scale(1,1.12) rotate(-45) scale(0.96,1.06)" text-anchor="end" fill="#333" style="font-size:9.2px"><tspan dy="6.6">H_ulti_</tspan><tspan font-weight="bold" fill="#1e1e1e">ex</tspan></text>
<text x="0" y="0" transform="translate(178.73,374.00) scale(1,1.12) rotate(-45) scale(0.96,1.06)" text-anchor="end" fill="#333" style="font-size:9.2px"><tspan dy="6.6">L_ulti_</tspan><tspan font-weight="bold" fill="#1e1e1e">ex</tspan></text>
<text x="0" y="0" transform="translate(192.57,374.00) scale(1,1.12) rotate(-45) scale(0.96,1.06)" text-anchor="end" fill="#333" style="font-size:9.2px"><tspan dy="6.6">L_ulti_</tspan><tspan font-weight="bold" fill="#1e1e1e">ex</tspan>_FAIMS</text>
<text x="0" y="0" transform="translate(206.42,374.00) scale(1,1.12) rotate(-45) scale(0.96,1.06)" text-anchor="end" fill="#333" style="font-size:9.2px"><tspan dy="6.6">B_ulti_</tspan><tspan font-weight="bold" fill="#1e1e1e">HF</tspan></text>
<text x="0" y="0" transform="translate(220.27,374.00) scale(1,1.12) rotate(-45) scale(0.96,1.06)" text-anchor="end" fill="#333" style="font-size:9.2px"><tspan dy="6.6">B_ulti_</tspan><tspan font-weight="bold" fill="#1e1e1e">HFX</tspan></text>
<text x="0" y="0" transform="translate(234.11,374.00) scale(1,1.12) rotate(-45) scale(0.96,1.06)" text-anchor="end" fill="#333" style="font-size:9.2px"><tspan dy="6.6">E_ulti_</tspan><tspan font-weight="bold" fill="#1e1e1e">lumos</tspan></text>
<text x="0" y="0" transform="translate(247.96,374.00) scale(1,1.12) rotate(-45) scale(0.96,1.06)" text-anchor="end" fill="#333" style="font-size:9.2px"><tspan dy="6.6">L_nAcqu_</tspan><tspan font-weight="bold" fill="#1e1e1e">tTOF</tspan></text>
<text x="0" y="0" transform="translate(261.81,374.00) scale(1,1.12) rotate(-45) scale(0.96,1.06)" text-anchor="end" fill="#333" style="font-size:9.2px"><tspan dy="6.6">C_nE_</tspan><tspan font-weight="bold" fill="#1e1e1e">tTOF</tspan></text>
<text x="0" y="0" transform="translate(275.65,374.00) scale(1,1.12) rotate(-45) scale(0.96,1.06)" text-anchor="end" fill="#333" style="font-size:9.2px"><tspan dy="6.6">L_nE_</tspan><tspan font-weight="bold" fill="#1e1e1e">tTOF</tspan></text>
<text x="0" y="0" transform="translate(289.50,374.00) scale(1,1.12) rotate(-45) scale(0.96,1.06)" text-anchor="end" fill="#333" style="font-size:9.2px"><tspan dy="6.6">G_nLC_</tspan><tspan font-weight="bold" fill="#1e1e1e">tTOF</tspan></text>
<text x="0" y="0" transform="translate(303.35,374.00) scale(1,1.12) rotate(-45) scale(0.96,1.06)" text-anchor="end" fill="#333" style="font-size:9.2px"><tspan dy="6.6">J_nLC_</tspan><tspan font-weight="bold" fill="#1e1e1e">tTOF</tspan></text>
<text x="0" y="0" transform="translate(317.19,374.00) scale(1,1.12) rotate(-45) scale(0.96,1.06)" text-anchor="end" fill="#333" style="font-size:9.2px"><tspan dy="6.6">K_Mclass_</tspan><tspan font-weight="bold" fill="#1e1e1e">zTOF</tspan></text>
<text x="0" y="0" transform="translate(397.70,372.50) scale(1,1.12) rotate(-45) scale(0.96,1.06)" text-anchor="end" fill="#333" style="font-size:9.2px"><tspan dy="6.6">D_ulti_</tspan><tspan font-weight="bold" fill="#1e1e1e">ecl</tspan></text>
<text x="0" y="0" transform="translate(411.53,372.50) scale(1,1.12) rotate(-45) scale(0.96,1.06)" text-anchor="end" fill="#333" style="font-size:9.2px"><tspan dy="6.6">H_ulti_</tspan><tspan font-weight="bold" fill="#1e1e1e">ecl</tspan></text>
<text x="0" y="0" transform="translate(425.36,372.50) scale(1,1.12) rotate(-45) scale(0.96,1.06)" text-anchor="end" fill="#333" style="font-size:9.2px"><tspan dy="6.6">A_evo_</tspan><tspan font-weight="bold" fill="#1e1e1e">ex</tspan></text>
<text x="0" y="0" transform="translate(439.19,372.50) scale(1,1.12) rotate(-45) scale(0.96,1.06)" text-anchor="end" fill="#333" style="font-size:9.2px"><tspan dy="6.6">I_nLC_</tspan><tspan font-weight="bold" fill="#1e1e1e">ex</tspan></text>
<text x="0" y="0" transform="translate(453.03,372.50) scale(1,1.12) rotate(-45) scale(0.96,1.06)" text-anchor="end" fill="#333" style="font-size:9.2px"><tspan dy="6.6">D_Vanq_</tspan><tspan font-weight="bold" fill="#1e1e1e">ex</tspan></text>
<text x="0" y="0" transform="translate(466.86,372.50) scale(1,1.12) rotate(-45) scale(0.96,1.06)" text-anchor="end" fill="#333" style="font-size:9.2px"><tspan dy="6.6">E_Vanq_</tspan><tspan font-weight="bold" fill="#1e1e1e">ex</tspan></text>
<text x="0" y="0" transform="translate(480.69,372.50) scale(1,1.12) rotate(-45) scale(0.96,1.06)" text-anchor="end" fill="#333" style="font-size:9.2px"><tspan dy="6.6">A_ulti_</tspan><tspan font-weight="bold" fill="#1e1e1e">ex</tspan></text>
<text x="0" y="0" transform="translate(494.52,372.50) scale(1,1.12) rotate(-45) scale(0.96,1.06)" text-anchor="end" fill="#333" style="font-size:9.2px"><tspan dy="6.6">G_ulti_</tspan><tspan font-weight="bold" fill="#1e1e1e">ex</tspan></text>
<text x="0" y="0" transform="translate(508.35,372.50) scale(1,1.12) rotate(-45) scale(0.96,1.06)" text-anchor="end" fill="#333" style="font-size:9.2px"><tspan dy="6.6">H_ulti_</tspan><tspan font-weight="bold" fill="#1e1e1e">ex</tspan></text>
<text x="0" y="0" transform="translate(522.18,372.50) scale(1,1.12) rotate(-45) scale(0.96,1.06)" text-anchor="end" fill="#333" style="font-size:9.2px"><tspan dy="6.6">L_ulti_</tspan><tspan font-weight="bold" fill="#1e1e1e">ex</tspan></text>
<text x="0" y="0" transform="translate(536.02,372.50) scale(1,1.12) rotate(-45) scale(0.96,1.06)" text-anchor="end" fill="#333" style="font-size:9.2px"><tspan dy="6.6">L_ulti_</tspan><tspan font-weight="bold" fill="#1e1e1e">ex</tspan>_FAIMS</text>
<text x="0" y="0" transform="translate(549.85,372.50) scale(1,1.12) rotate(-45) scale(0.96,1.06)" text-anchor="end" fill="#333" style="font-size:9.2px"><tspan dy="6.6">B_ulti_</tspan><tspan font-weight="bold" fill="#1e1e1e">HF</tspan></text>
<text x="0" y="0" transform="translate(563.68,372.50) scale(1,1.12) rotate(-45) scale(0.96,1.06)" text-anchor="end" fill="#333" style="font-size:9.2px"><tspan dy="6.6">B_ulti_</tspan><tspan font-weight="bold" fill="#1e1e1e">HFX</tspan></text>
<text x="0" y="0" transform="translate(577.51,372.50) scale(1,1.12) rotate(-45) scale(0.96,1.06)" text-anchor="end" fill="#333" style="font-size:9.2px"><tspan dy="6.6">E_ulti_</tspan><tspan font-weight="bold" fill="#1e1e1e">lumos</tspan></text>
<text x="0" y="0" transform="translate(591.34,372.50) scale(1,1.12) rotate(-45) scale(0.96,1.06)" text-anchor="end" fill="#333" style="font-size:9.2px"><tspan dy="6.6">L_nAcqu_</tspan><tspan font-weight="bold" fill="#1e1e1e">tTOF</tspan></text>
<text x="0" y="0" transform="translate(605.17,372.50) scale(1,1.12) rotate(-45) scale(0.96,1.06)" text-anchor="end" fill="#333" style="font-size:9.2px"><tspan dy="6.6">C_nE_</tspan><tspan font-weight="bold" fill="#1e1e1e">tTOF</tspan></text>
<text x="0" y="0" transform="translate(619.01,372.50) scale(1,1.12) rotate(-45) scale(0.96,1.06)" text-anchor="end" fill="#333" style="font-size:9.2px"><tspan dy="6.6">L_nE_</tspan><tspan font-weight="bold" fill="#1e1e1e">tTOF</tspan></text>
<text x="0" y="0" transform="translate(632.84,372.50) scale(1,1.12) rotate(-45) scale(0.96,1.06)" text-anchor="end" fill="#333" style="font-size:9.2px"><tspan dy="6.6">G_nLC_</tspan><tspan font-weight="bold" fill="#1e1e1e">tTOF</tspan></text>
<text x="0" y="0" transform="translate(646.67,372.50) scale(1,1.12) rotate(-45) scale(0.96,1.06)" text-anchor="end" fill="#333" style="font-size:9.2px"><tspan dy="6.6">J_nLC_</tspan><tspan font-weight="bold" fill="#1e1e1e">tTOF</tspan></text>
<text x="0" y="0" transform="translate(660.50,372.50) scale(1,1.12) rotate(-45) scale(0.96,1.06)" text-anchor="end" fill="#333" style="font-size:9.2px"><tspan dy="6.6">K_Mclass_</tspan><tspan font-weight="bold" fill="#1e1e1e">zTOF</tspan></text>
<text transform="translate(12.20,10.30)" text-anchor="start" fill="#000" style="font-size:13.5px;font-weight:bold;" >a</text>
<text transform="translate(356.80,10.30)" text-anchor="start" fill="#000" style="font-size:13.5px;font-weight:bold;" >b</text>
<text transform="translate(12.20,200.20)" text-anchor="start" fill="#000" style="font-size:13.5px;font-weight:bold;" >c</text>
<text transform="translate(355.50,200.20)" text-anchor="start" fill="#000" style="font-size:13.5px;font-weight:bold;" >d</text>
<text transform="translate(12.20,455.30)" text-anchor="start" fill="#000" style="font-size:13.5px;font-weight:bold;" >e</text>
<text transform="translate(12.20,714.20)" text-anchor="start" fill="#000" style="font-size:13.5px;font-weight:bold;" >f</text>
<text transform="translate(52.60,10.90) scale(1,0.96)" text-anchor="start" fill="#000" style="font-size:9.4px;font-weight:bold;" >PYE1 - full dataset</text>
<text transform="translate(396.30,10.90) scale(1,0.96)" text-anchor="start" fill="#000" style="font-size:9.4px;font-weight:bold;" >PYE9 - full dataset</text>
<text transform="translate(52.60,198.80) scale(1,0.96)" text-anchor="start" fill="#000" style="font-size:9.4px;font-weight:bold;" >PYE1 - low abundance tertile</text>
<text transform="translate(396.30,198.80) scale(1,0.96)" text-anchor="start" fill="#000" style="font-size:9.4px;font-weight:bold;" >PYE9 - low abundance tertile</text>
<text transform="translate(19.40,101.20) rotate(-90) scale(1,1.12)" text-anchor="middle" fill="#1a1a1a" style="font-size:9.4px">Log<tspan dy="2.6" style="font-size:5.8px">2</tspan><tspan dy="-2.6"> (A/B)</tspan></text>
<text transform="translate(363.40,101.20) rotate(-90) scale(1,1.12)" text-anchor="middle" fill="#1a1a1a" style="font-size:9.4px">Log<tspan dy="2.6" style="font-size:5.8px">2</tspan><tspan dy="-2.6"> (A/B)</tspan></text>
<text transform="translate(19.40,286.20) rotate(-90) scale(1,1.12)" text-anchor="middle" fill="#1a1a1a" style="font-size:9.4px">Log<tspan dy="2.6" style="font-size:5.8px">2</tspan><tspan dy="-2.6"> (A/B)</tspan></text>
<text transform="translate(363.40,286.20) rotate(-90) scale(1,1.12)" text-anchor="middle" fill="#1a1a1a" style="font-size:9.4px">Log<tspan dy="2.6" style="font-size:5.8px">2</tspan><tspan dy="-2.6"> (A/B)</tspan></text>
<line x1="123.00" y1="461.0" x2="123.00" y2="676.5" stroke="#f3f3f3" stroke-width="0.55"/>
<line x1="158.80" y1="461.0" x2="158.80" y2="676.5" stroke="#f3f3f3" stroke-width="0.55"/>
<line x1="194.60" y1="461.0" x2="194.60" y2="676.5" stroke="#f3f3f3" stroke-width="0.55"/>
<line x1="230.40" y1="461.0" x2="230.40" y2="676.5" stroke="#f3f3f3" stroke-width="0.55"/>
<line x1="112.8" y1="467.35" x2="251.0" y2="467.35" stroke="#ebebeb" stroke-width="0.55"/>
<line x1="112.8" y1="478.03" x2="251.0" y2="478.03" stroke="#ebebeb" stroke-width="0.55"/>
<line x1="112.8" y1="488.71" x2="251.0" y2="488.71" stroke="#ebebeb" stroke-width="0.55"/>
<line x1="112.8" y1="499.39" x2="251.0" y2="499.39" stroke="#ebebeb" stroke-width="0.55"/>
<line x1="112.8" y1="510.07" x2="251.0" y2="510.07" stroke="#ebebeb" stroke-width="0.55"/>
<line x1="112.8" y1="520.75" x2="251.0" y2="520.75" stroke="#ebebeb" stroke-width="0.55"/>
<line x1="112.8" y1="531.43" x2="251.0" y2="531.43" stroke="#ebebeb" stroke-width="0.55"/>
<line x1="112.8" y1="542.11" x2="251.0" y2="542.11" stroke="#ebebeb" stroke-width="0.55"/>
<line x1="112.8" y1="552.79" x2="251.0" y2="552.79" stroke="#ebebeb" stroke-width="0.55"/>
<line x1="112.8" y1="563.47" x2="251.0" y2="563.47" stroke="#ebebeb" stroke-width="0.55"/>
<line x1="112.8" y1="574.15" x2="251.0" y2="574.15" stroke="#ebebeb" stroke-width="0.55"/>
<line x1="112.8" y1="584.83" x2="251.0" y2="584.83" stroke="#ebebeb" stroke-width="0.55"/>
<line x1="112.8" y1="595.51" x2="251.0" y2="595.51" stroke="#ebebeb" stroke-width="0.55"/>
<line x1="112.8" y1="606.19" x2="251.0" y2="606.19" stroke="#ebebeb" stroke-width="0.55"/>
<line x1="112.8" y1="616.87" x2="251.0" y2="616.87" stroke="#ebebeb" stroke-width="0.55"/>
<line x1="112.8" y1="627.55" x2="251.0" y2="627.55" stroke="#ebebeb" stroke-width="0.55"/>
<line x1="112.8" y1="638.23" x2="251.0" y2="638.23" stroke="#ebebeb" stroke-width="0.55"/>
<line x1="112.8" y1="648.91" x2="251.0" y2="648.91" stroke="#ebebeb" stroke-width="0.55"/>
<line x1="112.8" y1="659.59" x2="251.0" y2="659.59" stroke="#ebebeb" stroke-width="0.55"/>
<line x1="112.8" y1="670.27" x2="251.0" y2="670.27" stroke="#ebebeb" stroke-width="0.55"/>
<line x1="140.90" y1="461.0" x2="140.90" y2="676.5" stroke="#ebebeb" stroke-width="0.6"/>
<line x1="176.70" y1="461.0" x2="176.70" y2="676.5" stroke="#ebebeb" stroke-width="0.6"/>
<line x1="212.50" y1="461.0" x2="212.50" y2="676.5" stroke="#ebebeb" stroke-width="0.6"/>
<line x1="248.30" y1="461.0" x2="248.30" y2="676.5" stroke="#ebebeb" stroke-width="0.6"/>
<rect x="176.70" y="463.72" width="35.80" height="2.47" fill="#8E3A06"/>
<rect x="176.70" y="466.14" width="25.06" height="2.47" fill="#D95F02"/>
<rect x="176.70" y="468.56" width="3.58" height="2.47" fill="#FD8D3C"/>
<rect x="176.70" y="474.40" width="46.54" height="2.47" fill="#8E3A06"/>
<rect x="176.70" y="476.82" width="21.48" height="2.47" fill="#D95F02"/>
<rect x="176.70" y="479.24" width="3.58" height="2.47" fill="#FD8D3C"/>
<rect x="176.70" y="485.08" width="42.96" height="2.47" fill="#8E3A06"/>
<rect x="176.70" y="487.50" width="28.64" height="2.47" fill="#D95F02"/>
<rect x="162.38" y="489.92" width="14.32" height="2.47" fill="#FD8D3C"/>
<rect x="176.70" y="495.76" width="39.38" height="2.47" fill="#8E3A06"/>
<rect x="176.70" y="498.18" width="28.64" height="2.47" fill="#D95F02"/>
<rect x="176.70" y="506.44" width="7.16" height="2.47" fill="#8E3A06"/>
<rect x="176.70" y="517.12" width="7.16" height="2.47" fill="#8E3A06"/>
<rect x="173.12" y="519.54" width="3.58" height="2.47" fill="#D95F02"/>
<rect x="176.70" y="527.80" width="21.48" height="2.47" fill="#8E3A06"/>
<rect x="176.70" y="530.22" width="25.06" height="2.47" fill="#D95F02"/>
<rect x="173.12" y="532.64" width="3.58" height="2.47" fill="#FD8D3C"/>
<rect x="176.70" y="538.48" width="46.54" height="2.47" fill="#8E3A06"/>
<rect x="176.70" y="540.90" width="32.22" height="2.47" fill="#D95F02"/>
<rect x="176.70" y="549.16" width="35.80" height="2.47" fill="#8E3A06"/>
<rect x="176.70" y="551.58" width="35.80" height="2.47" fill="#D95F02"/>
<rect x="176.70" y="554.00" width="7.16" height="2.47" fill="#FD8D3C"/>
<rect x="119.06" y="559.84" width="57.64" height="2.47" fill="#8E3A06"/>
<rect x="165.96" y="562.26" width="10.74" height="2.47" fill="#D95F02"/>
<rect x="176.70" y="570.52" width="25.06" height="2.47" fill="#8E3A06"/>
<rect x="176.70" y="572.94" width="3.58" height="2.47" fill="#D95F02"/>
<rect x="176.70" y="575.36" width="3.58" height="2.47" fill="#FD8D3C"/>
<rect x="176.70" y="581.20" width="7.16" height="2.47" fill="#8E3A06"/>
<rect x="176.70" y="586.04" width="7.16" height="2.47" fill="#FD8D3C"/>
<rect x="176.70" y="591.88" width="21.48" height="2.47" fill="#8E3A06"/>
<rect x="176.70" y="594.30" width="14.32" height="2.47" fill="#D95F02"/>
<rect x="176.70" y="602.56" width="32.22" height="2.47" fill="#8E3A06"/>
<rect x="176.70" y="604.98" width="14.32" height="2.47" fill="#D95F02"/>
<rect x="173.12" y="607.40" width="3.58" height="2.47" fill="#FD8D3C"/>
<rect x="123.00" y="613.24" width="53.70" height="2.47" fill="#8E3A06"/>
<rect x="148.06" y="615.66" width="28.64" height="2.47" fill="#D95F02"/>
<rect x="173.12" y="618.08" width="3.58" height="2.47" fill="#FD8D3C"/>
<rect x="176.70" y="623.92" width="46.54" height="2.47" fill="#8E3A06"/>
<rect x="176.70" y="626.34" width="32.22" height="2.47" fill="#D95F02"/>
<rect x="173.12" y="628.76" width="3.58" height="2.47" fill="#FD8D3C"/>
<rect x="176.70" y="634.60" width="28.64" height="2.47" fill="#8E3A06"/>
<rect x="176.70" y="637.02" width="14.32" height="2.47" fill="#D95F02"/>
<rect x="176.70" y="639.44" width="3.58" height="2.47" fill="#FD8D3C"/>
<rect x="176.70" y="645.28" width="68.02" height="2.47" fill="#8E3A06"/>
<rect x="176.70" y="647.70" width="25.06" height="2.47" fill="#D95F02"/>
<rect x="176.70" y="650.12" width="25.06" height="2.47" fill="#FD8D3C"/>
<rect x="176.70" y="655.96" width="46.54" height="2.47" fill="#8E3A06"/>
<rect x="176.70" y="658.38" width="10.74" height="2.47" fill="#D95F02"/>
<rect x="176.70" y="660.80" width="3.58" height="2.47" fill="#FD8D3C"/>
<rect x="176.70" y="666.64" width="28.64" height="2.47" fill="#8E3A06"/>
<rect x="176.70" y="669.06" width="21.48" height="2.47" fill="#D95F02"/>
<rect x="176.70" y="671.48" width="10.74" height="2.47" fill="#FD8D3C"/>
<text transform="translate(140.90,686.80) scale(1,1.06)" text-anchor="middle" fill="#383838" style="font-size:9.2px;" >−0.1</text>
<text transform="translate(176.70,686.80) scale(1,1.06)" text-anchor="middle" fill="#383838" style="font-size:9.2px;" >0.0</text>
<text transform="translate(212.50,686.80) scale(1,1.06)" text-anchor="middle" fill="#383838" style="font-size:9.2px;" >0.1</text>
<text transform="translate(248.30,686.80) scale(1,1.06)" text-anchor="middle" fill="#383838" style="font-size:9.2px;" >0.2</text>
<text transform="translate(179.90,700.40) scale(1,1.06)" text-anchor="middle" fill="#1a1a1a" style="font-size:9.4px">Deviation of expected Log<tspan dy="2.6" style="font-size:5.8px">2</tspan><tspan dy="-2.6">(A/B)</tspan></text>
<text transform="translate(177.50,454.60) scale(1,1.06)" text-anchor="middle" fill="#A6470B" style="font-size:9.3px;font-weight:bold;">Human</text>
<rect x="254.00" y="471.00" width="3.6" height="8.75" fill="#8E3A06"/>
<text transform="translate(259.60,478.25) scale(1,1.06)" text-anchor="start" fill="#111" style="font-size:8.9px;" >PYE1</text>
<rect x="254.00" y="479.70" width="3.6" height="8.75" fill="#D95F02"/>
<text transform="translate(259.60,486.95) scale(1,1.06)" text-anchor="start" fill="#111" style="font-size:8.9px;" >PYE3</text>
<rect x="254.00" y="488.40" width="3.6" height="8.75" fill="#FD8D3C"/>
<text transform="translate(259.60,495.65) scale(1,1.06)" text-anchor="start" fill="#111" style="font-size:8.9px;" >PYE9</text>
<line x1="298.80" y1="461.0" x2="298.80" y2="676.5" stroke="#f3f3f3" stroke-width="0.55"/>
<line x1="330.40" y1="461.0" x2="330.40" y2="676.5" stroke="#f3f3f3" stroke-width="0.55"/>
<line x1="362.00" y1="461.0" x2="362.00" y2="676.5" stroke="#f3f3f3" stroke-width="0.55"/>
<line x1="393.60" y1="461.0" x2="393.60" y2="676.5" stroke="#f3f3f3" stroke-width="0.55"/>
<line x1="425.20" y1="461.0" x2="425.20" y2="676.5" stroke="#f3f3f3" stroke-width="0.55"/>
<line x1="294.6" y1="467.35" x2="432.3" y2="467.35" stroke="#ebebeb" stroke-width="0.55"/>
<line x1="294.6" y1="478.03" x2="432.3" y2="478.03" stroke="#ebebeb" stroke-width="0.55"/>
<line x1="294.6" y1="488.71" x2="432.3" y2="488.71" stroke="#ebebeb" stroke-width="0.55"/>
<line x1="294.6" y1="499.39" x2="432.3" y2="499.39" stroke="#ebebeb" stroke-width="0.55"/>
<line x1="294.6" y1="510.07" x2="432.3" y2="510.07" stroke="#ebebeb" stroke-width="0.55"/>
<line x1="294.6" y1="520.75" x2="432.3" y2="520.75" stroke="#ebebeb" stroke-width="0.55"/>
<line x1="294.6" y1="531.43" x2="432.3" y2="531.43" stroke="#ebebeb" stroke-width="0.55"/>
<line x1="294.6" y1="542.11" x2="432.3" y2="542.11" stroke="#ebebeb" stroke-width="0.55"/>
<line x1="294.6" y1="552.79" x2="432.3" y2="552.79" stroke="#ebebeb" stroke-width="0.55"/>
<line x1="294.6" y1="563.47" x2="432.3" y2="563.47" stroke="#ebebeb" stroke-width="0.55"/>
<line x1="294.6" y1="574.15" x2="432.3" y2="574.15" stroke="#ebebeb" stroke-width="0.55"/>
<line x1="294.6" y1="584.83" x2="432.3" y2="584.83" stroke="#ebebeb" stroke-width="0.55"/>
<line x1="294.6" y1="595.51" x2="432.3" y2="595.51" stroke="#ebebeb" stroke-width="0.55"/>
<line x1="294.6" y1="606.19" x2="432.3" y2="606.19" stroke="#ebebeb" stroke-width="0.55"/>
<line x1="294.6" y1="616.87" x2="432.3" y2="616.87" stroke="#ebebeb" stroke-width="0.55"/>
<line x1="294.6" y1="627.55" x2="432.3" y2="627.55" stroke="#ebebeb" stroke-width="0.55"/>
<line x1="294.6" y1="638.23" x2="432.3" y2="638.23" stroke="#ebebeb" stroke-width="0.55"/>
<line x1="294.6" y1="648.91" x2="432.3" y2="648.91" stroke="#ebebeb" stroke-width="0.55"/>
<line x1="294.6" y1="659.59" x2="432.3" y2="659.59" stroke="#ebebeb" stroke-width="0.55"/>
<line x1="294.6" y1="670.27" x2="432.3" y2="670.27" stroke="#ebebeb" stroke-width="0.55"/>
<line x1="314.60" y1="461.0" x2="314.60" y2="676.5" stroke="#ebebeb" stroke-width="0.6"/>
<line x1="346.20" y1="461.0" x2="346.20" y2="676.5" stroke="#ebebeb" stroke-width="0.6"/>
<line x1="377.80" y1="461.0" x2="377.80" y2="676.5" stroke="#ebebeb" stroke-width="0.6"/>
<line x1="409.40" y1="461.0" x2="409.40" y2="676.5" stroke="#ebebeb" stroke-width="0.6"/>
<rect x="346.20" y="463.72" width="18.33" height="2.47" fill="#4B4691"/>
<rect x="346.20" y="466.14" width="7.90" height="2.47" fill="#7570B3"/>
<rect x="324.08" y="468.56" width="22.12" height="2.47" fill="#ABA8D6"/>
<rect x="346.20" y="474.40" width="27.65" height="2.47" fill="#4B4691"/>
<rect x="346.20" y="476.82" width="5.53" height="2.47" fill="#7570B3"/>
<rect x="344.62" y="479.24" width="1.58" height="2.47" fill="#ABA8D6"/>
<rect x="346.20" y="485.08" width="53.09" height="2.47" fill="#4B4691"/>
<rect x="346.20" y="487.50" width="35.87" height="2.47" fill="#7570B3"/>
<rect x="346.20" y="489.92" width="15.33" height="2.47" fill="#ABA8D6"/>
<rect x="346.20" y="495.76" width="53.09" height="2.47" fill="#4B4691"/>
<rect x="346.20" y="498.18" width="41.87" height="2.47" fill="#7570B3"/>
<rect x="346.20" y="500.60" width="35.87" height="2.47" fill="#ABA8D6"/>
<rect x="335.46" y="506.44" width="10.74" height="2.47" fill="#4B4691"/>
<rect x="314.92" y="508.86" width="31.28" height="2.47" fill="#7570B3"/>
<rect x="303.70" y="511.28" width="42.50" height="2.47" fill="#ABA8D6"/>
<rect x="340.04" y="517.12" width="6.16" height="2.47" fill="#4B4691"/>
<rect x="319.34" y="519.54" width="26.86" height="2.47" fill="#7570B3"/>
<rect x="303.54" y="521.96" width="42.66" height="2.47" fill="#ABA8D6"/>
<rect x="346.20" y="527.80" width="26.54" height="2.47" fill="#4B4691"/>
<rect x="346.20" y="530.22" width="32.71" height="2.47" fill="#7570B3"/>
<rect x="346.20" y="532.64" width="3.16" height="2.47" fill="#ABA8D6"/>
<rect x="346.20" y="538.48" width="50.09" height="2.47" fill="#4B4691"/>
<rect x="346.20" y="540.90" width="51.67" height="2.47" fill="#7570B3"/>
<rect x="346.20" y="543.32" width="26.54" height="2.47" fill="#ABA8D6"/>
<rect x="346.20" y="549.16" width="19.75" height="2.47" fill="#4B4691"/>
<rect x="346.20" y="551.58" width="21.49" height="2.47" fill="#7570B3"/>
<rect x="346.20" y="554.00" width="16.75" height="2.47" fill="#ABA8D6"/>
<rect x="344.62" y="559.84" width="1.58" height="2.47" fill="#4B4691"/>
<rect x="346.20" y="562.26" width="20.07" height="2.47" fill="#7570B3"/>
<rect x="346.20" y="564.68" width="51.67" height="2.47" fill="#ABA8D6"/>
<rect x="346.20" y="570.52" width="15.33" height="2.47" fill="#4B4691"/>
<rect x="308.28" y="572.94" width="37.92" height="2.47" fill="#7570B3"/>
<rect x="343.04" y="575.36" width="3.16" height="2.47" fill="#ABA8D6"/>
<rect x="332.30" y="581.20" width="13.90" height="2.47" fill="#4B4691"/>
<rect x="328.82" y="583.62" width="17.38" height="2.47" fill="#7570B3"/>
<rect x="300.38" y="586.04" width="45.82" height="2.47" fill="#ABA8D6"/>
<rect x="346.20" y="591.88" width="17.06" height="2.47" fill="#4B4691"/>
<rect x="317.76" y="596.72" width="28.44" height="2.47" fill="#ABA8D6"/>
<rect x="346.20" y="602.56" width="9.16" height="2.47" fill="#4B4691"/>
<rect x="346.20" y="613.24" width="13.90" height="2.47" fill="#4B4691"/>
<rect x="346.20" y="615.66" width="10.59" height="2.47" fill="#7570B3"/>
<rect x="346.20" y="618.08" width="27.65" height="2.47" fill="#ABA8D6"/>
<rect x="346.20" y="623.92" width="57.67" height="2.47" fill="#4B4691"/>
<rect x="346.20" y="626.34" width="79.79" height="2.47" fill="#7570B3"/>
<rect x="346.20" y="628.76" width="29.55" height="2.47" fill="#ABA8D6"/>
<rect x="346.20" y="634.60" width="48.35" height="2.47" fill="#4B4691"/>
<rect x="346.20" y="637.02" width="54.67" height="2.47" fill="#7570B3"/>
<rect x="346.20" y="639.44" width="41.87" height="2.47" fill="#ABA8D6"/>
<rect x="346.20" y="645.28" width="65.73" height="2.47" fill="#4B4691"/>
<rect x="346.20" y="647.70" width="56.25" height="2.47" fill="#7570B3"/>
<rect x="346.20" y="650.12" width="45.03" height="2.47" fill="#ABA8D6"/>
<rect x="346.20" y="655.96" width="35.87" height="2.47" fill="#4B4691"/>
<rect x="346.20" y="658.38" width="38.87" height="2.47" fill="#7570B3"/>
<rect x="346.20" y="660.80" width="38.87" height="2.47" fill="#ABA8D6"/>
<rect x="346.20" y="666.64" width="43.45" height="2.47" fill="#4B4691"/>
<rect x="346.20" y="669.06" width="37.45" height="2.47" fill="#7570B3"/>
<rect x="346.20" y="671.48" width="31.28" height="2.47" fill="#ABA8D6"/>
<text transform="translate(314.60,686.80) scale(1,1.06)" text-anchor="middle" fill="#383838" style="font-size:9.2px;" >−0.2</text>
<text transform="translate(346.20,686.80) scale(1,1.06)" text-anchor="middle" fill="#383838" style="font-size:9.2px;" >0.0</text>
<text transform="translate(377.80,686.80) scale(1,1.06)" text-anchor="middle" fill="#383838" style="font-size:9.2px;" >0.2</text>
<text transform="translate(409.40,686.80) scale(1,1.06)" text-anchor="middle" fill="#383838" style="font-size:9.2px;" >0.4</text>
<text transform="translate(363.70,700.40) scale(1,1.06)" text-anchor="middle" fill="#1a1a1a" style="font-size:9.4px">Deviation of expected Log<tspan dy="2.6" style="font-size:5.8px">2</tspan><tspan dy="-2.6">(A/B)</tspan></text>
<text transform="translate(366.00,454.60) scale(1,1.06)" text-anchor="middle" fill="#4F4A94" style="font-size:9.3px;font-weight:bold;">Yeast</text>
<rect x="437.00" y="471.00" width="3.6" height="8.75" fill="#4B4691"/>
<text transform="translate(442.60,478.25) scale(1,1.06)" text-anchor="start" fill="#111" style="font-size:8.9px;" >PYE1</text>
<rect x="437.00" y="479.70" width="3.6" height="8.75" fill="#7570B3"/>
<text transform="translate(442.60,486.95) scale(1,1.06)" text-anchor="start" fill="#111" style="font-size:8.9px;" >PYE3</text>
<rect x="437.00" y="488.40" width="3.6" height="8.75" fill="#ABA8D6"/>
<text transform="translate(442.60,495.65) scale(1,1.06)" text-anchor="start" fill="#111" style="font-size:8.9px;" >PYE9</text>
<line x1="495.55" y1="461.0" x2="495.55" y2="676.5" stroke="#f3f3f3" stroke-width="0.55"/>
<line x1="535.25" y1="461.0" x2="535.25" y2="676.5" stroke="#f3f3f3" stroke-width="0.55"/>
<line x1="574.95" y1="461.0" x2="574.95" y2="676.5" stroke="#f3f3f3" stroke-width="0.55"/>
<line x1="614.65" y1="461.0" x2="614.65" y2="676.5" stroke="#f3f3f3" stroke-width="0.55"/>
<line x1="477.0" y1="467.35" x2="614.7" y2="467.35" stroke="#ebebeb" stroke-width="0.55"/>
<line x1="477.0" y1="478.03" x2="614.7" y2="478.03" stroke="#ebebeb" stroke-width="0.55"/>
<line x1="477.0" y1="488.71" x2="614.7" y2="488.71" stroke="#ebebeb" stroke-width="0.55"/>
<line x1="477.0" y1="499.39" x2="614.7" y2="499.39" stroke="#ebebeb" stroke-width="0.55"/>
<line x1="477.0" y1="510.07" x2="614.7" y2="510.07" stroke="#ebebeb" stroke-width="0.55"/>
<line x1="477.0" y1="520.75" x2="614.7" y2="520.75" stroke="#ebebeb" stroke-width="0.55"/>
<line x1="477.0" y1="531.43" x2="614.7" y2="531.43" stroke="#ebebeb" stroke-width="0.55"/>
<line x1="477.0" y1="542.11" x2="614.7" y2="542.11" stroke="#ebebeb" stroke-width="0.55"/>
<line x1="477.0" y1="552.79" x2="614.7" y2="552.79" stroke="#ebebeb" stroke-width="0.55"/>
<line x1="477.0" y1="563.47" x2="614.7" y2="563.47" stroke="#ebebeb" stroke-width="0.55"/>
<line x1="477.0" y1="574.15" x2="614.7" y2="574.15" stroke="#ebebeb" stroke-width="0.55"/>
<line x1="477.0" y1="584.83" x2="614.7" y2="584.83" stroke="#ebebeb" stroke-width="0.55"/>
<line x1="477.0" y1="595.51" x2="614.7" y2="595.51" stroke="#ebebeb" stroke-width="0.55"/>
<line x1="477.0" y1="606.19" x2="614.7" y2="606.19" stroke="#ebebeb" stroke-width="0.55"/>
<line x1="477.0" y1="616.87" x2="614.7" y2="616.87" stroke="#ebebeb" stroke-width="0.55"/>
<line x1="477.0" y1="627.55" x2="614.7" y2="627.55" stroke="#ebebeb" stroke-width="0.55"/>
<line x1="477.0" y1="638.23" x2="614.7" y2="638.23" stroke="#ebebeb" stroke-width="0.55"/>
<line x1="477.0" y1="648.91" x2="614.7" y2="648.91" stroke="#ebebeb" stroke-width="0.55"/>
<line x1="477.0" y1="659.59" x2="614.7" y2="659.59" stroke="#ebebeb" stroke-width="0.55"/>
<line x1="477.0" y1="670.27" x2="614.7" y2="670.27" stroke="#ebebeb" stroke-width="0.55"/>
<line x1="515.40" y1="461.0" x2="515.40" y2="676.5" stroke="#ebebeb" stroke-width="0.6"/>
<line x1="555.10" y1="461.0" x2="555.10" y2="676.5" stroke="#ebebeb" stroke-width="0.6"/>
<line x1="594.80" y1="461.0" x2="594.80" y2="676.5" stroke="#ebebeb" stroke-width="0.6"/>
<rect x="555.10" y="463.72" width="17.47" height="2.47" fill="#10654B"/>
<rect x="555.10" y="466.14" width="21.44" height="2.47" fill="#1B9E77"/>
<rect x="555.10" y="468.56" width="15.88" height="2.47" fill="#35DCA6"/>
<rect x="555.10" y="474.40" width="21.44" height="2.47" fill="#10654B"/>
<rect x="555.10" y="476.82" width="17.47" height="2.47" fill="#1B9E77"/>
<rect x="555.10" y="479.24" width="13.50" height="2.47" fill="#35DCA6"/>
<rect x="555.10" y="485.08" width="1.99" height="2.47" fill="#10654B"/>
<rect x="555.10" y="487.50" width="0.99" height="2.47" fill="#1B9E77"/>
<rect x="533.26" y="489.92" width="21.84" height="2.47" fill="#35DCA6"/>
<rect x="553.12" y="495.76" width="1.99" height="2.47" fill="#10654B"/>
<rect x="549.14" y="498.18" width="5.96" height="2.47" fill="#1B9E77"/>
<rect x="525.33" y="500.60" width="29.77" height="2.47" fill="#35DCA6"/>
<rect x="555.10" y="506.44" width="21.44" height="2.47" fill="#10654B"/>
<rect x="555.10" y="508.86" width="39.10" height="2.47" fill="#1B9E77"/>
<rect x="555.10" y="511.28" width="47.04" height="2.47" fill="#35DCA6"/>
<rect x="555.10" y="517.12" width="19.85" height="2.47" fill="#10654B"/>
<rect x="555.10" y="519.54" width="31.76" height="2.47" fill="#1B9E77"/>
<rect x="555.10" y="521.96" width="51.61" height="2.47" fill="#35DCA6"/>
<rect x="547.16" y="527.80" width="7.94" height="2.47" fill="#10654B"/>
<rect x="549.14" y="530.22" width="5.96" height="2.47" fill="#1B9E77"/>
<rect x="551.53" y="532.64" width="3.57" height="2.47" fill="#35DCA6"/>
<rect x="555.10" y="538.48" width="3.77" height="2.47" fill="#10654B"/>
<rect x="545.57" y="540.90" width="9.53" height="2.47" fill="#1B9E77"/>
<rect x="535.25" y="543.32" width="19.85" height="2.47" fill="#35DCA6"/>
<rect x="555.10" y="549.16" width="19.85" height="2.47" fill="#10654B"/>
<rect x="555.10" y="551.58" width="19.85" height="2.47" fill="#1B9E77"/>
<rect x="487.01" y="559.84" width="68.09" height="2.47" fill="#10654B"/>
<rect x="523.34" y="562.26" width="31.76" height="2.47" fill="#1B9E77"/>
<rect x="527.31" y="564.68" width="27.79" height="2.47" fill="#35DCA6"/>
<rect x="555.10" y="572.94" width="21.84" height="2.47" fill="#1B9E77"/>
<rect x="543.19" y="575.36" width="11.91" height="2.47" fill="#35DCA6"/>
<rect x="555.10" y="581.20" width="23.82" height="2.47" fill="#10654B"/>
<rect x="555.10" y="583.62" width="27.79" height="2.47" fill="#1B9E77"/>
<rect x="555.10" y="586.04" width="53.60" height="2.47" fill="#35DCA6"/>
<rect x="555.10" y="591.88" width="11.91" height="2.47" fill="#10654B"/>
<rect x="555.10" y="594.30" width="27.79" height="2.47" fill="#1B9E77"/>
<rect x="555.10" y="596.72" width="21.84" height="2.47" fill="#35DCA6"/>
<rect x="555.10" y="602.56" width="21.84" height="2.47" fill="#10654B"/>
<rect x="555.10" y="604.98" width="17.87" height="2.47" fill="#1B9E77"/>
<rect x="551.53" y="607.40" width="3.57" height="2.47" fill="#35DCA6"/>
<rect x="483.04" y="613.24" width="72.06" height="2.47" fill="#10654B"/>
<rect x="503.49" y="615.66" width="51.61" height="2.47" fill="#1B9E77"/>
<rect x="527.31" y="618.08" width="27.79" height="2.47" fill="#35DCA6"/>
<rect x="555.10" y="623.92" width="5.96" height="2.47" fill="#10654B"/>
<rect x="523.34" y="626.34" width="31.76" height="2.47" fill="#1B9E77"/>
<rect x="524.73" y="628.76" width="30.37" height="2.47" fill="#35DCA6"/>
<rect x="547.16" y="634.60" width="7.94" height="2.47" fill="#10654B"/>
<rect x="533.26" y="637.02" width="21.84" height="2.47" fill="#1B9E77"/>
<rect x="539.62" y="639.44" width="15.48" height="2.47" fill="#35DCA6"/>
<rect x="555.10" y="645.28" width="13.89" height="2.47" fill="#10654B"/>
<rect x="541.21" y="647.70" width="13.89" height="2.47" fill="#1B9E77"/>
<rect x="539.62" y="650.12" width="15.48" height="2.47" fill="#35DCA6"/>
<rect x="555.10" y="655.96" width="7.94" height="2.47" fill="#10654B"/>
<rect x="549.14" y="658.38" width="5.96" height="2.47" fill="#1B9E77"/>
<rect x="529.30" y="660.80" width="25.80" height="2.47" fill="#35DCA6"/>
<rect x="545.18" y="666.64" width="9.92" height="2.47" fill="#10654B"/>
<rect x="547.16" y="669.06" width="7.94" height="2.47" fill="#1B9E77"/>
<rect x="545.18" y="671.48" width="9.92" height="2.47" fill="#35DCA6"/>
<text transform="translate(515.40,686.80) scale(1,1.06)" text-anchor="middle" fill="#383838" style="font-size:9.2px;" >−0.2</text>
<text transform="translate(555.10,686.80) scale(1,1.06)" text-anchor="middle" fill="#383838" style="font-size:9.2px;" >0.0</text>
<text transform="translate(594.80,686.80) scale(1,1.06)" text-anchor="middle" fill="#383838" style="font-size:9.2px;" >0.2</text>
<text transform="translate(547.40,700.40) scale(1,1.06)" text-anchor="middle" fill="#1a1a1a" style="font-size:9.4px">Deviation of expected Log<tspan dy="2.6" style="font-size:5.8px">2</tspan><tspan dy="-2.6">(A/B)</tspan></text>
<text transform="translate(555.00,454.60) scale(1,1.06)" text-anchor="middle" fill="#17704F" style="font-size:9.3px;font-weight:bold;font-style:italic;">E. coli</text>
<rect x="620.10" y="471.00" width="3.6" height="8.75" fill="#10654B"/>
<text transform="translate(625.70,478.25) scale(1,1.06)" text-anchor="start" fill="#111" style="font-size:8.9px;" >PYE1</text>
<rect x="620.10" y="479.70" width="3.6" height="8.75" fill="#1B9E77"/>
<text transform="translate(625.70,486.95) scale(1,1.06)" text-anchor="start" fill="#111" style="font-size:8.9px;" >PYE3</text>
<rect x="620.10" y="488.40" width="3.6" height="8.75" fill="#35DCA6"/>
<text transform="translate(625.70,495.65) scale(1,1.06)" text-anchor="start" fill="#111" style="font-size:8.9px;" >PYE9</text>
<text transform="translate(103.00,469.90) scale(1,1.06)" text-anchor="end" fill="#383838" style="font-size:9.4px">D_ulti_<tspan font-weight="bold" fill="#1e1e1e">ecl</tspan></text>
<text transform="translate(102.95,480.69) scale(1,1.06)" text-anchor="end" fill="#383838" style="font-size:9.4px">H_ulti_<tspan font-weight="bold" fill="#1e1e1e">ecl</tspan></text>
<text transform="translate(102.90,491.48) scale(1,1.06)" text-anchor="end" fill="#383838" style="font-size:9.4px">A_evo_<tspan font-weight="bold" fill="#1e1e1e">ex</tspan></text>
<text transform="translate(102.85,502.27) scale(1,1.06)" text-anchor="end" fill="#383838" style="font-size:9.4px">I_nLC_<tspan font-weight="bold" fill="#1e1e1e">ex</tspan></text>
<text transform="translate(102.80,513.06) scale(1,1.06)" text-anchor="end" fill="#383838" style="font-size:9.4px">D_Vanq_<tspan font-weight="bold" fill="#1e1e1e">ex</tspan></text>
<text transform="translate(102.75,523.85) scale(1,1.06)" text-anchor="end" fill="#383838" style="font-size:9.4px">E_Vanq_<tspan font-weight="bold" fill="#1e1e1e">ex</tspan></text>
<text transform="translate(102.70,534.64) scale(1,1.06)" text-anchor="end" fill="#383838" style="font-size:9.4px">A_ulti_<tspan font-weight="bold" fill="#1e1e1e">ex</tspan></text>
<text transform="translate(102.65,545.43) scale(1,1.06)" text-anchor="end" fill="#383838" style="font-size:9.4px">G_ulti_<tspan font-weight="bold" fill="#1e1e1e">ex</tspan></text>
<text transform="translate(102.60,556.22) scale(1,1.06)" text-anchor="end" fill="#383838" style="font-size:9.4px">H_ulti_<tspan font-weight="bold" fill="#1e1e1e">ex</tspan></text>
<text transform="translate(102.55,567.01) scale(1,1.06)" text-anchor="end" fill="#383838" style="font-size:9.4px">L_ulti_<tspan font-weight="bold" fill="#1e1e1e">ex</tspan></text>
<text transform="translate(102.50,577.80) scale(1,1.06)" text-anchor="end" fill="#383838" style="font-size:9.4px">L_ulti_<tspan font-weight="bold" fill="#1e1e1e">ex</tspan>_FAIMS</text>
<text transform="translate(102.45,588.59) scale(1,1.06)" text-anchor="end" fill="#383838" style="font-size:9.4px">B_ulti_<tspan font-weight="bold" fill="#1e1e1e">HF</tspan></text>
<text transform="translate(102.40,599.38) scale(1,1.06)" text-anchor="end" fill="#383838" style="font-size:9.4px">B_ulti_<tspan font-weight="bold" fill="#1e1e1e">HFX</tspan></text>
<text transform="translate(102.35,610.17) scale(1,1.06)" text-anchor="end" fill="#383838" style="font-size:9.4px">E_ulti_<tspan font-weight="bold" fill="#1e1e1e">lumos</tspan></text>
<text transform="translate(102.30,620.96) scale(1,1.06)" text-anchor="end" fill="#383838" style="font-size:9.4px">L_nAcqu_<tspan font-weight="bold" fill="#1e1e1e">tTOF</tspan></text>
<text transform="translate(102.25,631.75) scale(1,1.06)" text-anchor="end" fill="#383838" style="font-size:9.4px">C_nE_<tspan font-weight="bold" fill="#1e1e1e">tTOF</tspan></text>
<text transform="translate(102.20,642.54) scale(1,1.06)" text-anchor="end" fill="#383838" style="font-size:9.4px">L_nE_<tspan font-weight="bold" fill="#1e1e1e">tTOF</tspan></text>
<text transform="translate(102.15,653.33) scale(1,1.06)" text-anchor="end" fill="#383838" style="font-size:9.4px">G_nLC_<tspan font-weight="bold" fill="#1e1e1e">tTOF</tspan></text>
<text transform="translate(102.10,664.12) scale(1,1.06)" text-anchor="end" fill="#383838" style="font-size:9.4px">J_nLC_<tspan font-weight="bold" fill="#1e1e1e">tTOF</tspan></text>
<text transform="translate(102.05,674.91) scale(1,1.06)" text-anchor="end" fill="#383838" style="font-size:9.4px">K_Mclass_<tspan font-weight="bold" fill="#1e1e1e">zTOF</tspan></text>
<text transform="translate(47.30,718.30) scale(1,0.96)" text-anchor="start" fill="#000" style="font-size:9.4px;font-weight:bold;" >PYE1 - yeast proteins</text>
<line x1="82.64" y1="727.7" x2="82.64" y2="840.4" stroke="#f1f1f1" stroke-width="0.6"/>
<line x1="124.36" y1="727.7" x2="124.36" y2="840.4" stroke="#f1f1f1" stroke-width="0.6"/>
<line x1="166.07" y1="727.7" x2="166.07" y2="840.4" stroke="#f1f1f1" stroke-width="0.6"/>
<line x1="207.79" y1="727.7" x2="207.79" y2="840.4" stroke="#f1f1f1" stroke-width="0.6"/>
<line x1="41.2" y1="837.45" x2="227.7" y2="837.45" stroke="#e9e9e9" stroke-width="0.75"/>
<line x1="41.2" y1="827.38" x2="227.7" y2="827.38" stroke="#f1f1f1" stroke-width="0.6"/>
<line x1="41.2" y1="817.30" x2="227.7" y2="817.30" stroke="#e9e9e9" stroke-width="0.75"/>
<line x1="41.2" y1="807.22" x2="227.7" y2="807.22" stroke="#f1f1f1" stroke-width="0.6"/>
<line x1="41.2" y1="797.15" x2="227.7" y2="797.15" stroke="#e9e9e9" stroke-width="0.75"/>
<line x1="41.2" y1="787.07" x2="227.7" y2="787.07" stroke="#f1f1f1" stroke-width="0.6"/>
<line x1="41.2" y1="777.00" x2="227.7" y2="777.00" stroke="#e9e9e9" stroke-width="0.75"/>
<line x1="41.2" y1="766.92" x2="227.7" y2="766.92" stroke="#f1f1f1" stroke-width="0.6"/>
<line x1="41.2" y1="756.85" x2="227.7" y2="756.85" stroke="#e9e9e9" stroke-width="0.75"/>
<line x1="41.2" y1="746.77" x2="227.7" y2="746.77" stroke="#f1f1f1" stroke-width="0.6"/>
<line x1="41.2" y1="736.70" x2="227.7" y2="736.70" stroke="#e9e9e9" stroke-width="0.75"/>
<line x1="61.78" y1="727.7" x2="61.78" y2="840.4" stroke="#e9e9e9" stroke-width="0.75"/>
<line x1="103.50" y1="727.7" x2="103.50" y2="840.4" stroke="#e9e9e9" stroke-width="0.75"/>
<line x1="145.22" y1="727.7" x2="145.22" y2="840.4" stroke="#e9e9e9" stroke-width="0.75"/>
<line x1="186.93" y1="727.7" x2="186.93" y2="840.4" stroke="#e9e9e9" stroke-width="0.75"/>
<text transform="translate(103.50,850.40) scale(1,1.06)" text-anchor="middle" fill="#383838" style="font-size:9.2px;" >1000</text>
<text transform="translate(186.93,850.40) scale(1,1.06)" text-anchor="middle" fill="#383838" style="font-size:9.2px;" >2000</text>
<text transform="translate(37.90,739.00) scale(1,1.06)" text-anchor="end" fill="#383838" style="font-size:9.2px;" >0.4</text>
<text transform="translate(37.90,779.30) scale(1,1.06)" text-anchor="end" fill="#383838" style="font-size:9.2px;" >0.2</text>
<text transform="translate(37.90,819.60) scale(1,1.06)" text-anchor="end" fill="#383838" style="font-size:9.2px;" >0.0</text>
<circle cx="50.50" cy="819.40" r="2.60" fill="#5D6FC0" fill-opacity="0.85"/>
<circle cx="71.40" cy="797.20" r="2.60" fill="#5D6FC0" fill-opacity="0.85"/>
<circle cx="83.30" cy="825.30" r="3.70" fill="#5D6FC0" fill-opacity="0.85"/>
<circle cx="83.30" cy="835.10" r="4.40" fill="#5D6FC0" fill-opacity="0.85"/>
<circle cx="90.40" cy="831.20" r="3.70" fill="#5D6FC0" fill-opacity="0.85"/>
<circle cx="103.10" cy="795.10" r="4.40" fill="#5D6FC0" fill-opacity="0.85"/>
<circle cx="132.90" cy="793.00" r="3.60" fill="#5D6FC0" fill-opacity="0.85"/>
<circle cx="145.60" cy="805.20" r="3.50" fill="#5D6FC0" fill-opacity="0.85"/>
<circle cx="146.50" cy="749.00" r="3.10" fill="#5D6FC0" fill-opacity="0.85"/>
<circle cx="176.80" cy="749.00" r="3.10" fill="#5D6FC0" fill-opacity="0.85"/>
<circle cx="168.60" cy="783.20" r="3.30" fill="#5D6FC0" fill-opacity="0.85"/>
<circle cx="173.90" cy="753.20" r="3.30" fill="#5D6FC0" fill-opacity="0.85"/>
<circle cx="191.80" cy="781.00" r="4.90" fill="#5D6FC0" fill-opacity="0.85"/>
<circle cx="207.10" cy="791.20" r="4.70" fill="#5D6FC0" fill-opacity="0.85"/>
<circle cx="49.30" cy="799.20" r="0.60" fill="#EEA963" fill-opacity="0.85"/>
<circle cx="120.40" cy="771.00" r="3.00" fill="#EEA963" fill-opacity="0.85"/>
<circle cx="124.10" cy="755.00" r="2.80" fill="#EEA963" fill-opacity="0.85"/>
<circle cx="152.10" cy="743.00" r="4.10" fill="#EEA963" fill-opacity="0.85"/>
<circle cx="170.80" cy="761.10" r="2.00" fill="#EEA963" fill-opacity="0.85"/>
<circle cx="219.00" cy="733.00" r="2.60" fill="#EEA963" fill-opacity="0.85"/>
<line x1="50.7" y1="817.6" x2="219.0" y2="747.1" stroke="#111" stroke-width="0.95"/>
<text transform="translate(66.20,745.60) scale(1,1.06)" fill="#000" style="font-size:9.4px"><tspan font-style="italic">r</tspan> = 0.68</text>
<text transform="translate(134.45,862.60) scale(1,1.06)" text-anchor="middle" fill="#1a1a1a" style="font-size:9.4px">No. of identified proteins</text>
<text transform="translate(16.90,792.00) rotate(-90) scale(1,1.12)" text-anchor="middle" fill="#1a1a1a" style="font-size:9.4px">Deviation of expected Log<tspan dy="2.6" style="font-size:5.8px">2</tspan><tspan dy="-2.6">(A/B)</tspan></text>
<line x1="308.83" y1="727.7" x2="308.83" y2="840.4" stroke="#f1f1f1" stroke-width="0.6"/>
<line x1="363.29" y1="727.7" x2="363.29" y2="840.4" stroke="#f1f1f1" stroke-width="0.6"/>
<line x1="417.75" y1="727.7" x2="417.75" y2="840.4" stroke="#f1f1f1" stroke-width="0.6"/>
<line x1="268.6" y1="837.45" x2="454.8" y2="837.45" stroke="#e9e9e9" stroke-width="0.75"/>
<line x1="268.6" y1="827.38" x2="454.8" y2="827.38" stroke="#f1f1f1" stroke-width="0.6"/>
<line x1="268.6" y1="817.30" x2="454.8" y2="817.30" stroke="#e9e9e9" stroke-width="0.75"/>
<line x1="268.6" y1="807.22" x2="454.8" y2="807.22" stroke="#f1f1f1" stroke-width="0.6"/>
<line x1="268.6" y1="797.15" x2="454.8" y2="797.15" stroke="#e9e9e9" stroke-width="0.75"/>
<line x1="268.6" y1="787.07" x2="454.8" y2="787.07" stroke="#f1f1f1" stroke-width="0.6"/>
<line x1="268.6" y1="777.00" x2="454.8" y2="777.00" stroke="#e9e9e9" stroke-width="0.75"/>
<line x1="268.6" y1="766.92" x2="454.8" y2="766.92" stroke="#f1f1f1" stroke-width="0.6"/>
<line x1="268.6" y1="756.85" x2="454.8" y2="756.85" stroke="#e9e9e9" stroke-width="0.75"/>
<line x1="268.6" y1="746.77" x2="454.8" y2="746.77" stroke="#f1f1f1" stroke-width="0.6"/>
<line x1="268.6" y1="736.70" x2="454.8" y2="736.70" stroke="#e9e9e9" stroke-width="0.75"/>
<line x1="281.60" y1="727.7" x2="281.60" y2="840.4" stroke="#e9e9e9" stroke-width="0.75"/>
<line x1="336.06" y1="727.7" x2="336.06" y2="840.4" stroke="#e9e9e9" stroke-width="0.75"/>
<line x1="390.52" y1="727.7" x2="390.52" y2="840.4" stroke="#e9e9e9" stroke-width="0.75"/>
<line x1="444.98" y1="727.7" x2="444.98" y2="840.4" stroke="#e9e9e9" stroke-width="0.75"/>
<text transform="translate(281.60,850.40) scale(1,1.06)" text-anchor="middle" fill="#383838" style="font-size:9.2px;" >4</text>
<text transform="translate(336.06,850.40) scale(1,1.06)" text-anchor="middle" fill="#383838" style="font-size:9.2px;" >6</text>
<text transform="translate(390.52,850.40) scale(1,1.06)" text-anchor="middle" fill="#383838" style="font-size:9.2px;" >8</text>
<text transform="translate(444.98,850.40) scale(1,1.06)" text-anchor="middle" fill="#383838" style="font-size:9.2px;" >10</text>
<text transform="translate(265.30,739.00) scale(1,1.06)" text-anchor="end" fill="#383838" style="font-size:9.2px;" >0.4</text>
<text transform="translate(265.30,779.30) scale(1,1.06)" text-anchor="end" fill="#383838" style="font-size:9.2px;" >0.2</text>
<text transform="translate(265.30,819.60) scale(1,1.06)" text-anchor="end" fill="#383838" style="font-size:9.2px;" >0.0</text>
<circle cx="296.90" cy="819.40" r="2.60" fill="#5D6FC0" fill-opacity="0.85"/>
<circle cx="335.50" cy="797.20" r="2.60" fill="#5D6FC0" fill-opacity="0.85"/>
<circle cx="296.00" cy="825.30" r="3.70" fill="#5D6FC0" fill-opacity="0.85"/>
<circle cx="366.50" cy="835.10" r="4.40" fill="#5D6FC0" fill-opacity="0.85"/>
<circle cx="319.90" cy="831.20" r="3.70" fill="#5D6FC0" fill-opacity="0.85"/>
<circle cx="325.40" cy="795.10" r="4.40" fill="#5D6FC0" fill-opacity="0.85"/>
<circle cx="341.40" cy="793.00" r="3.60" fill="#5D6FC0" fill-opacity="0.85"/>
<circle cx="323.00" cy="805.20" r="3.50" fill="#5D6FC0" fill-opacity="0.85"/>
<circle cx="298.10" cy="749.00" r="3.10" fill="#5D6FC0" fill-opacity="0.85"/>
<circle cx="415.50" cy="749.00" r="3.10" fill="#5D6FC0" fill-opacity="0.85"/>
<circle cx="340.40" cy="783.20" r="3.30" fill="#5D6FC0" fill-opacity="0.85"/>
<circle cx="276.70" cy="753.20" r="3.30" fill="#5D6FC0" fill-opacity="0.85"/>
<circle cx="325.70" cy="781.00" r="4.90" fill="#5D6FC0" fill-opacity="0.85"/>
<circle cx="299.00" cy="791.20" r="4.70" fill="#5D6FC0" fill-opacity="0.85"/>
<circle cx="429.00" cy="799.20" r="0.60" fill="#EEA963" fill-opacity="0.85"/>
<circle cx="446.20" cy="771.00" r="3.00" fill="#EEA963" fill-opacity="0.85"/>
<circle cx="388.90" cy="755.00" r="2.80" fill="#EEA963" fill-opacity="0.85"/>
<circle cx="418.60" cy="743.00" r="4.10" fill="#EEA963" fill-opacity="0.85"/>
<circle cx="387.00" cy="761.10" r="2.00" fill="#EEA963" fill-opacity="0.85"/>
<circle cx="434.50" cy="733.00" r="2.60" fill="#EEA963" fill-opacity="0.85"/>
<line x1="276.7" y1="802.9" x2="446.2" y2="760.9" stroke="#111" stroke-width="0.95"/>
<text transform="translate(345.60,747.20) scale(1,1.06)" fill="#000" style="font-size:9.4px"><tspan font-style="italic">r</tspan> = 0.43</text>
<text transform="translate(361.70,862.60) scale(1,1.06)" text-anchor="middle" fill="#1a1a1a" style="font-size:9.4px">Median CV [%]</text>
<text transform="translate(246.40,792.00) rotate(-90) scale(1,1.12)" text-anchor="middle" fill="#1a1a1a" style="font-size:9.4px">Deviation of expected Log<tspan dy="2.6" style="font-size:5.8px">2</tspan><tspan dy="-2.6">(A/B)</tspan></text>
<line x1="531.26" y1="727.7" x2="531.26" y2="840.4" stroke="#f1f1f1" stroke-width="0.6"/>
<line x1="570.59" y1="727.7" x2="570.59" y2="840.4" stroke="#f1f1f1" stroke-width="0.6"/>
<line x1="609.91" y1="727.7" x2="609.91" y2="840.4" stroke="#f1f1f1" stroke-width="0.6"/>
<line x1="649.24" y1="727.7" x2="649.24" y2="840.4" stroke="#f1f1f1" stroke-width="0.6"/>
<line x1="496.5" y1="837.45" x2="679.8" y2="837.45" stroke="#e9e9e9" stroke-width="0.75"/>
<line x1="496.5" y1="827.38" x2="679.8" y2="827.38" stroke="#f1f1f1" stroke-width="0.6"/>
<line x1="496.5" y1="817.30" x2="679.8" y2="817.30" stroke="#e9e9e9" stroke-width="0.75"/>
<line x1="496.5" y1="807.22" x2="679.8" y2="807.22" stroke="#f1f1f1" stroke-width="0.6"/>
<line x1="496.5" y1="797.15" x2="679.8" y2="797.15" stroke="#e9e9e9" stroke-width="0.75"/>
<line x1="496.5" y1="787.07" x2="679.8" y2="787.07" stroke="#f1f1f1" stroke-width="0.6"/>
<line x1="496.5" y1="777.00" x2="679.8" y2="777.00" stroke="#e9e9e9" stroke-width="0.75"/>
<line x1="496.5" y1="766.92" x2="679.8" y2="766.92" stroke="#f1f1f1" stroke-width="0.6"/>
<line x1="496.5" y1="756.85" x2="679.8" y2="756.85" stroke="#e9e9e9" stroke-width="0.75"/>
<line x1="496.5" y1="746.77" x2="679.8" y2="746.77" stroke="#f1f1f1" stroke-width="0.6"/>
<line x1="496.5" y1="736.70" x2="679.8" y2="736.70" stroke="#e9e9e9" stroke-width="0.75"/>
<line x1="511.60" y1="727.7" x2="511.60" y2="840.4" stroke="#e9e9e9" stroke-width="0.75"/>
<line x1="550.93" y1="727.7" x2="550.93" y2="840.4" stroke="#e9e9e9" stroke-width="0.75"/>
<line x1="590.25" y1="727.7" x2="590.25" y2="840.4" stroke="#e9e9e9" stroke-width="0.75"/>
<line x1="629.58" y1="727.7" x2="629.58" y2="840.4" stroke="#e9e9e9" stroke-width="0.75"/>
<line x1="668.90" y1="727.7" x2="668.90" y2="840.4" stroke="#e9e9e9" stroke-width="0.75"/>
<text transform="translate(511.60,850.40) scale(1,1.06)" text-anchor="middle" fill="#383838" style="font-size:9.2px;" >1.5</text>
<text transform="translate(550.93,850.40) scale(1,1.06)" text-anchor="middle" fill="#383838" style="font-size:9.2px;" >2.0</text>
<text transform="translate(590.25,850.40) scale(1,1.06)" text-anchor="middle" fill="#383838" style="font-size:9.2px;" >2.5</text>
<text transform="translate(629.58,850.40) scale(1,1.06)" text-anchor="middle" fill="#383838" style="font-size:9.2px;" >3.0</text>
<text transform="translate(668.90,850.40) scale(1,1.06)" text-anchor="middle" fill="#383838" style="font-size:9.2px;" >3.5</text>
<text transform="translate(492.90,739.00) scale(1,1.06)" text-anchor="end" fill="#383838" style="font-size:9.2px;" >0.4</text>
<text transform="translate(492.90,779.30) scale(1,1.06)" text-anchor="end" fill="#383838" style="font-size:9.2px;" >0.2</text>
<text transform="translate(492.90,819.60) scale(1,1.06)" text-anchor="end" fill="#383838" style="font-size:9.2px;" >0.0</text>
<circle cx="638.40" cy="819.40" r="2.60" fill="#5D6FC0" fill-opacity="0.85"/>
<circle cx="646.10" cy="797.20" r="2.60" fill="#5D6FC0" fill-opacity="0.85"/>
<circle cx="635.90" cy="825.30" r="3.70" fill="#5D6FC0" fill-opacity="0.85"/>
<circle cx="643.30" cy="835.10" r="4.40" fill="#5D6FC0" fill-opacity="0.85"/>
<circle cx="639.00" cy="831.20" r="3.70" fill="#5D6FC0" fill-opacity="0.85"/>
<circle cx="575.20" cy="795.10" r="4.40" fill="#5D6FC0" fill-opacity="0.85"/>
<circle cx="585.70" cy="793.00" r="3.60" fill="#5D6FC0" fill-opacity="0.85"/>
<circle cx="561.50" cy="805.20" r="3.50" fill="#5D6FC0" fill-opacity="0.85"/>
<circle cx="566.70" cy="749.00" r="3.10" fill="#5D6FC0" fill-opacity="0.85"/>
<circle cx="504.70" cy="749.00" r="3.10" fill="#5D6FC0" fill-opacity="0.85"/>
<circle cx="525.30" cy="783.20" r="3.30" fill="#5D6FC0" fill-opacity="0.85"/>
<circle cx="580.20" cy="753.20" r="3.30" fill="#5D6FC0" fill-opacity="0.85"/>
<circle cx="590.30" cy="781.00" r="4.90" fill="#5D6FC0" fill-opacity="0.85"/>
<circle cx="561.50" cy="791.20" r="4.70" fill="#5D6FC0" fill-opacity="0.85"/>
<circle cx="609.00" cy="799.20" r="0.60" fill="#EEA963" fill-opacity="0.85"/>
<circle cx="528.30" cy="771.00" r="3.00" fill="#EEA963" fill-opacity="0.85"/>
<circle cx="562.70" cy="755.00" r="2.80" fill="#EEA963" fill-opacity="0.85"/>
<circle cx="674.60" cy="743.00" r="4.10" fill="#EEA963" fill-opacity="0.85"/>
<circle cx="580.20" cy="761.10" r="2.00" fill="#EEA963" fill-opacity="0.85"/>
<circle cx="557.80" cy="733.00" r="2.60" fill="#EEA963" fill-opacity="0.85"/>
<line x1="504.7" y1="756.6" x2="674.6" y2="810.8" stroke="#111" stroke-width="0.95"/>
<text transform="translate(603.80,747.20) scale(1,1.06)" fill="#000" style="font-size:9.4px"><tspan font-style="italic">r</tspan> = −0.48</text>
<text transform="translate(588.15,862.60) scale(1,1.06)" text-anchor="middle" fill="#1a1a1a" style="font-size:9.4px">Mean no. of data points at FWHM</text>
<text transform="translate(474.20,792.00) rotate(-90) scale(1,1.12)" text-anchor="middle" fill="#1a1a1a" style="font-size:9.4px">Deviation of expected Log<tspan dy="2.6" style="font-size:5.8px">2</tspan><tspan dy="-2.6">(A/B)</tspan></text>
<line x1="496.5" y1="727.5" x2="679.8" y2="727.5" stroke="#f1f1f1" stroke-width="0.6"/>
<text transform="translate(7.40,792.00) rotate(-90) scale(1,1.1)" text-anchor="middle" fill="#000" style="font-size:9.2px;font-weight:bold">Median accuracy</text>
<rect x="32.6" y="870.8" width="331.8" height="32.2" fill="none" stroke="#8c8c8c" stroke-width="0.7"/>
<text transform="translate(59.70,881.80) scale(1,1.06)" text-anchor="start" fill="#1a1a1a" style="font-size:9.45px;" >Gradient length [min]</text>
<circle cx="39.9" cy="896" r="0.6" fill="#222"/>
<text transform="translate(44.30,899.40) scale(1,1.06)" text-anchor="start" fill="#1a1a1a" style="font-size:9.45px;" >11</text>
<circle cx="65.4" cy="896" r="3.0" fill="#222"/>
<text transform="translate(71.80,899.40) scale(1,1.06)" text-anchor="start" fill="#1a1a1a" style="font-size:9.45px;" >44</text>
<circle cx="93.7" cy="896" r="3.5" fill="#222"/>
<text transform="translate(100.00,899.40) scale(1,1.06)" text-anchor="start" fill="#1a1a1a" style="font-size:9.45px;" >60</text>
<circle cx="120.5" cy="896" r="4.2" fill="#222"/>
<text transform="translate(128.90,899.40) scale(1,1.06)" text-anchor="start" fill="#1a1a1a" style="font-size:9.45px;" >90</text>
<circle cx="147.8" cy="896" r="5.0" fill="#222"/>
<text transform="translate(155.00,899.40) scale(1,1.06)" text-anchor="start" fill="#1a1a1a" style="font-size:9.45px;" >120</text>
<circle cx="198.1" cy="887.2" r="2.7" fill="#5D6FC0" fill-opacity="0.85"/>
<text transform="translate(204.60,890.60) scale(1,1.06)" text-anchor="start" fill="#1a1a1a" style="font-size:9.45px;" >Orbitrap analyzer</text>
<circle cx="293.9" cy="887.2" r="2.7" fill="#EEA963" fill-opacity="0.85"/>
<text transform="translate(300.50,890.60) scale(1,1.06)" text-anchor="start" fill="#1a1a1a" style="font-size:9.45px;" >TOF analyzer</text>
</svg>
</body></html>
